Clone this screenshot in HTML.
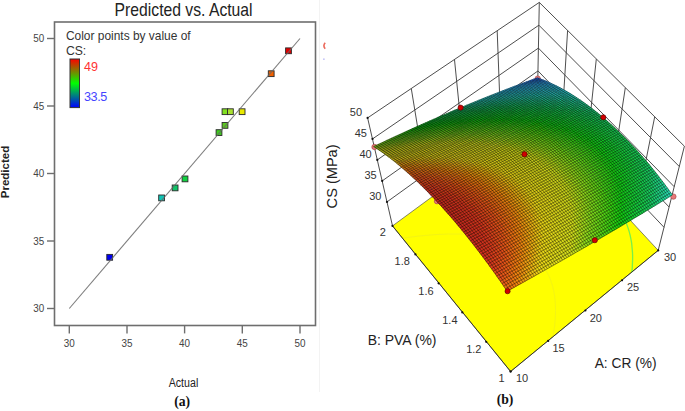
<!DOCTYPE html><html><head><meta charset="utf-8"><style>html,body{margin:0;padding:0;background:#fff;width:685px;height:411px;overflow:hidden;position:relative}</style></head><body><svg width="685" height="411" viewBox="0 0 685 411" style="position:absolute;left:0;top:0">
<line x1="319.5" y1="0" x2="319.5" y2="392" stroke="#f3f3f3" stroke-width="1"/>
<text x="114.6" y="16.4" font-family="Liberation Sans, sans-serif" font-size="18.6" fill="#222" textLength="138" lengthAdjust="spacingAndGlyphs">Predicted vs. Actual</text>
<rect x="54.5" y="22" width="261" height="303.5" fill="none" stroke="#6e6e6e" stroke-width="1.6"/>
<line x1="47" y1="308.5" x2="54.5" y2="308.5" stroke="#6e6e6e" stroke-width="1.4"/>
<text x="44.3" y="312.3" font-family="Liberation Sans, sans-serif" font-size="10.8" fill="#444" text-anchor="end" textLength="11" lengthAdjust="spacingAndGlyphs">30</text>
<line x1="47" y1="241.0" x2="54.5" y2="241.0" stroke="#6e6e6e" stroke-width="1.4"/>
<text x="44.3" y="244.8" font-family="Liberation Sans, sans-serif" font-size="10.8" fill="#444" text-anchor="end" textLength="11" lengthAdjust="spacingAndGlyphs">35</text>
<line x1="47" y1="173.5" x2="54.5" y2="173.5" stroke="#6e6e6e" stroke-width="1.4"/>
<text x="44.3" y="177.3" font-family="Liberation Sans, sans-serif" font-size="10.8" fill="#444" text-anchor="end" textLength="11" lengthAdjust="spacingAndGlyphs">40</text>
<line x1="47" y1="106.0" x2="54.5" y2="106.0" stroke="#6e6e6e" stroke-width="1.4"/>
<text x="44.3" y="109.8" font-family="Liberation Sans, sans-serif" font-size="10.8" fill="#444" text-anchor="end" textLength="11" lengthAdjust="spacingAndGlyphs">45</text>
<line x1="47" y1="38.5" x2="54.5" y2="38.5" stroke="#6e6e6e" stroke-width="1.4"/>
<text x="44.3" y="42.3" font-family="Liberation Sans, sans-serif" font-size="10.8" fill="#444" text-anchor="end" textLength="11" lengthAdjust="spacingAndGlyphs">50</text>
<line x1="69.3" y1="325.5" x2="69.3" y2="333.4" stroke="#6e6e6e" stroke-width="1.4"/>
<text x="69.3" y="346.6" font-family="Liberation Sans, sans-serif" font-size="11.4" fill="#444" text-anchor="middle" textLength="11" lengthAdjust="spacingAndGlyphs">30</text>
<line x1="127.0" y1="325.5" x2="127.0" y2="333.4" stroke="#6e6e6e" stroke-width="1.4"/>
<text x="127.0" y="346.6" font-family="Liberation Sans, sans-serif" font-size="11.4" fill="#444" text-anchor="middle" textLength="11" lengthAdjust="spacingAndGlyphs">35</text>
<line x1="184.6" y1="325.5" x2="184.6" y2="333.4" stroke="#6e6e6e" stroke-width="1.4"/>
<text x="184.6" y="346.6" font-family="Liberation Sans, sans-serif" font-size="11.4" fill="#444" text-anchor="middle" textLength="11" lengthAdjust="spacingAndGlyphs">40</text>
<line x1="242.3" y1="325.5" x2="242.3" y2="333.4" stroke="#6e6e6e" stroke-width="1.4"/>
<text x="242.3" y="346.6" font-family="Liberation Sans, sans-serif" font-size="11.4" fill="#444" text-anchor="middle" textLength="11" lengthAdjust="spacingAndGlyphs">45</text>
<line x1="300.0" y1="325.5" x2="300.0" y2="333.4" stroke="#6e6e6e" stroke-width="1.4"/>
<text x="300.0" y="346.6" font-family="Liberation Sans, sans-serif" font-size="11.4" fill="#444" text-anchor="middle" textLength="11" lengthAdjust="spacingAndGlyphs">50</text>
<rect x="106.8" y="254.4" width="5.8" height="5.8" fill="#0000f0" stroke="#2a2a2a" stroke-width="0.9"/>
<rect x="158.7" y="195.0" width="5.8" height="5.8" fill="#10c4b4" stroke="#2a2a2a" stroke-width="0.9"/>
<rect x="172.2" y="185.0" width="5.8" height="5.8" fill="#10c468" stroke="#2a2a2a" stroke-width="0.9"/>
<rect x="182.1" y="176.0" width="5.8" height="5.8" fill="#10d040" stroke="#2a2a2a" stroke-width="0.9"/>
<rect x="216.1" y="129.7" width="5.8" height="5.8" fill="#40c820" stroke="#2a2a2a" stroke-width="0.9"/>
<rect x="222.1" y="122.5" width="5.8" height="5.8" fill="#5cc820" stroke="#2a2a2a" stroke-width="0.9"/>
<rect x="222.1" y="108.8" width="5.8" height="5.8" fill="#80e020" stroke="#2a2a2a" stroke-width="0.9"/>
<rect x="227.5" y="108.8" width="5.8" height="5.8" fill="#a8e030" stroke="#2a2a2a" stroke-width="0.9"/>
<rect x="239.2" y="108.8" width="5.8" height="5.8" fill="#e8e800" stroke="#2a2a2a" stroke-width="0.9"/>
<rect x="268.3" y="70.8" width="5.8" height="5.8" fill="#f06000" stroke="#2a2a2a" stroke-width="0.9"/>
<rect x="285.6" y="47.9" width="5.8" height="5.8" fill="#e00000" stroke="#2a2a2a" stroke-width="0.9"/>
<line x1="69.3" y1="308.5" x2="300.0" y2="38.5" stroke="#666" stroke-width="1.1" stroke-opacity="0.85"/>
<text x="65.9" y="39.6" font-family="Liberation Sans, sans-serif" font-size="12.2" fill="#333" textLength="124.8" lengthAdjust="spacingAndGlyphs">Color points by value of</text>
<text x="65.9" y="54.8" font-family="Liberation Sans, sans-serif" font-size="12.2" fill="#333">CS:</text>
<defs><linearGradient id="lg" x1="0" y1="0" x2="0" y2="1"><stop offset="0" stop-color="#ff0000"/><stop offset="0.5" stop-color="#00ff00"/><stop offset="1" stop-color="#0000ff"/></linearGradient></defs>
<rect x="70" y="59" width="9.5" height="48.6" fill="url(#lg)" stroke="#333" stroke-width="1"/>
<text x="83.9" y="70.6" font-family="Liberation Sans, sans-serif" font-size="12.6" fill="#ff3333">49</text>
<text x="83.9" y="100.6" font-family="Liberation Sans, sans-serif" font-size="12.6" fill="#4444ff" textLength="23.4">33.5</text>
<text x="168.7" y="387.2" font-family="Liberation Sans, sans-serif" font-size="12.5" fill="#222" textLength="29.6" lengthAdjust="spacingAndGlyphs">Actual</text>
<text transform="translate(8.8,198.2) rotate(-90)" x="0" y="0" font-family="Liberation Sans, sans-serif" font-size="11.4" font-weight="bold" fill="#222" textLength="52.4" lengthAdjust="spacingAndGlyphs">Predicted</text>
<text x="182.2" y="405.6" font-family="Liberation Serif, serif" font-size="13.7" font-weight="bold" fill="#111" text-anchor="middle">(a)</text>
<path d="M325.2,42.8 Q322.6,45.6 325.2,48.8" fill="none" stroke="#e85040" stroke-width="1.6" opacity="0.85"/><rect x="323.2" y="58.4" width="1.4" height="1.6" fill="#9090f0" opacity="0.6"/>
<polygon points="510.6,371.5 658.2,250.4 537.0,119.7 392.5,225.9" fill="#ffff00" stroke="#333" stroke-width="0.6"/>
<polyline points="631.9,272.2 632.1,269.6 632.3,267.0 632.4,264.5 632.5,262.0 632.6,259.6 632.6,257.2 632.6,254.9 632.5,252.6 632.3,250.3 632.1,248.1 631.9,245.9 631.7,243.7 631.4,241.6 631.0,239.5 630.6,237.5 630.2,235.5 629.7,233.6 629.2,231.6 628.6,229.7 628.0,227.9 627.4,226.1 626.7,224.3 626.0,222.6 625.2,220.8 624.4,219.2 623.5,217.5 622.6,215.9 621.7,214.4 620.7,212.9 619.7,211.3 618.7,209.9 617.6,208.5 616.4,207.1 615.3,205.7 614.1,204.4 612.8,203.1 611.5,201.8 610.2,200.6 608.8,199.4 607.4,198.2 606.0,197.0 604.5,195.9 603.0,194.9 601.4,193.8 599.8,192.8 598.2,191.8 596.5,190.9 594.8,190.0 593.1,189.1 591.3,188.2 589.4,187.4 587.6,186.6 585.6,185.9 583.7,185.1 581.7,184.4 579.7,183.8 577.6,183.1 575.5,182.5 573.4,181.9 571.2,181.4 569.0,180.9 566.7,180.4 564.4,179.9 562.0,179.5 559.7,179.1 557.3,178.7 554.8,178.4 552.3,178.1 549.7,177.8 547.1,177.6 544.5,177.4 541.8,177.2 539.1,177.0 536.4,176.9 533.6,176.8 530.7,176.8 527.9,176.7 524.9,176.7 522.0,176.7 519.0,176.8 515.9,176.9 512.8,177.0 509.7,177.2 506.5,177.4 503.2,177.6 500.0,177.8 496.6,178.1 493.3,178.4 489.9,178.7 486.4,179.1 482.9,179.5 479.3,180.0 475.7,180.4 472.0,180.9 468.3,181.5 464.6,182.1 460.7,182.7 456.9,183.3 453.0,184.0 449.0,184.7" fill="none" stroke="#78f048" stroke-width="1.3"/>
<polyline points="552.8,337.1 553.3,334.3 553.8,331.4 554.2,328.7 554.6,325.9 554.8,323.3 555.1,320.6 555.3,318.0 555.4,315.5 555.5,313.0 555.5,310.5 555.5,308.1 555.4,305.8 555.3,303.4 555.2,301.2 554.9,298.9 554.7,296.7 554.4,294.6 554.0,292.5 553.6,290.4 553.1,288.4 552.6,286.4 552.1,284.5 551.4,282.6 550.8,280.7 550.1,278.9 549.4,277.1 548.6,275.4 547.7,273.7 546.9,272.0 545.9,270.4 545.0,268.8 543.9,267.2 542.9,265.7 541.8,264.3 540.6,262.8 539.4,261.4 538.2,260.0 536.9,258.7 535.6,257.4 534.2,256.2 532.8,254.9 531.3,253.7 529.8,252.6 528.3,251.5 526.7,250.4 525.0,249.3 523.4,248.3 521.6,247.4 519.9,246.4 518.0,245.5 516.2,244.6 514.3,243.8 512.3,243.0 510.3,242.2 508.3,241.5 506.2,240.8 504.1,240.1 501.9,239.5 499.7,238.9 497.5,238.3 495.2,237.8 492.8,237.3 490.4,236.9 488.0,236.4 485.5,236.0 482.9,235.7 480.4,235.3 477.7,235.1 475.1,234.8 472.3,234.6 469.6,234.4 466.8,234.2 463.9,234.1 461.0,234.0 458.0,234.0 455.0,234.0 452.0,234.0 448.9,234.0 445.7,234.1 442.5,234.3 439.2,234.4 435.9,234.6 432.5,234.8 429.1,235.1 425.7,235.4 422.1,235.8 418.6,236.1 414.9,236.5 411.2,237.0 407.5,237.5 403.7,238.0" fill="none" stroke="#f4f414" stroke-width="1.0"/>
<polyline points="387.0,201.9 537.5,93.7 664.0,227.3" stroke="#3a3a3a" stroke-width="0.9" fill="none"/>
<polyline points="382.2,180.9 538.0,70.9 669.1,207.0" stroke="#3a3a3a" stroke-width="0.9" fill="none"/>
<polyline points="377.3,159.9 538.4,48.1 674.2,186.7" stroke="#3a3a3a" stroke-width="0.9" fill="none"/>
<polyline points="372.5,138.9 538.9,25.2 679.3,166.5" stroke="#3a3a3a" stroke-width="0.9" fill="none"/>
<polyline points="367.6,117.9 539.3,2.4 684.4,146.2" stroke="#3a3a3a" stroke-width="0.9" fill="none"/>
<line x1="392.5" y1="225.9" x2="367.6" y2="117.9" stroke="#3a3a3a" stroke-width="0.9" fill="none"/>
<line x1="425.4" y1="174.5" x2="411.3" y2="88.7" stroke="#3a3a3a" stroke-width="0.9" fill="none"/>
<line x1="463.3" y1="147.4" x2="454.5" y2="59.7" stroke="#3a3a3a" stroke-width="0.9" fill="none"/>
<line x1="500.6" y1="120.4" x2="497.2" y2="31.0" stroke="#3a3a3a" stroke-width="0.9" fill="none"/>
<line x1="537.0" y1="119.7" x2="539.3" y2="2.4" stroke="#3a3a3a" stroke-width="0.9" fill="none"/>
<line x1="658.2" y1="250.4" x2="684.4" y2="146.2" stroke="#3a3a3a" stroke-width="0.9" fill="none"/>
<line x1="638.0" y1="200.0" x2="654.7" y2="116.9" stroke="#3a3a3a" stroke-width="0.9" fill="none"/>
<line x1="612.3" y1="173.0" x2="625.3" y2="87.8" stroke="#3a3a3a" stroke-width="0.9" fill="none"/>
<line x1="587.0" y1="146.3" x2="596.3" y2="59.1" stroke="#3a3a3a" stroke-width="0.9" fill="none"/>
<line x1="562.1" y1="119.9" x2="567.6" y2="30.6" stroke="#3a3a3a" stroke-width="0.9" fill="none"/>
<circle cx="374.5" cy="147.0" r="2.7" fill="#e87878" stroke="#a04040" stroke-width="0.6"/>
<circle cx="537.7" cy="78.6" r="2.7" fill="#e87878" stroke="#a04040" stroke-width="0.6"/>
<circle cx="673.4" cy="196.6" r="2.7" fill="#e87878" stroke="#a04040" stroke-width="0.6"/>
<circle cx="437.0" cy="201.2" r="2.7" fill="#e87878" stroke="#a04040" stroke-width="0.6"/>
<path d="M536.8,80.4L540.6,79.0 537.4,77.8 533.6,79.2Z" fill="#2d72f9" stroke="#2d72f9" stroke-width="0.5"/>
<path d="M540.0,81.6L543.8,80.2 540.6,79.0 536.8,80.4Z" fill="#2f84f6" stroke="#2f84f6" stroke-width="0.5"/>
<path d="M543.2,83.0L547.0,81.5 543.8,80.2 540.0,81.6Z" fill="#2f97f6" stroke="#2f97f6" stroke-width="0.5"/>
<path d="M546.5,84.4L550.3,83.0 547.0,81.5 543.2,83.0Z" fill="#32a8f4" stroke="#32a8f4" stroke-width="0.5"/>
<path d="M549.8,86.0L553.6,84.5 550.3,83.0 546.5,84.4Z" fill="#33b6f1" stroke="#33b6f1" stroke-width="0.5"/>
<path d="M553.1,87.6L556.9,86.1 553.6,84.5 549.8,86.0Z" fill="#30b9e5" stroke="#30b9e5" stroke-width="0.5"/>
<path d="M556.4,89.4L560.2,87.8 556.9,86.1 553.1,87.6Z" fill="#2dbcdb" stroke="#2dbcdb" stroke-width="0.5"/>
<path d="M559.7,91.2L563.5,89.7 560.2,87.8 556.4,89.4Z" fill="#2cbfd1" stroke="#2cbfd1" stroke-width="0.5"/>
<path d="M563.1,93.2L566.9,91.6 563.5,89.7 559.7,91.2Z" fill="#2ac1c8" stroke="#2ac1c8" stroke-width="0.5"/>
<path d="M566.5,95.2L570.3,93.6 566.9,91.6 563.1,93.2Z" fill="#28c4c0" stroke="#28c4c0" stroke-width="0.5"/>
<path d="M569.8,97.3L573.6,95.7 570.3,93.6 566.5,95.2Z" fill="#27c6b8" stroke="#27c6b8" stroke-width="0.5"/>
<path d="M573.2,99.5L577.0,97.9 573.6,95.7 569.8,97.3Z" fill="#24c3a8" stroke="#24c3a8" stroke-width="0.5"/>
<path d="M576.6,101.9L580.5,100.2 577.0,97.9 573.2,99.5Z" fill="#21c19a" stroke="#21c19a" stroke-width="0.5"/>
<path d="M580.1,104.3L583.9,102.6 580.5,100.2 576.6,101.9Z" fill="#1fbf8d" stroke="#1fbf8d" stroke-width="0.5"/>
<path d="M583.5,106.8L587.3,105.1 583.9,102.6 580.1,104.3Z" fill="#1dbd81" stroke="#1dbd81" stroke-width="0.5"/>
<path d="M586.9,109.4L590.7,107.6 587.3,105.1 583.5,106.8Z" fill="#1abb76" stroke="#1abb76" stroke-width="0.5"/>
<path d="M590.4,112.1L594.2,110.3 590.7,107.6 586.9,109.4Z" fill="#19b96c" stroke="#19b96c" stroke-width="0.5"/>
<path d="M593.8,114.8L597.6,113.0 594.2,110.3 590.4,112.1Z" fill="#17b963" stroke="#17b963" stroke-width="0.5"/>
<path d="M597.3,117.7L601.1,115.9 597.6,113.0 593.8,114.8Z" fill="#16b75b" stroke="#16b75b" stroke-width="0.5"/>
<path d="M600.7,120.7L604.5,118.8 601.1,115.9 597.3,117.7Z" fill="#15b755" stroke="#15b755" stroke-width="0.5"/>
<path d="M604.2,123.7L608.0,121.8 604.5,118.8 600.7,120.7Z" fill="#15b850" stroke="#15b850" stroke-width="0.5"/>
<path d="M607.7,126.8L611.5,124.9 608.0,121.8 604.2,123.7Z" fill="#15b94d" stroke="#15b94d" stroke-width="0.5"/>
<path d="M611.1,130.0L614.9,128.1 611.5,124.9 607.7,126.8Z" fill="#14ba4b" stroke="#14ba4b" stroke-width="0.5"/>
<path d="M614.6,133.3L618.4,131.4 614.9,128.1 611.1,130.0Z" fill="#14bb4a" stroke="#14bb4a" stroke-width="0.5"/>
<path d="M618.1,136.7L621.8,134.8 618.4,131.4 614.6,133.3Z" fill="#14bc49" stroke="#14bc49" stroke-width="0.5"/>
<path d="M621.5,140.2L625.3,138.2 621.8,134.8 618.1,136.7Z" fill="#14bd48" stroke="#14bd48" stroke-width="0.5"/>
<path d="M625.0,143.7L628.7,141.7 625.3,138.2 621.5,140.2Z" fill="#14be49" stroke="#14be49" stroke-width="0.5"/>
<path d="M628.4,147.4L632.2,145.4 628.7,141.7 625.0,143.7Z" fill="#14bf4b" stroke="#14bf4b" stroke-width="0.5"/>
<path d="M631.8,151.1L635.6,149.1 632.2,145.4 628.4,147.4Z" fill="#14c14c" stroke="#14c14c" stroke-width="0.5"/>
<path d="M635.2,154.9L639.0,152.8 635.6,149.1 631.8,151.1Z" fill="#15c24e" stroke="#15c24e" stroke-width="0.5"/>
<path d="M638.7,158.8L642.4,156.7 639.0,152.8 635.2,154.9Z" fill="#16c351" stroke="#16c351" stroke-width="0.5"/>
<path d="M642.1,162.7L645.8,160.6 642.4,156.7 638.7,158.8Z" fill="#16c556" stroke="#16c556" stroke-width="0.5"/>
<path d="M645.4,166.8L649.2,164.6 645.8,160.6 642.1,162.7Z" fill="#16c65b" stroke="#16c65b" stroke-width="0.5"/>
<path d="M648.8,170.9L652.5,168.7 649.2,164.6 645.4,166.8Z" fill="#18c963" stroke="#18c963" stroke-width="0.5"/>
<path d="M652.2,175.1L655.9,172.9 652.5,168.7 648.8,170.9Z" fill="#19cd6e" stroke="#19cd6e" stroke-width="0.5"/>
<path d="M655.5,179.4L659.2,177.2 655.9,172.9 652.2,175.1Z" fill="#1cd079" stroke="#1cd079" stroke-width="0.5"/>
<path d="M658.8,183.7L662.5,181.5 659.2,177.2 655.5,179.4Z" fill="#1ed485" stroke="#1ed485" stroke-width="0.5"/>
<path d="M662.1,188.1L665.8,185.9 662.5,181.5 658.8,183.7Z" fill="#21d793" stroke="#21d793" stroke-width="0.5"/>
<path d="M665.4,192.6L669.1,190.4 665.8,185.9 662.1,188.1Z" fill="#24dba2" stroke="#24dba2" stroke-width="0.5"/>
<path d="M668.7,197.2L672.4,194.9 669.1,190.4 665.4,192.6Z" fill="#27e1b3" stroke="#27e1b3" stroke-width="0.5"/>
<path d="M533.0,81.8L536.8,80.4 533.6,79.2 529.8,80.6Z" fill="#2e7df8" stroke="#2e7df8" stroke-width="0.5"/>
<path d="M536.2,83.0L540.0,81.6 536.8,80.4 533.0,81.8Z" fill="#3090f6" stroke="#3090f6" stroke-width="0.5"/>
<path d="M539.4,84.4L543.2,83.0 540.0,81.6 536.2,83.0Z" fill="#30a1f4" stroke="#30a1f4" stroke-width="0.5"/>
<path d="M542.7,85.9L546.5,84.4 543.2,83.0 539.4,84.4Z" fill="#33b2f3" stroke="#33b2f3" stroke-width="0.5"/>
<path d="M546.0,87.5L549.8,86.0 546.5,84.4 542.7,85.9Z" fill="#31b7e9" stroke="#31b7e9" stroke-width="0.5"/>
<path d="M549.3,89.1L553.1,87.6 549.8,86.0 546.0,87.5Z" fill="#2ebadd" stroke="#2ebadd" stroke-width="0.5"/>
<path d="M552.6,90.9L556.4,89.4 553.1,87.6 549.3,89.1Z" fill="#2cbdd3" stroke="#2cbdd3" stroke-width="0.5"/>
<path d="M555.9,92.8L559.7,91.2 556.4,89.4 552.6,90.9Z" fill="#2bbfca" stroke="#2bbfca" stroke-width="0.5"/>
<path d="M559.3,94.7L563.1,93.2 559.7,91.2 555.9,92.8Z" fill="#28c3c0" stroke="#28c3c0" stroke-width="0.5"/>
<path d="M562.6,96.8L566.5,95.2 563.1,93.2 559.3,94.7Z" fill="#27c5b8" stroke="#27c5b8" stroke-width="0.5"/>
<path d="M566.0,99.0L569.8,97.3 566.5,95.2 562.6,96.8Z" fill="#23c2a7" stroke="#23c2a7" stroke-width="0.5"/>
<path d="M569.4,101.2L573.2,99.5 569.8,97.3 566.0,99.0Z" fill="#21c099" stroke="#21c099" stroke-width="0.5"/>
<path d="M572.8,103.6L576.6,101.9 573.2,99.5 569.4,101.2Z" fill="#1fbc8b" stroke="#1fbc8b" stroke-width="0.5"/>
<path d="M576.2,106.0L580.1,104.3 576.6,101.9 572.8,103.6Z" fill="#1cbb7e" stroke="#1cbb7e" stroke-width="0.5"/>
<path d="M579.7,108.5L583.5,106.8 580.1,104.3 576.2,106.0Z" fill="#1ab972" stroke="#1ab972" stroke-width="0.5"/>
<path d="M583.1,111.1L586.9,109.4 583.5,106.8 579.7,108.5Z" fill="#18b767" stroke="#18b767" stroke-width="0.5"/>
<path d="M586.6,113.8L590.4,112.1 586.9,109.4 583.1,111.1Z" fill="#17b65d" stroke="#17b65d" stroke-width="0.5"/>
<path d="M590.0,116.6L593.8,114.8 590.4,112.1 586.6,113.8Z" fill="#14b554" stroke="#14b554" stroke-width="0.5"/>
<path d="M593.5,119.5L597.3,117.7 593.8,114.8 590.0,116.6Z" fill="#14b64e" stroke="#14b64e" stroke-width="0.5"/>
<path d="M596.9,122.5L600.7,120.7 597.3,117.7 593.5,119.5Z" fill="#13b64b" stroke="#13b64b" stroke-width="0.5"/>
<path d="M600.4,125.6L604.2,123.7 600.7,120.7 596.9,122.5Z" fill="#13b746" stroke="#13b746" stroke-width="0.5"/>
<path d="M603.9,128.7L607.7,126.8 604.2,123.7 600.4,125.6Z" fill="#13b844" stroke="#13b844" stroke-width="0.5"/>
<path d="M607.3,132.0L611.1,130.0 607.7,126.8 603.9,128.7Z" fill="#14bb42" stroke="#14bb42" stroke-width="0.5"/>
<path d="M610.8,135.3L614.6,133.3 611.1,130.0 607.3,132.0Z" fill="#14bc40" stroke="#14bc40" stroke-width="0.5"/>
<path d="M614.3,138.7L618.1,136.7 614.6,133.3 610.8,135.3Z" fill="#14bd3f" stroke="#14bd3f" stroke-width="0.5"/>
<path d="M617.7,142.2L621.5,140.2 618.1,136.7 614.3,138.7Z" fill="#14be3e" stroke="#14be3e" stroke-width="0.5"/>
<path d="M621.2,145.8L625.0,143.7 621.5,140.2 617.7,142.2Z" fill="#14bf3f" stroke="#14bf3f" stroke-width="0.5"/>
<path d="M624.6,149.4L628.4,147.4 625.0,143.7 621.2,145.8Z" fill="#14c040" stroke="#14c040" stroke-width="0.5"/>
<path d="M628.0,153.2L631.8,151.1 628.4,147.4 624.6,149.4Z" fill="#14c242" stroke="#14c242" stroke-width="0.5"/>
<path d="M631.5,157.0L635.2,154.9 631.8,151.1 628.0,153.2Z" fill="#14c345" stroke="#14c345" stroke-width="0.5"/>
<path d="M634.9,160.9L638.7,158.8 635.2,154.9 631.5,157.0Z" fill="#15c348" stroke="#15c348" stroke-width="0.5"/>
<path d="M638.3,164.9L642.1,162.7 638.7,158.8 634.9,160.9Z" fill="#15c44b" stroke="#15c44b" stroke-width="0.5"/>
<path d="M641.7,168.9L645.4,166.8 642.1,162.7 638.3,164.9Z" fill="#15c651" stroke="#15c651" stroke-width="0.5"/>
<path d="M645.1,173.1L648.8,170.9 645.4,166.8 641.7,168.9Z" fill="#16c756" stroke="#16c756" stroke-width="0.5"/>
<path d="M648.4,177.3L652.2,175.1 648.8,170.9 645.1,173.1Z" fill="#17c85d" stroke="#17c85d" stroke-width="0.5"/>
<path d="M651.8,181.6L655.5,179.4 652.2,175.1 648.4,177.3Z" fill="#19cd69" stroke="#19cd69" stroke-width="0.5"/>
<path d="M655.1,185.9L658.8,183.7 655.5,179.4 651.8,181.6Z" fill="#1bcf75" stroke="#1bcf75" stroke-width="0.5"/>
<path d="M658.4,190.4L662.1,188.1 658.8,183.7 655.1,185.9Z" fill="#1ed482" stroke="#1ed482" stroke-width="0.5"/>
<path d="M661.7,194.9L665.4,192.6 662.1,188.1 658.4,190.4Z" fill="#21d892" stroke="#21d892" stroke-width="0.5"/>
<path d="M665.0,199.5L668.7,197.2 665.4,192.6 661.7,194.9Z" fill="#24dda3" stroke="#24dda3" stroke-width="0.5"/>
<path d="M529.2,83.2L533.0,81.8 529.8,80.6 526.0,82.0Z" fill="#2f88f6" stroke="#2f88f6" stroke-width="0.5"/>
<path d="M532.4,84.5L536.2,83.0 533.0,81.8 529.2,83.2Z" fill="#319af5" stroke="#319af5" stroke-width="0.5"/>
<path d="M535.6,85.9L539.4,84.4 536.2,83.0 532.4,84.5Z" fill="#31acf3" stroke="#31acf3" stroke-width="0.5"/>
<path d="M538.8,87.4L542.7,85.9 539.4,84.4 535.6,85.9Z" fill="#31b6ed" stroke="#31b6ed" stroke-width="0.5"/>
<path d="M542.1,89.0L546.0,87.5 542.7,85.9 538.8,87.4Z" fill="#2eb9e1" stroke="#2eb9e1" stroke-width="0.5"/>
<path d="M545.4,90.7L549.3,89.1 546.0,87.5 542.1,89.0Z" fill="#2dbcd6" stroke="#2dbcd6" stroke-width="0.5"/>
<path d="M548.7,92.5L552.6,90.9 549.3,89.1 545.4,90.7Z" fill="#2bbfcb" stroke="#2bbfcb" stroke-width="0.5"/>
<path d="M552.1,94.4L555.9,92.8 552.6,90.9 548.7,92.5Z" fill="#29c1c2" stroke="#29c1c2" stroke-width="0.5"/>
<path d="M555.4,96.4L559.3,94.7 555.9,92.8 552.1,94.4Z" fill="#27c5ba" stroke="#27c5ba" stroke-width="0.5"/>
<path d="M558.8,98.4L562.6,96.8 559.3,94.7 555.4,96.4Z" fill="#25c1a9" stroke="#25c1a9" stroke-width="0.5"/>
<path d="M562.2,100.6L566.0,99.0 562.6,96.8 558.8,98.4Z" fill="#21bf99" stroke="#21bf99" stroke-width="0.5"/>
<path d="M565.6,102.9L569.4,101.2 566.0,99.0 562.2,100.6Z" fill="#1fbc8a" stroke="#1fbc8a" stroke-width="0.5"/>
<path d="M569.0,105.3L572.8,103.6 569.4,101.2 565.6,102.9Z" fill="#1cba7c" stroke="#1cba7c" stroke-width="0.5"/>
<path d="M572.4,107.7L576.2,106.0 572.8,103.6 569.0,105.3Z" fill="#1ab86f" stroke="#1ab86f" stroke-width="0.5"/>
<path d="M575.8,110.3L579.7,108.5 576.2,106.0 572.4,107.7Z" fill="#18b664" stroke="#18b664" stroke-width="0.5"/>
<path d="M579.3,112.9L583.1,111.1 579.7,108.5 575.8,110.3Z" fill="#15b458" stroke="#15b458" stroke-width="0.5"/>
<path d="M582.7,115.6L586.6,113.8 583.1,111.1 579.3,112.9Z" fill="#14b450" stroke="#14b450" stroke-width="0.5"/>
<path d="M586.2,118.5L590.0,116.6 586.6,113.8 582.7,115.6Z" fill="#13b44a" stroke="#13b44a" stroke-width="0.5"/>
<path d="M589.6,121.4L593.5,119.5 590.0,116.6 586.2,118.5Z" fill="#13b545" stroke="#13b545" stroke-width="0.5"/>
<path d="M593.1,124.4L596.9,122.5 593.5,119.5 589.6,121.4Z" fill="#13b741" stroke="#13b741" stroke-width="0.5"/>
<path d="M596.6,127.5L600.4,125.6 596.9,122.5 593.1,124.4Z" fill="#13b83d" stroke="#13b83d" stroke-width="0.5"/>
<path d="M600.0,130.6L603.9,128.7 600.4,125.6 596.6,127.5Z" fill="#12b93a" stroke="#12b93a" stroke-width="0.5"/>
<path d="M603.5,133.9L607.3,132.0 603.9,128.7 600.0,130.6Z" fill="#12ba38" stroke="#12ba38" stroke-width="0.5"/>
<path d="M607.0,137.2L610.8,135.3 607.3,132.0 603.5,133.9Z" fill="#12bb36" stroke="#12bb36" stroke-width="0.5"/>
<path d="M610.4,140.7L614.3,138.7 610.8,135.3 607.0,137.2Z" fill="#13bc35" stroke="#13bc35" stroke-width="0.5"/>
<path d="M613.9,144.2L617.7,142.2 614.3,138.7 610.4,140.7Z" fill="#13be35" stroke="#13be35" stroke-width="0.5"/>
<path d="M617.3,147.8L621.2,145.8 617.7,142.2 613.9,144.2Z" fill="#13bf35" stroke="#13bf35" stroke-width="0.5"/>
<path d="M620.8,151.5L624.6,149.4 621.2,145.8 617.3,147.8Z" fill="#13c036" stroke="#13c036" stroke-width="0.5"/>
<path d="M624.2,155.2L628.0,153.2 624.6,149.4 620.8,151.5Z" fill="#13c139" stroke="#13c139" stroke-width="0.5"/>
<path d="M627.7,159.1L631.5,157.0 628.0,153.2 624.2,155.2Z" fill="#13c33a" stroke="#13c33a" stroke-width="0.5"/>
<path d="M631.1,163.0L634.9,160.9 631.5,157.0 627.7,159.1Z" fill="#13c43d" stroke="#13c43d" stroke-width="0.5"/>
<path d="M634.5,167.0L638.3,164.9 634.9,160.9 631.1,163.0Z" fill="#15c542" stroke="#15c542" stroke-width="0.5"/>
<path d="M637.9,171.1L641.7,168.9 638.3,164.9 634.5,167.0Z" fill="#15c746" stroke="#15c746" stroke-width="0.5"/>
<path d="M641.3,175.2L645.1,173.1 641.7,168.9 637.9,171.1Z" fill="#15c74c" stroke="#15c74c" stroke-width="0.5"/>
<path d="M644.7,179.5L648.4,177.3 645.1,173.1 641.3,175.2Z" fill="#17c852" stroke="#17c852" stroke-width="0.5"/>
<path d="M648.0,183.8L651.8,181.6 648.4,177.3 644.7,179.5Z" fill="#17ca5a" stroke="#17ca5a" stroke-width="0.5"/>
<path d="M651.4,188.2L655.1,185.9 651.8,181.6 648.0,183.8Z" fill="#18cc64" stroke="#18cc64" stroke-width="0.5"/>
<path d="M654.7,192.6L658.4,190.4 655.1,185.9 651.4,188.2Z" fill="#1bd172" stroke="#1bd172" stroke-width="0.5"/>
<path d="M658.0,197.2L661.7,194.9 658.4,190.4 654.7,192.6Z" fill="#1ed581" stroke="#1ed581" stroke-width="0.5"/>
<path d="M661.2,201.8L665.0,199.5 661.7,194.9 658.0,197.2Z" fill="#21d992" stroke="#21d992" stroke-width="0.5"/>
<path d="M525.3,84.6L529.2,83.2 526.0,82.0 522.1,83.4Z" fill="#3092f6" stroke="#3092f6" stroke-width="0.5"/>
<path d="M528.5,86.0L532.4,84.5 529.2,83.2 525.3,84.6Z" fill="#32a4f4" stroke="#32a4f4" stroke-width="0.5"/>
<path d="M531.7,87.4L535.6,85.9 532.4,84.5 528.5,86.0Z" fill="#32b5f1" stroke="#32b5f1" stroke-width="0.5"/>
<path d="M535.0,88.9L538.8,87.4 535.6,85.9 531.7,87.4Z" fill="#30b8e4" stroke="#30b8e4" stroke-width="0.5"/>
<path d="M538.3,90.5L542.1,89.0 538.8,87.4 535.0,88.9Z" fill="#2dbbd9" stroke="#2dbbd9" stroke-width="0.5"/>
<path d="M541.6,92.2L545.4,90.7 542.1,89.0 538.3,90.5Z" fill="#2cbece" stroke="#2cbece" stroke-width="0.5"/>
<path d="M544.9,94.1L548.7,92.5 545.4,90.7 541.6,92.2Z" fill="#29c1c4" stroke="#29c1c4" stroke-width="0.5"/>
<path d="M548.2,96.0L552.1,94.4 548.7,92.5 544.9,94.1Z" fill="#27c3ba" stroke="#27c3ba" stroke-width="0.5"/>
<path d="M551.6,98.0L555.4,96.4 552.1,94.4 548.2,96.0Z" fill="#24c2ab" stroke="#24c2ab" stroke-width="0.5"/>
<path d="M554.9,100.1L558.8,98.4 555.4,96.4 551.6,98.0Z" fill="#21be9a" stroke="#21be9a" stroke-width="0.5"/>
<path d="M558.3,102.3L562.2,100.6 558.8,98.4 554.9,100.1Z" fill="#1ebb8a" stroke="#1ebb8a" stroke-width="0.5"/>
<path d="M561.7,104.6L565.6,102.9 562.2,100.6 558.3,102.3Z" fill="#1cb97a" stroke="#1cb97a" stroke-width="0.5"/>
<path d="M565.1,107.0L569.0,105.3 565.6,102.9 561.7,104.6Z" fill="#19b76e" stroke="#19b76e" stroke-width="0.5"/>
<path d="M568.5,109.5L572.4,107.7 569.0,105.3 565.1,107.0Z" fill="#16b461" stroke="#16b461" stroke-width="0.5"/>
<path d="M572.0,112.0L575.8,110.3 572.4,107.7 568.5,109.5Z" fill="#14b254" stroke="#14b254" stroke-width="0.5"/>
<path d="M575.4,114.7L579.3,112.9 575.8,110.3 572.0,112.0Z" fill="#14b24d" stroke="#14b24d" stroke-width="0.5"/>
<path d="M578.9,117.5L582.7,115.6 579.3,112.9 575.4,114.7Z" fill="#13b346" stroke="#13b346" stroke-width="0.5"/>
<path d="M582.3,120.3L586.2,118.5 582.7,115.6 578.9,117.5Z" fill="#13b541" stroke="#13b541" stroke-width="0.5"/>
<path d="M585.8,123.2L589.6,121.4 586.2,118.5 582.3,120.3Z" fill="#13b63c" stroke="#13b63c" stroke-width="0.5"/>
<path d="M589.2,126.3L593.1,124.4 589.6,121.4 585.8,123.2Z" fill="#12b738" stroke="#12b738" stroke-width="0.5"/>
<path d="M592.7,129.4L596.6,127.5 593.1,124.4 589.2,126.3Z" fill="#12b833" stroke="#12b833" stroke-width="0.5"/>
<path d="M596.2,132.6L600.0,130.6 596.6,127.5 592.7,129.4Z" fill="#12b931" stroke="#12b931" stroke-width="0.5"/>
<path d="M599.6,135.8L603.5,133.9 600.0,130.6 596.2,132.6Z" fill="#12ba2f" stroke="#12ba2f" stroke-width="0.5"/>
<path d="M603.1,139.2L607.0,137.2 603.5,133.9 599.6,135.8Z" fill="#12bb2d" stroke="#12bb2d" stroke-width="0.5"/>
<path d="M606.6,142.7L610.4,140.7 607.0,137.2 603.1,139.2Z" fill="#12bc2c" stroke="#12bc2c" stroke-width="0.5"/>
<path d="M610.1,146.2L613.9,144.2 610.4,140.7 606.6,142.7Z" fill="#13bd2b" stroke="#13bd2b" stroke-width="0.5"/>
<path d="M613.5,149.8L617.3,147.8 613.9,144.2 610.1,146.2Z" fill="#13be2b" stroke="#13be2b" stroke-width="0.5"/>
<path d="M617.0,153.5L620.8,151.5 617.3,147.8 613.5,149.8Z" fill="#13c02d" stroke="#13c02d" stroke-width="0.5"/>
<path d="M620.4,157.3L624.2,155.2 620.8,151.5 617.0,153.5Z" fill="#13c12e" stroke="#13c12e" stroke-width="0.5"/>
<path d="M623.9,161.2L627.7,159.1 624.2,155.2 620.4,157.3Z" fill="#13c231" stroke="#13c231" stroke-width="0.5"/>
<path d="M627.3,165.1L631.1,163.0 627.7,159.1 623.9,161.2Z" fill="#13c434" stroke="#13c434" stroke-width="0.5"/>
<path d="M630.7,169.1L634.5,167.0 631.1,163.0 627.3,165.1Z" fill="#13c537" stroke="#13c537" stroke-width="0.5"/>
<path d="M634.1,173.2L637.9,171.1 634.5,167.0 630.7,169.1Z" fill="#14c63d" stroke="#14c63d" stroke-width="0.5"/>
<path d="M637.5,177.4L641.3,175.2 637.9,171.1 634.1,173.2Z" fill="#15c841" stroke="#15c841" stroke-width="0.5"/>
<path d="M640.9,181.7L644.7,179.5 641.3,175.2 637.5,177.4Z" fill="#15c949" stroke="#15c949" stroke-width="0.5"/>
<path d="M644.2,186.0L648.0,183.8 644.7,179.5 640.9,181.7Z" fill="#15c950" stroke="#15c950" stroke-width="0.5"/>
<path d="M647.6,190.4L651.4,188.2 648.0,183.8 644.2,186.0Z" fill="#17cb57" stroke="#17cb57" stroke-width="0.5"/>
<path d="M650.9,194.9L654.7,192.6 651.4,188.2 647.6,190.4Z" fill="#18ce62" stroke="#18ce62" stroke-width="0.5"/>
<path d="M654.2,199.5L658.0,197.2 654.7,192.6 650.9,194.9Z" fill="#1ad270" stroke="#1ad270" stroke-width="0.5"/>
<path d="M657.5,204.1L661.2,201.8 658.0,197.2 654.2,199.5Z" fill="#1dd681" stroke="#1dd681" stroke-width="0.5"/>
<path d="M521.5,86.1L525.3,84.6 522.1,83.4 518.3,84.9Z" fill="#319ef5" stroke="#319ef5" stroke-width="0.5"/>
<path d="M524.7,87.4L528.5,86.0 525.3,84.6 521.5,86.1Z" fill="#31b0f3" stroke="#31b0f3" stroke-width="0.5"/>
<path d="M527.9,88.9L531.7,87.4 528.5,86.0 524.7,87.4Z" fill="#31b7ea" stroke="#31b7ea" stroke-width="0.5"/>
<path d="M531.1,90.4L535.0,88.9 531.7,87.4 527.9,88.9Z" fill="#2eb9dc" stroke="#2eb9dc" stroke-width="0.5"/>
<path d="M534.4,92.1L538.3,90.5 535.0,88.9 531.1,90.4Z" fill="#2cbcd0" stroke="#2cbcd0" stroke-width="0.5"/>
<path d="M537.7,93.8L541.6,92.2 538.3,90.5 534.4,92.1Z" fill="#29bfc6" stroke="#29bfc6" stroke-width="0.5"/>
<path d="M541.0,95.7L544.9,94.1 541.6,92.2 537.7,93.8Z" fill="#28c2bc" stroke="#28c2bc" stroke-width="0.5"/>
<path d="M544.3,97.6L548.2,96.0 544.9,94.1 541.0,95.7Z" fill="#25c1ae" stroke="#25c1ae" stroke-width="0.5"/>
<path d="M547.7,99.6L551.6,98.0 548.2,96.0 544.3,97.6Z" fill="#22bd9c" stroke="#22bd9c" stroke-width="0.5"/>
<path d="M551.0,101.8L554.9,100.1 551.6,98.0 547.7,99.6Z" fill="#1ebb8c" stroke="#1ebb8c" stroke-width="0.5"/>
<path d="M554.4,104.0L558.3,102.3 554.9,100.1 551.0,101.8Z" fill="#1cb87b" stroke="#1cb87b" stroke-width="0.5"/>
<path d="M557.8,106.3L561.7,104.6 558.3,102.3 554.4,104.0Z" fill="#19b66c" stroke="#19b66c" stroke-width="0.5"/>
<path d="M561.2,108.7L565.1,107.0 561.7,104.6 557.8,106.3Z" fill="#16b35f" stroke="#16b35f" stroke-width="0.5"/>
<path d="M564.6,111.2L568.5,109.5 565.1,107.0 561.2,108.7Z" fill="#14b152" stroke="#14b152" stroke-width="0.5"/>
<path d="M568.1,113.8L572.0,112.0 568.5,109.5 564.6,111.2Z" fill="#14b14a" stroke="#14b14a" stroke-width="0.5"/>
<path d="M571.5,116.5L575.4,114.7 572.0,112.0 568.1,113.8Z" fill="#13b243" stroke="#13b243" stroke-width="0.5"/>
<path d="M575.0,119.3L578.9,117.5 575.4,114.7 571.5,116.5Z" fill="#13b43d" stroke="#13b43d" stroke-width="0.5"/>
<path d="M578.4,122.1L582.3,120.3 578.9,117.5 575.0,119.3Z" fill="#12b537" stroke="#12b537" stroke-width="0.5"/>
<path d="M581.9,125.1L585.8,123.2 582.3,120.3 578.4,122.1Z" fill="#12b633" stroke="#12b633" stroke-width="0.5"/>
<path d="M585.4,128.1L589.2,126.3 585.8,123.2 581.9,125.1Z" fill="#12b62e" stroke="#12b62e" stroke-width="0.5"/>
<path d="M588.8,131.3L592.7,129.4 589.2,126.3 585.4,128.1Z" fill="#12b72b" stroke="#12b72b" stroke-width="0.5"/>
<path d="M592.3,134.5L596.2,132.6 592.7,129.4 588.8,131.3Z" fill="#11b827" stroke="#11b827" stroke-width="0.5"/>
<path d="M595.8,137.8L599.6,135.8 596.2,132.6 592.3,134.5Z" fill="#11ba25" stroke="#11ba25" stroke-width="0.5"/>
<path d="M599.3,141.2L603.1,139.2 599.6,135.8 595.8,137.8Z" fill="#11bb23" stroke="#11bb23" stroke-width="0.5"/>
<path d="M602.7,144.7L606.6,142.7 603.1,139.2 599.3,141.2Z" fill="#11bc22" stroke="#11bc22" stroke-width="0.5"/>
<path d="M606.2,148.2L610.1,146.2 606.6,142.7 602.7,144.7Z" fill="#11bd22" stroke="#11bd22" stroke-width="0.5"/>
<path d="M609.7,151.9L613.5,149.8 610.1,146.2 606.2,148.2Z" fill="#11be22" stroke="#11be22" stroke-width="0.5"/>
<path d="M613.1,155.6L617.0,153.5 613.5,149.8 609.7,151.9Z" fill="#12bf22" stroke="#12bf22" stroke-width="0.5"/>
<path d="M616.6,159.4L620.4,157.3 617.0,153.5 613.1,155.6Z" fill="#12c125" stroke="#12c125" stroke-width="0.5"/>
<path d="M620.0,163.3L623.9,161.2 620.4,157.3 616.6,159.4Z" fill="#12c227" stroke="#12c227" stroke-width="0.5"/>
<path d="M623.4,167.2L627.3,165.1 623.9,161.2 620.0,163.3Z" fill="#12c32a" stroke="#12c32a" stroke-width="0.5"/>
<path d="M626.9,171.3L630.7,169.1 627.3,165.1 623.4,167.2Z" fill="#13c52e" stroke="#13c52e" stroke-width="0.5"/>
<path d="M630.3,175.4L634.1,173.2 630.7,169.1 626.9,171.3Z" fill="#13c632" stroke="#13c632" stroke-width="0.5"/>
<path d="M633.7,179.6L637.5,177.4 634.1,173.2 630.3,175.4Z" fill="#14c738" stroke="#14c738" stroke-width="0.5"/>
<path d="M637.1,183.9L640.9,181.7 637.5,177.4 633.7,179.6Z" fill="#14c93e" stroke="#14c93e" stroke-width="0.5"/>
<path d="M640.4,188.2L644.2,186.0 640.9,181.7 637.1,183.9Z" fill="#15ca45" stroke="#15ca45" stroke-width="0.5"/>
<path d="M643.8,192.7L647.6,190.4 644.2,186.0 640.4,188.2Z" fill="#15ca4e" stroke="#15ca4e" stroke-width="0.5"/>
<path d="M647.1,197.2L650.9,194.9 647.6,190.4 643.8,192.7Z" fill="#17cc57" stroke="#17cc57" stroke-width="0.5"/>
<path d="M650.4,201.8L654.2,199.5 650.9,194.9 647.1,197.2Z" fill="#17cd61" stroke="#17cd61" stroke-width="0.5"/>
<path d="M653.7,206.4L657.5,204.1 654.2,199.5 650.4,201.8Z" fill="#1ad271" stroke="#1ad271" stroke-width="0.5"/>
<path d="M517.6,87.6L521.5,86.1 518.3,84.9 514.4,86.3Z" fill="#32a8f3" stroke="#32a8f3" stroke-width="0.5"/>
<path d="M520.8,88.9L524.7,87.4 521.5,86.1 517.6,87.6Z" fill="#32b6ef" stroke="#32b6ef" stroke-width="0.5"/>
<path d="M524.0,90.4L527.9,88.9 524.7,87.4 520.8,88.9Z" fill="#30b8e1" stroke="#30b8e1" stroke-width="0.5"/>
<path d="M527.2,92.0L531.1,90.4 527.9,88.9 524.0,90.4Z" fill="#2dbbd5" stroke="#2dbbd5" stroke-width="0.5"/>
<path d="M530.5,93.6L534.4,92.1 531.1,90.4 527.2,92.0Z" fill="#2abeca" stroke="#2abeca" stroke-width="0.5"/>
<path d="M533.8,95.4L537.7,93.8 534.4,92.1 530.5,93.6Z" fill="#28c1be" stroke="#28c1be" stroke-width="0.5"/>
<path d="M537.1,97.3L541.0,95.7 537.7,93.8 533.8,95.4Z" fill="#25c2b2" stroke="#25c2b2" stroke-width="0.5"/>
<path d="M540.4,99.2L544.3,97.6 541.0,95.7 537.1,97.3Z" fill="#22be9f" stroke="#22be9f" stroke-width="0.5"/>
<path d="M543.8,101.3L547.7,99.6 544.3,97.6 540.4,99.2Z" fill="#1fba8d" stroke="#1fba8d" stroke-width="0.5"/>
<path d="M547.1,103.4L551.0,101.8 547.7,99.6 543.8,101.3Z" fill="#1cb77d" stroke="#1cb77d" stroke-width="0.5"/>
<path d="M550.5,105.7L554.4,104.0 551.0,101.8 547.1,103.4Z" fill="#18b56d" stroke="#18b56d" stroke-width="0.5"/>
<path d="M553.9,108.0L557.8,106.3 554.4,104.0 550.5,105.7Z" fill="#16b25d" stroke="#16b25d" stroke-width="0.5"/>
<path d="M557.3,110.5L561.2,108.7 557.8,106.3 553.9,108.0Z" fill="#14b050" stroke="#14b050" stroke-width="0.5"/>
<path d="M560.7,113.0L564.6,111.2 561.2,108.7 557.3,110.5Z" fill="#13b048" stroke="#13b048" stroke-width="0.5"/>
<path d="M564.2,115.6L568.1,113.8 564.6,111.2 560.7,113.0Z" fill="#13b140" stroke="#13b140" stroke-width="0.5"/>
<path d="M567.6,118.3L571.5,116.5 568.1,113.8 564.2,115.6Z" fill="#13b33a" stroke="#13b33a" stroke-width="0.5"/>
<path d="M571.1,121.1L575.0,119.3 571.5,116.5 567.6,118.3Z" fill="#12b333" stroke="#12b333" stroke-width="0.5"/>
<path d="M574.5,124.0L578.4,122.1 575.0,119.3 571.1,121.1Z" fill="#12b42e" stroke="#12b42e" stroke-width="0.5"/>
<path d="M578.0,127.0L581.9,125.1 578.4,122.1 574.5,124.0Z" fill="#12b529" stroke="#12b529" stroke-width="0.5"/>
<path d="M581.5,130.0L585.4,128.1 581.9,125.1 578.0,127.0Z" fill="#11b625" stroke="#11b625" stroke-width="0.5"/>
<path d="M584.9,133.2L588.8,131.3 585.4,128.1 581.5,130.0Z" fill="#11b721" stroke="#11b721" stroke-width="0.5"/>
<path d="M588.4,136.4L592.3,134.5 588.8,131.3 584.9,133.2Z" fill="#11b91e" stroke="#11b91e" stroke-width="0.5"/>
<path d="M591.9,139.8L595.8,137.8 592.3,134.5 588.4,136.4Z" fill="#11ba1c" stroke="#11ba1c" stroke-width="0.5"/>
<path d="M595.4,143.2L599.3,141.2 595.8,137.8 591.9,139.8Z" fill="#11bc1a" stroke="#11bc1a" stroke-width="0.5"/>
<path d="M598.8,146.7L602.7,144.7 599.3,141.2 595.4,143.2Z" fill="#11bd19" stroke="#11bd19" stroke-width="0.5"/>
<path d="M602.3,150.3L606.2,148.2 602.7,144.7 598.8,146.7Z" fill="#10be18" stroke="#10be18" stroke-width="0.5"/>
<path d="M605.8,153.9L609.7,151.9 606.2,148.2 602.3,150.3Z" fill="#10bf19" stroke="#10bf19" stroke-width="0.5"/>
<path d="M609.2,157.7L613.1,155.6 609.7,151.9 605.8,153.9Z" fill="#11c019" stroke="#11c019" stroke-width="0.5"/>
<path d="M612.7,161.5L616.6,159.4 613.1,155.6 609.2,157.7Z" fill="#12c21b" stroke="#12c21b" stroke-width="0.5"/>
<path d="M616.1,165.4L620.0,163.3 616.6,159.4 612.7,161.5Z" fill="#12c31d" stroke="#12c31d" stroke-width="0.5"/>
<path d="M619.6,169.4L623.4,167.2 620.0,163.3 616.1,165.4Z" fill="#12c420" stroke="#12c420" stroke-width="0.5"/>
<path d="M623.0,173.4L626.9,171.3 623.4,167.2 619.6,169.4Z" fill="#12c424" stroke="#12c424" stroke-width="0.5"/>
<path d="M626.4,177.6L630.3,175.4 626.9,171.3 623.0,173.4Z" fill="#12c629" stroke="#12c629" stroke-width="0.5"/>
<path d="M629.8,181.8L633.7,179.6 630.3,175.4 626.4,177.6Z" fill="#14c72e" stroke="#14c72e" stroke-width="0.5"/>
<path d="M633.2,186.1L637.1,183.9 633.7,179.6 629.8,181.8Z" fill="#14c934" stroke="#14c934" stroke-width="0.5"/>
<path d="M636.6,190.5L640.4,188.2 637.1,183.9 633.2,186.1Z" fill="#14ca3b" stroke="#14ca3b" stroke-width="0.5"/>
<path d="M640.0,194.9L643.8,192.7 640.4,188.2 636.6,190.5Z" fill="#15cb43" stroke="#15cb43" stroke-width="0.5"/>
<path d="M643.3,199.5L647.1,197.2 643.8,192.7 640.0,194.9Z" fill="#16cc4b" stroke="#16cc4b" stroke-width="0.5"/>
<path d="M646.6,204.0L650.4,201.8 647.1,197.2 643.3,199.5Z" fill="#17cd56" stroke="#17cd56" stroke-width="0.5"/>
<path d="M649.9,208.7L653.7,206.4 650.4,201.8 646.6,204.0Z" fill="#17cf60" stroke="#17cf60" stroke-width="0.5"/>
<path d="M513.7,89.1L517.6,87.6 514.4,86.3 510.5,87.8Z" fill="#32b2f2" stroke="#32b2f2" stroke-width="0.5"/>
<path d="M516.9,90.5L520.8,88.9 517.6,87.6 513.7,89.1Z" fill="#30b8e7" stroke="#30b8e7" stroke-width="0.5"/>
<path d="M520.1,92.0L524.0,90.4 520.8,88.9 516.9,90.5Z" fill="#2dbad9" stroke="#2dbad9" stroke-width="0.5"/>
<path d="M523.3,93.5L527.2,92.0 524.0,90.4 520.1,92.0Z" fill="#2bbdcd" stroke="#2bbdcd" stroke-width="0.5"/>
<path d="M526.6,95.2L530.5,93.6 527.2,92.0 523.3,93.5Z" fill="#29bfc2" stroke="#29bfc2" stroke-width="0.5"/>
<path d="M529.9,97.0L533.8,95.4 530.5,93.6 526.6,95.2Z" fill="#26c2b7" stroke="#26c2b7" stroke-width="0.5"/>
<path d="M533.2,98.9L537.1,97.3 533.8,95.4 529.9,97.0Z" fill="#23bfa3" stroke="#23bfa3" stroke-width="0.5"/>
<path d="M536.5,100.9L540.4,99.2 537.1,97.3 533.2,98.9Z" fill="#1fbb90" stroke="#1fbb90" stroke-width="0.5"/>
<path d="M539.9,103.0L543.8,101.3 540.4,99.2 536.5,100.9Z" fill="#1cb77f" stroke="#1cb77f" stroke-width="0.5"/>
<path d="M543.2,105.1L547.1,103.4 543.8,101.3 539.9,103.0Z" fill="#19b46e" stroke="#19b46e" stroke-width="0.5"/>
<path d="M546.6,107.4L550.5,105.7 547.1,103.4 543.2,105.1Z" fill="#16b15e" stroke="#16b15e" stroke-width="0.5"/>
<path d="M550.0,109.8L553.9,108.0 550.5,105.7 546.6,107.4Z" fill="#14af50" stroke="#14af50" stroke-width="0.5"/>
<path d="M553.4,112.2L557.3,110.5 553.9,108.0 550.0,109.8Z" fill="#12af47" stroke="#12af47" stroke-width="0.5"/>
<path d="M556.8,114.8L560.7,113.0 557.3,110.5 553.4,112.2Z" fill="#13b13f" stroke="#13b13f" stroke-width="0.5"/>
<path d="M560.3,117.4L564.2,115.6 560.7,113.0 556.8,114.8Z" fill="#11b238" stroke="#11b238" stroke-width="0.5"/>
<path d="M563.7,120.1L567.6,118.3 564.2,115.6 560.3,117.4Z" fill="#12b231" stroke="#12b231" stroke-width="0.5"/>
<path d="M567.2,123.0L571.1,121.1 567.6,118.3 563.7,120.1Z" fill="#12b32b" stroke="#12b32b" stroke-width="0.5"/>
<path d="M570.6,125.9L574.5,124.0 571.1,121.1 567.2,123.0Z" fill="#10b425" stroke="#10b425" stroke-width="0.5"/>
<path d="M574.1,128.9L578.0,127.0 574.5,124.0 570.6,125.9Z" fill="#11b520" stroke="#11b520" stroke-width="0.5"/>
<path d="M577.5,132.0L581.5,130.0 578.0,127.0 574.1,128.9Z" fill="#11b71c" stroke="#11b71c" stroke-width="0.5"/>
<path d="M581.0,135.1L584.9,133.2 581.5,130.0 577.5,132.0Z" fill="#11b818" stroke="#11b818" stroke-width="0.5"/>
<path d="M584.5,138.4L588.4,136.4 584.9,133.2 581.0,135.1Z" fill="#10b915" stroke="#10b915" stroke-width="0.5"/>
<path d="M588.0,141.7L591.9,139.8 588.4,136.4 584.5,138.4Z" fill="#10ba12" stroke="#10ba12" stroke-width="0.5"/>
<path d="M591.5,145.2L595.4,143.2 591.9,139.8 588.0,141.7Z" fill="#10bb11" stroke="#10bb11" stroke-width="0.5"/>
<path d="M594.9,148.7L598.8,146.7 595.4,143.2 591.5,145.2Z" fill="#11bc10" stroke="#11bc10" stroke-width="0.5"/>
<path d="M598.4,152.3L602.3,150.3 598.8,146.7 594.9,148.7Z" fill="#11be10" stroke="#11be10" stroke-width="0.5"/>
<path d="M601.9,156.0L605.8,153.9 602.3,150.3 598.4,152.3Z" fill="#11bf10" stroke="#11bf10" stroke-width="0.5"/>
<path d="M605.3,159.7L609.2,157.7 605.8,153.9 601.9,156.0Z" fill="#11c010" stroke="#11c010" stroke-width="0.5"/>
<path d="M608.8,163.6L612.7,161.5 609.2,157.7 605.3,159.7Z" fill="#10c112" stroke="#10c112" stroke-width="0.5"/>
<path d="M612.3,167.5L616.1,165.4 612.7,161.5 608.8,163.6Z" fill="#10c313" stroke="#10c313" stroke-width="0.5"/>
<path d="M615.7,171.5L619.6,169.4 616.1,165.4 612.3,167.5Z" fill="#11c417" stroke="#11c417" stroke-width="0.5"/>
<path d="M619.1,175.6L623.0,173.4 619.6,169.4 615.7,171.5Z" fill="#12c51a" stroke="#12c51a" stroke-width="0.5"/>
<path d="M622.6,179.8L626.4,177.6 623.0,173.4 619.1,175.6Z" fill="#12c71f" stroke="#12c71f" stroke-width="0.5"/>
<path d="M626.0,184.0L629.8,181.8 626.4,177.6 622.6,179.8Z" fill="#12c724" stroke="#12c724" stroke-width="0.5"/>
<path d="M629.4,188.3L633.2,186.1 629.8,181.8 626.0,184.0Z" fill="#12c82b" stroke="#12c82b" stroke-width="0.5"/>
<path d="M632.7,192.7L636.6,190.5 633.2,186.1 629.4,188.3Z" fill="#14ca32" stroke="#14ca32" stroke-width="0.5"/>
<path d="M636.1,197.2L640.0,194.9 636.6,190.5 632.7,192.7Z" fill="#14cb39" stroke="#14cb39" stroke-width="0.5"/>
<path d="M639.5,201.7L643.3,199.5 640.0,194.9 636.1,197.2Z" fill="#16cd42" stroke="#16cd42" stroke-width="0.5"/>
<path d="M642.8,206.4L646.6,204.0 643.3,199.5 639.5,201.7Z" fill="#16cd4a" stroke="#16cd4a" stroke-width="0.5"/>
<path d="M646.1,211.0L649.9,208.7 646.6,204.0 642.8,206.4Z" fill="#17ce55" stroke="#17ce55" stroke-width="0.5"/>
<path d="M509.8,90.6L513.7,89.1 510.5,87.8 506.6,89.3Z" fill="#31b6ec" stroke="#31b6ec" stroke-width="0.5"/>
<path d="M513.0,92.0L516.9,90.5 513.7,89.1 509.8,90.6Z" fill="#2eb9de" stroke="#2eb9de" stroke-width="0.5"/>
<path d="M516.2,93.5L520.1,92.0 516.9,90.5 513.0,92.0Z" fill="#2cbbd1" stroke="#2cbbd1" stroke-width="0.5"/>
<path d="M519.4,95.1L523.3,93.5 520.1,92.0 516.2,93.5Z" fill="#29bec5" stroke="#29bec5" stroke-width="0.5"/>
<path d="M522.7,96.8L526.6,95.2 523.3,93.5 519.4,95.1Z" fill="#28c1ba" stroke="#28c1ba" stroke-width="0.5"/>
<path d="M526.0,98.6L529.9,97.0 526.6,95.2 522.7,96.8Z" fill="#24bfa9" stroke="#24bfa9" stroke-width="0.5"/>
<path d="M529.3,100.6L533.2,98.9 529.9,97.0 526.0,98.6Z" fill="#20bc95" stroke="#20bc95" stroke-width="0.5"/>
<path d="M532.6,102.6L536.5,100.9 533.2,98.9 529.3,100.6Z" fill="#1db782" stroke="#1db782" stroke-width="0.5"/>
<path d="M535.9,104.7L539.9,103.0 536.5,100.9 532.6,102.6Z" fill="#19b370" stroke="#19b370" stroke-width="0.5"/>
<path d="M539.3,106.9L543.2,105.1 539.9,103.0 535.9,104.7Z" fill="#17b160" stroke="#17b160" stroke-width="0.5"/>
<path d="M542.7,109.1L546.6,107.4 543.2,105.1 539.3,106.9Z" fill="#14ae50" stroke="#14ae50" stroke-width="0.5"/>
<path d="M546.1,111.5L550.0,109.8 546.6,107.4 542.7,109.1Z" fill="#12ae46" stroke="#12ae46" stroke-width="0.5"/>
<path d="M549.5,114.0L553.4,112.2 550.0,109.8 546.1,111.5Z" fill="#12b03e" stroke="#12b03e" stroke-width="0.5"/>
<path d="M552.9,116.6L556.8,114.8 553.4,112.2 549.5,114.0Z" fill="#11b136" stroke="#11b136" stroke-width="0.5"/>
<path d="M556.3,119.2L560.3,117.4 556.8,114.8 552.9,116.6Z" fill="#11b12e" stroke="#11b12e" stroke-width="0.5"/>
<path d="M559.8,122.0L563.7,120.1 560.3,117.4 556.3,119.2Z" fill="#11b228" stroke="#11b228" stroke-width="0.5"/>
<path d="M563.2,124.8L567.2,123.0 563.7,120.1 559.8,122.0Z" fill="#10b321" stroke="#10b321" stroke-width="0.5"/>
<path d="M566.7,127.8L570.6,125.9 567.2,123.0 563.2,124.8Z" fill="#10b51c" stroke="#10b51c" stroke-width="0.5"/>
<path d="M570.1,130.8L574.1,128.9 570.6,125.9 566.7,127.8Z" fill="#0fb617" stroke="#0fb617" stroke-width="0.5"/>
<path d="M573.6,133.9L577.5,132.0 574.1,128.9 570.1,130.8Z" fill="#0fb713" stroke="#0fb713" stroke-width="0.5"/>
<path d="M577.1,137.1L581.0,135.1 577.5,132.0 573.6,133.9Z" fill="#11b80f" stroke="#11b80f" stroke-width="0.5"/>
<path d="M580.6,140.4L584.5,138.4 581.0,135.1 577.1,137.1Z" fill="#16ba10" stroke="#16ba10" stroke-width="0.5"/>
<path d="M584.0,143.7L588.0,141.7 584.5,138.4 580.6,140.4Z" fill="#1abb11" stroke="#1abb11" stroke-width="0.5"/>
<path d="M587.5,147.2L591.5,145.2 588.0,141.7 584.0,143.7Z" fill="#1dbc11" stroke="#1dbc11" stroke-width="0.5"/>
<path d="M591.0,150.7L594.9,148.7 591.5,145.2 587.5,147.2Z" fill="#1fbd11" stroke="#1fbd11" stroke-width="0.5"/>
<path d="M594.5,154.4L598.4,152.3 594.9,148.7 591.0,150.7Z" fill="#20c011" stroke="#20c011" stroke-width="0.5"/>
<path d="M598.0,158.1L601.9,156.0 598.4,152.3 594.5,154.4Z" fill="#21c111" stroke="#21c111" stroke-width="0.5"/>
<path d="M601.4,161.8L605.3,159.7 601.9,156.0 598.0,158.1Z" fill="#20c111" stroke="#20c111" stroke-width="0.5"/>
<path d="M604.9,165.7L608.8,163.6 605.3,159.7 601.4,161.8Z" fill="#1dc212" stroke="#1dc212" stroke-width="0.5"/>
<path d="M608.3,169.7L612.3,167.5 608.8,163.6 604.9,165.7Z" fill="#1bc412" stroke="#1bc412" stroke-width="0.5"/>
<path d="M611.8,173.7L615.7,171.5 612.3,167.5 608.3,169.7Z" fill="#16c411" stroke="#16c411" stroke-width="0.5"/>
<path d="M615.2,177.8L619.1,175.6 615.7,171.5 611.8,173.7Z" fill="#11c511" stroke="#11c511" stroke-width="0.5"/>
<path d="M618.7,182.0L622.6,179.8 619.1,175.6 615.2,177.8Z" fill="#11c615" stroke="#11c615" stroke-width="0.5"/>
<path d="M622.1,186.2L626.0,184.0 622.6,179.8 618.7,182.0Z" fill="#12c81a" stroke="#12c81a" stroke-width="0.5"/>
<path d="M625.5,190.6L629.4,188.3 626.0,184.0 622.1,186.2Z" fill="#12c920" stroke="#12c920" stroke-width="0.5"/>
<path d="M628.9,195.0L632.7,192.7 629.4,188.3 625.5,190.6Z" fill="#12c927" stroke="#12c927" stroke-width="0.5"/>
<path d="M632.2,199.5L636.1,197.2 632.7,192.7 628.9,195.0Z" fill="#14cb2f" stroke="#14cb2f" stroke-width="0.5"/>
<path d="M635.6,204.0L639.5,201.7 636.1,197.2 632.2,199.5Z" fill="#14cc38" stroke="#14cc38" stroke-width="0.5"/>
<path d="M638.9,208.7L642.8,206.4 639.5,201.7 635.6,204.0Z" fill="#14ce41" stroke="#14ce41" stroke-width="0.5"/>
<path d="M642.3,213.4L646.1,211.0 642.8,206.4 638.9,208.7Z" fill="#16d04b" stroke="#16d04b" stroke-width="0.5"/>
<path d="M505.9,92.1L509.8,90.6 506.6,89.3 502.7,90.8Z" fill="#30b7e4" stroke="#30b7e4" stroke-width="0.5"/>
<path d="M509.0,93.6L513.0,92.0 509.8,90.6 505.9,92.1Z" fill="#2dbbd6" stroke="#2dbbd6" stroke-width="0.5"/>
<path d="M512.2,95.1L516.2,93.5 513.0,92.0 509.0,93.6Z" fill="#2abdca" stroke="#2abdca" stroke-width="0.5"/>
<path d="M515.5,96.7L519.4,95.1 516.2,93.5 512.2,95.1Z" fill="#28c0bd" stroke="#28c0bd" stroke-width="0.5"/>
<path d="M518.7,98.5L522.7,96.8 519.4,95.1 515.5,96.7Z" fill="#25c0b0" stroke="#25c0b0" stroke-width="0.5"/>
<path d="M522.0,100.3L526.0,98.6 522.7,96.8 518.7,98.5Z" fill="#21bc9a" stroke="#21bc9a" stroke-width="0.5"/>
<path d="M525.3,102.2L529.3,100.6 526.0,98.6 522.0,100.3Z" fill="#1eb786" stroke="#1eb786" stroke-width="0.5"/>
<path d="M528.6,104.2L532.6,102.6 529.3,100.6 525.3,102.2Z" fill="#1ab473" stroke="#1ab473" stroke-width="0.5"/>
<path d="M532.0,106.4L535.9,104.7 532.6,102.6 528.6,104.2Z" fill="#17b062" stroke="#17b062" stroke-width="0.5"/>
<path d="M535.3,108.6L539.3,106.9 535.9,104.7 532.0,106.4Z" fill="#13ad52" stroke="#13ad52" stroke-width="0.5"/>
<path d="M538.7,110.9L542.7,109.1 539.3,106.9 535.3,108.6Z" fill="#12ad47" stroke="#12ad47" stroke-width="0.5"/>
<path d="M542.1,113.3L546.1,111.5 542.7,109.1 538.7,110.9Z" fill="#12af3e" stroke="#12af3e" stroke-width="0.5"/>
<path d="M545.5,115.8L549.5,114.0 546.1,111.5 542.1,113.3Z" fill="#11af35" stroke="#11af35" stroke-width="0.5"/>
<path d="M548.9,118.4L552.9,116.6 549.5,114.0 545.5,115.8Z" fill="#11b02d" stroke="#11b02d" stroke-width="0.5"/>
<path d="M552.4,121.1L556.3,119.2 552.9,116.6 548.9,118.4Z" fill="#10b126" stroke="#10b126" stroke-width="0.5"/>
<path d="M555.8,123.9L559.8,122.0 556.3,119.2 552.4,121.1Z" fill="#10b31f" stroke="#10b31f" stroke-width="0.5"/>
<path d="M559.3,126.7L563.2,124.8 559.8,122.0 555.8,123.9Z" fill="#10b419" stroke="#10b419" stroke-width="0.5"/>
<path d="M562.7,129.7L566.7,127.8 563.2,124.8 559.3,126.7Z" fill="#0fb413" stroke="#0fb413" stroke-width="0.5"/>
<path d="M566.2,132.7L570.1,130.8 566.7,127.8 562.7,129.7Z" fill="#12b50f" stroke="#12b50f" stroke-width="0.5"/>
<path d="M569.6,135.8L573.6,133.9 570.1,130.8 566.2,132.7Z" fill="#19b711" stroke="#19b711" stroke-width="0.5"/>
<path d="M573.1,139.1L577.1,137.1 573.6,133.9 569.6,135.8Z" fill="#1fb811" stroke="#1fb811" stroke-width="0.5"/>
<path d="M576.6,142.4L580.6,140.4 577.1,137.1 573.1,139.1Z" fill="#24bb12" stroke="#24bb12" stroke-width="0.5"/>
<path d="M580.1,145.7L584.0,143.7 580.6,140.4 576.6,142.4Z" fill="#28bc12" stroke="#28bc12" stroke-width="0.5"/>
<path d="M583.6,149.2L587.5,147.2 584.0,143.7 580.1,145.7Z" fill="#2bbe12" stroke="#2bbe12" stroke-width="0.5"/>
<path d="M587.1,152.8L591.0,150.7 587.5,147.2 583.6,149.2Z" fill="#2ebf12" stroke="#2ebf12" stroke-width="0.5"/>
<path d="M590.5,156.4L594.5,154.4 591.0,150.7 587.1,152.8Z" fill="#2fc112" stroke="#2fc112" stroke-width="0.5"/>
<path d="M594.0,160.1L598.0,158.1 594.5,154.4 590.5,156.4Z" fill="#30c213" stroke="#30c213" stroke-width="0.5"/>
<path d="M597.5,163.9L601.4,161.8 598.0,158.1 594.0,160.1Z" fill="#2fc313" stroke="#2fc313" stroke-width="0.5"/>
<path d="M600.9,167.8L604.9,165.7 601.4,161.8 597.5,163.9Z" fill="#2dc513" stroke="#2dc513" stroke-width="0.5"/>
<path d="M604.4,171.8L608.3,169.7 604.9,165.7 600.9,167.8Z" fill="#29c513" stroke="#29c513" stroke-width="0.5"/>
<path d="M607.9,175.8L611.8,173.7 608.3,169.7 604.4,171.8Z" fill="#25c612" stroke="#25c612" stroke-width="0.5"/>
<path d="M611.3,180.0L615.2,177.8 611.8,173.7 607.9,175.8Z" fill="#1fc612" stroke="#1fc612" stroke-width="0.5"/>
<path d="M614.7,184.2L618.7,182.0 615.2,177.8 611.3,180.0Z" fill="#19c812" stroke="#19c812" stroke-width="0.5"/>
<path d="M618.2,188.4L622.1,186.2 618.7,182.0 614.7,184.2Z" fill="#11c811" stroke="#11c811" stroke-width="0.5"/>
<path d="M621.6,192.8L625.5,190.6 622.1,186.2 618.2,188.4Z" fill="#11c916" stroke="#11c916" stroke-width="0.5"/>
<path d="M625.0,197.2L628.9,195.0 625.5,190.6 621.6,192.8Z" fill="#12cb1d" stroke="#12cb1d" stroke-width="0.5"/>
<path d="M628.4,201.7L632.2,199.5 628.9,195.0 625.0,197.2Z" fill="#13cb24" stroke="#13cb24" stroke-width="0.5"/>
<path d="M631.7,206.3L635.6,204.0 632.2,199.5 628.4,201.7Z" fill="#13cc2d" stroke="#13cc2d" stroke-width="0.5"/>
<path d="M635.1,211.0L638.9,208.7 635.6,204.0 631.7,206.3Z" fill="#14ce37" stroke="#14ce37" stroke-width="0.5"/>
<path d="M638.4,215.7L642.3,213.4 638.9,208.7 635.1,211.0Z" fill="#14cf41" stroke="#14cf41" stroke-width="0.5"/>
<path d="M501.9,93.7L505.9,92.1 502.7,90.8 498.8,92.3Z" fill="#2eb9dd" stroke="#2eb9dd" stroke-width="0.5"/>
<path d="M505.1,95.1L509.0,93.6 505.9,92.1 501.9,93.7Z" fill="#2bbbcf" stroke="#2bbbcf" stroke-width="0.5"/>
<path d="M508.3,96.7L512.2,95.1 509.0,93.6 505.1,95.1Z" fill="#29bfc2" stroke="#29bfc2" stroke-width="0.5"/>
<path d="M511.5,98.3L515.5,96.7 512.2,95.1 508.3,96.7Z" fill="#26c1b7" stroke="#26c1b7" stroke-width="0.5"/>
<path d="M514.8,100.1L518.7,98.5 515.5,96.7 511.5,98.3Z" fill="#23bda1" stroke="#23bda1" stroke-width="0.5"/>
<path d="M518.0,102.0L522.0,100.3 518.7,98.5 514.8,100.1Z" fill="#1fb88c" stroke="#1fb88c" stroke-width="0.5"/>
<path d="M521.3,103.9L525.3,102.2 522.0,100.3 518.0,102.0Z" fill="#1cb479" stroke="#1cb479" stroke-width="0.5"/>
<path d="M524.7,105.9L528.6,104.2 525.3,102.2 521.3,103.9Z" fill="#18b166" stroke="#18b166" stroke-width="0.5"/>
<path d="M528.0,108.1L532.0,106.4 528.6,104.2 524.7,105.9Z" fill="#15ad54" stroke="#15ad54" stroke-width="0.5"/>
<path d="M531.4,110.3L535.3,108.6 532.0,106.4 528.0,108.1Z" fill="#13ad48" stroke="#13ad48" stroke-width="0.5"/>
<path d="M534.7,112.7L538.7,110.9 535.3,108.6 531.4,110.3Z" fill="#12ae3e" stroke="#12ae3e" stroke-width="0.5"/>
<path d="M538.1,115.1L542.1,113.3 538.7,110.9 534.7,112.7Z" fill="#11af34" stroke="#11af34" stroke-width="0.5"/>
<path d="M541.5,117.6L545.5,115.8 542.1,113.3 538.1,115.1Z" fill="#11af2c" stroke="#11af2c" stroke-width="0.5"/>
<path d="M544.9,120.2L548.9,118.4 545.5,115.8 541.5,117.6Z" fill="#10b024" stroke="#10b024" stroke-width="0.5"/>
<path d="M548.4,122.9L552.4,121.1 548.9,118.4 544.9,120.2Z" fill="#10b21d" stroke="#10b21d" stroke-width="0.5"/>
<path d="M551.8,125.7L555.8,123.9 552.4,121.1 548.4,122.9Z" fill="#0fb216" stroke="#0fb216" stroke-width="0.5"/>
<path d="M555.3,128.6L559.3,126.7 555.8,123.9 551.8,125.7Z" fill="#0fb310" stroke="#0fb310" stroke-width="0.5"/>
<path d="M558.7,131.6L562.7,129.7 559.3,126.7 555.3,128.6Z" fill="#18b510" stroke="#18b510" stroke-width="0.5"/>
<path d="M562.2,134.6L566.2,132.7 562.7,129.7 558.7,131.6Z" fill="#1fb710" stroke="#1fb710" stroke-width="0.5"/>
<path d="M565.7,137.8L569.6,135.8 566.2,132.7 562.2,134.6Z" fill="#26b812" stroke="#26b812" stroke-width="0.5"/>
<path d="M569.1,141.0L573.1,139.1 569.6,135.8 565.7,137.8Z" fill="#2dbb12" stroke="#2dbb12" stroke-width="0.5"/>
<path d="M572.6,144.4L576.6,142.4 573.1,139.1 569.1,141.0Z" fill="#32bc13" stroke="#32bc13" stroke-width="0.5"/>
<path d="M576.1,147.8L580.1,145.7 576.6,142.4 572.6,144.4Z" fill="#37be13" stroke="#37be13" stroke-width="0.5"/>
<path d="M579.6,151.3L583.6,149.2 580.1,145.7 576.1,147.8Z" fill="#3abf13" stroke="#3abf13" stroke-width="0.5"/>
<path d="M583.1,154.8L587.1,152.8 583.6,149.2 579.6,151.3Z" fill="#3dc014" stroke="#3dc014" stroke-width="0.5"/>
<path d="M586.6,158.5L590.5,156.4 587.1,152.8 583.1,154.8Z" fill="#3dc214" stroke="#3dc214" stroke-width="0.5"/>
<path d="M590.0,162.2L594.0,160.1 590.5,156.4 586.6,158.5Z" fill="#3ec314" stroke="#3ec314" stroke-width="0.5"/>
<path d="M593.5,166.1L597.5,163.9 594.0,160.1 590.0,162.2Z" fill="#3dc414" stroke="#3dc414" stroke-width="0.5"/>
<path d="M597.0,170.0L600.9,167.8 597.5,163.9 593.5,166.1Z" fill="#3bc614" stroke="#3bc614" stroke-width="0.5"/>
<path d="M600.5,174.0L604.4,171.8 600.9,167.8 597.0,170.0Z" fill="#38c714" stroke="#38c714" stroke-width="0.5"/>
<path d="M603.9,178.0L607.9,175.8 604.4,171.8 600.5,174.0Z" fill="#34c714" stroke="#34c714" stroke-width="0.5"/>
<path d="M607.4,182.2L611.3,180.0 607.9,175.8 603.9,178.0Z" fill="#2fc813" stroke="#2fc813" stroke-width="0.5"/>
<path d="M610.8,186.4L614.7,184.2 611.3,180.0 607.4,182.2Z" fill="#29c913" stroke="#29c913" stroke-width="0.5"/>
<path d="M614.2,190.7L618.2,188.4 614.7,184.2 610.8,186.4Z" fill="#21c912" stroke="#21c912" stroke-width="0.5"/>
<path d="M617.6,195.1L621.6,192.8 618.2,188.4 614.2,190.7Z" fill="#18ca11" stroke="#18ca11" stroke-width="0.5"/>
<path d="M621.0,199.5L625.0,197.2 621.6,192.8 617.6,195.1Z" fill="#11ca14" stroke="#11ca14" stroke-width="0.5"/>
<path d="M624.4,204.0L628.4,201.7 625.0,197.2 621.0,199.5Z" fill="#13cc1b" stroke="#13cc1b" stroke-width="0.5"/>
<path d="M627.8,208.6L631.7,206.3 628.4,201.7 624.4,204.0Z" fill="#13cd23" stroke="#13cd23" stroke-width="0.5"/>
<path d="M631.2,213.3L635.1,211.0 631.7,206.3 627.8,208.6Z" fill="#13cd2d" stroke="#13cd2d" stroke-width="0.5"/>
<path d="M634.5,218.0L638.4,215.7 635.1,211.0 631.2,213.3Z" fill="#14cf37" stroke="#14cf37" stroke-width="0.5"/>
<path d="M498.0,95.2L501.9,93.7 498.8,92.3 494.8,93.9Z" fill="#2dbad4" stroke="#2dbad4" stroke-width="0.5"/>
<path d="M501.1,96.7L505.1,95.1 501.9,93.7 498.0,95.2Z" fill="#2abcc7" stroke="#2abcc7" stroke-width="0.5"/>
<path d="M504.3,98.3L508.3,96.7 505.1,95.1 501.1,96.7Z" fill="#27c0ba" stroke="#27c0ba" stroke-width="0.5"/>
<path d="M507.5,100.0L511.5,98.3 508.3,96.7 504.3,98.3Z" fill="#24bea9" stroke="#24bea9" stroke-width="0.5"/>
<path d="M510.8,101.8L514.8,100.1 511.5,98.3 507.5,100.0Z" fill="#20b992" stroke="#20b992" stroke-width="0.5"/>
<path d="M514.1,103.6L518.0,102.0 514.8,100.1 510.8,101.8Z" fill="#1bb57e" stroke="#1bb57e" stroke-width="0.5"/>
<path d="M517.4,105.6L521.3,103.9 518.0,102.0 514.1,103.6Z" fill="#18b16a" stroke="#18b16a" stroke-width="0.5"/>
<path d="M520.7,107.7L524.7,105.9 521.3,103.9 517.4,105.6Z" fill="#14ae58" stroke="#14ae58" stroke-width="0.5"/>
<path d="M524.0,109.8L528.0,108.1 524.7,105.9 520.7,107.7Z" fill="#13ac49" stroke="#13ac49" stroke-width="0.5"/>
<path d="M527.4,112.1L531.4,110.3 528.0,108.1 524.0,109.8Z" fill="#12ac3e" stroke="#12ac3e" stroke-width="0.5"/>
<path d="M530.7,114.4L534.7,112.7 531.4,110.3 527.4,112.1Z" fill="#11ae35" stroke="#11ae35" stroke-width="0.5"/>
<path d="M534.1,116.9L538.1,115.1 534.7,112.7 530.7,114.4Z" fill="#11ae2c" stroke="#11ae2c" stroke-width="0.5"/>
<path d="M537.5,119.4L541.5,117.6 538.1,115.1 534.1,116.9Z" fill="#10af23" stroke="#10af23" stroke-width="0.5"/>
<path d="M541.0,122.1L544.9,120.2 541.5,117.6 537.5,119.4Z" fill="#10b01c" stroke="#10b01c" stroke-width="0.5"/>
<path d="M544.4,124.8L548.4,122.9 544.9,120.2 541.0,122.1Z" fill="#0fb114" stroke="#0fb114" stroke-width="0.5"/>
<path d="M547.8,127.6L551.8,125.7 548.4,122.9 544.4,124.8Z" fill="#11b20f" stroke="#11b20f" stroke-width="0.5"/>
<path d="M551.3,130.5L555.3,128.6 551.8,125.7 547.8,127.6Z" fill="#1cb410" stroke="#1cb410" stroke-width="0.5"/>
<path d="M554.7,133.5L558.7,131.6 555.3,128.6 551.3,130.5Z" fill="#25b612" stroke="#25b612" stroke-width="0.5"/>
<path d="M558.2,136.6L562.2,134.6 558.7,131.6 554.7,133.5Z" fill="#2db812" stroke="#2db812" stroke-width="0.5"/>
<path d="M561.7,139.8L565.7,137.8 562.2,134.6 558.2,136.6Z" fill="#35ba13" stroke="#35ba13" stroke-width="0.5"/>
<path d="M565.2,143.0L569.1,141.0 565.7,137.8 561.7,139.8Z" fill="#3bbb13" stroke="#3bbb13" stroke-width="0.5"/>
<path d="M568.6,146.4L572.6,144.4 569.1,141.0 565.2,143.0Z" fill="#41be14" stroke="#41be14" stroke-width="0.5"/>
<path d="M572.1,149.8L576.1,147.8 572.6,144.4 568.6,146.4Z" fill="#45bf14" stroke="#45bf14" stroke-width="0.5"/>
<path d="M575.6,153.3L579.6,151.3 576.1,147.8 572.1,149.8Z" fill="#49c015" stroke="#49c015" stroke-width="0.5"/>
<path d="M579.1,156.9L583.1,154.8 579.6,151.3 575.6,153.3Z" fill="#4bc115" stroke="#4bc115" stroke-width="0.5"/>
<path d="M582.6,160.6L586.6,158.5 583.1,154.8 579.1,156.9Z" fill="#4cc315" stroke="#4cc315" stroke-width="0.5"/>
<path d="M586.1,164.4L590.0,162.2 586.6,158.5 582.6,160.6Z" fill="#4dc415" stroke="#4dc415" stroke-width="0.5"/>
<path d="M589.5,168.2L593.5,166.1 590.0,162.2 586.1,164.4Z" fill="#4cc515" stroke="#4cc515" stroke-width="0.5"/>
<path d="M593.0,172.1L597.0,170.0 593.5,166.1 589.5,168.2Z" fill="#4ac715" stroke="#4ac715" stroke-width="0.5"/>
<path d="M596.5,176.1L600.5,174.0 597.0,170.0 593.0,172.1Z" fill="#47c815" stroke="#47c815" stroke-width="0.5"/>
<path d="M599.9,180.2L603.9,178.0 600.5,174.0 596.5,176.1Z" fill="#43c816" stroke="#43c816" stroke-width="0.5"/>
<path d="M603.4,184.4L607.4,182.2 603.9,178.0 599.9,180.2Z" fill="#3dc914" stroke="#3dc914" stroke-width="0.5"/>
<path d="M606.8,188.6L610.8,186.4 607.4,182.2 603.4,184.4Z" fill="#37ca15" stroke="#37ca15" stroke-width="0.5"/>
<path d="M610.3,192.9L614.2,190.7 610.8,186.4 606.8,188.6Z" fill="#2fcb13" stroke="#2fcb13" stroke-width="0.5"/>
<path d="M613.7,197.3L617.6,195.1 614.2,190.7 610.3,192.9Z" fill="#26cb12" stroke="#26cb12" stroke-width="0.5"/>
<path d="M617.1,201.8L621.0,199.5 617.6,195.1 613.7,197.3Z" fill="#1ccb12" stroke="#1ccb12" stroke-width="0.5"/>
<path d="M620.5,206.3L624.4,204.0 621.0,199.5 617.1,201.8Z" fill="#11cb11" stroke="#11cb11" stroke-width="0.5"/>
<path d="M623.9,210.9L627.8,208.6 624.4,204.0 620.5,206.3Z" fill="#11cd1a" stroke="#11cd1a" stroke-width="0.5"/>
<path d="M627.2,215.6L631.2,213.3 627.8,208.6 623.9,210.9Z" fill="#13cf23" stroke="#13cf23" stroke-width="0.5"/>
<path d="M630.6,220.4L634.5,218.0 631.2,213.3 627.2,215.6Z" fill="#13cf2d" stroke="#13cf2d" stroke-width="0.5"/>
<path d="M494.0,96.8L498.0,95.2 494.8,93.9 490.8,95.4Z" fill="#2bbccc" stroke="#2bbccc" stroke-width="0.5"/>
<path d="M497.1,98.3L501.1,96.7 498.0,95.2 494.0,96.8Z" fill="#29bebf" stroke="#29bebf" stroke-width="0.5"/>
<path d="M500.3,99.9L504.3,98.3 501.1,96.7 497.1,98.3Z" fill="#26bfb1" stroke="#26bfb1" stroke-width="0.5"/>
<path d="M503.6,101.6L507.5,100.0 504.3,98.3 500.3,99.9Z" fill="#21bb9a" stroke="#21bb9a" stroke-width="0.5"/>
<path d="M506.8,103.4L510.8,101.8 507.5,100.0 503.6,101.6Z" fill="#1eb684" stroke="#1eb684" stroke-width="0.5"/>
<path d="M510.1,105.3L514.1,103.6 510.8,101.8 506.8,103.4Z" fill="#19b270" stroke="#19b270" stroke-width="0.5"/>
<path d="M513.4,107.3L517.4,105.6 514.1,103.6 510.1,105.3Z" fill="#16ad5c" stroke="#16ad5c" stroke-width="0.5"/>
<path d="M516.7,109.4L520.7,107.7 517.4,105.6 513.4,107.3Z" fill="#13ab4c" stroke="#13ab4c" stroke-width="0.5"/>
<path d="M520.0,111.6L524.0,109.8 520.7,107.7 516.7,109.4Z" fill="#12ab40" stroke="#12ab40" stroke-width="0.5"/>
<path d="M523.4,113.9L527.4,112.1 524.0,109.8 520.0,111.6Z" fill="#11ad36" stroke="#11ad36" stroke-width="0.5"/>
<path d="M526.7,116.2L530.7,114.4 527.4,112.1 523.4,113.9Z" fill="#11ad2c" stroke="#11ad2c" stroke-width="0.5"/>
<path d="M530.1,118.7L534.1,116.9 530.7,114.4 526.7,116.2Z" fill="#10ae24" stroke="#10ae24" stroke-width="0.5"/>
<path d="M533.5,121.3L537.5,119.4 534.1,116.9 530.1,118.7Z" fill="#10af1a" stroke="#10af1a" stroke-width="0.5"/>
<path d="M536.9,123.9L541.0,122.1 537.5,119.4 533.5,121.3Z" fill="#0fb012" stroke="#0fb012" stroke-width="0.5"/>
<path d="M540.4,126.7L544.4,124.8 541.0,122.1 536.9,123.9Z" fill="#15b20f" stroke="#15b20f" stroke-width="0.5"/>
<path d="M543.8,129.5L547.8,127.6 544.4,124.8 540.4,126.7Z" fill="#20b410" stroke="#20b410" stroke-width="0.5"/>
<path d="M547.3,132.4L551.3,130.5 547.8,127.6 543.8,129.5Z" fill="#29b611" stroke="#29b611" stroke-width="0.5"/>
<path d="M550.7,135.5L554.7,133.5 551.3,130.5 547.3,132.4Z" fill="#33b713" stroke="#33b713" stroke-width="0.5"/>
<path d="M554.2,138.6L558.2,136.6 554.7,133.5 550.7,135.5Z" fill="#3bb913" stroke="#3bb913" stroke-width="0.5"/>
<path d="M557.7,141.7L561.7,139.8 558.2,136.6 554.2,138.6Z" fill="#42bb14" stroke="#42bb14" stroke-width="0.5"/>
<path d="M561.1,145.0L565.2,143.0 561.7,139.8 557.7,141.7Z" fill="#49bc14" stroke="#49bc14" stroke-width="0.5"/>
<path d="M564.6,148.4L568.6,146.4 565.2,143.0 561.1,145.0Z" fill="#4ebf16" stroke="#4ebf16" stroke-width="0.5"/>
<path d="M568.1,151.8L572.1,149.8 568.6,146.4 564.6,148.4Z" fill="#53c016" stroke="#53c016" stroke-width="0.5"/>
<path d="M571.6,155.4L575.6,153.3 572.1,149.8 568.1,151.8Z" fill="#56c216" stroke="#56c216" stroke-width="0.5"/>
<path d="M575.1,159.0L579.1,156.9 575.6,153.3 571.6,155.4Z" fill="#59c416" stroke="#59c416" stroke-width="0.5"/>
<path d="M578.6,162.7L582.6,160.6 579.1,156.9 575.1,159.0Z" fill="#5ac516" stroke="#5ac516" stroke-width="0.5"/>
<path d="M582.1,166.5L586.1,164.4 582.6,160.6 578.6,162.7Z" fill="#5bc616" stroke="#5bc616" stroke-width="0.5"/>
<path d="M585.5,170.3L589.5,168.2 586.1,164.4 582.1,166.5Z" fill="#5ac716" stroke="#5ac716" stroke-width="0.5"/>
<path d="M589.0,174.3L593.0,172.1 589.5,168.2 585.5,170.3Z" fill="#58c817" stroke="#58c817" stroke-width="0.5"/>
<path d="M592.5,178.3L596.5,176.1 593.0,172.1 589.0,174.3Z" fill="#56c917" stroke="#56c917" stroke-width="0.5"/>
<path d="M596.0,182.4L599.9,180.2 596.5,176.1 592.5,178.3Z" fill="#51ca17" stroke="#51ca17" stroke-width="0.5"/>
<path d="M599.4,186.6L603.4,184.4 599.9,180.2 596.0,182.4Z" fill="#4dca16" stroke="#4dca16" stroke-width="0.5"/>
<path d="M602.9,190.8L606.8,188.6 603.4,184.4 599.4,186.6Z" fill="#45cc16" stroke="#45cc16" stroke-width="0.5"/>
<path d="M606.3,195.2L610.3,192.9 606.8,188.6 602.9,190.8Z" fill="#3ecc15" stroke="#3ecc15" stroke-width="0.5"/>
<path d="M609.7,199.6L613.7,197.3 610.3,192.9 606.3,195.2Z" fill="#35cc15" stroke="#35cc15" stroke-width="0.5"/>
<path d="M613.1,204.1L617.1,201.8 613.7,197.3 609.7,199.6Z" fill="#2ccc14" stroke="#2ccc14" stroke-width="0.5"/>
<path d="M616.5,208.6L620.5,206.3 617.1,201.8 613.1,204.1Z" fill="#20cd13" stroke="#20cd13" stroke-width="0.5"/>
<path d="M619.9,213.3L623.9,210.9 620.5,206.3 616.5,208.6Z" fill="#14cd11" stroke="#14cd11" stroke-width="0.5"/>
<path d="M623.3,218.0L627.2,215.6 623.9,210.9 619.9,213.3Z" fill="#11ce18" stroke="#11ce18" stroke-width="0.5"/>
<path d="M626.6,222.7L630.6,220.4 627.2,215.6 623.3,218.0Z" fill="#13d024" stroke="#13d024" stroke-width="0.5"/>
<path d="M490.0,98.4L494.0,96.8 490.8,95.4 486.9,97.0Z" fill="#2abdc5" stroke="#2abdc5" stroke-width="0.5"/>
<path d="M493.2,100.0L497.1,98.3 494.0,96.8 490.0,98.4Z" fill="#27bfb8" stroke="#27bfb8" stroke-width="0.5"/>
<path d="M496.3,101.6L500.3,99.9 497.1,98.3 493.2,100.0Z" fill="#22bca4" stroke="#22bca4" stroke-width="0.5"/>
<path d="M499.6,103.3L503.6,101.6 500.3,99.9 496.3,101.6Z" fill="#1fb78c" stroke="#1fb78c" stroke-width="0.5"/>
<path d="M502.8,105.1L506.8,103.4 503.6,101.6 499.6,103.3Z" fill="#1ab377" stroke="#1ab377" stroke-width="0.5"/>
<path d="M506.1,107.0L510.1,105.3 506.8,103.4 502.8,105.1Z" fill="#17ae62" stroke="#17ae62" stroke-width="0.5"/>
<path d="M509.4,109.0L513.4,107.3 510.1,105.3 506.1,107.0Z" fill="#13aa4e" stroke="#13aa4e" stroke-width="0.5"/>
<path d="M512.7,111.2L516.7,109.4 513.4,107.3 509.4,109.0Z" fill="#12ab43" stroke="#12ab43" stroke-width="0.5"/>
<path d="M516.0,113.4L520.0,111.6 516.7,109.4 512.7,111.2Z" fill="#12ac38" stroke="#12ac38" stroke-width="0.5"/>
<path d="M519.3,115.7L523.4,113.9 520.0,111.6 516.0,113.4Z" fill="#11ac2e" stroke="#11ac2e" stroke-width="0.5"/>
<path d="M522.7,118.1L526.7,116.2 523.4,113.9 519.3,115.7Z" fill="#10ad24" stroke="#10ad24" stroke-width="0.5"/>
<path d="M526.1,120.5L530.1,118.7 526.7,116.2 522.7,118.1Z" fill="#10ae1a" stroke="#10ae1a" stroke-width="0.5"/>
<path d="M529.5,123.1L533.5,121.3 530.1,118.7 526.1,120.5Z" fill="#0faf12" stroke="#0faf12" stroke-width="0.5"/>
<path d="M532.9,125.8L536.9,123.9 533.5,121.3 529.5,123.1Z" fill="#16b110" stroke="#16b110" stroke-width="0.5"/>
<path d="M536.3,128.6L540.4,126.7 536.9,123.9 532.9,125.8Z" fill="#22b311" stroke="#22b311" stroke-width="0.5"/>
<path d="M539.8,131.4L543.8,129.5 540.4,126.7 536.3,128.6Z" fill="#2eb511" stroke="#2eb511" stroke-width="0.5"/>
<path d="M543.2,134.4L547.3,132.4 543.8,129.5 539.8,131.4Z" fill="#37b713" stroke="#37b713" stroke-width="0.5"/>
<path d="M546.7,137.4L550.7,135.5 547.3,132.4 543.2,134.4Z" fill="#40b914" stroke="#40b914" stroke-width="0.5"/>
<path d="M550.1,140.5L554.2,138.6 550.7,135.5 546.7,137.4Z" fill="#49bb14" stroke="#49bb14" stroke-width="0.5"/>
<path d="M553.6,143.7L557.7,141.7 554.2,138.6 550.1,140.5Z" fill="#51bc15" stroke="#51bc15" stroke-width="0.5"/>
<path d="M557.1,147.0L561.1,145.0 557.7,141.7 553.6,143.7Z" fill="#57be15" stroke="#57be15" stroke-width="0.5"/>
<path d="M560.6,150.4L564.6,148.4 561.1,145.0 557.1,147.0Z" fill="#5cc017" stroke="#5cc017" stroke-width="0.5"/>
<path d="M564.1,153.9L568.1,151.8 564.6,148.4 560.6,150.4Z" fill="#61c217" stroke="#61c217" stroke-width="0.5"/>
<path d="M567.6,157.4L571.6,155.4 568.1,151.8 564.1,153.9Z" fill="#64c317" stroke="#64c317" stroke-width="0.5"/>
<path d="M571.0,161.1L575.1,159.0 571.6,155.4 567.6,157.4Z" fill="#67c417" stroke="#67c417" stroke-width="0.5"/>
<path d="M574.5,164.8L578.6,162.7 575.1,159.0 571.0,161.1Z" fill="#69c617" stroke="#69c617" stroke-width="0.5"/>
<path d="M578.0,168.6L582.1,166.5 578.6,162.7 574.5,164.8Z" fill="#68c718" stroke="#68c718" stroke-width="0.5"/>
<path d="M581.5,172.5L585.5,170.3 582.1,166.5 578.0,168.6Z" fill="#68c818" stroke="#68c818" stroke-width="0.5"/>
<path d="M585.0,176.4L589.0,174.3 585.5,170.3 581.5,172.5Z" fill="#67ca18" stroke="#67ca18" stroke-width="0.5"/>
<path d="M588.5,180.5L592.5,178.3 589.0,174.3 585.0,176.4Z" fill="#64ca18" stroke="#64ca18" stroke-width="0.5"/>
<path d="M591.9,184.6L596.0,182.4 592.5,178.3 588.5,180.5Z" fill="#60cb18" stroke="#60cb18" stroke-width="0.5"/>
<path d="M595.4,188.8L599.4,186.6 596.0,182.4 591.9,184.6Z" fill="#5bcd17" stroke="#5bcd17" stroke-width="0.5"/>
<path d="M598.9,193.1L602.9,190.8 599.4,186.6 595.4,188.8Z" fill="#55cd17" stroke="#55cd17" stroke-width="0.5"/>
<path d="M602.3,197.4L606.3,195.2 602.9,190.8 598.9,193.1Z" fill="#4ecd16" stroke="#4ecd16" stroke-width="0.5"/>
<path d="M605.7,201.9L609.7,199.6 606.3,195.2 602.3,197.4Z" fill="#45cd16" stroke="#45cd16" stroke-width="0.5"/>
<path d="M609.1,206.4L613.1,204.1 609.7,199.6 605.7,201.9Z" fill="#3bcf15" stroke="#3bcf15" stroke-width="0.5"/>
<path d="M612.5,210.9L616.5,208.6 613.1,204.1 609.1,206.4Z" fill="#2fcf14" stroke="#2fcf14" stroke-width="0.5"/>
<path d="M615.9,215.6L619.9,213.3 616.5,208.6 612.5,210.9Z" fill="#23ce13" stroke="#23ce13" stroke-width="0.5"/>
<path d="M619.3,220.3L623.3,218.0 619.9,213.3 615.9,215.6Z" fill="#16ce11" stroke="#16ce11" stroke-width="0.5"/>
<path d="M622.7,225.1L626.6,222.7 623.3,218.0 619.3,220.3Z" fill="#12d018" stroke="#12d018" stroke-width="0.5"/>
<path d="M486.0,100.1L490.0,98.4 486.9,97.0 482.9,98.6Z" fill="#27bfbd" stroke="#27bfbd" stroke-width="0.5"/>
<path d="M489.1,101.6L493.2,100.0 490.0,98.4 486.0,100.1Z" fill="#25bfad" stroke="#25bfad" stroke-width="0.5"/>
<path d="M492.3,103.2L496.3,101.6 493.2,100.0 489.1,101.6Z" fill="#20b995" stroke="#20b995" stroke-width="0.5"/>
<path d="M495.5,105.0L499.6,103.3 496.3,101.6 492.3,103.2Z" fill="#1cb47f" stroke="#1cb47f" stroke-width="0.5"/>
<path d="M498.8,106.8L502.8,105.1 499.6,103.3 495.5,105.0Z" fill="#18b068" stroke="#18b068" stroke-width="0.5"/>
<path d="M502.0,108.8L506.1,107.0 502.8,105.1 498.8,106.8Z" fill="#14ab55" stroke="#14ab55" stroke-width="0.5"/>
<path d="M505.3,110.8L509.4,109.0 506.1,107.0 502.0,108.8Z" fill="#12aa46" stroke="#12aa46" stroke-width="0.5"/>
<path d="M508.6,112.9L512.7,111.2 509.4,109.0 505.3,110.8Z" fill="#12ab3a" stroke="#12ab3a" stroke-width="0.5"/>
<path d="M512.0,115.1L516.0,113.4 512.7,111.2 508.6,112.9Z" fill="#11ab2f" stroke="#11ab2f" stroke-width="0.5"/>
<path d="M515.3,117.5L519.3,115.7 516.0,113.4 512.0,115.1Z" fill="#10ac24" stroke="#10ac24" stroke-width="0.5"/>
<path d="M518.7,119.9L522.7,118.1 519.3,115.7 515.3,117.5Z" fill="#10ad1b" stroke="#10ad1b" stroke-width="0.5"/>
<path d="M522.0,122.4L526.1,120.5 522.7,118.1 518.7,119.9Z" fill="#0fae12" stroke="#0fae12" stroke-width="0.5"/>
<path d="M525.4,125.0L529.5,123.1 526.1,120.5 522.0,122.4Z" fill="#17b010" stroke="#17b010" stroke-width="0.5"/>
<path d="M528.9,127.7L532.9,125.8 529.5,123.1 525.4,125.0Z" fill="#24b211" stroke="#24b211" stroke-width="0.5"/>
<path d="M532.3,130.5L536.3,128.6 532.9,125.8 528.9,127.7Z" fill="#30b312" stroke="#30b312" stroke-width="0.5"/>
<path d="M535.7,133.4L539.8,131.4 536.3,128.6 532.3,130.5Z" fill="#3bb512" stroke="#3bb512" stroke-width="0.5"/>
<path d="M539.2,136.3L543.2,134.4 539.8,131.4 535.7,133.4Z" fill="#44b814" stroke="#44b814" stroke-width="0.5"/>
<path d="M542.6,139.4L546.7,137.4 543.2,134.4 539.2,136.3Z" fill="#4eba15" stroke="#4eba15" stroke-width="0.5"/>
<path d="M546.1,142.5L550.1,140.5 546.7,137.4 542.6,139.4Z" fill="#56bc15" stroke="#56bc15" stroke-width="0.5"/>
<path d="M549.6,145.7L553.6,143.7 550.1,140.5 546.1,142.5Z" fill="#5ebd16" stroke="#5ebd16" stroke-width="0.5"/>
<path d="M553.0,149.1L557.1,147.0 553.6,143.7 549.6,145.7Z" fill="#64bf17" stroke="#64bf17" stroke-width="0.5"/>
<path d="M556.5,152.5L560.6,150.4 557.1,147.0 553.0,149.1Z" fill="#6ac218" stroke="#6ac218" stroke-width="0.5"/>
<path d="M560.0,156.0L564.1,153.9 560.6,150.4 556.5,152.5Z" fill="#6ec318" stroke="#6ec318" stroke-width="0.5"/>
<path d="M563.5,159.5L567.6,157.4 564.1,153.9 560.0,156.0Z" fill="#73c418" stroke="#73c418" stroke-width="0.5"/>
<path d="M567.0,163.2L571.0,161.1 567.6,157.4 563.5,159.5Z" fill="#75c518" stroke="#75c518" stroke-width="0.5"/>
<path d="M570.5,166.9L574.5,164.8 571.0,161.1 567.0,163.2Z" fill="#77c71a" stroke="#77c71a" stroke-width="0.5"/>
<path d="M574.0,170.7L578.0,168.6 574.5,164.8 570.5,166.9Z" fill="#77c81a" stroke="#77c81a" stroke-width="0.5"/>
<path d="M577.5,174.6L581.5,172.5 578.0,168.6 574.0,170.7Z" fill="#77c919" stroke="#77c919" stroke-width="0.5"/>
<path d="M580.9,178.6L585.0,176.4 581.5,172.5 577.5,174.6Z" fill="#75cb19" stroke="#75cb19" stroke-width="0.5"/>
<path d="M584.4,182.7L588.5,180.5 585.0,176.4 580.9,178.6Z" fill="#72cc19" stroke="#72cc19" stroke-width="0.5"/>
<path d="M587.9,186.8L591.9,184.6 588.5,180.5 584.4,182.7Z" fill="#6fcc19" stroke="#6fcc19" stroke-width="0.5"/>
<path d="M591.4,191.0L595.4,188.8 591.9,184.6 587.9,186.8Z" fill="#69ce18" stroke="#69ce18" stroke-width="0.5"/>
<path d="M594.8,195.3L598.9,193.1 595.4,188.8 591.4,191.0Z" fill="#63ce18" stroke="#63ce18" stroke-width="0.5"/>
<path d="M598.3,199.7L602.3,197.4 598.9,193.1 594.8,195.3Z" fill="#5cd017" stroke="#5cd017" stroke-width="0.5"/>
<path d="M601.7,204.1L605.7,201.9 602.3,197.4 598.3,199.7Z" fill="#54d018" stroke="#54d018" stroke-width="0.5"/>
<path d="M605.1,208.7L609.1,206.4 605.7,201.9 601.7,204.1Z" fill="#49d016" stroke="#49d016" stroke-width="0.5"/>
<path d="M608.5,213.3L612.5,210.9 609.1,206.4 605.1,208.7Z" fill="#3fd015" stroke="#3fd015" stroke-width="0.5"/>
<path d="M611.9,217.9L615.9,215.6 612.5,210.9 608.5,213.3Z" fill="#32d014" stroke="#32d014" stroke-width="0.5"/>
<path d="M615.3,222.7L619.3,220.3 615.9,215.6 611.9,217.9Z" fill="#25d113" stroke="#25d113" stroke-width="0.5"/>
<path d="M618.7,227.5L622.7,225.1 619.3,220.3 615.3,222.7Z" fill="#16cf12" stroke="#16cf12" stroke-width="0.5"/>
<path d="M482.0,101.7L486.0,100.1 482.9,98.6 478.8,100.2Z" fill="#26bfb7" stroke="#26bfb7" stroke-width="0.5"/>
<path d="M485.1,103.3L489.1,101.6 486.0,100.1 482.0,101.7Z" fill="#22bb9e" stroke="#22bb9e" stroke-width="0.5"/>
<path d="M488.3,104.9L492.3,103.2 489.1,101.6 485.1,103.3Z" fill="#1eb687" stroke="#1eb687" stroke-width="0.5"/>
<path d="M491.5,106.7L495.5,105.0 492.3,103.2 488.3,104.9Z" fill="#1ab170" stroke="#1ab170" stroke-width="0.5"/>
<path d="M494.7,108.5L498.8,106.8 495.5,105.0 491.5,106.7Z" fill="#15ac5b" stroke="#15ac5b" stroke-width="0.5"/>
<path d="M498.0,110.5L502.0,108.8 498.8,106.8 494.7,108.5Z" fill="#13a949" stroke="#13a949" stroke-width="0.5"/>
<path d="M501.3,112.5L505.3,110.8 502.0,108.8 498.0,110.5Z" fill="#12ab3d" stroke="#12ab3d" stroke-width="0.5"/>
<path d="M504.6,114.7L508.6,112.9 505.3,110.8 501.3,112.5Z" fill="#11ab32" stroke="#11ab32" stroke-width="0.5"/>
<path d="M507.9,116.9L512.0,115.1 508.6,112.9 504.6,114.7Z" fill="#11ab27" stroke="#11ab27" stroke-width="0.5"/>
<path d="M511.2,119.3L515.3,117.5 512.0,115.1 507.9,116.9Z" fill="#10ac1c" stroke="#10ac1c" stroke-width="0.5"/>
<path d="M514.6,121.7L518.7,119.9 515.3,117.5 511.2,119.3Z" fill="#0fad13" stroke="#0fad13" stroke-width="0.5"/>
<path d="M518.0,124.3L522.0,122.4 518.7,119.9 514.6,121.7Z" fill="#17af10" stroke="#17af10" stroke-width="0.5"/>
<path d="M521.4,126.9L525.4,125.0 522.0,122.4 518.0,124.3Z" fill="#25b011" stroke="#25b011" stroke-width="0.5"/>
<path d="M524.8,129.6L528.9,127.7 525.4,125.0 521.4,126.9Z" fill="#31b212" stroke="#31b212" stroke-width="0.5"/>
<path d="M528.2,132.4L532.3,130.5 528.9,127.7 524.8,129.6Z" fill="#3db513" stroke="#3db513" stroke-width="0.5"/>
<path d="M531.6,135.3L535.7,133.4 532.3,130.5 528.2,132.4Z" fill="#47b714" stroke="#47b714" stroke-width="0.5"/>
<path d="M535.1,138.3L539.2,136.3 535.7,133.4 531.6,135.3Z" fill="#52ba15" stroke="#52ba15" stroke-width="0.5"/>
<path d="M538.5,141.4L542.6,139.4 539.2,136.3 535.1,138.3Z" fill="#5bbb16" stroke="#5bbb16" stroke-width="0.5"/>
<path d="M542.0,144.5L546.1,142.5 542.6,139.4 538.5,141.4Z" fill="#64bd17" stroke="#64bd17" stroke-width="0.5"/>
<path d="M545.5,147.8L549.6,145.7 546.1,142.5 542.0,144.5Z" fill="#6cbf18" stroke="#6cbf18" stroke-width="0.5"/>
<path d="M549.0,151.1L553.0,149.1 549.6,145.7 545.5,147.8Z" fill="#71c018" stroke="#71c018" stroke-width="0.5"/>
<path d="M552.4,154.5L556.5,152.5 553.0,149.1 549.0,151.1Z" fill="#77c319" stroke="#77c319" stroke-width="0.5"/>
<path d="M555.9,158.0L560.0,156.0 556.5,152.5 552.4,154.5Z" fill="#7dc419" stroke="#7dc419" stroke-width="0.5"/>
<path d="M559.4,161.6L563.5,159.5 560.0,156.0 555.9,158.0Z" fill="#81c519" stroke="#81c519" stroke-width="0.5"/>
<path d="M562.9,165.3L567.0,163.2 563.5,159.5 559.4,161.6Z" fill="#84c61a" stroke="#84c61a" stroke-width="0.5"/>
<path d="M566.4,169.1L570.5,166.9 567.0,163.2 562.9,165.3Z" fill="#87c81a" stroke="#87c81a" stroke-width="0.5"/>
<path d="M569.9,172.9L574.0,170.7 570.5,166.9 566.4,169.1Z" fill="#88c91a" stroke="#88c91a" stroke-width="0.5"/>
<path d="M573.4,176.8L577.5,174.6 574.0,170.7 569.9,172.9Z" fill="#86ca1a" stroke="#86ca1a" stroke-width="0.5"/>
<path d="M576.9,180.8L580.9,178.6 577.5,174.6 573.4,176.8Z" fill="#84cc1a" stroke="#84cc1a" stroke-width="0.5"/>
<path d="M580.4,184.9L584.4,182.7 580.9,178.6 576.9,180.8Z" fill="#81cd1b" stroke="#81cd1b" stroke-width="0.5"/>
<path d="M583.8,189.0L587.9,186.8 584.4,182.7 580.4,184.9Z" fill="#7dcf1b" stroke="#7dcf1b" stroke-width="0.5"/>
<path d="M587.3,193.3L591.4,191.0 587.9,186.8 583.8,189.0Z" fill="#78cf1a" stroke="#78cf1a" stroke-width="0.5"/>
<path d="M590.8,197.6L594.8,195.3 591.4,191.0 587.3,193.3Z" fill="#72d01a" stroke="#72d01a" stroke-width="0.5"/>
<path d="M594.2,202.0L598.3,199.7 594.8,195.3 590.8,197.6Z" fill="#6bd119" stroke="#6bd119" stroke-width="0.5"/>
<path d="M597.7,206.4L601.7,204.1 598.3,199.7 594.2,202.0Z" fill="#62d119" stroke="#62d119" stroke-width="0.5"/>
<path d="M601.1,211.0L605.1,208.7 601.7,204.1 597.7,206.4Z" fill="#58d118" stroke="#58d118" stroke-width="0.5"/>
<path d="M604.5,215.6L608.5,213.3 605.1,208.7 601.1,211.0Z" fill="#4ed117" stroke="#4ed117" stroke-width="0.5"/>
<path d="M607.9,220.3L611.9,217.9 608.5,213.3 604.5,215.6Z" fill="#41d115" stroke="#41d115" stroke-width="0.5"/>
<path d="M611.3,225.0L615.3,222.7 611.9,217.9 607.9,220.3Z" fill="#34d214" stroke="#34d214" stroke-width="0.5"/>
<path d="M614.7,229.9L618.7,227.5 615.3,222.7 611.3,225.0Z" fill="#25d213" stroke="#25d213" stroke-width="0.5"/>
<path d="M477.9,103.4L482.0,101.7 478.8,100.2 474.8,101.9Z" fill="#25bdaa" stroke="#25bdaa" stroke-width="0.5"/>
<path d="M481.1,104.9L485.1,103.3 482.0,101.7 477.9,103.4Z" fill="#20b791" stroke="#20b791" stroke-width="0.5"/>
<path d="M484.2,106.6L488.3,104.9 485.1,103.3 481.1,104.9Z" fill="#1bb279" stroke="#1bb279" stroke-width="0.5"/>
<path d="M487.4,108.4L491.5,106.7 488.3,104.9 484.2,106.6Z" fill="#16ae62" stroke="#16ae62" stroke-width="0.5"/>
<path d="M490.7,110.3L494.7,108.5 491.5,106.7 487.4,108.4Z" fill="#13a94d" stroke="#13a94d" stroke-width="0.5"/>
<path d="M493.9,112.3L498.0,110.5 494.7,108.5 490.7,110.3Z" fill="#12a941" stroke="#12a941" stroke-width="0.5"/>
<path d="M497.2,114.3L501.3,112.5 498.0,110.5 493.9,112.3Z" fill="#11aa34" stroke="#11aa34" stroke-width="0.5"/>
<path d="M500.5,116.5L504.6,114.7 501.3,112.5 497.2,114.3Z" fill="#11aa29" stroke="#11aa29" stroke-width="0.5"/>
<path d="M503.8,118.8L507.9,116.9 504.6,114.7 500.5,116.5Z" fill="#10aa1e" stroke="#10aa1e" stroke-width="0.5"/>
<path d="M507.2,121.1L511.2,119.3 507.9,116.9 503.8,118.8Z" fill="#0eac14" stroke="#0eac14" stroke-width="0.5"/>
<path d="M510.5,123.6L514.6,121.7 511.2,119.3 507.2,121.1Z" fill="#15ae10" stroke="#15ae10" stroke-width="0.5"/>
<path d="M513.9,126.1L518.0,124.3 514.6,121.7 510.5,123.6Z" fill="#23af11" stroke="#23af11" stroke-width="0.5"/>
<path d="M517.3,128.8L521.4,126.9 518.0,124.3 513.9,126.1Z" fill="#31b112" stroke="#31b112" stroke-width="0.5"/>
<path d="M520.7,131.5L524.8,129.6 521.4,126.9 517.3,128.8Z" fill="#3eb413" stroke="#3eb413" stroke-width="0.5"/>
<path d="M524.1,134.3L528.2,132.4 524.8,129.6 520.7,131.5Z" fill="#4ab615" stroke="#4ab615" stroke-width="0.5"/>
<path d="M527.5,137.2L531.6,135.3 528.2,132.4 524.1,134.3Z" fill="#55b816" stroke="#55b816" stroke-width="0.5"/>
<path d="M531.0,140.3L535.1,138.3 531.6,135.3 527.5,137.2Z" fill="#5fba16" stroke="#5fba16" stroke-width="0.5"/>
<path d="M534.5,143.3L538.5,141.4 535.1,138.3 531.0,140.3Z" fill="#69bd17" stroke="#69bd17" stroke-width="0.5"/>
<path d="M537.9,146.5L542.0,144.5 538.5,141.4 534.5,143.3Z" fill="#71be19" stroke="#71be19" stroke-width="0.5"/>
<path d="M541.4,149.8L545.5,147.8 542.0,144.5 537.9,146.5Z" fill="#79c019" stroke="#79c019" stroke-width="0.5"/>
<path d="M544.9,153.2L549.0,151.1 545.5,147.8 541.4,149.8Z" fill="#81c119" stroke="#81c119" stroke-width="0.5"/>
<path d="M548.4,156.6L552.4,154.5 549.0,151.1 544.9,153.2Z" fill="#88c419" stroke="#88c419" stroke-width="0.5"/>
<path d="M551.8,160.1L555.9,158.0 552.4,154.5 548.4,156.6Z" fill="#8ec519" stroke="#8ec519" stroke-width="0.5"/>
<path d="M555.3,163.7L559.4,161.6 555.9,158.0 551.8,160.1Z" fill="#92c619" stroke="#92c619" stroke-width="0.5"/>
<path d="M558.8,167.4L562.9,165.3 559.4,161.6 555.3,163.7Z" fill="#96c71a" stroke="#96c71a" stroke-width="0.5"/>
<path d="M562.3,171.2L566.4,169.1 562.9,165.3 558.8,167.4Z" fill="#98c91a" stroke="#98c91a" stroke-width="0.5"/>
<path d="M565.8,175.1L569.9,172.9 566.4,169.1 562.3,171.2Z" fill="#99ca1a" stroke="#99ca1a" stroke-width="0.5"/>
<path d="M569.3,179.0L573.4,176.8 569.9,172.9 565.8,175.1Z" fill="#99cb1a" stroke="#99cb1a" stroke-width="0.5"/>
<path d="M572.8,183.0L576.9,180.8 573.4,176.8 569.3,179.0Z" fill="#96cd1a" stroke="#96cd1a" stroke-width="0.5"/>
<path d="M576.3,187.1L580.4,184.9 576.9,180.8 572.8,183.0Z" fill="#93ce1a" stroke="#93ce1a" stroke-width="0.5"/>
<path d="M579.8,191.3L583.8,189.0 580.4,184.9 576.3,187.1Z" fill="#8ed01b" stroke="#8ed01b" stroke-width="0.5"/>
<path d="M583.2,195.5L587.3,193.3 583.8,189.0 579.8,191.3Z" fill="#88d01b" stroke="#88d01b" stroke-width="0.5"/>
<path d="M586.7,199.9L590.8,197.6 587.3,193.3 583.2,195.5Z" fill="#80d11b" stroke="#80d11b" stroke-width="0.5"/>
<path d="M590.2,204.3L594.2,202.0 590.8,197.6 586.7,199.9Z" fill="#79d21a" stroke="#79d21a" stroke-width="0.5"/>
<path d="M593.6,208.7L597.7,206.4 594.2,202.0 590.2,204.3Z" fill="#71d21a" stroke="#71d21a" stroke-width="0.5"/>
<path d="M597.0,213.3L601.1,211.0 597.7,206.4 593.6,208.7Z" fill="#67d219" stroke="#67d219" stroke-width="0.5"/>
<path d="M600.5,217.9L604.5,215.6 601.1,211.0 597.0,213.3Z" fill="#5dd218" stroke="#5dd218" stroke-width="0.5"/>
<path d="M603.9,222.6L607.9,220.3 604.5,215.6 600.5,217.9Z" fill="#50d317" stroke="#50d317" stroke-width="0.5"/>
<path d="M607.3,227.4L611.3,225.0 607.9,220.3 603.9,222.6Z" fill="#43d315" stroke="#43d315" stroke-width="0.5"/>
<path d="M610.6,232.2L614.7,229.9 611.3,225.0 607.3,227.4Z" fill="#34d314" stroke="#34d314" stroke-width="0.5"/>
<path d="M473.9,105.0L477.9,103.4 474.8,101.9 470.8,103.5Z" fill="#21ba9c" stroke="#21ba9c" stroke-width="0.5"/>
<path d="M477.0,106.6L481.1,104.9 477.9,103.4 473.9,105.0Z" fill="#1db483" stroke="#1db483" stroke-width="0.5"/>
<path d="M480.2,108.3L484.2,106.6 481.1,104.9 477.0,106.6Z" fill="#19af6b" stroke="#19af6b" stroke-width="0.5"/>
<path d="M483.4,110.1L487.4,108.4 484.2,106.6 480.2,108.3Z" fill="#14aa55" stroke="#14aa55" stroke-width="0.5"/>
<path d="M486.6,112.0L490.7,110.3 487.4,108.4 483.4,110.1Z" fill="#12a845" stroke="#12a845" stroke-width="0.5"/>
<path d="M489.8,114.0L493.9,112.3 490.7,110.3 486.6,112.0Z" fill="#12a939" stroke="#12a939" stroke-width="0.5"/>
<path d="M493.1,116.1L497.2,114.3 493.9,112.3 489.8,114.0Z" fill="#11a92c" stroke="#11a92c" stroke-width="0.5"/>
<path d="M496.4,118.3L500.5,116.5 497.2,114.3 493.1,116.1Z" fill="#0faa21" stroke="#0faa21" stroke-width="0.5"/>
<path d="M499.7,120.6L503.8,118.8 500.5,116.5 496.4,118.3Z" fill="#0eab16" stroke="#0eab16" stroke-width="0.5"/>
<path d="M503.1,123.0L507.2,121.1 503.8,118.8 499.7,120.6Z" fill="#13ac0e" stroke="#13ac0e" stroke-width="0.5"/>
<path d="M506.4,125.5L510.5,123.6 507.2,121.1 503.1,123.0Z" fill="#22ae11" stroke="#22ae11" stroke-width="0.5"/>
<path d="M509.8,128.0L513.9,126.1 510.5,123.6 506.4,125.5Z" fill="#31b012" stroke="#31b012" stroke-width="0.5"/>
<path d="M513.2,130.7L517.3,128.8 513.9,126.1 509.8,128.0Z" fill="#3eb313" stroke="#3eb313" stroke-width="0.5"/>
<path d="M516.6,133.4L520.7,131.5 517.3,128.8 513.2,130.7Z" fill="#4bb514" stroke="#4bb514" stroke-width="0.5"/>
<path d="M520.0,136.3L524.1,134.3 520.7,131.5 516.6,133.4Z" fill="#57b716" stroke="#57b716" stroke-width="0.5"/>
<path d="M523.4,139.2L527.5,137.2 524.1,134.3 520.0,136.3Z" fill="#62b917" stroke="#62b917" stroke-width="0.5"/>
<path d="M526.9,142.2L531.0,140.3 527.5,137.2 523.4,139.2Z" fill="#6cbb17" stroke="#6cbb17" stroke-width="0.5"/>
<path d="M530.3,145.4L534.5,143.3 531.0,140.3 526.9,142.2Z" fill="#76bd18" stroke="#76bd18" stroke-width="0.5"/>
<path d="M533.8,148.6L537.9,146.5 534.5,143.3 530.3,145.4Z" fill="#80bf19" stroke="#80bf19" stroke-width="0.5"/>
<path d="M537.3,151.8L541.4,149.8 537.9,146.5 533.8,148.6Z" fill="#8ac119" stroke="#8ac119" stroke-width="0.5"/>
<path d="M540.8,155.2L544.9,153.2 541.4,149.8 537.3,151.8Z" fill="#92c219" stroke="#92c219" stroke-width="0.5"/>
<path d="M544.2,158.7L548.4,156.6 544.9,153.2 540.8,155.2Z" fill="#9ac319" stroke="#9ac319" stroke-width="0.5"/>
<path d="M547.7,162.2L551.8,160.1 548.4,156.6 544.2,158.7Z" fill="#a0c619" stroke="#a0c619" stroke-width="0.5"/>
<path d="M551.2,165.8L555.3,163.7 551.8,160.1 547.7,162.2Z" fill="#a4c719" stroke="#a4c719" stroke-width="0.5"/>
<path d="M554.7,169.6L558.8,167.4 555.3,163.7 551.2,165.8Z" fill="#a7c81a" stroke="#a7c81a" stroke-width="0.5"/>
<path d="M558.2,173.3L562.3,171.2 558.8,167.4 554.7,169.6Z" fill="#a9ca1a" stroke="#a9ca1a" stroke-width="0.5"/>
<path d="M561.7,177.2L565.8,175.1 562.3,171.2 558.2,173.3Z" fill="#aacb1a" stroke="#aacb1a" stroke-width="0.5"/>
<path d="M565.2,181.2L569.3,179.0 565.8,175.1 561.7,177.2Z" fill="#aacc1a" stroke="#aacc1a" stroke-width="0.5"/>
<path d="M568.7,185.2L572.8,183.0 569.3,179.0 565.2,181.2Z" fill="#a8ce1a" stroke="#a8ce1a" stroke-width="0.5"/>
<path d="M572.2,189.3L576.3,187.1 572.8,183.0 568.7,185.2Z" fill="#a5cf1a" stroke="#a5cf1a" stroke-width="0.5"/>
<path d="M575.7,193.5L579.8,191.3 576.3,187.1 572.2,189.3Z" fill="#a0cf1b" stroke="#a0cf1b" stroke-width="0.5"/>
<path d="M579.1,197.8L583.2,195.5 579.8,191.3 575.7,193.5Z" fill="#9ad11b" stroke="#9ad11b" stroke-width="0.5"/>
<path d="M582.6,202.1L586.7,199.9 583.2,195.5 579.1,197.8Z" fill="#92d21b" stroke="#92d21b" stroke-width="0.5"/>
<path d="M586.1,206.6L590.2,204.3 586.7,199.9 582.6,202.1Z" fill="#89d31b" stroke="#89d31b" stroke-width="0.5"/>
<path d="M589.5,211.0L593.6,208.7 590.2,204.3 586.1,206.6Z" fill="#7fd41b" stroke="#7fd41b" stroke-width="0.5"/>
<path d="M593.0,215.6L597.0,213.3 593.6,208.7 589.5,211.0Z" fill="#75d51a" stroke="#75d51a" stroke-width="0.5"/>
<path d="M596.4,220.3L600.5,217.9 597.0,213.3 593.0,215.6Z" fill="#6bd519" stroke="#6bd519" stroke-width="0.5"/>
<path d="M599.8,225.0L603.9,222.6 600.5,217.9 596.4,220.3Z" fill="#5fd518" stroke="#5fd518" stroke-width="0.5"/>
<path d="M603.2,229.8L607.3,227.4 603.9,222.6 599.8,225.0Z" fill="#52d417" stroke="#52d417" stroke-width="0.5"/>
<path d="M606.6,234.6L610.6,232.2 607.3,227.4 603.2,229.8Z" fill="#43d416" stroke="#43d416" stroke-width="0.5"/>
<path d="M469.8,106.7L473.9,105.0 470.8,103.5 466.7,105.2Z" fill="#1fb78e" stroke="#1fb78e" stroke-width="0.5"/>
<path d="M472.9,108.3L477.0,106.6 473.9,105.0 469.8,106.7Z" fill="#1ab176" stroke="#1ab176" stroke-width="0.5"/>
<path d="M476.1,110.1L480.2,108.3 477.0,106.6 472.9,108.3Z" fill="#16ac5e" stroke="#16ac5e" stroke-width="0.5"/>
<path d="M479.3,111.9L483.4,110.1 480.2,108.3 476.1,110.1Z" fill="#13a84a" stroke="#13a84a" stroke-width="0.5"/>
<path d="M482.5,113.8L486.6,112.0 483.4,110.1 479.3,111.9Z" fill="#12a93d" stroke="#12a93d" stroke-width="0.5"/>
<path d="M485.8,115.8L489.8,114.0 486.6,112.0 482.5,113.8Z" fill="#11a92f" stroke="#11a92f" stroke-width="0.5"/>
<path d="M489.0,117.9L493.1,116.1 489.8,114.0 485.8,115.8Z" fill="#0fa924" stroke="#0fa924" stroke-width="0.5"/>
<path d="M492.3,120.1L496.4,118.3 493.1,116.1 489.0,117.9Z" fill="#0faa19" stroke="#0faa19" stroke-width="0.5"/>
<path d="M495.6,122.4L499.7,120.6 496.4,118.3 492.3,120.1Z" fill="#0fab0e" stroke="#0fab0e" stroke-width="0.5"/>
<path d="M499.0,124.8L503.1,123.0 499.7,120.6 495.6,122.4Z" fill="#20ad10" stroke="#20ad10" stroke-width="0.5"/>
<path d="M502.3,127.3L506.4,125.5 503.1,123.0 499.0,124.8Z" fill="#30af12" stroke="#30af12" stroke-width="0.5"/>
<path d="M505.7,129.9L509.8,128.0 506.4,125.5 502.3,127.3Z" fill="#3eb213" stroke="#3eb213" stroke-width="0.5"/>
<path d="M509.1,132.6L513.2,130.7 509.8,128.0 505.7,129.9Z" fill="#4cb414" stroke="#4cb414" stroke-width="0.5"/>
<path d="M512.5,135.4L516.6,133.4 513.2,130.7 509.1,132.6Z" fill="#58b616" stroke="#58b616" stroke-width="0.5"/>
<path d="M515.9,138.2L520.0,136.3 516.6,133.4 512.5,135.4Z" fill="#64b817" stroke="#64b817" stroke-width="0.5"/>
<path d="M519.3,141.2L523.4,139.2 520.0,136.3 515.9,138.2Z" fill="#6fba18" stroke="#6fba18" stroke-width="0.5"/>
<path d="M522.8,144.2L526.9,142.2 523.4,139.2 519.3,141.2Z" fill="#7bbc18" stroke="#7bbc18" stroke-width="0.5"/>
<path d="M526.2,147.4L530.3,145.4 526.9,142.2 522.8,144.2Z" fill="#87be18" stroke="#87be18" stroke-width="0.5"/>
<path d="M529.7,150.6L533.8,148.6 530.3,145.4 526.2,147.4Z" fill="#91bf19" stroke="#91bf19" stroke-width="0.5"/>
<path d="M533.1,153.9L537.3,151.8 533.8,148.6 529.7,150.6Z" fill="#9ac219" stroke="#9ac219" stroke-width="0.5"/>
<path d="M536.6,157.3L540.8,155.2 537.3,151.8 533.1,153.9Z" fill="#a4c319" stroke="#a4c319" stroke-width="0.5"/>
<path d="M540.1,160.8L544.2,158.7 540.8,155.2 536.6,157.3Z" fill="#abc419" stroke="#abc419" stroke-width="0.5"/>
<path d="M543.6,164.3L547.7,162.2 544.2,158.7 540.1,160.8Z" fill="#b1c519" stroke="#b1c519" stroke-width="0.5"/>
<path d="M547.1,168.0L551.2,165.8 547.7,162.2 543.6,164.3Z" fill="#b5c819" stroke="#b5c819" stroke-width="0.5"/>
<path d="M550.6,171.7L554.7,169.6 551.2,165.8 547.1,168.0Z" fill="#b8c919" stroke="#b8c919" stroke-width="0.5"/>
<path d="M554.1,175.5L558.2,173.3 554.7,169.6 550.6,171.7Z" fill="#bacb1a" stroke="#bacb1a" stroke-width="0.5"/>
<path d="M557.6,179.4L561.7,177.2 558.2,173.3 554.1,175.5Z" fill="#bccc1a" stroke="#bccc1a" stroke-width="0.5"/>
<path d="M561.1,183.4L565.2,181.2 561.7,177.2 557.6,179.4Z" fill="#bccd1a" stroke="#bccd1a" stroke-width="0.5"/>
<path d="M564.6,187.4L568.7,185.2 565.2,181.2 561.1,183.4Z" fill="#b9cf1a" stroke="#b9cf1a" stroke-width="0.5"/>
<path d="M568.1,191.6L572.2,189.3 568.7,185.2 564.6,187.4Z" fill="#b7cf1a" stroke="#b7cf1a" stroke-width="0.5"/>
<path d="M571.5,195.8L575.7,193.5 572.2,189.3 568.1,191.6Z" fill="#b2d01b" stroke="#b2d01b" stroke-width="0.5"/>
<path d="M575.0,200.1L579.1,197.8 575.7,193.5 571.5,195.8Z" fill="#abd21b" stroke="#abd21b" stroke-width="0.5"/>
<path d="M578.5,204.4L582.6,202.1 579.1,197.8 575.0,200.1Z" fill="#a4d21b" stroke="#a4d21b" stroke-width="0.5"/>
<path d="M582.0,208.9L586.1,206.6 582.6,202.1 578.5,204.4Z" fill="#9bd41b" stroke="#9bd41b" stroke-width="0.5"/>
<path d="M585.4,213.4L589.5,211.0 586.1,206.6 582.0,208.9Z" fill="#90d41b" stroke="#90d41b" stroke-width="0.5"/>
<path d="M588.9,217.9L593.0,215.6 589.5,211.0 585.4,213.4Z" fill="#84d61c" stroke="#84d61c" stroke-width="0.5"/>
<path d="M592.3,222.6L596.4,220.3 593.0,215.6 588.9,217.9Z" fill="#7ad61a" stroke="#7ad61a" stroke-width="0.5"/>
<path d="M595.7,227.3L599.8,225.0 596.4,220.3 592.3,222.6Z" fill="#6ed619" stroke="#6ed619" stroke-width="0.5"/>
<path d="M599.1,232.1L603.2,229.8 599.8,225.0 595.7,227.3Z" fill="#61d618" stroke="#61d618" stroke-width="0.5"/>
<path d="M602.5,237.0L606.6,234.6 603.2,229.8 599.1,232.1Z" fill="#52d517" stroke="#52d517" stroke-width="0.5"/>
<path d="M465.7,108.4L469.8,106.7 466.7,105.2 462.6,106.9Z" fill="#1cb480" stroke="#1cb480" stroke-width="0.5"/>
<path d="M468.8,110.1L472.9,108.3 469.8,106.7 465.7,108.4Z" fill="#17ae67" stroke="#17ae67" stroke-width="0.5"/>
<path d="M472.0,111.8L476.1,110.1 472.9,108.3 468.8,110.1Z" fill="#14a950" stroke="#14a950" stroke-width="0.5"/>
<path d="M475.2,113.7L479.3,111.9 476.1,110.1 472.0,111.8Z" fill="#12a741" stroke="#12a741" stroke-width="0.5"/>
<path d="M478.4,115.6L482.5,113.8 479.3,111.9 475.2,113.7Z" fill="#11a834" stroke="#11a834" stroke-width="0.5"/>
<path d="M481.6,117.6L485.8,115.8 482.5,113.8 478.4,115.6Z" fill="#11a827" stroke="#11a827" stroke-width="0.5"/>
<path d="M484.9,119.8L489.0,117.9 485.8,115.8 481.6,117.6Z" fill="#0faa1c" stroke="#0faa1c" stroke-width="0.5"/>
<path d="M488.2,122.0L492.3,120.1 489.0,117.9 484.9,119.8Z" fill="#0eaa11" stroke="#0eaa11" stroke-width="0.5"/>
<path d="M491.5,124.3L495.6,122.4 492.3,120.1 488.2,122.0Z" fill="#1cab0f" stroke="#1cab0f" stroke-width="0.5"/>
<path d="M494.8,126.7L499.0,124.8 495.6,122.4 491.5,124.3Z" fill="#2cae11" stroke="#2cae11" stroke-width="0.5"/>
<path d="M498.2,129.2L502.3,127.3 499.0,124.8 494.8,126.7Z" fill="#3cb113" stroke="#3cb113" stroke-width="0.5"/>
<path d="M501.5,131.8L505.7,129.9 502.3,127.3 498.2,129.2Z" fill="#4ab314" stroke="#4ab314" stroke-width="0.5"/>
<path d="M504.9,134.5L509.1,132.6 505.7,129.9 501.5,131.8Z" fill="#58b515" stroke="#58b515" stroke-width="0.5"/>
<path d="M508.3,137.3L512.5,135.4 509.1,132.6 504.9,134.5Z" fill="#65b817" stroke="#65b817" stroke-width="0.5"/>
<path d="M511.7,140.2L515.9,138.2 512.5,135.4 508.3,137.3Z" fill="#72ba18" stroke="#72ba18" stroke-width="0.5"/>
<path d="M515.2,143.2L519.3,141.2 515.9,138.2 511.7,140.2Z" fill="#7ebb18" stroke="#7ebb18" stroke-width="0.5"/>
<path d="M518.6,146.3L522.8,144.2 519.3,141.2 515.2,143.2Z" fill="#8bbd18" stroke="#8bbd18" stroke-width="0.5"/>
<path d="M522.1,149.4L526.2,147.4 522.8,144.2 518.6,146.3Z" fill="#97bf18" stroke="#97bf18" stroke-width="0.5"/>
<path d="M525.5,152.6L529.7,150.6 526.2,147.4 522.1,149.4Z" fill="#a1c018" stroke="#a1c018" stroke-width="0.5"/>
<path d="M529.0,156.0L533.1,153.9 529.7,150.6 525.5,152.6Z" fill="#acc119" stroke="#acc119" stroke-width="0.5"/>
<path d="M532.5,159.4L536.6,157.3 533.1,153.9 529.0,156.0Z" fill="#b4c419" stroke="#b4c419" stroke-width="0.5"/>
<path d="M535.9,162.9L540.1,160.8 536.6,157.3 532.5,159.4Z" fill="#bbc519" stroke="#bbc519" stroke-width="0.5"/>
<path d="M539.4,166.5L543.6,164.3 540.1,160.8 535.9,162.9Z" fill="#bec619" stroke="#bec619" stroke-width="0.5"/>
<path d="M542.9,170.1L547.1,168.0 543.6,164.3 539.4,166.5Z" fill="#bfc819" stroke="#bfc819" stroke-width="0.5"/>
<path d="M546.4,173.9L550.6,171.7 547.1,168.0 542.9,170.1Z" fill="#c1c919" stroke="#c1c919" stroke-width="0.5"/>
<path d="M549.9,177.7L554.1,175.5 550.6,171.7 546.4,173.9Z" fill="#c3ca1a" stroke="#c3ca1a" stroke-width="0.5"/>
<path d="M553.4,181.6L557.6,179.4 554.1,175.5 549.9,177.7Z" fill="#c4cc1a" stroke="#c4cc1a" stroke-width="0.5"/>
<path d="M556.9,185.6L561.1,183.4 557.6,179.4 553.4,181.6Z" fill="#c6cd1a" stroke="#c6cd1a" stroke-width="0.5"/>
<path d="M560.4,189.7L564.6,187.4 561.1,183.4 556.9,185.6Z" fill="#c6cf1a" stroke="#c6cf1a" stroke-width="0.5"/>
<path d="M563.9,193.8L568.1,191.6 564.6,187.4 560.4,189.7Z" fill="#c6d01a" stroke="#c6d01a" stroke-width="0.5"/>
<path d="M567.4,198.0L571.5,195.8 568.1,191.6 563.9,193.8Z" fill="#c3d21b" stroke="#c3d21b" stroke-width="0.5"/>
<path d="M570.9,202.3L575.0,200.1 571.5,195.8 567.4,198.0Z" fill="#bdd31b" stroke="#bdd31b" stroke-width="0.5"/>
<path d="M574.4,206.7L578.5,204.4 575.0,200.1 570.9,202.3Z" fill="#b7d31b" stroke="#b7d31b" stroke-width="0.5"/>
<path d="M577.8,211.2L582.0,208.9 578.5,204.4 574.4,206.7Z" fill="#add51b" stroke="#add51b" stroke-width="0.5"/>
<path d="M581.3,215.7L585.4,213.4 582.0,208.9 577.8,211.2Z" fill="#a3d51b" stroke="#a3d51b" stroke-width="0.5"/>
<path d="M584.7,220.3L588.9,217.9 585.4,213.4 581.3,215.7Z" fill="#97d71c" stroke="#97d71c" stroke-width="0.5"/>
<path d="M588.2,225.0L592.3,222.6 588.9,217.9 584.7,220.3Z" fill="#89d71c" stroke="#89d71c" stroke-width="0.5"/>
<path d="M591.6,229.7L595.7,227.3 592.3,222.6 588.2,225.0Z" fill="#7cd71b" stroke="#7cd71b" stroke-width="0.5"/>
<path d="M595.0,234.5L599.1,232.1 595.7,227.3 591.6,229.7Z" fill="#70d719" stroke="#70d719" stroke-width="0.5"/>
<path d="M598.4,239.4L602.5,237.0 599.1,232.1 595.0,234.5Z" fill="#60d818" stroke="#60d818" stroke-width="0.5"/>
<path d="M461.6,110.2L465.7,108.4 462.6,106.9 458.5,108.6Z" fill="#1aaf73" stroke="#1aaf73" stroke-width="0.5"/>
<path d="M464.7,111.8L468.8,110.1 465.7,108.4 461.6,110.2Z" fill="#15aa5a" stroke="#15aa5a" stroke-width="0.5"/>
<path d="M467.9,113.6L472.0,111.8 468.8,110.1 464.7,111.8Z" fill="#13a747" stroke="#13a747" stroke-width="0.5"/>
<path d="M471.1,115.4L475.2,113.7 472.0,111.8 467.9,113.6Z" fill="#12a839" stroke="#12a839" stroke-width="0.5"/>
<path d="M474.3,117.4L478.4,115.6 475.2,113.7 471.1,115.4Z" fill="#10a82c" stroke="#10a82c" stroke-width="0.5"/>
<path d="M477.5,119.4L481.6,117.6 478.4,115.6 474.3,117.4Z" fill="#0fa81f" stroke="#0fa81f" stroke-width="0.5"/>
<path d="M480.8,121.6L484.9,119.8 481.6,117.6 477.5,119.4Z" fill="#0ea914" stroke="#0ea914" stroke-width="0.5"/>
<path d="M484.0,123.8L488.2,122.0 484.9,119.8 480.8,121.6Z" fill="#18ab0f" stroke="#18ab0f" stroke-width="0.5"/>
<path d="M487.4,126.2L491.5,124.3 488.2,122.0 484.0,123.8Z" fill="#29ad11" stroke="#29ad11" stroke-width="0.5"/>
<path d="M490.7,128.6L494.8,126.7 491.5,124.3 487.4,126.2Z" fill="#3aaf12" stroke="#3aaf12" stroke-width="0.5"/>
<path d="M494.0,131.2L498.2,129.2 494.8,126.7 490.7,128.6Z" fill="#49b214" stroke="#49b214" stroke-width="0.5"/>
<path d="M497.4,133.8L501.5,131.8 498.2,129.2 494.0,131.2Z" fill="#57b315" stroke="#57b315" stroke-width="0.5"/>
<path d="M500.8,136.5L504.9,134.5 501.5,131.8 497.4,133.8Z" fill="#65b717" stroke="#65b717" stroke-width="0.5"/>
<path d="M504.2,139.3L508.3,137.3 504.9,134.5 500.8,136.5Z" fill="#72b918" stroke="#72b918" stroke-width="0.5"/>
<path d="M507.6,142.2L511.7,140.2 508.3,137.3 504.2,139.3Z" fill="#80bb18" stroke="#80bb18" stroke-width="0.5"/>
<path d="M511.0,145.2L515.2,143.2 511.7,140.2 507.6,142.2Z" fill="#8ebc18" stroke="#8ebc18" stroke-width="0.5"/>
<path d="M514.4,148.3L518.6,146.3 515.2,143.2 511.0,145.2Z" fill="#9cbe18" stroke="#9cbe18" stroke-width="0.5"/>
<path d="M517.9,151.4L522.1,149.4 518.6,146.3 514.4,148.3Z" fill="#a7bf18" stroke="#a7bf18" stroke-width="0.5"/>
<path d="M521.3,154.7L525.5,152.6 522.1,149.4 517.9,151.4Z" fill="#b2c118" stroke="#b2c118" stroke-width="0.5"/>
<path d="M524.8,158.0L529.0,156.0 525.5,152.6 521.3,154.7Z" fill="#bac219" stroke="#bac219" stroke-width="0.5"/>
<path d="M528.3,161.5L532.5,159.4 529.0,156.0 524.8,158.0Z" fill="#bcc319" stroke="#bcc319" stroke-width="0.5"/>
<path d="M531.8,165.0L535.9,162.9 532.5,159.4 528.3,161.5Z" fill="#bfc519" stroke="#bfc519" stroke-width="0.5"/>
<path d="M535.3,168.6L539.4,166.5 535.9,162.9 531.8,165.0Z" fill="#c1c518" stroke="#c1c518" stroke-width="0.5"/>
<path d="M538.8,172.3L542.9,170.1 539.4,166.5 535.3,168.6Z" fill="#c2c618" stroke="#c2c618" stroke-width="0.5"/>
<path d="M542.3,176.0L546.4,173.9 542.9,170.1 538.8,172.3Z" fill="#c5c718" stroke="#c5c718" stroke-width="0.5"/>
<path d="M545.8,179.9L549.9,177.7 546.4,173.9 542.3,176.0Z" fill="#c6c918" stroke="#c6c918" stroke-width="0.5"/>
<path d="M549.3,183.8L553.4,181.6 549.9,177.7 545.8,179.9Z" fill="#c8ca19" stroke="#c8ca19" stroke-width="0.5"/>
<path d="M552.8,187.8L556.9,185.6 553.4,181.6 549.3,183.8Z" fill="#c8cc19" stroke="#c8cc19" stroke-width="0.5"/>
<path d="M556.2,191.9L560.4,189.7 556.9,185.6 552.8,187.8Z" fill="#c9cd19" stroke="#c9cd19" stroke-width="0.5"/>
<path d="M559.7,196.1L563.9,193.8 560.4,189.7 556.2,191.9Z" fill="#c9ce19" stroke="#c9ce19" stroke-width="0.5"/>
<path d="M563.2,200.3L567.4,198.0 563.9,193.8 559.7,196.1Z" fill="#cad11b" stroke="#cad11b" stroke-width="0.5"/>
<path d="M566.7,204.6L570.9,202.3 567.4,198.0 563.2,200.3Z" fill="#cad31b" stroke="#cad31b" stroke-width="0.5"/>
<path d="M570.2,209.0L574.4,206.7 570.9,202.3 566.7,204.6Z" fill="#c7d41b" stroke="#c7d41b" stroke-width="0.5"/>
<path d="M573.7,213.5L577.8,211.2 574.4,206.7 570.2,209.0Z" fill="#c0d51b" stroke="#c0d51b" stroke-width="0.5"/>
<path d="M577.1,218.0L581.3,215.7 577.8,211.2 573.7,213.5Z" fill="#b5d61b" stroke="#b5d61b" stroke-width="0.5"/>
<path d="M580.6,222.6L584.7,220.3 581.3,215.7 577.1,218.0Z" fill="#a9d61c" stroke="#a9d61c" stroke-width="0.5"/>
<path d="M584.0,227.3L588.2,225.0 584.7,220.3 580.6,222.6Z" fill="#9cd81c" stroke="#9cd81c" stroke-width="0.5"/>
<path d="M587.5,232.1L591.6,229.7 588.2,225.0 584.0,227.3Z" fill="#8cd81c" stroke="#8cd81c" stroke-width="0.5"/>
<path d="M590.9,236.9L595.0,234.5 591.6,229.7 587.5,232.1Z" fill="#7dd91b" stroke="#7dd91b" stroke-width="0.5"/>
<path d="M594.3,241.8L598.4,239.4 595.0,234.5 590.9,236.9Z" fill="#6fd91a" stroke="#6fd91a" stroke-width="0.5"/>
<path d="M457.5,111.9L461.6,110.2 458.5,108.6 454.4,110.3Z" fill="#17ac66" stroke="#17ac66" stroke-width="0.5"/>
<path d="M460.6,113.6L464.7,111.8 461.6,110.2 457.5,111.9Z" fill="#13a74e" stroke="#13a74e" stroke-width="0.5"/>
<path d="M463.8,115.4L467.9,113.6 464.7,111.8 460.6,113.6Z" fill="#12a73f" stroke="#12a73f" stroke-width="0.5"/>
<path d="M466.9,117.2L471.1,115.4 467.9,113.6 463.8,115.4Z" fill="#10a731" stroke="#10a731" stroke-width="0.5"/>
<path d="M470.1,119.2L474.3,117.4 471.1,115.4 466.9,117.2Z" fill="#0fa724" stroke="#0fa724" stroke-width="0.5"/>
<path d="M473.4,121.3L477.5,119.4 474.3,117.4 470.1,119.2Z" fill="#0fa817" stroke="#0fa817" stroke-width="0.5"/>
<path d="M476.6,123.5L480.8,121.6 477.5,119.4 473.4,121.3Z" fill="#13a90e" stroke="#13a90e" stroke-width="0.5"/>
<path d="M479.9,125.7L484.0,123.8 480.8,121.6 476.6,123.5Z" fill="#25ab10" stroke="#25ab10" stroke-width="0.5"/>
<path d="M483.2,128.1L487.4,126.2 484.0,123.8 479.9,125.7Z" fill="#36ae12" stroke="#36ae12" stroke-width="0.5"/>
<path d="M486.5,130.5L490.7,128.6 487.4,126.2 483.2,128.1Z" fill="#46b113" stroke="#46b113" stroke-width="0.5"/>
<path d="M489.9,133.1L494.0,131.2 490.7,128.6 486.5,130.5Z" fill="#55b215" stroke="#55b215" stroke-width="0.5"/>
<path d="M493.2,135.7L497.4,133.8 494.0,131.2 489.9,133.1Z" fill="#64b516" stroke="#64b516" stroke-width="0.5"/>
<path d="M496.6,138.5L500.8,136.5 497.4,133.8 493.2,135.7Z" fill="#71b718" stroke="#71b718" stroke-width="0.5"/>
<path d="M500.0,141.3L504.2,139.3 500.8,136.5 496.6,138.5Z" fill="#82b918" stroke="#82b918" stroke-width="0.5"/>
<path d="M503.4,144.2L507.6,142.2 504.2,139.3 500.0,141.3Z" fill="#90ba18" stroke="#90ba18" stroke-width="0.5"/>
<path d="M506.8,147.2L511.0,145.2 507.6,142.2 503.4,144.2Z" fill="#9fbc18" stroke="#9fbc18" stroke-width="0.5"/>
<path d="M510.2,150.3L514.4,148.3 511.0,145.2 506.8,147.2Z" fill="#acbf18" stroke="#acbf18" stroke-width="0.5"/>
<path d="M513.7,153.5L517.9,151.4 514.4,148.3 510.2,150.3Z" fill="#b6c018" stroke="#b6c018" stroke-width="0.5"/>
<path d="M517.2,156.8L521.3,154.7 517.9,151.4 513.7,153.5Z" fill="#bac118" stroke="#bac118" stroke-width="0.5"/>
<path d="M520.6,160.1L524.8,158.0 521.3,154.7 517.2,156.8Z" fill="#bcc117" stroke="#bcc117" stroke-width="0.5"/>
<path d="M524.1,163.6L528.3,161.5 524.8,158.0 520.6,160.1Z" fill="#c0c218" stroke="#c0c218" stroke-width="0.5"/>
<path d="M527.6,167.1L531.8,165.0 528.3,161.5 524.1,163.6Z" fill="#c2c318" stroke="#c2c318" stroke-width="0.5"/>
<path d="M531.1,170.7L535.3,168.6 531.8,165.0 527.6,167.1Z" fill="#c4c418" stroke="#c4c418" stroke-width="0.5"/>
<path d="M534.6,174.4L538.8,172.3 535.3,168.6 531.1,170.7Z" fill="#c6c618" stroke="#c6c618" stroke-width="0.5"/>
<path d="M538.1,178.2L542.3,176.0 538.8,172.3 534.6,174.4Z" fill="#c8c718" stroke="#c8c718" stroke-width="0.5"/>
<path d="M541.6,182.1L545.8,179.9 542.3,176.0 538.1,178.2Z" fill="#cac818" stroke="#cac818" stroke-width="0.5"/>
<path d="M545.1,186.0L549.3,183.8 545.8,179.9 541.6,182.1Z" fill="#cbca18" stroke="#cbca18" stroke-width="0.5"/>
<path d="M548.6,190.0L552.8,187.8 549.3,183.8 545.1,186.0Z" fill="#cbcb19" stroke="#cbcb19" stroke-width="0.5"/>
<path d="M552.1,194.1L556.2,191.9 552.8,187.8 548.6,190.0Z" fill="#cdcd19" stroke="#cdcd19" stroke-width="0.5"/>
<path d="M555.6,198.3L559.7,196.1 556.2,191.9 552.1,194.1Z" fill="#cdce19" stroke="#cdce19" stroke-width="0.5"/>
<path d="M559.0,202.6L563.2,200.3 559.7,196.1 555.6,198.3Z" fill="#cdd019" stroke="#cdd019" stroke-width="0.5"/>
<path d="M562.5,206.9L566.7,204.6 563.2,200.3 559.0,202.6Z" fill="#cdd119" stroke="#cdd119" stroke-width="0.5"/>
<path d="M566.0,211.3L570.2,209.0 566.7,204.6 562.5,206.9Z" fill="#ced41b" stroke="#ced41b" stroke-width="0.5"/>
<path d="M569.5,215.8L573.7,213.5 570.2,209.0 566.0,211.3Z" fill="#ccd61b" stroke="#ccd61b" stroke-width="0.5"/>
<path d="M573.0,220.4L577.1,218.0 573.7,213.5 569.5,215.8Z" fill="#c6d71b" stroke="#c6d71b" stroke-width="0.5"/>
<path d="M576.4,225.0L580.6,222.6 577.1,218.0 573.0,220.4Z" fill="#bad81c" stroke="#bad81c" stroke-width="0.5"/>
<path d="M579.9,229.7L584.0,227.3 580.6,222.6 576.4,225.0Z" fill="#add91c" stroke="#add91c" stroke-width="0.5"/>
<path d="M583.3,234.5L587.5,232.1 584.0,227.3 579.9,229.7Z" fill="#9ed91c" stroke="#9ed91c" stroke-width="0.5"/>
<path d="M586.7,239.3L590.9,236.9 587.5,232.1 583.3,234.5Z" fill="#8dda1c" stroke="#8dda1c" stroke-width="0.5"/>
<path d="M590.1,244.2L594.3,241.8 590.9,236.9 586.7,239.3Z" fill="#7eda1b" stroke="#7eda1b" stroke-width="0.5"/>
<path d="M453.4,113.7L457.5,111.9 454.4,110.3 450.3,112.1Z" fill="#15a958" stroke="#15a958" stroke-width="0.5"/>
<path d="M456.5,115.4L460.6,113.6 457.5,111.9 453.4,113.7Z" fill="#13a644" stroke="#13a644" stroke-width="0.5"/>
<path d="M459.6,117.2L463.8,115.4 460.6,113.6 456.5,115.4Z" fill="#12a737" stroke="#12a737" stroke-width="0.5"/>
<path d="M462.8,119.1L466.9,117.2 463.8,115.4 459.6,117.2Z" fill="#10a729" stroke="#10a729" stroke-width="0.5"/>
<path d="M466.0,121.1L470.1,119.2 466.9,117.2 462.8,119.1Z" fill="#0fa81c" stroke="#0fa81c" stroke-width="0.5"/>
<path d="M469.2,123.1L473.4,121.3 470.1,119.2 466.0,121.1Z" fill="#0ea80f" stroke="#0ea80f" stroke-width="0.5"/>
<path d="M472.5,125.3L476.6,123.5 473.4,121.3 469.2,123.1Z" fill="#1faa0f" stroke="#1faa0f" stroke-width="0.5"/>
<path d="M475.7,127.6L479.9,125.7 476.6,123.5 472.5,125.3Z" fill="#31ad12" stroke="#31ad12" stroke-width="0.5"/>
<path d="M479.0,130.0L483.2,128.1 479.9,125.7 475.7,127.6Z" fill="#42af13" stroke="#42af13" stroke-width="0.5"/>
<path d="M482.3,132.5L486.5,130.5 483.2,128.1 479.0,130.0Z" fill="#52b115" stroke="#52b115" stroke-width="0.5"/>
<path d="M485.7,135.0L489.9,133.1 486.5,130.5 482.3,132.5Z" fill="#61b316" stroke="#61b316" stroke-width="0.5"/>
<path d="M489.0,137.7L493.2,135.7 489.9,133.1 485.7,135.0Z" fill="#70b617" stroke="#70b617" stroke-width="0.5"/>
<path d="M492.4,140.5L496.6,138.5 493.2,135.7 489.0,137.7Z" fill="#81b818" stroke="#81b818" stroke-width="0.5"/>
<path d="M495.8,143.3L500.0,141.3 496.6,138.5 492.4,140.5Z" fill="#92b918" stroke="#92b918" stroke-width="0.5"/>
<path d="M499.2,146.2L503.4,144.2 500.0,141.3 495.8,143.3Z" fill="#a0bb18" stroke="#a0bb18" stroke-width="0.5"/>
<path d="M502.6,149.3L506.8,147.2 503.4,144.2 499.2,146.2Z" fill="#aebd18" stroke="#aebd18" stroke-width="0.5"/>
<path d="M506.0,152.4L510.2,150.3 506.8,147.2 502.6,149.3Z" fill="#b6be18" stroke="#b6be18" stroke-width="0.5"/>
<path d="M509.5,155.6L513.7,153.5 510.2,150.3 506.0,152.4Z" fill="#b9bf18" stroke="#b9bf18" stroke-width="0.5"/>
<path d="M512.9,158.9L517.2,156.8 513.7,153.5 509.5,155.6Z" fill="#bdbf17" stroke="#bdbf17" stroke-width="0.5"/>
<path d="M516.4,162.2L520.6,160.1 517.2,156.8 512.9,158.9Z" fill="#bfc017" stroke="#bfc017" stroke-width="0.5"/>
<path d="M519.9,165.7L524.1,163.6 520.6,160.1 516.4,162.2Z" fill="#c3c217" stroke="#c3c217" stroke-width="0.5"/>
<path d="M523.4,169.3L527.6,167.1 524.1,163.6 519.9,165.7Z" fill="#c5c318" stroke="#c5c318" stroke-width="0.5"/>
<path d="M526.9,172.9L531.1,170.7 527.6,167.1 523.4,169.3Z" fill="#c7c418" stroke="#c7c418" stroke-width="0.5"/>
<path d="M530.4,176.6L534.6,174.4 531.1,170.7 526.9,172.9Z" fill="#c9c417" stroke="#c9c417" stroke-width="0.5"/>
<path d="M533.8,180.4L538.1,178.2 534.6,174.4 530.4,176.6Z" fill="#cbc617" stroke="#cbc617" stroke-width="0.5"/>
<path d="M537.3,184.3L541.6,182.1 538.1,178.2 533.8,180.4Z" fill="#cdc717" stroke="#cdc717" stroke-width="0.5"/>
<path d="M540.8,188.2L545.1,186.0 541.6,182.1 537.3,184.3Z" fill="#cdc817" stroke="#cdc817" stroke-width="0.5"/>
<path d="M544.3,192.3L548.6,190.0 545.1,186.0 540.8,188.2Z" fill="#cfca17" stroke="#cfca17" stroke-width="0.5"/>
<path d="M547.8,196.4L552.1,194.1 548.6,190.0 544.3,192.3Z" fill="#d0cb18" stroke="#d0cb18" stroke-width="0.5"/>
<path d="M551.3,200.6L555.6,198.3 552.1,194.1 547.8,196.4Z" fill="#d0ce19" stroke="#d0ce19" stroke-width="0.5"/>
<path d="M554.8,204.9L559.0,202.6 555.6,198.3 551.3,200.6Z" fill="#d1cf19" stroke="#d1cf19" stroke-width="0.5"/>
<path d="M558.3,209.2L562.5,206.9 559.0,202.6 554.8,204.9Z" fill="#d1d119" stroke="#d1d119" stroke-width="0.5"/>
<path d="M561.8,213.6L566.0,211.3 562.5,206.9 558.3,209.2Z" fill="#d0d31a" stroke="#d0d31a" stroke-width="0.5"/>
<path d="M565.3,218.1L569.5,215.8 566.0,211.3 561.8,213.6Z" fill="#d0d41a" stroke="#d0d41a" stroke-width="0.5"/>
<path d="M568.8,222.7L573.0,220.4 569.5,215.8 565.3,218.1Z" fill="#cfd71b" stroke="#cfd71b" stroke-width="0.5"/>
<path d="M572.2,227.4L576.4,225.0 573.0,220.4 568.8,222.7Z" fill="#cdd91b" stroke="#cdd91b" stroke-width="0.5"/>
<path d="M575.7,232.1L579.9,229.7 576.4,225.0 572.2,227.4Z" fill="#bfd91c" stroke="#bfd91c" stroke-width="0.5"/>
<path d="M579.1,236.9L583.3,234.5 579.9,229.7 575.7,232.1Z" fill="#b1db1c" stroke="#b1db1c" stroke-width="0.5"/>
<path d="M582.5,241.7L586.7,239.3 583.3,234.5 579.1,236.9Z" fill="#a0db1c" stroke="#a0db1c" stroke-width="0.5"/>
<path d="M586.0,246.7L590.1,244.2 586.7,239.3 582.5,241.7Z" fill="#8ddb1c" stroke="#8ddb1c" stroke-width="0.5"/>
<path d="M449.2,115.5L453.4,113.7 450.3,112.1 446.2,113.9Z" fill="#13a64c" stroke="#13a64c" stroke-width="0.5"/>
<path d="M452.3,117.2L456.5,115.4 453.4,113.7 449.2,115.5Z" fill="#11a63c" stroke="#11a63c" stroke-width="0.5"/>
<path d="M455.5,119.0L459.6,117.2 456.5,115.4 452.3,117.2Z" fill="#10a72f" stroke="#10a72f" stroke-width="0.5"/>
<path d="M458.6,120.9L462.8,119.1 459.6,117.2 455.5,119.0Z" fill="#0fa621" stroke="#0fa621" stroke-width="0.5"/>
<path d="M461.8,122.9L466.0,121.1 462.8,119.1 458.6,120.9Z" fill="#0ea714" stroke="#0ea714" stroke-width="0.5"/>
<path d="M465.0,125.0L469.2,123.1 466.0,121.1 461.8,122.9Z" fill="#19a90f" stroke="#19a90f" stroke-width="0.5"/>
<path d="M468.3,127.2L472.5,125.3 469.2,123.1 465.0,125.0Z" fill="#2bab10" stroke="#2bab10" stroke-width="0.5"/>
<path d="M471.5,129.5L475.7,127.6 472.5,125.3 468.3,127.2Z" fill="#3dae13" stroke="#3dae13" stroke-width="0.5"/>
<path d="M474.8,131.9L479.0,130.0 475.7,127.6 471.5,129.5Z" fill="#4eb014" stroke="#4eb014" stroke-width="0.5"/>
<path d="M478.1,134.4L482.3,132.5 479.0,130.0 474.8,131.9Z" fill="#5eb216" stroke="#5eb216" stroke-width="0.5"/>
<path d="M481.5,137.0L485.7,135.0 482.3,132.5 478.1,134.4Z" fill="#6eb517" stroke="#6eb517" stroke-width="0.5"/>
<path d="M484.8,139.7L489.0,137.7 485.7,135.0 481.5,137.0Z" fill="#7fb717" stroke="#7fb717" stroke-width="0.5"/>
<path d="M488.2,142.4L492.4,140.5 489.0,137.7 484.8,139.7Z" fill="#91b818" stroke="#91b818" stroke-width="0.5"/>
<path d="M491.6,145.3L495.8,143.3 492.4,140.5 488.2,142.4Z" fill="#a2ba18" stroke="#a2ba18" stroke-width="0.5"/>
<path d="M495.0,148.3L499.2,146.2 495.8,143.3 491.6,145.3Z" fill="#b0bc18" stroke="#b0bc18" stroke-width="0.5"/>
<path d="M498.4,151.3L502.6,149.3 499.2,146.2 495.0,148.3Z" fill="#b6bd18" stroke="#b6bd18" stroke-width="0.5"/>
<path d="M501.8,154.4L506.0,152.4 502.6,149.3 498.4,151.3Z" fill="#b9bd17" stroke="#b9bd17" stroke-width="0.5"/>
<path d="M505.3,157.7L509.5,155.6 506.0,152.4 501.8,154.4Z" fill="#bdbe17" stroke="#bdbe17" stroke-width="0.5"/>
<path d="M508.7,161.0L512.9,158.9 509.5,155.6 505.3,157.7Z" fill="#c0bf17" stroke="#c0bf17" stroke-width="0.5"/>
<path d="M512.2,164.4L516.4,162.2 512.9,158.9 508.7,161.0Z" fill="#c2c017" stroke="#c2c017" stroke-width="0.5"/>
<path d="M515.7,167.8L519.9,165.7 516.4,162.2 512.2,164.4Z" fill="#c5c016" stroke="#c5c016" stroke-width="0.5"/>
<path d="M519.1,171.4L523.4,169.3 519.9,165.7 515.7,167.8Z" fill="#c7c116" stroke="#c7c116" stroke-width="0.5"/>
<path d="M522.6,175.1L526.9,172.9 523.4,169.3 519.1,171.4Z" fill="#cac317" stroke="#cac317" stroke-width="0.5"/>
<path d="M526.1,178.8L530.4,176.6 526.9,172.9 522.6,175.1Z" fill="#cdc417" stroke="#cdc417" stroke-width="0.5"/>
<path d="M529.6,182.6L533.8,180.4 530.4,176.6 526.1,178.8Z" fill="#cec517" stroke="#cec517" stroke-width="0.5"/>
<path d="M533.1,186.5L537.3,184.3 533.8,180.4 529.6,182.6Z" fill="#cfc717" stroke="#cfc717" stroke-width="0.5"/>
<path d="M536.6,190.5L540.8,188.2 537.3,184.3 533.1,186.5Z" fill="#d1c817" stroke="#d1c817" stroke-width="0.5"/>
<path d="M540.1,194.5L544.3,192.3 540.8,188.2 536.6,190.5Z" fill="#d2c917" stroke="#d2c917" stroke-width="0.5"/>
<path d="M543.6,198.7L547.8,196.4 544.3,192.3 540.1,194.5Z" fill="#d3cb18" stroke="#d3cb18" stroke-width="0.5"/>
<path d="M547.1,202.9L551.3,200.6 547.8,196.4 543.6,198.7Z" fill="#d4cc18" stroke="#d4cc18" stroke-width="0.5"/>
<path d="M550.6,207.2L554.8,204.9 551.3,200.6 547.1,202.9Z" fill="#d4ce18" stroke="#d4ce18" stroke-width="0.5"/>
<path d="M554.1,211.5L558.3,209.2 554.8,204.9 550.6,207.2Z" fill="#d5cf18" stroke="#d5cf18" stroke-width="0.5"/>
<path d="M557.6,216.0L561.8,213.6 558.3,209.2 554.1,211.5Z" fill="#d4d21a" stroke="#d4d21a" stroke-width="0.5"/>
<path d="M561.1,220.5L565.3,218.1 561.8,213.6 557.6,216.0Z" fill="#d4d41a" stroke="#d4d41a" stroke-width="0.5"/>
<path d="M564.5,225.1L568.8,222.7 565.3,218.1 561.1,220.5Z" fill="#d3d51a" stroke="#d3d51a" stroke-width="0.5"/>
<path d="M568.0,229.7L572.2,227.4 568.8,222.7 564.5,225.1Z" fill="#d2d81b" stroke="#d2d81b" stroke-width="0.5"/>
<path d="M571.5,234.5L575.7,232.1 572.2,227.4 568.0,229.7Z" fill="#cfda1c" stroke="#cfda1c" stroke-width="0.5"/>
<path d="M574.9,239.3L579.1,236.9 575.7,232.1 571.5,234.5Z" fill="#c2da1c" stroke="#c2da1c" stroke-width="0.5"/>
<path d="M578.3,244.1L582.5,241.7 579.1,236.9 574.9,239.3Z" fill="#b2dc1c" stroke="#b2dc1c" stroke-width="0.5"/>
<path d="M581.8,249.1L586.0,246.7 582.5,241.7 578.3,244.1Z" fill="#a0dc1c" stroke="#a0dc1c" stroke-width="0.5"/>
<path d="M445.1,117.3L449.2,115.5 446.2,113.9 442.0,115.6Z" fill="#11a643" stroke="#11a643" stroke-width="0.5"/>
<path d="M448.2,119.0L452.3,117.2 449.2,115.5 445.1,117.3Z" fill="#10a634" stroke="#10a634" stroke-width="0.5"/>
<path d="M451.3,120.8L455.5,119.0 452.3,117.2 448.2,119.0Z" fill="#10a627" stroke="#10a627" stroke-width="0.5"/>
<path d="M454.4,122.8L458.6,120.9 455.5,119.0 451.3,120.8Z" fill="#0fa719" stroke="#0fa719" stroke-width="0.5"/>
<path d="M457.6,124.8L461.8,122.9 458.6,120.9 454.4,122.8Z" fill="#11a70e" stroke="#11a70e" stroke-width="0.5"/>
<path d="M460.8,126.9L465.0,125.0 461.8,122.9 457.6,124.8Z" fill="#25a910" stroke="#25a910" stroke-width="0.5"/>
<path d="M464.1,129.1L468.3,127.2 465.0,125.0 460.8,126.9Z" fill="#37ac11" stroke="#37ac11" stroke-width="0.5"/>
<path d="M467.3,131.4L471.5,129.5 468.3,127.2 464.1,129.1Z" fill="#49ae14" stroke="#49ae14" stroke-width="0.5"/>
<path d="M470.6,133.9L474.8,131.9 471.5,129.5 467.3,131.4Z" fill="#5bb115" stroke="#5bb115" stroke-width="0.5"/>
<path d="M473.9,136.4L478.1,134.4 474.8,131.9 470.6,133.9Z" fill="#6bb317" stroke="#6bb317" stroke-width="0.5"/>
<path d="M477.2,139.0L481.5,137.0 478.1,134.4 473.9,136.4Z" fill="#7db617" stroke="#7db617" stroke-width="0.5"/>
<path d="M480.6,141.7L484.8,139.7 481.5,137.0 477.2,139.0Z" fill="#8fb617" stroke="#8fb617" stroke-width="0.5"/>
<path d="M484.0,144.5L488.2,142.4 484.8,139.7 480.6,141.7Z" fill="#a0b817" stroke="#a0b817" stroke-width="0.5"/>
<path d="M487.3,147.3L491.6,145.3 488.2,142.4 484.0,144.5Z" fill="#b0ba18" stroke="#b0ba18" stroke-width="0.5"/>
<path d="M490.7,150.3L495.0,148.3 491.6,145.3 487.3,147.3Z" fill="#b5bb18" stroke="#b5bb18" stroke-width="0.5"/>
<path d="M494.2,153.4L498.4,151.3 495.0,148.3 490.7,150.3Z" fill="#b9bb17" stroke="#b9bb17" stroke-width="0.5"/>
<path d="M497.6,156.5L501.8,154.4 498.4,151.3 494.2,153.4Z" fill="#bcbc17" stroke="#bcbc17" stroke-width="0.5"/>
<path d="M501.0,159.8L505.3,157.7 501.8,154.4 497.6,156.5Z" fill="#c0bd17" stroke="#c0bd17" stroke-width="0.5"/>
<path d="M504.5,163.1L508.7,161.0 505.3,157.7 501.0,159.8Z" fill="#c3bd16" stroke="#c3bd16" stroke-width="0.5"/>
<path d="M507.9,166.5L512.2,164.4 508.7,161.0 504.5,163.1Z" fill="#c6bf16" stroke="#c6bf16" stroke-width="0.5"/>
<path d="M511.4,170.0L515.7,167.8 512.2,164.4 507.9,166.5Z" fill="#c8c016" stroke="#c8c016" stroke-width="0.5"/>
<path d="M514.9,173.6L519.1,171.4 515.7,167.8 511.4,170.0Z" fill="#cbc116" stroke="#cbc116" stroke-width="0.5"/>
<path d="M518.4,177.2L522.6,175.1 519.1,171.4 514.9,173.6Z" fill="#cdc216" stroke="#cdc216" stroke-width="0.5"/>
<path d="M521.9,181.0L526.1,178.8 522.6,175.1 518.4,177.2Z" fill="#d0c417" stroke="#d0c417" stroke-width="0.5"/>
<path d="M525.4,184.8L529.6,182.6 526.1,178.8 521.9,181.0Z" fill="#d1c416" stroke="#d1c416" stroke-width="0.5"/>
<path d="M528.9,188.7L533.1,186.5 529.6,182.6 525.4,184.8Z" fill="#d3c516" stroke="#d3c516" stroke-width="0.5"/>
<path d="M532.4,192.7L536.6,190.5 533.1,186.5 528.9,188.7Z" fill="#d4c716" stroke="#d4c716" stroke-width="0.5"/>
<path d="M535.9,196.8L540.1,194.5 536.6,190.5 532.4,192.7Z" fill="#d6c917" stroke="#d6c917" stroke-width="0.5"/>
<path d="M539.4,200.9L543.6,198.7 540.1,194.5 535.9,196.8Z" fill="#d6cb17" stroke="#d6cb17" stroke-width="0.5"/>
<path d="M542.9,205.2L547.1,202.9 543.6,198.7 539.4,200.9Z" fill="#d8cc18" stroke="#d8cc18" stroke-width="0.5"/>
<path d="M546.4,209.5L550.6,207.2 547.1,202.9 542.9,205.2Z" fill="#d8ce18" stroke="#d8ce18" stroke-width="0.5"/>
<path d="M549.9,213.8L554.1,211.5 550.6,207.2 546.4,209.5Z" fill="#d7cf18" stroke="#d7cf18" stroke-width="0.5"/>
<path d="M553.4,218.3L557.6,216.0 554.1,211.5 549.9,213.8Z" fill="#d7d118" stroke="#d7d118" stroke-width="0.5"/>
<path d="M556.8,222.8L561.1,220.5 557.6,216.0 553.4,218.3Z" fill="#d6d41a" stroke="#d6d41a" stroke-width="0.5"/>
<path d="M560.3,227.4L564.5,225.1 561.1,220.5 556.8,222.8Z" fill="#d5d51a" stroke="#d5d51a" stroke-width="0.5"/>
<path d="M563.8,232.1L568.0,229.7 564.5,225.1 560.3,227.4Z" fill="#d4d71a" stroke="#d4d71a" stroke-width="0.5"/>
<path d="M567.2,236.9L571.5,234.5 568.0,229.7 563.8,232.1Z" fill="#d3da1c" stroke="#d3da1c" stroke-width="0.5"/>
<path d="M570.7,241.7L574.9,239.3 571.5,234.5 567.2,236.9Z" fill="#d2db1c" stroke="#d2db1c" stroke-width="0.5"/>
<path d="M574.1,246.6L578.3,244.1 574.9,239.3 570.7,241.7Z" fill="#c3dc1c" stroke="#c3dc1c" stroke-width="0.5"/>
<path d="M577.5,251.5L581.8,249.1 578.3,244.1 574.1,246.6Z" fill="#b2dd1c" stroke="#b2dd1c" stroke-width="0.5"/>
<path d="M440.9,119.1L445.1,117.3 442.0,115.6 437.8,117.4Z" fill="#11a63b" stroke="#11a63b" stroke-width="0.5"/>
<path d="M444.0,120.8L448.2,119.0 445.1,117.3 440.9,119.1Z" fill="#10a62c" stroke="#10a62c" stroke-width="0.5"/>
<path d="M447.1,122.7L451.3,120.8 448.2,119.0 444.0,120.8Z" fill="#0fa51f" stroke="#0fa51f" stroke-width="0.5"/>
<path d="M450.2,124.6L454.4,122.8 451.3,120.8 447.1,122.7Z" fill="#0ea611" stroke="#0ea611" stroke-width="0.5"/>
<path d="M453.4,126.7L457.6,124.8 454.4,122.8 450.2,124.6Z" fill="#1ea90f" stroke="#1ea90f" stroke-width="0.5"/>
<path d="M456.6,128.8L460.8,126.9 457.6,124.8 453.4,126.7Z" fill="#32ab11" stroke="#32ab11" stroke-width="0.5"/>
<path d="M459.9,131.0L464.1,129.1 460.8,126.9 456.6,128.8Z" fill="#44ad12" stroke="#44ad12" stroke-width="0.5"/>
<path d="M463.1,133.4L467.3,131.4 464.1,129.1 459.9,131.0Z" fill="#56af15" stroke="#56af15" stroke-width="0.5"/>
<path d="M466.4,135.8L470.6,133.9 467.3,131.4 463.1,133.4Z" fill="#67b216" stroke="#67b216" stroke-width="0.5"/>
<path d="M469.7,138.3L473.9,136.4 470.6,133.9 466.4,135.8Z" fill="#79b317" stroke="#79b317" stroke-width="0.5"/>
<path d="M473.0,141.0L477.2,139.0 473.9,136.4 469.7,138.3Z" fill="#8cb517" stroke="#8cb517" stroke-width="0.5"/>
<path d="M476.4,143.7L480.6,141.7 477.2,139.0 473.0,141.0Z" fill="#9eb717" stroke="#9eb717" stroke-width="0.5"/>
<path d="M479.7,146.5L484.0,144.5 480.6,141.7 476.4,143.7Z" fill="#b0b917" stroke="#b0b917" stroke-width="0.5"/>
<path d="M483.1,149.4L487.3,147.3 484.0,144.5 479.7,146.5Z" fill="#b4ba18" stroke="#b4ba18" stroke-width="0.5"/>
<path d="M486.5,152.4L490.7,150.3 487.3,147.3 483.1,149.4Z" fill="#b8ba17" stroke="#b8ba17" stroke-width="0.5"/>
<path d="M489.9,155.4L494.2,153.4 490.7,150.3 486.5,152.4Z" fill="#bcbb17" stroke="#bcbb17" stroke-width="0.5"/>
<path d="M493.3,158.6L497.6,156.5 494.2,153.4 489.9,155.4Z" fill="#c0bb16" stroke="#c0bb16" stroke-width="0.5"/>
<path d="M496.8,161.9L501.0,159.8 497.6,156.5 493.3,158.6Z" fill="#c3bc16" stroke="#c3bc16" stroke-width="0.5"/>
<path d="M500.2,165.2L504.5,163.1 501.0,159.8 496.8,161.9Z" fill="#c5bd16" stroke="#c5bd16" stroke-width="0.5"/>
<path d="M503.7,168.6L507.9,166.5 504.5,163.1 500.2,165.2Z" fill="#c9be16" stroke="#c9be16" stroke-width="0.5"/>
<path d="M507.1,172.1L511.4,170.0 507.9,166.5 503.7,168.6Z" fill="#cbbe15" stroke="#cbbe15" stroke-width="0.5"/>
<path d="M510.6,175.7L514.9,173.6 511.4,170.0 507.1,172.1Z" fill="#cec015" stroke="#cec015" stroke-width="0.5"/>
<path d="M514.1,179.4L518.4,177.2 514.9,173.6 510.6,175.7Z" fill="#d1c115" stroke="#d1c115" stroke-width="0.5"/>
<path d="M517.6,183.2L521.9,181.0 518.4,177.2 514.1,179.4Z" fill="#d3c215" stroke="#d3c215" stroke-width="0.5"/>
<path d="M521.1,187.0L525.4,184.8 521.9,181.0 517.6,183.2Z" fill="#d5c416" stroke="#d5c416" stroke-width="0.5"/>
<path d="M524.6,191.0L528.9,188.7 525.4,184.8 521.1,187.0Z" fill="#d6c516" stroke="#d6c516" stroke-width="0.5"/>
<path d="M528.1,195.0L532.4,192.7 528.9,188.7 524.6,191.0Z" fill="#d8c616" stroke="#d8c616" stroke-width="0.5"/>
<path d="M531.6,199.0L535.9,196.8 532.4,192.7 528.1,195.0Z" fill="#d9c816" stroke="#d9c816" stroke-width="0.5"/>
<path d="M535.1,203.2L539.4,200.9 535.9,196.8 531.6,199.0Z" fill="#dac916" stroke="#dac916" stroke-width="0.5"/>
<path d="M538.6,207.5L542.9,205.2 539.4,200.9 535.1,203.2Z" fill="#dacb16" stroke="#dacb16" stroke-width="0.5"/>
<path d="M542.1,211.8L546.4,209.5 542.9,205.2 538.6,207.5Z" fill="#dacc17" stroke="#dacc17" stroke-width="0.5"/>
<path d="M545.6,216.2L549.9,213.8 546.4,209.5 542.1,211.8Z" fill="#dbcf18" stroke="#dbcf18" stroke-width="0.5"/>
<path d="M549.1,220.6L553.4,218.3 549.9,213.8 545.6,216.2Z" fill="#dbd018" stroke="#dbd018" stroke-width="0.5"/>
<path d="M552.6,225.2L556.8,222.8 553.4,218.3 549.1,220.6Z" fill="#dad218" stroke="#dad218" stroke-width="0.5"/>
<path d="M556.1,229.8L560.3,227.4 556.8,222.8 552.6,225.2Z" fill="#d9d419" stroke="#d9d419" stroke-width="0.5"/>
<path d="M559.5,234.5L563.8,232.1 560.3,227.4 556.1,229.8Z" fill="#d8d71a" stroke="#d8d71a" stroke-width="0.5"/>
<path d="M563.0,239.2L567.2,236.9 563.8,232.1 559.5,234.5Z" fill="#d7d81a" stroke="#d7d81a" stroke-width="0.5"/>
<path d="M566.4,244.1L570.7,241.7 567.2,236.9 563.0,239.2Z" fill="#d4da1a" stroke="#d4da1a" stroke-width="0.5"/>
<path d="M569.9,249.0L574.1,246.6 570.7,241.7 566.4,244.1Z" fill="#d3dd1c" stroke="#d3dd1c" stroke-width="0.5"/>
<path d="M573.3,254.0L577.5,251.5 574.1,246.6 569.9,249.0Z" fill="#c3dd1c" stroke="#c3dd1c" stroke-width="0.5"/>
<path d="M436.7,120.9L440.9,119.1 437.8,117.4 433.7,119.3Z" fill="#10a633" stroke="#10a633" stroke-width="0.5"/>
<path d="M439.8,122.7L444.0,120.8 440.9,119.1 436.7,120.9Z" fill="#0fa524" stroke="#0fa524" stroke-width="0.5"/>
<path d="M442.9,124.5L447.1,122.7 444.0,120.8 439.8,122.7Z" fill="#0fa617" stroke="#0fa617" stroke-width="0.5"/>
<path d="M446.0,126.5L450.2,124.6 447.1,122.7 442.9,124.5Z" fill="#16a70f" stroke="#16a70f" stroke-width="0.5"/>
<path d="M449.2,128.6L453.4,126.7 450.2,124.6 446.0,126.5Z" fill="#2aa910" stroke="#2aa910" stroke-width="0.5"/>
<path d="M452.4,130.7L456.6,128.8 453.4,126.7 449.2,128.6Z" fill="#3eac12" stroke="#3eac12" stroke-width="0.5"/>
<path d="M455.6,133.0L459.9,131.0 456.6,128.8 452.4,130.7Z" fill="#50ae14" stroke="#50ae14" stroke-width="0.5"/>
<path d="M458.9,135.3L463.1,133.4 459.9,131.0 455.6,133.0Z" fill="#62b116" stroke="#62b116" stroke-width="0.5"/>
<path d="M462.1,137.8L466.4,135.8 463.1,133.4 458.9,135.3Z" fill="#74b217" stroke="#74b217" stroke-width="0.5"/>
<path d="M465.4,140.3L469.7,138.3 466.4,135.8 462.1,137.8Z" fill="#88b417" stroke="#88b417" stroke-width="0.5"/>
<path d="M468.8,143.0L473.0,141.0 469.7,138.3 465.4,140.3Z" fill="#9bb617" stroke="#9bb617" stroke-width="0.5"/>
<path d="M472.1,145.7L476.4,143.7 473.0,141.0 468.8,143.0Z" fill="#aeb817" stroke="#aeb817" stroke-width="0.5"/>
<path d="M475.5,148.5L479.7,146.5 476.4,143.7 472.1,145.7Z" fill="#b3b917" stroke="#b3b917" stroke-width="0.5"/>
<path d="M478.8,151.4L483.1,149.4 479.7,146.5 475.5,148.5Z" fill="#b7b916" stroke="#b7b916" stroke-width="0.5"/>
<path d="M482.2,154.4L486.5,152.4 483.1,149.4 478.8,151.4Z" fill="#bbba16" stroke="#bbba16" stroke-width="0.5"/>
<path d="M485.6,157.5L489.9,155.4 486.5,152.4 482.2,154.4Z" fill="#bfb915" stroke="#bfb915" stroke-width="0.5"/>
<path d="M489.0,160.7L493.3,158.6 489.9,155.4 485.6,157.5Z" fill="#c3bb16" stroke="#c3bb16" stroke-width="0.5"/>
<path d="M492.5,164.0L496.8,161.9 493.3,158.6 489.0,160.7Z" fill="#c6bc16" stroke="#c6bc16" stroke-width="0.5"/>
<path d="M495.9,167.3L500.2,165.2 496.8,161.9 492.5,164.0Z" fill="#c9bc15" stroke="#c9bc15" stroke-width="0.5"/>
<path d="M499.4,170.8L503.7,168.6 500.2,165.2 495.9,167.3Z" fill="#ccbd15" stroke="#ccbd15" stroke-width="0.5"/>
<path d="M502.9,174.3L507.1,172.1 503.7,168.6 499.4,170.8Z" fill="#cfbe15" stroke="#cfbe15" stroke-width="0.5"/>
<path d="M506.3,177.9L510.6,175.7 507.1,172.1 502.9,174.3Z" fill="#d0bb15" stroke="#d0bb15" stroke-width="0.5"/>
<path d="M509.8,181.6L514.1,179.4 510.6,175.7 506.3,177.9Z" fill="#d3b714" stroke="#d3b714" stroke-width="0.5"/>
<path d="M513.3,185.4L517.6,183.2 514.1,179.4 509.8,181.6Z" fill="#d4b614" stroke="#d4b614" stroke-width="0.5"/>
<path d="M516.8,189.3L521.1,187.0 517.6,183.2 513.3,185.4Z" fill="#d6b514" stroke="#d6b514" stroke-width="0.5"/>
<path d="M520.3,193.2L524.6,191.0 521.1,187.0 516.8,189.3Z" fill="#d7b514" stroke="#d7b514" stroke-width="0.5"/>
<path d="M523.8,197.2L528.1,195.0 524.6,191.0 520.3,193.2Z" fill="#d9b715" stroke="#d9b715" stroke-width="0.5"/>
<path d="M527.3,201.3L531.6,199.0 528.1,195.0 523.8,197.2Z" fill="#daba15" stroke="#daba15" stroke-width="0.5"/>
<path d="M530.8,205.5L535.1,203.2 531.6,199.0 527.3,201.3Z" fill="#dcbf15" stroke="#dcbf15" stroke-width="0.5"/>
<path d="M534.3,209.8L538.6,207.5 535.1,203.2 530.8,205.5Z" fill="#ddc416" stroke="#ddc416" stroke-width="0.5"/>
<path d="M537.8,214.1L542.1,211.8 538.6,207.5 534.3,209.8Z" fill="#decb16" stroke="#decb16" stroke-width="0.5"/>
<path d="M541.3,218.5L545.6,216.2 542.1,211.8 537.8,214.1Z" fill="#decd17" stroke="#decd17" stroke-width="0.5"/>
<path d="M544.8,223.0L549.1,220.6 545.6,216.2 541.3,218.5Z" fill="#decf17" stroke="#decf17" stroke-width="0.5"/>
<path d="M548.3,227.5L552.6,225.2 549.1,220.6 544.8,223.0Z" fill="#ded218" stroke="#ded218" stroke-width="0.5"/>
<path d="M551.8,232.2L556.1,229.8 552.6,225.2 548.3,227.5Z" fill="#ddd319" stroke="#ddd319" stroke-width="0.5"/>
<path d="M555.3,236.9L559.5,234.5 556.1,229.8 551.8,232.2Z" fill="#dcd519" stroke="#dcd519" stroke-width="0.5"/>
<path d="M558.7,241.7L563.0,239.2 559.5,234.5 555.3,236.9Z" fill="#dbd81a" stroke="#dbd81a" stroke-width="0.5"/>
<path d="M562.2,246.5L566.4,244.1 563.0,239.2 558.7,241.7Z" fill="#d8da1a" stroke="#d8da1a" stroke-width="0.5"/>
<path d="M565.6,251.4L569.9,249.0 566.4,244.1 562.2,246.5Z" fill="#d6db1b" stroke="#d6db1b" stroke-width="0.5"/>
<path d="M569.0,256.4L573.3,254.0 569.9,249.0 565.6,251.4Z" fill="#d3de1c" stroke="#d3de1c" stroke-width="0.5"/>
<path d="M432.5,122.8L436.7,120.9 433.7,119.3 429.5,121.1Z" fill="#10a52c" stroke="#10a52c" stroke-width="0.5"/>
<path d="M435.6,124.6L439.8,122.7 436.7,120.9 432.5,122.8Z" fill="#0fa61c" stroke="#0fa61c" stroke-width="0.5"/>
<path d="M438.7,126.4L442.9,124.5 439.8,122.7 435.6,124.6Z" fill="#0ea50f" stroke="#0ea50f" stroke-width="0.5"/>
<path d="M441.8,128.4L446.0,126.5 442.9,124.5 438.7,126.4Z" fill="#22a810" stroke="#22a810" stroke-width="0.5"/>
<path d="M445.0,130.5L449.2,128.6 446.0,126.5 441.8,128.4Z" fill="#36aa11" stroke="#36aa11" stroke-width="0.5"/>
<path d="M448.2,132.7L452.4,130.7 449.2,128.6 445.0,130.5Z" fill="#4aac13" stroke="#4aac13" stroke-width="0.5"/>
<path d="M451.4,134.9L455.6,133.0 452.4,130.7 448.2,132.7Z" fill="#5caf15" stroke="#5caf15" stroke-width="0.5"/>
<path d="M454.6,137.3L458.9,135.3 455.6,133.0 451.4,134.9Z" fill="#6eb117" stroke="#6eb117" stroke-width="0.5"/>
<path d="M457.9,139.8L462.1,137.8 458.9,135.3 454.6,137.3Z" fill="#83b317" stroke="#83b317" stroke-width="0.5"/>
<path d="M461.2,142.3L465.4,140.3 462.1,137.8 457.9,139.8Z" fill="#97b517" stroke="#97b517" stroke-width="0.5"/>
<path d="M464.5,145.0L468.8,143.0 465.4,140.3 461.2,142.3Z" fill="#aab717" stroke="#aab717" stroke-width="0.5"/>
<path d="M467.8,147.7L472.1,145.7 468.8,143.0 464.5,145.0Z" fill="#b2b817" stroke="#b2b817" stroke-width="0.5"/>
<path d="M471.2,150.6L475.5,148.5 472.1,145.7 467.8,147.7Z" fill="#b6b716" stroke="#b6b716" stroke-width="0.5"/>
<path d="M474.5,153.5L478.8,151.4 475.5,148.5 471.2,150.6Z" fill="#b9b816" stroke="#b9b816" stroke-width="0.5"/>
<path d="M477.9,156.5L482.2,154.4 478.8,151.4 474.5,153.5Z" fill="#beb815" stroke="#beb815" stroke-width="0.5"/>
<path d="M481.3,159.6L485.6,157.5 482.2,154.4 477.9,156.5Z" fill="#c1b915" stroke="#c1b915" stroke-width="0.5"/>
<path d="M484.8,162.8L489.0,160.7 485.6,157.5 481.3,159.6Z" fill="#c5ba16" stroke="#c5ba16" stroke-width="0.5"/>
<path d="M488.2,166.1L492.5,164.0 489.0,160.7 484.8,162.8Z" fill="#c8ba15" stroke="#c8ba15" stroke-width="0.5"/>
<path d="M491.6,169.5L495.9,167.3 492.5,164.0 488.2,166.1Z" fill="#ccbb15" stroke="#ccbb15" stroke-width="0.5"/>
<path d="M495.1,172.9L499.4,170.8 495.9,167.3 491.6,169.5Z" fill="#ceb414" stroke="#ceb414" stroke-width="0.5"/>
<path d="M498.6,176.5L502.9,174.3 499.4,170.8 495.1,172.9Z" fill="#d0b014" stroke="#d0b014" stroke-width="0.5"/>
<path d="M502.0,180.1L506.3,177.9 502.9,174.3 498.6,176.5Z" fill="#d2ab14" stroke="#d2ab14" stroke-width="0.5"/>
<path d="M505.5,183.8L509.8,181.6 506.3,177.9 502.0,180.1Z" fill="#d4a813" stroke="#d4a813" stroke-width="0.5"/>
<path d="M509.0,187.6L513.3,185.4 509.8,181.6 505.5,183.8Z" fill="#d5a613" stroke="#d5a613" stroke-width="0.5"/>
<path d="M512.5,191.5L516.8,189.3 513.3,185.4 509.0,187.6Z" fill="#d7a413" stroke="#d7a413" stroke-width="0.5"/>
<path d="M516.0,195.5L520.3,193.2 516.8,189.3 512.5,191.5Z" fill="#d9a613" stroke="#d9a613" stroke-width="0.5"/>
<path d="M519.5,199.5L523.8,197.2 520.3,193.2 516.0,195.5Z" fill="#daa713" stroke="#daa713" stroke-width="0.5"/>
<path d="M523.0,203.6L527.3,201.3 523.8,197.2 519.5,199.5Z" fill="#dbab13" stroke="#dbab13" stroke-width="0.5"/>
<path d="M526.5,207.8L530.8,205.5 527.3,201.3 523.0,203.6Z" fill="#ddae14" stroke="#ddae14" stroke-width="0.5"/>
<path d="M530.0,212.1L534.3,209.8 530.8,205.5 526.5,207.8Z" fill="#deb315" stroke="#deb315" stroke-width="0.5"/>
<path d="M533.5,216.4L537.8,214.1 534.3,209.8 530.0,212.1Z" fill="#dfbb15" stroke="#dfbb15" stroke-width="0.5"/>
<path d="M537.0,220.8L541.3,218.5 537.8,214.1 533.5,216.4Z" fill="#e0c315" stroke="#e0c315" stroke-width="0.5"/>
<path d="M540.5,225.3L544.8,223.0 541.3,218.5 537.0,220.8Z" fill="#e1cd17" stroke="#e1cd17" stroke-width="0.5"/>
<path d="M544.0,229.9L548.3,227.5 544.8,223.0 540.5,225.3Z" fill="#e1d017" stroke="#e1d017" stroke-width="0.5"/>
<path d="M547.5,234.6L551.8,232.2 548.3,227.5 544.0,229.9Z" fill="#e0d318" stroke="#e0d318" stroke-width="0.5"/>
<path d="M551.0,239.3L555.3,236.9 551.8,232.2 547.5,234.6Z" fill="#dfd519" stroke="#dfd519" stroke-width="0.5"/>
<path d="M554.4,244.1L558.7,241.7 555.3,236.9 551.0,239.3Z" fill="#ddd619" stroke="#ddd619" stroke-width="0.5"/>
<path d="M557.9,248.9L562.2,246.5 558.7,241.7 554.4,244.1Z" fill="#dcd91a" stroke="#dcd91a" stroke-width="0.5"/>
<path d="M561.3,253.9L565.6,251.4 562.2,246.5 557.9,248.9Z" fill="#dadb1b" stroke="#dadb1b" stroke-width="0.5"/>
<path d="M564.8,258.9L569.0,256.4 565.6,251.4 561.3,253.9Z" fill="#d7de1c" stroke="#d7de1c" stroke-width="0.5"/>
<path d="M428.3,124.6L432.5,122.8 429.5,121.1 425.2,123.0Z" fill="#0fa424" stroke="#0fa424" stroke-width="0.5"/>
<path d="M431.3,126.4L435.6,124.6 432.5,122.8 428.3,124.6Z" fill="#0ea514" stroke="#0ea514" stroke-width="0.5"/>
<path d="M434.4,128.3L438.7,126.4 435.6,124.6 431.3,126.4Z" fill="#19a60f" stroke="#19a60f" stroke-width="0.5"/>
<path d="M437.6,130.3L441.8,128.4 438.7,126.4 434.4,128.3Z" fill="#2ea811" stroke="#2ea811" stroke-width="0.5"/>
<path d="M440.7,132.4L445.0,130.5 441.8,128.4 437.6,130.3Z" fill="#42aa12" stroke="#42aa12" stroke-width="0.5"/>
<path d="M443.9,134.6L448.2,132.7 445.0,130.5 440.7,132.4Z" fill="#56ad14" stroke="#56ad14" stroke-width="0.5"/>
<path d="M447.1,136.9L451.4,134.9 448.2,132.7 443.9,134.6Z" fill="#68af16" stroke="#68af16" stroke-width="0.5"/>
<path d="M450.4,139.3L454.6,137.3 451.4,134.9 447.1,136.9Z" fill="#7cb217" stroke="#7cb217" stroke-width="0.5"/>
<path d="M453.6,141.8L457.9,139.8 454.6,137.3 450.4,139.3Z" fill="#91b417" stroke="#91b417" stroke-width="0.5"/>
<path d="M456.9,144.4L461.2,142.3 457.9,139.8 453.6,141.8Z" fill="#a6b617" stroke="#a6b617" stroke-width="0.5"/>
<path d="M460.2,147.0L464.5,145.0 461.2,142.3 456.9,144.4Z" fill="#b0b617" stroke="#b0b617" stroke-width="0.5"/>
<path d="M463.5,149.8L467.8,147.7 464.5,145.0 460.2,147.0Z" fill="#b4b616" stroke="#b4b616" stroke-width="0.5"/>
<path d="M466.9,152.6L471.2,150.6 467.8,147.7 463.5,149.8Z" fill="#b8b716" stroke="#b8b716" stroke-width="0.5"/>
<path d="M470.2,155.6L474.5,153.5 471.2,150.6 466.9,152.6Z" fill="#bcb715" stroke="#bcb715" stroke-width="0.5"/>
<path d="M473.6,158.6L477.9,156.5 474.5,153.5 470.2,155.6Z" fill="#c1b815" stroke="#c1b815" stroke-width="0.5"/>
<path d="M477.0,161.7L481.3,159.6 477.9,156.5 473.6,158.6Z" fill="#c4b814" stroke="#c4b814" stroke-width="0.5"/>
<path d="M480.4,165.0L484.8,162.8 481.3,159.6 477.0,161.7Z" fill="#c8b914" stroke="#c8b914" stroke-width="0.5"/>
<path d="M483.9,168.3L488.2,166.1 484.8,162.8 480.4,165.0Z" fill="#cbb414" stroke="#cbb414" stroke-width="0.5"/>
<path d="M487.3,171.7L491.6,169.5 488.2,166.1 483.9,168.3Z" fill="#cdac13" stroke="#cdac13" stroke-width="0.5"/>
<path d="M490.8,175.1L495.1,172.9 491.6,169.5 487.3,171.7Z" fill="#cfa612" stroke="#cfa612" stroke-width="0.5"/>
<path d="M494.2,178.7L498.6,176.5 495.1,172.9 490.8,175.1Z" fill="#d1a013" stroke="#d1a013" stroke-width="0.5"/>
<path d="M497.7,182.3L502.0,180.1 498.6,176.5 494.2,178.7Z" fill="#d39c13" stroke="#d39c13" stroke-width="0.5"/>
<path d="M501.2,186.1L505.5,183.8 502.0,180.1 497.7,182.3Z" fill="#d59812" stroke="#d59812" stroke-width="0.5"/>
<path d="M504.7,189.9L509.0,187.6 505.5,183.8 501.2,186.1Z" fill="#d79612" stroke="#d79612" stroke-width="0.5"/>
<path d="M508.2,193.8L512.5,191.5 509.0,187.6 504.7,189.9Z" fill="#d99612" stroke="#d99612" stroke-width="0.5"/>
<path d="M511.7,197.7L516.0,195.5 512.5,191.5 508.2,193.8Z" fill="#da9512" stroke="#da9512" stroke-width="0.5"/>
<path d="M515.2,201.8L519.5,199.5 516.0,195.5 511.7,197.7Z" fill="#dc9812" stroke="#dc9812" stroke-width="0.5"/>
<path d="M518.7,205.9L523.0,203.6 519.5,199.5 515.2,201.8Z" fill="#dd9a12" stroke="#dd9a12" stroke-width="0.5"/>
<path d="M522.2,210.1L526.5,207.8 523.0,203.6 518.7,205.9Z" fill="#de9f12" stroke="#de9f12" stroke-width="0.5"/>
<path d="M525.7,214.4L530.0,212.1 526.5,207.8 522.2,210.1Z" fill="#dfa414" stroke="#dfa414" stroke-width="0.5"/>
<path d="M529.2,218.8L533.5,216.4 530.0,212.1 525.7,214.4Z" fill="#e1aa14" stroke="#e1aa14" stroke-width="0.5"/>
<path d="M532.7,223.2L537.0,220.8 533.5,216.4 529.2,218.8Z" fill="#e1b314" stroke="#e1b314" stroke-width="0.5"/>
<path d="M536.2,227.7L540.5,225.3 537.0,220.8 532.7,223.2Z" fill="#e2bc15" stroke="#e2bc15" stroke-width="0.5"/>
<path d="M539.7,232.3L544.0,229.9 540.5,225.3 536.2,227.7Z" fill="#e4c816" stroke="#e4c816" stroke-width="0.5"/>
<path d="M543.2,237.0L547.5,234.6 544.0,229.9 539.7,232.3Z" fill="#e3d217" stroke="#e3d217" stroke-width="0.5"/>
<path d="M546.6,241.7L551.0,239.3 547.5,234.6 543.2,237.0Z" fill="#e2d317" stroke="#e2d317" stroke-width="0.5"/>
<path d="M550.1,246.5L554.4,244.1 551.0,239.3 546.6,241.7Z" fill="#e1d619" stroke="#e1d619" stroke-width="0.5"/>
<path d="M553.6,251.4L557.9,248.9 554.4,244.1 550.1,246.5Z" fill="#e0d819" stroke="#e0d819" stroke-width="0.5"/>
<path d="M557.0,256.3L561.3,253.9 557.9,248.9 553.6,251.4Z" fill="#dddb1b" stroke="#dddb1b" stroke-width="0.5"/>
<path d="M560.5,261.3L564.8,258.9 561.3,253.9 557.0,256.3Z" fill="#dbdc1b" stroke="#dbdc1b" stroke-width="0.5"/>
<path d="M424.0,126.5L428.3,124.6 425.2,123.0 421.0,124.8Z" fill="#0fa51c" stroke="#0fa51c" stroke-width="0.5"/>
<path d="M427.1,128.3L431.3,126.4 428.3,124.6 424.0,126.5Z" fill="#0fa50e" stroke="#0fa50e" stroke-width="0.5"/>
<path d="M430.2,130.3L434.4,128.3 431.3,126.4 427.1,128.3Z" fill="#25a710" stroke="#25a710" stroke-width="0.5"/>
<path d="M433.3,132.3L437.6,130.3 434.4,128.3 430.2,130.3Z" fill="#3aaa12" stroke="#3aaa12" stroke-width="0.5"/>
<path d="M436.5,134.4L440.7,132.4 437.6,130.3 433.3,132.3Z" fill="#4eac13" stroke="#4eac13" stroke-width="0.5"/>
<path d="M439.6,136.6L443.9,134.6 440.7,132.4 436.5,134.4Z" fill="#60af16" stroke="#60af16" stroke-width="0.5"/>
<path d="M442.8,138.9L447.1,136.9 443.9,134.6 439.6,136.6Z" fill="#75b017" stroke="#75b017" stroke-width="0.5"/>
<path d="M446.1,141.3L450.4,139.3 447.1,136.9 442.8,138.9Z" fill="#8bb217" stroke="#8bb217" stroke-width="0.5"/>
<path d="M449.3,143.8L453.6,141.8 450.4,139.3 446.1,141.3Z" fill="#a1b317" stroke="#a1b317" stroke-width="0.5"/>
<path d="M452.6,146.4L456.9,144.4 453.6,141.8 449.3,143.8Z" fill="#afb517" stroke="#afb517" stroke-width="0.5"/>
<path d="M455.9,149.1L460.2,147.0 456.9,144.4 452.6,146.4Z" fill="#b3b516" stroke="#b3b516" stroke-width="0.5"/>
<path d="M459.2,151.8L463.5,149.8 460.2,147.0 455.9,149.1Z" fill="#b7b616" stroke="#b7b616" stroke-width="0.5"/>
<path d="M462.6,154.7L466.9,152.6 463.5,149.8 459.2,151.8Z" fill="#bbb615" stroke="#bbb615" stroke-width="0.5"/>
<path d="M465.9,157.7L470.2,155.6 466.9,152.6 462.6,154.7Z" fill="#c0b615" stroke="#c0b615" stroke-width="0.5"/>
<path d="M469.3,160.7L473.6,158.6 470.2,155.6 465.9,157.7Z" fill="#c4b614" stroke="#c4b614" stroke-width="0.5"/>
<path d="M472.7,163.9L477.0,161.7 473.6,158.6 469.3,160.7Z" fill="#c7b714" stroke="#c7b714" stroke-width="0.5"/>
<path d="M476.1,167.1L480.4,165.0 477.0,161.7 472.7,163.9Z" fill="#caae13" stroke="#caae13" stroke-width="0.5"/>
<path d="M479.5,170.4L483.9,168.3 480.4,165.0 476.1,167.1Z" fill="#cca513" stroke="#cca513" stroke-width="0.5"/>
<path d="M483.0,173.8L487.3,171.7 483.9,168.3 479.5,170.4Z" fill="#cf9e12" stroke="#cf9e12" stroke-width="0.5"/>
<path d="M486.4,177.3L490.8,175.1 487.3,171.7 483.0,173.8Z" fill="#d09611" stroke="#d09611" stroke-width="0.5"/>
<path d="M489.9,180.9L494.2,178.7 490.8,175.1 486.4,177.3Z" fill="#d39111" stroke="#d39111" stroke-width="0.5"/>
<path d="M493.4,184.5L497.7,182.3 494.2,178.7 489.9,180.9Z" fill="#d48c11" stroke="#d48c11" stroke-width="0.5"/>
<path d="M496.8,188.3L501.2,186.1 497.7,182.3 493.4,184.5Z" fill="#d78910" stroke="#d78910" stroke-width="0.5"/>
<path d="M500.3,192.1L504.7,189.9 501.2,186.1 496.8,188.3Z" fill="#d88710" stroke="#d88710" stroke-width="0.5"/>
<path d="M503.8,196.0L508.2,193.8 504.7,189.9 500.3,192.1Z" fill="#da8611" stroke="#da8611" stroke-width="0.5"/>
<path d="M507.3,200.0L511.7,197.7 508.2,193.8 503.8,196.0Z" fill="#db8711" stroke="#db8711" stroke-width="0.5"/>
<path d="M510.8,204.1L515.2,201.8 511.7,197.7 507.3,200.0Z" fill="#dd8811" stroke="#dd8811" stroke-width="0.5"/>
<path d="M514.3,208.2L518.7,205.9 515.2,201.8 510.8,204.1Z" fill="#de8b11" stroke="#de8b11" stroke-width="0.5"/>
<path d="M517.8,212.4L522.2,210.1 518.7,205.9 514.3,208.2Z" fill="#e08f11" stroke="#e08f11" stroke-width="0.5"/>
<path d="M521.3,216.7L525.7,214.4 522.2,210.1 517.8,212.4Z" fill="#e09511" stroke="#e09511" stroke-width="0.5"/>
<path d="M524.8,221.1L529.2,218.8 525.7,214.4 521.3,216.7Z" fill="#e29b13" stroke="#e29b13" stroke-width="0.5"/>
<path d="M528.3,225.6L532.7,223.2 529.2,218.8 524.8,221.1Z" fill="#e3a413" stroke="#e3a413" stroke-width="0.5"/>
<path d="M531.8,230.1L536.2,227.7 532.7,223.2 528.3,225.6Z" fill="#e4ad14" stroke="#e4ad14" stroke-width="0.5"/>
<path d="M535.3,234.7L539.7,232.3 536.2,227.7 531.8,230.1Z" fill="#e5b814" stroke="#e5b814" stroke-width="0.5"/>
<path d="M538.8,239.4L543.2,237.0 539.7,232.3 535.3,234.7Z" fill="#e5c416" stroke="#e5c416" stroke-width="0.5"/>
<path d="M542.3,244.1L546.6,241.7 543.2,237.0 538.8,239.4Z" fill="#e5d217" stroke="#e5d217" stroke-width="0.5"/>
<path d="M545.8,248.9L550.1,246.5 546.6,241.7 542.3,244.1Z" fill="#e5d517" stroke="#e5d517" stroke-width="0.5"/>
<path d="M549.2,253.8L553.6,251.4 550.1,246.5 545.8,248.9Z" fill="#e2d819" stroke="#e2d819" stroke-width="0.5"/>
<path d="M552.7,258.8L557.0,256.3 553.6,251.4 549.2,253.8Z" fill="#e0d919" stroke="#e0d919" stroke-width="0.5"/>
<path d="M556.1,263.8L560.5,261.3 557.0,256.3 552.7,258.8Z" fill="#dfdc1b" stroke="#dfdc1b" stroke-width="0.5"/>
<path d="M419.8,128.4L424.0,126.5 421.0,124.8 416.8,126.7Z" fill="#0ea414" stroke="#0ea414" stroke-width="0.5"/>
<path d="M422.8,130.3L427.1,128.3 424.0,126.5 419.8,128.4Z" fill="#1aa50f" stroke="#1aa50f" stroke-width="0.5"/>
<path d="M425.9,132.2L430.2,130.3 427.1,128.3 422.8,130.3Z" fill="#30a811" stroke="#30a811" stroke-width="0.5"/>
<path d="M429.0,134.2L433.3,132.3 430.2,130.3 425.9,132.2Z" fill="#45aa13" stroke="#45aa13" stroke-width="0.5"/>
<path d="M432.2,136.3L436.5,134.4 433.3,132.3 429.0,134.2Z" fill="#59ad14" stroke="#59ad14" stroke-width="0.5"/>
<path d="M435.4,138.6L439.6,136.6 436.5,134.4 432.2,136.3Z" fill="#6caf17" stroke="#6caf17" stroke-width="0.5"/>
<path d="M438.5,140.9L442.8,138.9 439.6,136.6 435.4,138.6Z" fill="#84b117" stroke="#84b117" stroke-width="0.5"/>
<path d="M441.8,143.3L446.1,141.3 442.8,138.9 438.5,140.9Z" fill="#9ab217" stroke="#9ab217" stroke-width="0.5"/>
<path d="M445.0,145.8L449.3,143.8 446.1,141.3 441.8,143.3Z" fill="#acb417" stroke="#acb417" stroke-width="0.5"/>
<path d="M448.3,148.4L452.6,146.4 449.3,143.8 445.0,145.8Z" fill="#b0b416" stroke="#b0b416" stroke-width="0.5"/>
<path d="M451.6,151.1L455.9,149.1 452.6,146.4 448.3,148.4Z" fill="#b6b516" stroke="#b6b516" stroke-width="0.5"/>
<path d="M454.9,153.9L459.2,151.8 455.9,149.1 451.6,151.1Z" fill="#bab415" stroke="#bab415" stroke-width="0.5"/>
<path d="M458.2,156.8L462.6,154.7 459.2,151.8 454.9,153.9Z" fill="#beb515" stroke="#beb515" stroke-width="0.5"/>
<path d="M461.6,159.8L465.9,157.7 462.6,154.7 458.2,156.8Z" fill="#c3b514" stroke="#c3b514" stroke-width="0.5"/>
<path d="M465.0,162.9L469.3,160.7 465.9,157.7 461.6,159.8Z" fill="#c6b414" stroke="#c6b414" stroke-width="0.5"/>
<path d="M468.4,166.0L472.7,163.9 469.3,160.7 465.0,162.9Z" fill="#c8a913" stroke="#c8a913" stroke-width="0.5"/>
<path d="M471.8,169.3L476.1,167.1 472.7,163.9 468.4,166.0Z" fill="#cb9f12" stroke="#cb9f12" stroke-width="0.5"/>
<path d="M475.2,172.6L479.5,170.4 476.1,167.1 471.8,169.3Z" fill="#cd9611" stroke="#cd9611" stroke-width="0.5"/>
<path d="M478.6,176.0L483.0,173.8 479.5,170.4 475.2,172.6Z" fill="#d08e11" stroke="#d08e11" stroke-width="0.5"/>
<path d="M482.1,179.5L486.4,177.3 483.0,173.8 478.6,176.0Z" fill="#d18810" stroke="#d18810" stroke-width="0.5"/>
<path d="M485.5,183.1L489.9,180.9 486.4,177.3 482.1,179.5Z" fill="#d38210" stroke="#d38210" stroke-width="0.5"/>
<path d="M489.0,186.8L493.4,184.5 489.9,180.9 485.5,183.1Z" fill="#d57e0f" stroke="#d57e0f" stroke-width="0.5"/>
<path d="M492.5,190.5L496.8,188.3 493.4,184.5 489.0,186.8Z" fill="#d87a0f" stroke="#d87a0f" stroke-width="0.5"/>
<path d="M496.0,194.4L500.3,192.1 496.8,188.3 492.5,190.5Z" fill="#d9780f" stroke="#d9780f" stroke-width="0.5"/>
<path d="M499.4,198.3L503.8,196.0 500.3,192.1 496.0,194.4Z" fill="#db770f" stroke="#db770f" stroke-width="0.5"/>
<path d="M502.9,202.3L507.3,200.0 503.8,196.0 499.4,198.3Z" fill="#dc780f" stroke="#dc780f" stroke-width="0.5"/>
<path d="M506.4,206.4L510.8,204.1 507.3,200.0 502.9,202.3Z" fill="#de7910" stroke="#de7910" stroke-width="0.5"/>
<path d="M509.9,210.5L514.3,208.2 510.8,204.1 506.4,206.4Z" fill="#df7c10" stroke="#df7c10" stroke-width="0.5"/>
<path d="M513.4,214.8L517.8,212.4 514.3,208.2 509.9,210.5Z" fill="#e17f10" stroke="#e17f10" stroke-width="0.5"/>
<path d="M517.0,219.1L521.3,216.7 517.8,212.4 513.4,214.8Z" fill="#e18410" stroke="#e18410" stroke-width="0.5"/>
<path d="M520.5,223.5L524.8,221.1 521.3,216.7 517.0,219.1Z" fill="#e38b11" stroke="#e38b11" stroke-width="0.5"/>
<path d="M524.0,227.9L528.3,225.6 524.8,221.1 520.5,223.5Z" fill="#e49311" stroke="#e49311" stroke-width="0.5"/>
<path d="M527.5,232.5L531.8,230.1 528.3,225.6 524.0,227.9Z" fill="#e59d13" stroke="#e59d13" stroke-width="0.5"/>
<path d="M531.0,237.1L535.3,234.7 531.8,230.1 527.5,232.5Z" fill="#e6a713" stroke="#e6a713" stroke-width="0.5"/>
<path d="M534.5,241.8L538.8,239.4 535.3,234.7 531.0,237.1Z" fill="#e6b414" stroke="#e6b414" stroke-width="0.5"/>
<path d="M537.9,246.5L542.3,244.1 538.8,239.4 534.5,241.8Z" fill="#e7c216" stroke="#e7c216" stroke-width="0.5"/>
<path d="M541.4,251.3L545.8,248.9 542.3,244.1 537.9,246.5Z" fill="#e7d217" stroke="#e7d217" stroke-width="0.5"/>
<path d="M544.9,256.2L549.2,253.8 545.8,248.9 541.4,251.3Z" fill="#e6d618" stroke="#e6d618" stroke-width="0.5"/>
<path d="M548.3,261.2L552.7,258.8 549.2,253.8 544.9,256.2Z" fill="#e4d919" stroke="#e4d919" stroke-width="0.5"/>
<path d="M551.8,266.2L556.1,263.8 552.7,258.8 548.3,261.2Z" fill="#e1db19" stroke="#e1db19" stroke-width="0.5"/>
<path d="M415.5,130.4L419.8,128.4 416.8,126.7 412.5,128.6Z" fill="#0fa40e" stroke="#0fa40e" stroke-width="0.5"/>
<path d="M418.6,132.2L422.8,130.3 419.8,128.4 415.5,130.4Z" fill="#26a710" stroke="#26a710" stroke-width="0.5"/>
<path d="M421.6,134.1L425.9,132.2 422.8,130.3 418.6,132.2Z" fill="#3ca912" stroke="#3ca912" stroke-width="0.5"/>
<path d="M424.8,136.2L429.0,134.2 425.9,132.2 421.6,134.1Z" fill="#50ab14" stroke="#50ab14" stroke-width="0.5"/>
<path d="M427.9,138.3L432.2,136.3 429.0,134.2 424.8,136.2Z" fill="#64ad15" stroke="#64ad15" stroke-width="0.5"/>
<path d="M431.0,140.6L435.4,138.6 432.2,136.3 427.9,138.3Z" fill="#7ab017" stroke="#7ab017" stroke-width="0.5"/>
<path d="M434.2,142.9L438.5,140.9 435.4,138.6 431.0,140.6Z" fill="#92b117" stroke="#92b117" stroke-width="0.5"/>
<path d="M437.5,145.3L441.8,143.3 438.5,140.9 434.2,142.9Z" fill="#a8b317" stroke="#a8b317" stroke-width="0.5"/>
<path d="M440.7,147.9L445.0,145.8 441.8,143.3 437.5,145.3Z" fill="#aeb316" stroke="#aeb316" stroke-width="0.5"/>
<path d="M444.0,150.5L448.3,148.4 445.0,145.8 440.7,147.9Z" fill="#b3b316" stroke="#b3b316" stroke-width="0.5"/>
<path d="M447.3,153.2L451.6,151.1 448.3,148.4 444.0,150.5Z" fill="#b9b315" stroke="#b9b315" stroke-width="0.5"/>
<path d="M450.6,156.0L454.9,153.9 451.6,151.1 447.3,153.2Z" fill="#bdb415" stroke="#bdb415" stroke-width="0.5"/>
<path d="M453.9,158.9L458.2,156.8 454.9,153.9 450.6,156.0Z" fill="#c1b414" stroke="#c1b414" stroke-width="0.5"/>
<path d="M457.2,161.9L461.6,159.8 458.2,156.8 453.9,158.9Z" fill="#c5b114" stroke="#c5b114" stroke-width="0.5"/>
<path d="M460.6,165.0L465.0,162.9 461.6,159.8 457.2,161.9Z" fill="#c7a613" stroke="#c7a613" stroke-width="0.5"/>
<path d="M464.0,168.2L468.4,166.0 465.0,162.9 460.6,165.0Z" fill="#c99a12" stroke="#c99a12" stroke-width="0.5"/>
<path d="M467.4,171.4L471.8,169.3 468.4,166.0 464.0,168.2Z" fill="#cb9111" stroke="#cb9111" stroke-width="0.5"/>
<path d="M470.8,174.8L475.2,172.6 471.8,169.3 467.4,171.4Z" fill="#ce8710" stroke="#ce8710" stroke-width="0.5"/>
<path d="M474.3,178.2L478.6,176.0 475.2,172.6 470.8,174.8Z" fill="#d08010" stroke="#d08010" stroke-width="0.5"/>
<path d="M477.7,181.7L482.1,179.5 478.6,176.0 474.3,178.2Z" fill="#d3790f" stroke="#d3790f" stroke-width="0.5"/>
<path d="M481.2,185.3L485.5,183.1 482.1,179.5 477.7,181.7Z" fill="#d4730f" stroke="#d4730f" stroke-width="0.5"/>
<path d="M484.6,189.0L489.0,186.8 485.5,183.1 481.2,185.3Z" fill="#d56f10" stroke="#d56f10" stroke-width="0.5"/>
<path d="M488.1,192.8L492.5,190.5 489.0,186.8 484.6,189.0Z" fill="#d66e11" stroke="#d66e11" stroke-width="0.5"/>
<path d="M491.6,196.6L496.0,194.4 492.5,190.5 488.1,192.8Z" fill="#d86c12" stroke="#d86c12" stroke-width="0.5"/>
<path d="M495.1,200.6L499.4,198.3 496.0,194.4 491.6,196.6Z" fill="#d86b12" stroke="#d86b12" stroke-width="0.5"/>
<path d="M498.6,204.6L502.9,202.3 499.4,198.3 495.1,200.6Z" fill="#d96b12" stroke="#d96b12" stroke-width="0.5"/>
<path d="M502.1,208.7L506.4,206.4 502.9,202.3 498.6,204.6Z" fill="#db6c12" stroke="#db6c12" stroke-width="0.5"/>
<path d="M505.6,212.9L509.9,210.5 506.4,206.4 502.1,208.7Z" fill="#dd6e12" stroke="#dd6e12" stroke-width="0.5"/>
<path d="M509.1,217.1L513.4,214.8 509.9,210.5 505.6,212.9Z" fill="#e07312" stroke="#e07312" stroke-width="0.5"/>
<path d="M512.6,221.4L517.0,219.1 513.4,214.8 509.1,217.1Z" fill="#e17611" stroke="#e17611" stroke-width="0.5"/>
<path d="M516.1,225.8L520.5,223.5 517.0,219.1 512.6,221.4Z" fill="#e47c10" stroke="#e47c10" stroke-width="0.5"/>
<path d="M519.6,230.3L524.0,227.9 520.5,223.5 516.1,225.8Z" fill="#e68310" stroke="#e68310" stroke-width="0.5"/>
<path d="M523.1,234.9L527.5,232.5 524.0,227.9 519.6,230.3Z" fill="#e68d12" stroke="#e68d12" stroke-width="0.5"/>
<path d="M526.6,239.5L531.0,237.1 527.5,232.5 523.1,234.9Z" fill="#e79812" stroke="#e79812" stroke-width="0.5"/>
<path d="M530.1,244.2L534.5,241.8 531.0,237.1 526.6,239.5Z" fill="#e7a413" stroke="#e7a413" stroke-width="0.5"/>
<path d="M533.6,248.9L537.9,246.5 534.5,241.8 530.1,244.2Z" fill="#e8b215" stroke="#e8b215" stroke-width="0.5"/>
<path d="M537.0,253.8L541.4,251.3 537.9,246.5 533.6,248.9Z" fill="#e8c216" stroke="#e8c216" stroke-width="0.5"/>
<path d="M540.5,258.7L544.9,256.2 541.4,251.3 537.0,253.8Z" fill="#e9d218" stroke="#e9d218" stroke-width="0.5"/>
<path d="M544.0,263.7L548.3,261.2 544.9,256.2 540.5,258.7Z" fill="#e8d718" stroke="#e8d718" stroke-width="0.5"/>
<path d="M547.4,268.7L551.8,266.2 548.3,261.2 544.0,263.7Z" fill="#e5da19" stroke="#e5da19" stroke-width="0.5"/>
<path d="M411.3,132.3L415.5,130.4 412.5,128.6 408.3,130.5Z" fill="#1ba40f" stroke="#1ba40f" stroke-width="0.5"/>
<path d="M414.3,134.2L418.6,132.2 415.5,130.4 411.3,132.3Z" fill="#32a711" stroke="#32a711" stroke-width="0.5"/>
<path d="M417.4,136.1L421.6,134.1 418.6,132.2 414.3,134.2Z" fill="#47a913" stroke="#47a913" stroke-width="0.5"/>
<path d="M420.5,138.2L424.8,136.2 421.6,134.1 417.4,136.1Z" fill="#5cac15" stroke="#5cac15" stroke-width="0.5"/>
<path d="M423.6,140.3L427.9,138.3 424.8,136.2 420.5,138.2Z" fill="#71ae16" stroke="#71ae16" stroke-width="0.5"/>
<path d="M426.7,142.6L431.0,140.6 427.9,138.3 423.6,140.3Z" fill="#89af16" stroke="#89af16" stroke-width="0.5"/>
<path d="M429.9,144.9L434.2,142.9 431.0,140.6 426.7,142.6Z" fill="#a1b217" stroke="#a1b217" stroke-width="0.5"/>
<path d="M433.1,147.4L437.5,145.3 434.2,142.9 429.9,144.9Z" fill="#acb317" stroke="#acb317" stroke-width="0.5"/>
<path d="M436.4,149.9L440.7,147.9 437.5,145.3 433.1,147.4Z" fill="#b1b216" stroke="#b1b216" stroke-width="0.5"/>
<path d="M439.6,152.6L444.0,150.5 440.7,147.9 436.4,149.9Z" fill="#b6b215" stroke="#b6b215" stroke-width="0.5"/>
<path d="M442.9,155.3L447.3,153.2 444.0,150.5 439.6,152.6Z" fill="#bab315" stroke="#bab315" stroke-width="0.5"/>
<path d="M446.2,158.1L450.6,156.0 447.3,153.2 442.9,155.3Z" fill="#c0b214" stroke="#c0b214" stroke-width="0.5"/>
<path d="M449.5,161.0L453.9,158.9 450.6,156.0 446.2,158.1Z" fill="#c3b014" stroke="#c3b014" stroke-width="0.5"/>
<path d="M452.9,164.0L457.2,161.9 453.9,158.9 449.5,161.0Z" fill="#c6a313" stroke="#c6a313" stroke-width="0.5"/>
<path d="M456.2,167.1L460.6,165.0 457.2,161.9 452.9,164.0Z" fill="#c99712" stroke="#c99712" stroke-width="0.5"/>
<path d="M459.6,170.3L464.0,168.2 460.6,165.0 456.2,167.1Z" fill="#cb8c11" stroke="#cb8c11" stroke-width="0.5"/>
<path d="M463.0,173.6L467.4,171.4 464.0,168.2 459.6,170.3Z" fill="#cd8210" stroke="#cd8210" stroke-width="0.5"/>
<path d="M466.4,177.0L470.8,174.8 467.4,171.4 463.0,173.6Z" fill="#d0790f" stroke="#d0790f" stroke-width="0.5"/>
<path d="M469.9,180.4L474.3,178.2 470.8,174.8 466.4,177.0Z" fill="#d1720f" stroke="#d1720f" stroke-width="0.5"/>
<path d="M473.3,184.0L477.7,181.7 474.3,178.2 469.9,180.4Z" fill="#d26d10" stroke="#d26d10" stroke-width="0.5"/>
<path d="M476.8,187.6L481.2,185.3 477.7,181.7 473.3,184.0Z" fill="#d26711" stroke="#d26711" stroke-width="0.5"/>
<path d="M480.2,191.3L484.6,189.0 481.2,185.3 476.8,187.6Z" fill="#d36313" stroke="#d36313" stroke-width="0.5"/>
<path d="M483.7,195.1L488.1,192.8 484.6,189.0 480.2,191.3Z" fill="#d36214" stroke="#d36214" stroke-width="0.5"/>
<path d="M487.2,198.9L491.6,196.6 488.1,192.8 483.7,195.1Z" fill="#d55f14" stroke="#d55f14" stroke-width="0.5"/>
<path d="M490.7,202.9L495.1,200.6 491.6,196.6 487.2,198.9Z" fill="#d65e14" stroke="#d65e14" stroke-width="0.5"/>
<path d="M494.1,206.9L498.6,204.6 495.1,200.6 490.7,202.9Z" fill="#d85f14" stroke="#d85f14" stroke-width="0.5"/>
<path d="M497.6,211.0L502.1,208.7 498.6,204.6 494.1,206.9Z" fill="#da6014" stroke="#da6014" stroke-width="0.5"/>
<path d="M501.1,215.2L505.6,212.9 502.1,208.7 497.6,211.0Z" fill="#db6315" stroke="#db6315" stroke-width="0.5"/>
<path d="M504.7,219.5L509.1,217.1 505.6,212.9 501.1,215.2Z" fill="#dd6615" stroke="#dd6615" stroke-width="0.5"/>
<path d="M508.2,223.8L512.6,221.4 509.1,217.1 504.7,219.5Z" fill="#e06914" stroke="#e06914" stroke-width="0.5"/>
<path d="M511.7,228.2L516.1,225.8 512.6,221.4 508.2,223.8Z" fill="#e16f13" stroke="#e16f13" stroke-width="0.5"/>
<path d="M515.2,232.7L519.6,230.3 516.1,225.8 511.7,228.2Z" fill="#e47611" stroke="#e47611" stroke-width="0.5"/>
<path d="M518.7,237.3L523.1,234.9 519.6,230.3 515.2,232.7Z" fill="#e77e10" stroke="#e77e10" stroke-width="0.5"/>
<path d="M522.2,241.9L526.6,239.5 523.1,234.9 518.7,237.3Z" fill="#e88810" stroke="#e88810" stroke-width="0.5"/>
<path d="M525.7,246.6L530.1,244.2 526.6,239.5 522.2,241.9Z" fill="#ea9512" stroke="#ea9512" stroke-width="0.5"/>
<path d="M529.2,251.4L533.6,248.9 530.1,244.2 525.7,246.6Z" fill="#eaa213" stroke="#eaa213" stroke-width="0.5"/>
<path d="M532.6,256.2L537.0,253.8 533.6,248.9 529.2,251.4Z" fill="#ebb115" stroke="#ebb115" stroke-width="0.5"/>
<path d="M536.1,261.2L540.5,258.7 537.0,253.8 532.6,256.2Z" fill="#eac216" stroke="#eac216" stroke-width="0.5"/>
<path d="M539.6,266.1L544.0,263.7 540.5,258.7 536.1,261.2Z" fill="#ead518" stroke="#ead518" stroke-width="0.5"/>
<path d="M543.0,271.2L547.4,268.7 544.0,263.7 539.6,266.1Z" fill="#e9d918" stroke="#e9d918" stroke-width="0.5"/>
<path d="M407.0,134.3L411.3,132.3 408.3,130.5 404.0,132.5Z" fill="#27a610" stroke="#27a610" stroke-width="0.5"/>
<path d="M410.0,136.1L414.3,134.2 411.3,132.3 407.0,134.3Z" fill="#3da812" stroke="#3da812" stroke-width="0.5"/>
<path d="M413.0,138.1L417.4,136.1 414.3,134.2 410.0,136.1Z" fill="#52aa14" stroke="#52aa14" stroke-width="0.5"/>
<path d="M416.1,140.2L420.5,138.2 417.4,136.1 413.0,138.1Z" fill="#67ac16" stroke="#67ac16" stroke-width="0.5"/>
<path d="M419.3,142.4L423.6,140.3 420.5,138.2 416.1,140.2Z" fill="#7faf16" stroke="#7faf16" stroke-width="0.5"/>
<path d="M422.4,144.6L426.7,142.6 423.6,140.3 419.3,142.4Z" fill="#97b016" stroke="#97b016" stroke-width="0.5"/>
<path d="M425.6,147.0L429.9,144.9 426.7,142.6 422.4,144.6Z" fill="#aab216" stroke="#aab216" stroke-width="0.5"/>
<path d="M428.8,149.5L433.1,147.4 429.9,144.9 425.6,147.0Z" fill="#afb115" stroke="#afb115" stroke-width="0.5"/>
<path d="M432.0,152.0L436.4,149.9 433.1,147.4 428.8,149.5Z" fill="#b4b216" stroke="#b4b216" stroke-width="0.5"/>
<path d="M435.3,154.7L439.6,152.6 436.4,149.9 432.0,152.0Z" fill="#b9b215" stroke="#b9b215" stroke-width="0.5"/>
<path d="M438.5,157.4L442.9,155.3 439.6,152.6 435.3,154.7Z" fill="#bdb113" stroke="#bdb113" stroke-width="0.5"/>
<path d="M441.8,160.2L446.2,158.1 442.9,155.3 438.5,157.4Z" fill="#c2b014" stroke="#c2b014" stroke-width="0.5"/>
<path d="M445.2,163.2L449.5,161.0 446.2,158.1 441.8,160.2Z" fill="#c5a213" stroke="#c5a213" stroke-width="0.5"/>
<path d="M448.5,166.2L452.9,164.0 449.5,161.0 445.2,163.2Z" fill="#c79612" stroke="#c79612" stroke-width="0.5"/>
<path d="M451.9,169.3L456.2,167.1 452.9,164.0 448.5,166.2Z" fill="#ca8911" stroke="#ca8911" stroke-width="0.5"/>
<path d="M455.2,172.5L459.6,170.3 456.2,167.1 451.9,169.3Z" fill="#cc7e0f" stroke="#cc7e0f" stroke-width="0.5"/>
<path d="M458.6,175.8L463.0,173.6 459.6,170.3 455.2,172.5Z" fill="#ce740e" stroke="#ce740e" stroke-width="0.5"/>
<path d="M462.0,179.2L466.4,177.0 463.0,173.6 458.6,175.8Z" fill="#ce6c10" stroke="#ce6c10" stroke-width="0.5"/>
<path d="M465.5,182.6L469.9,180.4 466.4,177.0 462.0,179.2Z" fill="#cf6611" stroke="#cf6611" stroke-width="0.5"/>
<path d="M468.9,186.2L473.3,184.0 469.9,180.4 465.5,182.6Z" fill="#d06112" stroke="#d06112" stroke-width="0.5"/>
<path d="M472.3,189.8L476.8,187.6 473.3,184.0 468.9,186.2Z" fill="#d05c14" stroke="#d05c14" stroke-width="0.5"/>
<path d="M475.8,193.5L480.2,191.3 476.8,187.6 472.3,189.8Z" fill="#d15715" stroke="#d15715" stroke-width="0.5"/>
<path d="M479.3,197.3L483.7,195.1 480.2,191.3 475.8,193.5Z" fill="#d25616" stroke="#d25616" stroke-width="0.5"/>
<path d="M482.7,201.2L487.2,198.9 483.7,195.1 479.3,197.3Z" fill="#d35416" stroke="#d35416" stroke-width="0.5"/>
<path d="M486.2,205.2L490.7,202.9 487.2,198.9 482.7,201.2Z" fill="#d45217" stroke="#d45217" stroke-width="0.5"/>
<path d="M489.7,209.2L494.1,206.9 490.7,202.9 486.2,205.2Z" fill="#d55317" stroke="#d55317" stroke-width="0.5"/>
<path d="M493.2,213.3L497.6,211.0 494.1,206.9 489.7,209.2Z" fill="#d75317" stroke="#d75317" stroke-width="0.5"/>
<path d="M496.7,217.5L501.1,215.2 497.6,211.0 493.2,213.3Z" fill="#da5617" stroke="#da5617" stroke-width="0.5"/>
<path d="M500.2,221.8L504.7,219.5 501.1,215.2 496.7,217.5Z" fill="#db5917" stroke="#db5917" stroke-width="0.5"/>
<path d="M503.7,226.2L508.2,223.8 504.7,219.5 500.2,221.8Z" fill="#dd5e16" stroke="#dd5e16" stroke-width="0.5"/>
<path d="M507.2,230.6L511.7,228.2 508.2,223.8 503.7,226.2Z" fill="#e06215" stroke="#e06215" stroke-width="0.5"/>
<path d="M510.7,235.1L515.2,232.7 511.7,228.2 507.2,230.6Z" fill="#e36a14" stroke="#e36a14" stroke-width="0.5"/>
<path d="M514.2,239.7L518.7,237.3 515.2,232.7 510.7,235.1Z" fill="#e57113" stroke="#e57113" stroke-width="0.5"/>
<path d="M517.7,244.3L522.2,241.9 518.7,237.3 514.2,239.7Z" fill="#e87912" stroke="#e87912" stroke-width="0.5"/>
<path d="M521.2,249.0L525.7,246.6 522.2,241.9 517.7,244.3Z" fill="#eb8510" stroke="#eb8510" stroke-width="0.5"/>
<path d="M524.7,253.8L529.2,251.4 525.7,246.6 521.2,249.0Z" fill="#eb9212" stroke="#eb9212" stroke-width="0.5"/>
<path d="M528.2,258.7L532.6,256.2 529.2,251.4 524.7,253.8Z" fill="#eca113" stroke="#eca113" stroke-width="0.5"/>
<path d="M531.7,263.6L536.1,261.2 532.6,256.2 528.2,258.7Z" fill="#ecb115" stroke="#ecb115" stroke-width="0.5"/>
<path d="M535.2,268.6L539.6,266.1 536.1,261.2 531.7,263.6Z" fill="#ebc416" stroke="#ebc416" stroke-width="0.5"/>
<path d="M538.6,273.7L543.0,271.2 539.6,266.1 535.2,268.6Z" fill="#ecd718" stroke="#ecd718" stroke-width="0.5"/>
<path d="M402.7,136.2L407.0,134.3 404.0,132.5 399.7,134.5Z" fill="#31a611" stroke="#31a611" stroke-width="0.5"/>
<path d="M405.7,138.1L410.0,136.1 407.0,134.3 402.7,136.2Z" fill="#48a813" stroke="#48a813" stroke-width="0.5"/>
<path d="M408.7,140.1L413.0,138.1 410.0,136.1 405.7,138.1Z" fill="#5eac15" stroke="#5eac15" stroke-width="0.5"/>
<path d="M411.8,142.2L416.1,140.2 413.0,138.1 408.7,140.1Z" fill="#75ad16" stroke="#75ad16" stroke-width="0.5"/>
<path d="M414.9,144.4L419.3,142.4 416.1,140.2 411.8,142.2Z" fill="#8eaf16" stroke="#8eaf16" stroke-width="0.5"/>
<path d="M418.1,146.7L422.4,144.6 419.3,142.4 414.9,144.4Z" fill="#a6b116" stroke="#a6b116" stroke-width="0.5"/>
<path d="M421.2,149.0L425.6,147.0 422.4,144.6 418.1,146.7Z" fill="#adb015" stroke="#adb015" stroke-width="0.5"/>
<path d="M424.4,151.5L428.8,149.5 425.6,147.0 421.2,149.0Z" fill="#b2b115" stroke="#b2b115" stroke-width="0.5"/>
<path d="M427.6,154.1L432.0,152.0 428.8,149.5 424.4,151.5Z" fill="#b7b014" stroke="#b7b014" stroke-width="0.5"/>
<path d="M430.9,156.8L435.3,154.7 432.0,152.0 427.6,154.1Z" fill="#bbb114" stroke="#bbb114" stroke-width="0.5"/>
<path d="M434.2,159.5L438.5,157.4 435.3,154.7 430.9,156.8Z" fill="#c0b113" stroke="#c0b113" stroke-width="0.5"/>
<path d="M437.4,162.4L441.8,160.2 438.5,157.4 434.2,159.5Z" fill="#c3a212" stroke="#c3a212" stroke-width="0.5"/>
<path d="M440.8,165.3L445.2,163.2 441.8,160.2 437.4,162.4Z" fill="#c69511" stroke="#c69511" stroke-width="0.5"/>
<path d="M444.1,168.4L448.5,166.2 445.2,163.2 440.8,165.3Z" fill="#c88710" stroke="#c88710" stroke-width="0.5"/>
<path d="M447.5,171.5L451.9,169.3 448.5,166.2 444.1,168.4Z" fill="#ca7b0f" stroke="#ca7b0f" stroke-width="0.5"/>
<path d="M450.8,174.7L455.2,172.5 451.9,169.3 447.5,171.5Z" fill="#cd700e" stroke="#cd700e" stroke-width="0.5"/>
<path d="M454.2,178.0L458.6,175.8 455.2,172.5 450.8,174.7Z" fill="#cd6811" stroke="#cd6811" stroke-width="0.5"/>
<path d="M457.6,181.4L462.0,179.2 458.6,175.8 454.2,178.0Z" fill="#cd6012" stroke="#cd6012" stroke-width="0.5"/>
<path d="M461.0,184.9L465.5,182.6 462.0,179.2 457.6,181.4Z" fill="#cd5a13" stroke="#cd5a13" stroke-width="0.5"/>
<path d="M464.5,188.4L468.9,186.2 465.5,182.6 461.0,184.9Z" fill="#cd5515" stroke="#cd5515" stroke-width="0.5"/>
<path d="M467.9,192.1L472.3,189.8 468.9,186.2 464.5,188.4Z" fill="#ce5016" stroke="#ce5016" stroke-width="0.5"/>
<path d="M471.4,195.8L475.8,193.5 472.3,189.8 467.9,192.1Z" fill="#cf4d17" stroke="#cf4d17" stroke-width="0.5"/>
<path d="M474.8,199.6L479.3,197.3 475.8,193.5 471.4,195.8Z" fill="#cf4b17" stroke="#cf4b17" stroke-width="0.5"/>
<path d="M478.3,203.5L482.7,201.2 479.3,197.3 474.8,199.6Z" fill="#d04919" stroke="#d04919" stroke-width="0.5"/>
<path d="M481.8,207.5L486.2,205.2 482.7,201.2 478.3,203.5Z" fill="#d14819" stroke="#d14819" stroke-width="0.5"/>
<path d="M485.3,211.5L489.7,209.2 486.2,205.2 481.8,207.5Z" fill="#d34919" stroke="#d34919" stroke-width="0.5"/>
<path d="M488.8,215.7L493.2,213.3 489.7,209.2 485.3,211.5Z" fill="#d44919" stroke="#d44919" stroke-width="0.5"/>
<path d="M492.3,219.9L496.7,217.5 493.2,213.3 488.8,215.7Z" fill="#d64b1a" stroke="#d64b1a" stroke-width="0.5"/>
<path d="M495.8,224.2L500.2,221.8 496.7,217.5 492.3,219.9Z" fill="#d94e18" stroke="#d94e18" stroke-width="0.5"/>
<path d="M499.3,228.5L503.7,226.2 500.2,221.8 495.8,224.2Z" fill="#db5119" stroke="#db5119" stroke-width="0.5"/>
<path d="M502.8,233.0L507.2,230.6 503.7,226.2 499.3,228.5Z" fill="#dd5618" stroke="#dd5618" stroke-width="0.5"/>
<path d="M506.3,237.5L510.7,235.1 507.2,230.6 502.8,233.0Z" fill="#e05d16" stroke="#e05d16" stroke-width="0.5"/>
<path d="M509.8,242.1L514.2,239.7 510.7,235.1 506.3,237.5Z" fill="#e36415" stroke="#e36415" stroke-width="0.5"/>
<path d="M513.3,246.7L517.7,244.3 514.2,239.7 509.8,242.1Z" fill="#e66c14" stroke="#e66c14" stroke-width="0.5"/>
<path d="M516.8,251.5L521.2,249.0 517.7,244.3 513.3,246.7Z" fill="#e97613" stroke="#e97613" stroke-width="0.5"/>
<path d="M520.3,256.3L524.7,253.8 521.2,249.0 516.8,251.5Z" fill="#ec8211" stroke="#ec8211" stroke-width="0.5"/>
<path d="M523.8,261.1L528.2,258.7 524.7,253.8 520.3,256.3Z" fill="#ed9112" stroke="#ed9112" stroke-width="0.5"/>
<path d="M527.3,266.1L531.7,263.6 528.2,258.7 523.8,261.1Z" fill="#eda114" stroke="#eda114" stroke-width="0.5"/>
<path d="M530.7,271.1L535.2,268.6 531.7,263.6 527.3,266.1Z" fill="#eeb415" stroke="#eeb415" stroke-width="0.5"/>
<path d="M534.2,276.2L538.6,273.7 535.2,268.6 530.7,271.1Z" fill="#edc717" stroke="#edc717" stroke-width="0.5"/>
<path d="M398.3,138.2L402.7,136.2 399.7,134.5 395.4,136.4Z" fill="#3da712" stroke="#3da712" stroke-width="0.5"/>
<path d="M401.3,140.1L405.7,138.1 402.7,136.2 398.3,138.2Z" fill="#54a914" stroke="#54a914" stroke-width="0.5"/>
<path d="M404.4,142.1L408.7,140.1 405.7,138.1 401.3,140.1Z" fill="#69ac16" stroke="#69ac16" stroke-width="0.5"/>
<path d="M407.5,144.2L411.8,142.2 408.7,140.1 404.4,142.1Z" fill="#82ad16" stroke="#82ad16" stroke-width="0.5"/>
<path d="M410.6,146.4L414.9,144.4 411.8,142.2 407.5,144.2Z" fill="#9baf16" stroke="#9baf16" stroke-width="0.5"/>
<path d="M413.7,148.7L418.1,146.7 414.9,144.4 410.6,146.4Z" fill="#aab016" stroke="#aab016" stroke-width="0.5"/>
<path d="M416.9,151.1L421.2,149.0 418.1,146.7 413.7,148.7Z" fill="#b0b015" stroke="#b0b015" stroke-width="0.5"/>
<path d="M420.0,153.6L424.4,151.5 421.2,149.0 416.9,151.1Z" fill="#b5af14" stroke="#b5af14" stroke-width="0.5"/>
<path d="M423.3,156.2L427.6,154.1 424.4,151.5 420.0,153.6Z" fill="#bab014" stroke="#bab014" stroke-width="0.5"/>
<path d="M426.5,158.9L430.9,156.8 427.6,154.1 423.3,156.2Z" fill="#beb013" stroke="#beb013" stroke-width="0.5"/>
<path d="M429.8,161.7L434.2,159.5 430.9,156.8 426.5,158.9Z" fill="#c1a312" stroke="#c1a312" stroke-width="0.5"/>
<path d="M433.0,164.5L437.4,162.4 434.2,159.5 429.8,161.7Z" fill="#c49511" stroke="#c49511" stroke-width="0.5"/>
<path d="M436.4,167.5L440.8,165.3 437.4,162.4 433.0,164.5Z" fill="#c78610" stroke="#c78610" stroke-width="0.5"/>
<path d="M439.7,170.5L444.1,168.4 440.8,165.3 436.4,167.5Z" fill="#c9790f" stroke="#c9790f" stroke-width="0.5"/>
<path d="M443.0,173.7L447.5,171.5 444.1,168.4 439.7,170.5Z" fill="#cb6d0f" stroke="#cb6d0f" stroke-width="0.5"/>
<path d="M446.4,176.9L450.8,174.7 447.5,171.5 443.0,173.7Z" fill="#ca6511" stroke="#ca6511" stroke-width="0.5"/>
<path d="M449.8,180.2L454.2,178.0 450.8,174.7 446.4,176.9Z" fill="#ca5c13" stroke="#ca5c13" stroke-width="0.5"/>
<path d="M453.2,183.6L457.6,181.4 454.2,178.0 449.8,180.2Z" fill="#ca5514" stroke="#ca5514" stroke-width="0.5"/>
<path d="M456.6,187.1L461.0,184.9 457.6,181.4 453.2,183.6Z" fill="#cb4e16" stroke="#cb4e16" stroke-width="0.5"/>
<path d="M460.0,190.7L464.5,188.4 461.0,184.9 456.6,187.1Z" fill="#cb4917" stroke="#cb4917" stroke-width="0.5"/>
<path d="M463.5,194.4L467.9,192.1 464.5,188.4 460.0,190.7Z" fill="#cb4618" stroke="#cb4618" stroke-width="0.5"/>
<path d="M466.9,198.1L471.4,195.8 467.9,192.1 463.5,194.4Z" fill="#cb4418" stroke="#cb4418" stroke-width="0.5"/>
<path d="M470.4,201.9L474.8,199.6 471.4,195.8 466.9,198.1Z" fill="#cb421a" stroke="#cb421a" stroke-width="0.5"/>
<path d="M473.9,205.8L478.3,203.5 474.8,199.6 470.4,201.9Z" fill="#cd401a" stroke="#cd401a" stroke-width="0.5"/>
<path d="M477.3,209.8L481.8,207.5 478.3,203.5 473.9,205.8Z" fill="#cd401a" stroke="#cd401a" stroke-width="0.5"/>
<path d="M480.8,213.9L485.3,211.5 481.8,207.5 477.3,209.8Z" fill="#cf401a" stroke="#cf401a" stroke-width="0.5"/>
<path d="M484.3,218.0L488.8,215.7 485.3,211.5 480.8,213.9Z" fill="#d0411b" stroke="#d0411b" stroke-width="0.5"/>
<path d="M487.8,222.3L492.3,219.9 488.8,215.7 484.3,218.0Z" fill="#d3421b" stroke="#d3421b" stroke-width="0.5"/>
<path d="M491.3,226.6L495.8,224.2 492.3,219.9 487.8,222.3Z" fill="#d5451a" stroke="#d5451a" stroke-width="0.5"/>
<path d="M494.8,230.9L499.3,228.5 495.8,224.2 491.3,226.6Z" fill="#d7481a" stroke="#d7481a" stroke-width="0.5"/>
<path d="M498.3,235.4L502.8,233.0 499.3,228.5 494.8,230.9Z" fill="#da4b1a" stroke="#da4b1a" stroke-width="0.5"/>
<path d="M501.8,239.9L506.3,237.5 502.8,233.0 498.3,235.4Z" fill="#dd5119" stroke="#dd5119" stroke-width="0.5"/>
<path d="M505.3,244.5L509.8,242.1 506.3,237.5 501.8,239.9Z" fill="#e25818" stroke="#e25818" stroke-width="0.5"/>
<path d="M508.8,249.2L513.3,246.7 509.8,242.1 505.3,244.5Z" fill="#e36117" stroke="#e36117" stroke-width="0.5"/>
<path d="M512.3,253.9L516.8,251.5 513.3,246.7 508.8,249.2Z" fill="#e66a16" stroke="#e66a16" stroke-width="0.5"/>
<path d="M515.8,258.7L520.3,256.3 516.8,251.5 512.3,253.9Z" fill="#eb7613" stroke="#eb7613" stroke-width="0.5"/>
<path d="M519.3,263.6L523.8,261.1 520.3,256.3 515.8,258.7Z" fill="#ee8111" stroke="#ee8111" stroke-width="0.5"/>
<path d="M522.8,268.6L527.3,266.1 523.8,261.1 519.3,263.6Z" fill="#ee9112" stroke="#ee9112" stroke-width="0.5"/>
<path d="M526.3,273.6L530.7,271.1 527.3,266.1 522.8,268.6Z" fill="#efa414" stroke="#efa414" stroke-width="0.5"/>
<path d="M529.7,278.7L534.2,276.2 530.7,271.1 526.3,273.6Z" fill="#eeb815" stroke="#eeb815" stroke-width="0.5"/>
<path d="M394.0,140.2L398.3,138.2 395.4,136.4 391.0,138.4Z" fill="#49a813" stroke="#49a813" stroke-width="0.5"/>
<path d="M397.0,142.2L401.3,140.1 398.3,138.2 394.0,140.2Z" fill="#5eab15" stroke="#5eab15" stroke-width="0.5"/>
<path d="M400.0,144.2L404.4,142.1 401.3,140.1 397.0,142.2Z" fill="#76ad16" stroke="#76ad16" stroke-width="0.5"/>
<path d="M403.1,146.3L407.5,144.2 404.4,142.1 400.0,144.2Z" fill="#90ae16" stroke="#90ae16" stroke-width="0.5"/>
<path d="M406.2,148.5L410.6,146.4 407.5,144.2 403.1,146.3Z" fill="#a7af16" stroke="#a7af16" stroke-width="0.5"/>
<path d="M409.3,150.8L413.7,148.7 410.6,146.4 406.2,148.5Z" fill="#adaf15" stroke="#adaf15" stroke-width="0.5"/>
<path d="M412.5,153.2L416.9,151.1 413.7,148.7 409.3,150.8Z" fill="#b2af15" stroke="#b2af15" stroke-width="0.5"/>
<path d="M415.6,155.7L420.0,153.6 416.9,151.1 412.5,153.2Z" fill="#b7af14" stroke="#b7af14" stroke-width="0.5"/>
<path d="M418.9,158.3L423.3,156.2 420.0,153.6 415.6,155.7Z" fill="#bcaf13" stroke="#bcaf13" stroke-width="0.5"/>
<path d="M422.1,161.0L426.5,158.9 423.3,156.2 418.9,158.3Z" fill="#c0a512" stroke="#c0a512" stroke-width="0.5"/>
<path d="M425.3,163.8L429.8,161.7 426.5,158.9 422.1,161.0Z" fill="#c29611" stroke="#c29611" stroke-width="0.5"/>
<path d="M428.6,166.7L433.0,164.5 429.8,161.7 425.3,163.8Z" fill="#c58710" stroke="#c58710" stroke-width="0.5"/>
<path d="M431.9,169.7L436.4,167.5 433.0,164.5 428.6,166.7Z" fill="#c7780f" stroke="#c7780f" stroke-width="0.5"/>
<path d="M435.3,172.7L439.7,170.5 436.4,167.5 431.9,169.7Z" fill="#ca6c0f" stroke="#ca6c0f" stroke-width="0.5"/>
<path d="M438.6,175.9L443.0,173.7 439.7,170.5 435.3,172.7Z" fill="#c96212" stroke="#c96212" stroke-width="0.5"/>
<path d="M442.0,179.1L446.4,176.9 443.0,173.7 438.6,175.9Z" fill="#c95913" stroke="#c95913" stroke-width="0.5"/>
<path d="M445.3,182.5L449.8,180.2 446.4,176.9 442.0,179.1Z" fill="#c95115" stroke="#c95115" stroke-width="0.5"/>
<path d="M448.7,185.9L453.2,183.6 449.8,180.2 445.3,182.5Z" fill="#c94917" stroke="#c94917" stroke-width="0.5"/>
<path d="M452.1,189.4L456.6,187.1 453.2,183.6 448.7,185.9Z" fill="#c84518" stroke="#c84518" stroke-width="0.5"/>
<path d="M455.6,193.0L460.0,190.7 456.6,187.1 452.1,189.4Z" fill="#c74118" stroke="#c74118" stroke-width="0.5"/>
<path d="M459.0,196.6L463.5,194.4 460.0,190.7 455.6,193.0Z" fill="#c73e19" stroke="#c73e19" stroke-width="0.5"/>
<path d="M462.4,200.4L466.9,198.1 463.5,194.4 459.0,196.6Z" fill="#c73b1a" stroke="#c73b1a" stroke-width="0.5"/>
<path d="M465.9,204.2L470.4,201.9 466.9,198.1 462.4,200.4Z" fill="#c8391b" stroke="#c8391b" stroke-width="0.5"/>
<path d="M469.4,208.1L473.9,205.8 470.4,201.9 465.9,204.2Z" fill="#c9381b" stroke="#c9381b" stroke-width="0.5"/>
<path d="M472.9,212.1L477.3,209.8 473.9,205.8 469.4,208.1Z" fill="#c9371b" stroke="#c9371b" stroke-width="0.5"/>
<path d="M476.3,216.2L480.8,213.9 477.3,209.8 472.9,212.1Z" fill="#cb381c" stroke="#cb381c" stroke-width="0.5"/>
<path d="M479.8,220.4L484.3,218.0 480.8,213.9 476.3,216.2Z" fill="#ce381c" stroke="#ce381c" stroke-width="0.5"/>
<path d="M483.3,224.6L487.8,222.3 484.3,218.0 479.8,220.4Z" fill="#cf3a1c" stroke="#cf3a1c" stroke-width="0.5"/>
<path d="M486.8,228.9L491.3,226.6 487.8,222.3 483.3,224.6Z" fill="#d23c1c" stroke="#d23c1c" stroke-width="0.5"/>
<path d="M490.3,233.3L494.8,230.9 491.3,226.6 486.8,228.9Z" fill="#d33f1b" stroke="#d33f1b" stroke-width="0.5"/>
<path d="M493.8,237.8L498.3,235.4 494.8,230.9 490.3,233.3Z" fill="#d6441b" stroke="#d6441b" stroke-width="0.5"/>
<path d="M497.3,242.3L501.8,239.9 498.3,235.4 493.8,237.8Z" fill="#da481a" stroke="#da481a" stroke-width="0.5"/>
<path d="M500.8,246.9L505.3,244.5 501.8,239.9 497.3,242.3Z" fill="#dd4e1a" stroke="#dd4e1a" stroke-width="0.5"/>
<path d="M504.3,251.6L508.8,249.2 505.3,244.5 500.8,246.9Z" fill="#e25419" stroke="#e25419" stroke-width="0.5"/>
<path d="M507.8,256.4L512.3,253.9 508.8,249.2 504.3,251.6Z" fill="#e55d18" stroke="#e55d18" stroke-width="0.5"/>
<path d="M511.3,261.2L515.8,258.7 512.3,253.9 507.8,256.4Z" fill="#e86916" stroke="#e86916" stroke-width="0.5"/>
<path d="M514.8,266.1L519.3,263.6 515.8,258.7 511.3,261.2Z" fill="#eb7513" stroke="#eb7513" stroke-width="0.5"/>
<path d="M518.3,271.0L522.8,268.6 519.3,263.6 514.8,266.1Z" fill="#ef8211" stroke="#ef8211" stroke-width="0.5"/>
<path d="M521.8,276.1L526.3,273.6 522.8,268.6 518.3,271.0Z" fill="#f09312" stroke="#f09312" stroke-width="0.5"/>
<path d="M525.3,281.2L529.7,278.7 526.3,273.6 521.8,276.1Z" fill="#f0a714" stroke="#f0a714" stroke-width="0.5"/>
<path d="M389.7,142.3L394.0,140.2 391.0,138.4 386.7,140.4Z" fill="#53a814" stroke="#53a814" stroke-width="0.5"/>
<path d="M392.6,144.2L397.0,142.2 394.0,140.2 389.7,142.3Z" fill="#6aab16" stroke="#6aab16" stroke-width="0.5"/>
<path d="M395.7,146.2L400.0,144.2 397.0,142.2 392.6,144.2Z" fill="#84ac16" stroke="#84ac16" stroke-width="0.5"/>
<path d="M398.7,148.4L403.1,146.3 400.0,144.2 395.7,146.2Z" fill="#9daf16" stroke="#9daf16" stroke-width="0.5"/>
<path d="M401.8,150.6L406.2,148.5 403.1,146.3 398.7,148.4Z" fill="#aaaf16" stroke="#aaaf16" stroke-width="0.5"/>
<path d="M404.9,152.9L409.3,150.8 406.2,148.5 401.8,150.6Z" fill="#b0ae15" stroke="#b0ae15" stroke-width="0.5"/>
<path d="M408.1,155.3L412.5,153.2 409.3,150.8 404.9,152.9Z" fill="#b4ae14" stroke="#b4ae14" stroke-width="0.5"/>
<path d="M411.2,157.8L415.6,155.7 412.5,153.2 408.1,155.3Z" fill="#b9ad13" stroke="#b9ad13" stroke-width="0.5"/>
<path d="M414.4,160.5L418.9,158.3 415.6,155.7 411.2,157.8Z" fill="#beaa13" stroke="#beaa13" stroke-width="0.5"/>
<path d="M417.7,163.2L422.1,161.0 418.9,158.3 414.4,160.5Z" fill="#c19811" stroke="#c19811" stroke-width="0.5"/>
<path d="M420.9,166.0L425.3,163.8 422.1,161.0 417.7,163.2Z" fill="#c48810" stroke="#c48810" stroke-width="0.5"/>
<path d="M424.2,168.9L428.6,166.7 425.3,163.8 420.9,166.0Z" fill="#c6780f" stroke="#c6780f" stroke-width="0.5"/>
<path d="M427.5,171.9L431.9,169.7 428.6,166.7 424.2,168.9Z" fill="#c86c0f" stroke="#c86c0f" stroke-width="0.5"/>
<path d="M430.8,174.9L435.3,172.7 431.9,169.7 427.5,171.9Z" fill="#c76111" stroke="#c76111" stroke-width="0.5"/>
<path d="M434.1,178.1L438.6,175.9 435.3,172.7 430.8,174.9Z" fill="#c75614" stroke="#c75614" stroke-width="0.5"/>
<path d="M437.5,181.4L442.0,179.1 438.6,175.9 434.1,178.1Z" fill="#c74e15" stroke="#c74e15" stroke-width="0.5"/>
<path d="M440.9,184.7L445.3,182.5 442.0,179.1 437.5,181.4Z" fill="#c64616" stroke="#c64616" stroke-width="0.5"/>
<path d="M444.3,188.1L448.7,185.9 445.3,182.5 440.9,184.7Z" fill="#c54118" stroke="#c54118" stroke-width="0.5"/>
<path d="M447.7,191.6L452.1,189.4 448.7,185.9 444.3,188.1Z" fill="#c43d19" stroke="#c43d19" stroke-width="0.5"/>
<path d="M451.1,195.2L455.6,193.0 452.1,189.4 447.7,191.6Z" fill="#c4391a" stroke="#c4391a" stroke-width="0.5"/>
<path d="M454.5,198.9L459.0,196.6 455.6,193.0 451.1,195.2Z" fill="#c3351a" stroke="#c3351a" stroke-width="0.5"/>
<path d="M458.0,202.7L462.4,200.4 459.0,196.6 454.5,198.9Z" fill="#c4321b" stroke="#c4321b" stroke-width="0.5"/>
<path d="M461.4,206.5L465.9,204.2 462.4,200.4 458.0,202.7Z" fill="#c5311c" stroke="#c5311c" stroke-width="0.5"/>
<path d="M464.9,210.5L469.4,208.1 465.9,204.2 461.4,206.5Z" fill="#c52f1c" stroke="#c52f1c" stroke-width="0.5"/>
<path d="M468.4,214.5L472.9,212.1 469.4,208.1 464.9,210.5Z" fill="#c7301c" stroke="#c7301c" stroke-width="0.5"/>
<path d="M471.8,218.6L476.3,216.2 472.9,212.1 468.4,214.5Z" fill="#c8301d" stroke="#c8301d" stroke-width="0.5"/>
<path d="M475.3,222.8L479.8,220.4 476.3,216.2 471.8,218.6Z" fill="#ca311d" stroke="#ca311d" stroke-width="0.5"/>
<path d="M478.8,227.0L483.3,224.6 479.8,220.4 475.3,222.8Z" fill="#cb311d" stroke="#cb311d" stroke-width="0.5"/>
<path d="M482.3,231.3L486.8,228.9 483.3,224.6 478.8,227.0Z" fill="#ce341d" stroke="#ce341d" stroke-width="0.5"/>
<path d="M485.8,235.7L490.3,233.3 486.8,228.9 482.3,231.3Z" fill="#d1371c" stroke="#d1371c" stroke-width="0.5"/>
<path d="M489.3,240.2L493.8,237.8 490.3,233.3 485.8,235.7Z" fill="#d43b1d" stroke="#d43b1d" stroke-width="0.5"/>
<path d="M492.8,244.7L497.3,242.3 493.8,237.8 489.3,240.2Z" fill="#d63f1b" stroke="#d63f1b" stroke-width="0.5"/>
<path d="M496.3,249.4L500.8,246.9 497.3,242.3 492.8,244.7Z" fill="#d9451c" stroke="#d9451c" stroke-width="0.5"/>
<path d="M499.8,254.1L504.3,251.6 500.8,246.9 496.3,249.4Z" fill="#de4a1b" stroke="#de4a1b" stroke-width="0.5"/>
<path d="M503.3,258.8L507.8,256.4 504.3,251.6 499.8,254.1Z" fill="#e2511a" stroke="#e2511a" stroke-width="0.5"/>
<path d="M506.8,263.7L511.3,261.2 507.8,256.4 503.3,258.8Z" fill="#e65b18" stroke="#e65b18" stroke-width="0.5"/>
<path d="M510.3,268.6L514.8,266.1 511.3,261.2 506.8,263.7Z" fill="#e96816" stroke="#e96816" stroke-width="0.5"/>
<path d="M513.8,273.5L518.3,271.0 514.8,266.1 510.3,268.6Z" fill="#ed7513" stroke="#ed7513" stroke-width="0.5"/>
<path d="M517.3,278.6L521.8,276.1 518.3,271.0 513.8,273.5Z" fill="#f18411" stroke="#f18411" stroke-width="0.5"/>
<path d="M520.8,283.7L525.3,281.2 521.8,276.1 517.3,278.6Z" fill="#f29712" stroke="#f29712" stroke-width="0.5"/>
<path d="M385.3,144.3L389.7,142.3 386.7,140.4 382.4,142.5Z" fill="#5eaa15" stroke="#5eaa15" stroke-width="0.5"/>
<path d="M388.3,146.2L392.6,144.2 389.7,142.3 385.3,144.3Z" fill="#76ac16" stroke="#76ac16" stroke-width="0.5"/>
<path d="M391.3,148.3L395.7,146.2 392.6,144.2 388.3,146.2Z" fill="#91ad16" stroke="#91ad16" stroke-width="0.5"/>
<path d="M394.3,150.4L398.7,148.4 395.7,146.2 391.3,148.3Z" fill="#a7ae16" stroke="#a7ae16" stroke-width="0.5"/>
<path d="M397.4,152.7L401.8,150.6 398.7,148.4 394.3,150.4Z" fill="#acae15" stroke="#acae15" stroke-width="0.5"/>
<path d="M400.5,155.0L404.9,152.9 401.8,150.6 397.4,152.7Z" fill="#b1ad14" stroke="#b1ad14" stroke-width="0.5"/>
<path d="M403.7,157.5L408.1,155.3 404.9,152.9 400.5,155.0Z" fill="#b7ae14" stroke="#b7ae14" stroke-width="0.5"/>
<path d="M406.8,160.0L411.2,157.8 408.1,155.3 403.7,157.5Z" fill="#bcad13" stroke="#bcad13" stroke-width="0.5"/>
<path d="M410.0,162.6L414.4,160.5 411.2,157.8 406.8,160.0Z" fill="#bf9c12" stroke="#bf9c12" stroke-width="0.5"/>
<path d="M413.2,165.3L417.7,163.2 414.4,160.5 410.0,162.6Z" fill="#c18b10" stroke="#c18b10" stroke-width="0.5"/>
<path d="M416.5,168.2L420.9,166.0 417.7,163.2 413.2,165.3Z" fill="#c57b0f" stroke="#c57b0f" stroke-width="0.5"/>
<path d="M419.7,171.1L424.2,168.9 420.9,166.0 416.5,168.2Z" fill="#c76c0e" stroke="#c76c0e" stroke-width="0.5"/>
<path d="M423.0,174.1L427.5,171.9 424.2,168.9 419.7,171.1Z" fill="#c66011" stroke="#c66011" stroke-width="0.5"/>
<path d="M426.3,177.2L430.8,174.9 427.5,171.9 423.0,174.1Z" fill="#c65614" stroke="#c65614" stroke-width="0.5"/>
<path d="M429.7,180.3L434.1,178.1 430.8,174.9 426.3,177.2Z" fill="#c54b16" stroke="#c54b16" stroke-width="0.5"/>
<path d="M433.0,183.6L437.5,181.4 434.1,178.1 429.7,180.3Z" fill="#c44517" stroke="#c44517" stroke-width="0.5"/>
<path d="M436.4,187.0L440.9,184.7 437.5,181.4 433.0,183.6Z" fill="#c33e19" stroke="#c33e19" stroke-width="0.5"/>
<path d="M439.8,190.4L444.3,188.1 440.9,184.7 436.4,187.0Z" fill="#c23919" stroke="#c23919" stroke-width="0.5"/>
<path d="M443.2,193.9L447.7,191.6 444.3,188.1 439.8,190.4Z" fill="#c1351a" stroke="#c1351a" stroke-width="0.5"/>
<path d="M446.6,197.5L451.1,195.2 447.7,191.6 443.2,193.9Z" fill="#c1301b" stroke="#c1301b" stroke-width="0.5"/>
<path d="M450.0,201.2L454.5,198.9 451.1,195.2 446.6,197.5Z" fill="#c12e1c" stroke="#c12e1c" stroke-width="0.5"/>
<path d="M453.5,205.0L458.0,202.7 454.5,198.9 450.0,201.2Z" fill="#c12e1c" stroke="#c12e1c" stroke-width="0.5"/>
<path d="M456.9,208.9L461.4,206.5 458.0,202.7 453.5,205.0Z" fill="#c12d1c" stroke="#c12d1c" stroke-width="0.5"/>
<path d="M460.4,212.8L464.9,210.5 461.4,206.5 456.9,208.9Z" fill="#c32d1c" stroke="#c32d1c" stroke-width="0.5"/>
<path d="M463.8,216.8L468.4,214.5 464.9,210.5 460.4,212.8Z" fill="#c42d1c" stroke="#c42d1c" stroke-width="0.5"/>
<path d="M467.3,221.0L471.8,218.6 468.4,214.5 463.8,216.8Z" fill="#c62c1d" stroke="#c62c1d" stroke-width="0.5"/>
<path d="M470.8,225.1L475.3,222.8 471.8,218.6 467.3,221.0Z" fill="#c72e1d" stroke="#c72e1d" stroke-width="0.5"/>
<path d="M474.3,229.4L478.8,227.0 475.3,222.8 470.8,225.1Z" fill="#c82e1d" stroke="#c82e1d" stroke-width="0.5"/>
<path d="M477.8,233.7L482.3,231.3 478.8,227.0 474.3,229.4Z" fill="#cb2f1d" stroke="#cb2f1d" stroke-width="0.5"/>
<path d="M481.3,238.1L485.8,235.7 482.3,231.3 477.8,233.7Z" fill="#cd301e" stroke="#cd301e" stroke-width="0.5"/>
<path d="M484.8,242.6L489.3,240.2 485.8,235.7 481.3,238.1Z" fill="#d0321e" stroke="#d0321e" stroke-width="0.5"/>
<path d="M488.3,247.2L492.8,244.7 489.3,240.2 484.8,242.6Z" fill="#d2361e" stroke="#d2361e" stroke-width="0.5"/>
<path d="M491.8,251.8L496.3,249.4 492.8,244.7 488.3,247.2Z" fill="#d73c1d" stroke="#d73c1d" stroke-width="0.5"/>
<path d="M495.3,256.5L499.8,254.1 496.3,249.4 491.8,251.8Z" fill="#db411c" stroke="#db411c" stroke-width="0.5"/>
<path d="M498.8,261.3L503.3,258.8 499.8,254.1 495.3,256.5Z" fill="#df481b" stroke="#df481b" stroke-width="0.5"/>
<path d="M502.3,266.1L506.8,263.7 503.3,258.8 498.8,261.3Z" fill="#e3511a" stroke="#e3511a" stroke-width="0.5"/>
<path d="M505.8,271.1L510.3,268.6 506.8,263.7 502.3,266.1Z" fill="#e85b19" stroke="#e85b19" stroke-width="0.5"/>
<path d="M509.3,276.0L513.8,273.5 510.3,268.6 505.8,271.1Z" fill="#eb6916" stroke="#eb6916" stroke-width="0.5"/>
<path d="M512.8,281.1L517.3,278.6 513.8,273.5 509.3,276.0Z" fill="#ee7714" stroke="#ee7714" stroke-width="0.5"/>
<path d="M516.2,286.2L520.8,283.7 517.3,278.6 512.8,281.1Z" fill="#f38711" stroke="#f38711" stroke-width="0.5"/>
<path d="M380.9,146.4L385.3,144.3 382.4,142.5 378.0,144.5Z" fill="#69aa16" stroke="#69aa16" stroke-width="0.5"/>
<path d="M383.9,148.3L388.3,146.2 385.3,144.3 380.9,146.4Z" fill="#84ab16" stroke="#84ab16" stroke-width="0.5"/>
<path d="M386.9,150.4L391.3,148.3 388.3,146.2 383.9,148.3Z" fill="#9fae16" stroke="#9fae16" stroke-width="0.5"/>
<path d="M389.9,152.5L394.3,150.4 391.3,148.3 386.9,150.4Z" fill="#aaad15" stroke="#aaad15" stroke-width="0.5"/>
<path d="M393.0,154.8L397.4,152.7 394.3,150.4 389.9,152.5Z" fill="#afad15" stroke="#afad15" stroke-width="0.5"/>
<path d="M396.1,157.1L400.5,155.0 397.4,152.7 393.0,154.8Z" fill="#b4ad14" stroke="#b4ad14" stroke-width="0.5"/>
<path d="M399.2,159.6L403.7,157.5 400.5,155.0 396.1,157.1Z" fill="#b9ac13" stroke="#b9ac13" stroke-width="0.5"/>
<path d="M402.4,162.1L406.8,160.0 403.7,157.5 399.2,159.6Z" fill="#bda112" stroke="#bda112" stroke-width="0.5"/>
<path d="M405.6,164.8L410.0,162.6 406.8,160.0 402.4,162.1Z" fill="#c08e11" stroke="#c08e11" stroke-width="0.5"/>
<path d="M408.8,167.5L413.2,165.3 410.0,162.6 405.6,164.8Z" fill="#c27d0f" stroke="#c27d0f" stroke-width="0.5"/>
<path d="M412.0,170.3L416.5,168.2 413.2,165.3 408.8,167.5Z" fill="#c56d0e" stroke="#c56d0e" stroke-width="0.5"/>
<path d="M415.3,173.3L419.7,171.1 416.5,168.2 412.0,170.3Z" fill="#c46110" stroke="#c46110" stroke-width="0.5"/>
<path d="M418.6,176.3L423.0,174.1 419.7,171.1 415.3,173.3Z" fill="#c45513" stroke="#c45513" stroke-width="0.5"/>
<path d="M421.9,179.4L426.3,177.2 423.0,174.1 418.6,176.3Z" fill="#c34a16" stroke="#c34a16" stroke-width="0.5"/>
<path d="M425.2,182.6L429.7,180.3 426.3,177.2 421.9,179.4Z" fill="#c24317" stroke="#c24317" stroke-width="0.5"/>
<path d="M428.5,185.9L433.0,183.6 429.7,180.3 425.2,182.6Z" fill="#c03d18" stroke="#c03d18" stroke-width="0.5"/>
<path d="M431.9,189.2L436.4,187.0 433.0,183.6 428.5,185.9Z" fill="#bf361a" stroke="#bf361a" stroke-width="0.5"/>
<path d="M435.3,192.7L439.8,190.4 436.4,187.0 431.9,189.2Z" fill="#be311a" stroke="#be311a" stroke-width="0.5"/>
<path d="M438.7,196.2L443.2,193.9 439.8,190.4 435.3,192.7Z" fill="#be2e1b" stroke="#be2e1b" stroke-width="0.5"/>
<path d="M442.1,199.8L446.6,197.5 443.2,193.9 438.7,196.2Z" fill="#be2c1b" stroke="#be2c1b" stroke-width="0.5"/>
<path d="M445.5,203.6L450.0,201.2 446.6,197.5 442.1,199.8Z" fill="#be2b1c" stroke="#be2b1c" stroke-width="0.5"/>
<path d="M448.9,207.3L453.5,205.0 450.0,201.2 445.5,203.6Z" fill="#be2b1c" stroke="#be2b1c" stroke-width="0.5"/>
<path d="M452.4,211.2L456.9,208.9 453.5,205.0 448.9,207.3Z" fill="#c02a1c" stroke="#c02a1c" stroke-width="0.5"/>
<path d="M455.8,215.2L460.4,212.8 456.9,208.9 452.4,211.2Z" fill="#c02b1d" stroke="#c02b1d" stroke-width="0.5"/>
<path d="M459.3,219.2L463.8,216.8 460.4,212.8 455.8,215.2Z" fill="#c12a1e" stroke="#c12a1e" stroke-width="0.5"/>
<path d="M462.8,223.3L467.3,221.0 463.8,216.8 459.3,219.2Z" fill="#c32a1e" stroke="#c32a1e" stroke-width="0.5"/>
<path d="M466.3,227.5L470.8,225.1 467.3,221.0 462.8,223.3Z" fill="#c42a1e" stroke="#c42a1e" stroke-width="0.5"/>
<path d="M469.8,231.8L474.3,229.4 470.8,225.1 466.3,227.5Z" fill="#c62c1e" stroke="#c62c1e" stroke-width="0.5"/>
<path d="M473.3,236.1L477.8,233.7 474.3,229.4 469.8,231.8Z" fill="#c92c1d" stroke="#c92c1d" stroke-width="0.5"/>
<path d="M476.8,240.6L481.3,238.1 477.8,233.7 473.3,236.1Z" fill="#ca2e1e" stroke="#ca2e1e" stroke-width="0.5"/>
<path d="M480.3,245.1L484.8,242.6 481.3,238.1 476.8,240.6Z" fill="#cd2f1e" stroke="#cd2f1e" stroke-width="0.5"/>
<path d="M483.8,249.6L488.3,247.2 484.8,242.6 480.3,245.1Z" fill="#d0311e" stroke="#d0311e" stroke-width="0.5"/>
<path d="M487.3,254.3L491.8,251.8 488.3,247.2 483.8,249.6Z" fill="#d3331e" stroke="#d3331e" stroke-width="0.5"/>
<path d="M490.8,259.0L495.3,256.5 491.8,251.8 487.3,254.3Z" fill="#d73a1d" stroke="#d73a1d" stroke-width="0.5"/>
<path d="M494.3,263.8L498.8,261.3 495.3,256.5 490.8,259.0Z" fill="#db401c" stroke="#db401c" stroke-width="0.5"/>
<path d="M497.8,268.6L502.3,266.1 498.8,261.3 494.3,263.8Z" fill="#df471c" stroke="#df471c" stroke-width="0.5"/>
<path d="M501.3,273.5L505.8,271.1 502.3,266.1 497.8,268.6Z" fill="#e5501b" stroke="#e5501b" stroke-width="0.5"/>
<path d="M504.7,278.5L509.3,276.0 505.8,271.1 501.3,273.5Z" fill="#e95b19" stroke="#e95b19" stroke-width="0.5"/>
<path d="M508.2,283.6L512.8,281.1 509.3,276.0 504.7,278.5Z" fill="#ed6b16" stroke="#ed6b16" stroke-width="0.5"/>
<path d="M511.7,288.7L516.2,286.2 512.8,281.1 508.2,283.6Z" fill="#f17a14" stroke="#f17a14" stroke-width="0.5"/>
<path d="M376.5,148.4L380.9,146.4 378.0,144.5 373.6,146.6Z" fill="#76ab16" stroke="#76ab16" stroke-width="0.5"/>
<path d="M379.5,150.4L383.9,148.3 380.9,146.4 376.5,148.4Z" fill="#91ac16" stroke="#91ac16" stroke-width="0.5"/>
<path d="M382.5,152.5L386.9,150.4 383.9,148.3 379.5,150.4Z" fill="#a7ad16" stroke="#a7ad16" stroke-width="0.5"/>
<path d="M385.5,154.7L389.9,152.5 386.9,150.4 382.5,152.5Z" fill="#acac15" stroke="#acac15" stroke-width="0.5"/>
<path d="M388.6,156.9L393.0,154.8 389.9,152.5 385.5,154.7Z" fill="#b1ac14" stroke="#b1ac14" stroke-width="0.5"/>
<path d="M391.7,159.3L396.1,157.1 393.0,154.8 388.6,156.9Z" fill="#b7ac14" stroke="#b7ac14" stroke-width="0.5"/>
<path d="M394.8,161.7L399.2,159.6 396.1,157.1 391.7,159.3Z" fill="#bba613" stroke="#bba613" stroke-width="0.5"/>
<path d="M397.9,164.3L402.4,162.1 399.2,159.6 394.8,161.7Z" fill="#be9411" stroke="#be9411" stroke-width="0.5"/>
<path d="M401.1,167.0L405.6,164.8 402.4,162.1 397.9,164.3Z" fill="#c18110" stroke="#c18110" stroke-width="0.5"/>
<path d="M404.3,169.7L408.8,167.5 405.6,164.8 401.1,167.0Z" fill="#c4700e" stroke="#c4700e" stroke-width="0.5"/>
<path d="M407.5,172.6L412.0,170.3 408.8,167.5 404.3,169.7Z" fill="#c46210" stroke="#c46210" stroke-width="0.5"/>
<path d="M410.8,175.5L415.3,173.3 412.0,170.3 407.5,172.6Z" fill="#c35612" stroke="#c35612" stroke-width="0.5"/>
<path d="M414.1,178.5L418.6,176.3 415.3,173.3 410.8,175.5Z" fill="#c24a16" stroke="#c24a16" stroke-width="0.5"/>
<path d="M417.4,181.6L421.9,179.4 418.6,176.3 414.1,178.5Z" fill="#c14117" stroke="#c14117" stroke-width="0.5"/>
<path d="M420.7,184.8L425.2,182.6 421.9,179.4 417.4,181.6Z" fill="#be3b18" stroke="#be3b18" stroke-width="0.5"/>
<path d="M424.0,188.1L428.5,185.9 425.2,182.6 420.7,184.8Z" fill="#bd3519" stroke="#bd3519" stroke-width="0.5"/>
<path d="M427.4,191.5L431.9,189.2 428.5,185.9 424.0,188.1Z" fill="#bc2e1b" stroke="#bc2e1b" stroke-width="0.5"/>
<path d="M430.7,195.0L435.3,192.7 431.9,189.2 427.4,191.5Z" fill="#bb2c1b" stroke="#bb2c1b" stroke-width="0.5"/>
<path d="M434.1,198.5L438.7,196.2 435.3,192.7 430.7,195.0Z" fill="#bb2a1b" stroke="#bb2a1b" stroke-width="0.5"/>
<path d="M437.5,202.2L442.1,199.8 438.7,196.2 434.1,198.5Z" fill="#bc291b" stroke="#bc291b" stroke-width="0.5"/>
<path d="M441.0,205.9L445.5,203.6 442.1,199.8 437.5,202.2Z" fill="#bc281d" stroke="#bc281d" stroke-width="0.5"/>
<path d="M444.4,209.7L448.9,207.3 445.5,203.6 441.0,205.9Z" fill="#bc281d" stroke="#bc281d" stroke-width="0.5"/>
<path d="M447.8,213.6L452.4,211.2 448.9,207.3 444.4,209.7Z" fill="#bd281d" stroke="#bd281d" stroke-width="0.5"/>
<path d="M451.3,217.5L455.8,215.2 452.4,211.2 447.8,213.6Z" fill="#bd271d" stroke="#bd271d" stroke-width="0.5"/>
<path d="M454.8,221.6L459.3,219.2 455.8,215.2 451.3,217.5Z" fill="#bf271e" stroke="#bf271e" stroke-width="0.5"/>
<path d="M458.2,225.7L462.8,223.3 459.3,219.2 454.8,221.6Z" fill="#c0281e" stroke="#c0281e" stroke-width="0.5"/>
<path d="M461.7,229.9L466.3,227.5 462.8,223.3 458.2,225.7Z" fill="#c2281e" stroke="#c2281e" stroke-width="0.5"/>
<path d="M465.2,234.2L469.8,231.8 466.3,227.5 461.7,229.9Z" fill="#c3291e" stroke="#c3291e" stroke-width="0.5"/>
<path d="M468.7,238.6L473.3,236.1 469.8,231.8 465.2,234.2Z" fill="#c62a1e" stroke="#c62a1e" stroke-width="0.5"/>
<path d="M472.2,243.0L476.8,240.6 473.3,236.1 468.7,238.6Z" fill="#c72b1f" stroke="#c72b1f" stroke-width="0.5"/>
<path d="M475.7,247.5L480.3,245.1 476.8,240.6 472.2,243.0Z" fill="#ca2d1f" stroke="#ca2d1f" stroke-width="0.5"/>
<path d="M479.2,252.1L483.8,249.6 480.3,245.1 475.7,247.5Z" fill="#cd2e1e" stroke="#cd2e1e" stroke-width="0.5"/>
<path d="M482.7,256.7L487.3,254.3 483.8,249.6 479.2,252.1Z" fill="#d0301e" stroke="#d0301e" stroke-width="0.5"/>
<path d="M486.2,261.5L490.8,259.0 487.3,254.3 482.7,256.7Z" fill="#d3321e" stroke="#d3321e" stroke-width="0.5"/>
<path d="M489.7,266.2L494.3,263.8 490.8,259.0 486.2,261.5Z" fill="#d7371f" stroke="#d7371f" stroke-width="0.5"/>
<path d="M493.2,271.1L497.8,268.6 494.3,263.8 489.7,266.2Z" fill="#db3e1e" stroke="#db3e1e" stroke-width="0.5"/>
<path d="M496.7,276.0L501.3,273.5 497.8,268.6 493.2,271.1Z" fill="#e1481c" stroke="#e1481c" stroke-width="0.5"/>
<path d="M500.2,281.0L504.7,278.5 501.3,273.5 496.7,276.0Z" fill="#e7511b" stroke="#e7511b" stroke-width="0.5"/>
<path d="M503.7,286.1L508.2,283.6 504.7,278.5 500.2,281.0Z" fill="#eb5d19" stroke="#eb5d19" stroke-width="0.5"/>
<path d="M507.1,291.2L511.7,288.7 508.2,283.6 503.7,286.1Z" fill="#ee6e16" stroke="#ee6e16" stroke-width="0.5"/>
<path d="M507.1,291.2 505.4,288.7 503.7,286.1 501.9,283.6 500.2,281.0 498.4,278.5 496.7,276.0 495.0,273.6 493.2,271.1 491.5,268.7 489.7,266.2 488.0,263.8 486.2,261.5 484.5,259.1 482.7,256.7 480.9,254.4 479.2,252.1 477.4,249.8 475.7,247.5 473.9,245.2 472.2,243.0 470.4,240.8 468.7,238.6 466.9,236.4 465.2,234.2 463.5,232.0 461.7,229.9 460.0,227.8 458.2,225.7 456.5,223.6 454.8,221.6 453.0,219.6 451.3,217.5 449.6,215.5 447.8,213.6 446.1,211.6 444.4,209.7 442.7,207.8 441.0,205.9 439.2,204.0 437.5,202.2 435.8,200.3 434.1,198.5 432.4,196.7 430.7,195.0 429.1,193.2 427.4,191.5 425.7,189.8 424.0,188.1 422.3,186.5 420.7,184.8 419.0,183.2 417.4,181.6 415.7,180.1 414.1,178.5 412.4,177.0 410.8,175.5 409.2,174.0 407.5,172.6 405.9,171.1 404.3,169.7 402.7,168.3 401.1,167.0 399.5,165.6 397.9,164.3 396.4,163.0 394.8,161.7 393.2,160.5 391.7,159.3 390.1,158.1 388.6,156.9 387.0,155.8 385.5,154.7 384.0,153.6 382.5,152.5 381.0,151.4 379.5,150.4 378.0,149.4 376.5,148.4 375.1,147.5 373.6,146.6M509.4,290.0 507.7,287.4 506.0,284.9 504.2,282.3 502.5,279.8 500.7,277.3 499.0,274.8 497.2,272.3 495.5,269.9 493.7,267.4 492.0,265.0 490.2,262.6 488.5,260.2 486.7,257.8 485.0,255.5 483.2,253.2 481.5,250.9 479.7,248.6 478.0,246.3 476.2,244.0 474.5,241.8 472.7,239.6 471.0,237.3 469.2,235.2 467.5,233.0 465.7,230.8 464.0,228.7 462.3,226.6 460.5,224.5 458.8,222.5 457.0,220.4 455.3,218.4 453.6,216.4 451.8,214.4 450.1,212.4 448.4,210.4 446.7,208.5 444.9,206.6 443.2,204.7 441.5,202.8 439.8,201.0 438.1,199.2 436.4,197.4 434.7,195.6 433.0,193.8 431.3,192.1 429.6,190.4 427.9,188.7 426.3,187.0 424.6,185.3 422.9,183.7 421.3,182.1 419.6,180.5 418.0,178.9 416.3,177.4 414.7,175.9 413.0,174.4 411.4,172.9 409.8,171.4 408.2,170.0 406.5,168.6 404.9,167.2 403.3,165.9 401.7,164.5 400.2,163.2 398.6,161.9 397.0,160.7 395.4,159.4 393.9,158.2 392.3,157.0 390.8,155.9 389.3,154.7 387.7,153.6 386.2,152.5 384.7,151.4 383.2,150.4 381.7,149.4 380.2,148.4 378.7,147.4 377.3,146.5 375.8,145.5M511.7,288.7 510.0,286.1 508.2,283.6 506.5,281.1 504.7,278.5 503.0,276.0 501.3,273.5 499.5,271.1 497.8,268.6 496.0,266.2 494.3,263.8 492.5,261.4 490.8,259.0 489.0,256.6 487.3,254.3 485.5,251.9 483.8,249.6 482.0,247.3 480.3,245.1 478.5,242.8 476.8,240.6 475.0,238.3 473.3,236.1 471.5,234.0 469.8,231.8 468.0,229.6 466.3,227.5 464.5,225.4 462.8,223.3 461.0,221.3 459.3,219.2 457.6,217.2 455.8,215.2 454.1,213.2 452.4,211.2 450.7,209.3 448.9,207.3 447.2,205.4 445.5,203.6 443.8,201.7 442.1,199.8 440.4,198.0 438.7,196.2 437.0,194.4 435.3,192.7 433.6,190.9 431.9,189.2 430.2,187.5 428.5,185.9 426.9,184.2 425.2,182.6 423.5,181.0 421.9,179.4 420.2,177.8 418.6,176.3 416.9,174.8 415.3,173.3 413.6,171.8 412.0,170.3 410.4,168.9 408.8,167.5 407.2,166.1 405.6,164.8 404.0,163.4 402.4,162.1 400.8,160.9 399.2,159.6 397.7,158.4 396.1,157.1 394.5,156.0 393.0,154.8 391.5,153.7 389.9,152.5 388.4,151.4 386.9,150.4 385.4,149.3 383.9,148.3 382.4,147.3 380.9,146.4 379.5,145.4 378.0,144.5M514.0,287.5 512.2,284.9 510.5,282.3 508.8,279.8 507.0,277.3 505.3,274.8 503.5,272.3 501.8,269.8 500.0,267.4 498.3,264.9 496.5,262.5 494.8,260.1 493.0,257.8 491.3,255.4 489.5,253.0 487.8,250.7 486.0,248.4 484.3,246.1 482.5,243.8 480.8,241.6 479.0,239.3 477.3,237.1 475.5,234.9 473.8,232.8 472.0,230.6 470.3,228.4 468.5,226.3 466.8,224.2 465.1,222.1 463.3,220.1 461.6,218.0 459.8,216.0 458.1,214.0 456.4,212.0 454.6,210.1 452.9,208.1 451.2,206.2 449.5,204.3 447.8,202.4 446.0,200.5 444.3,198.7 442.6,196.9 440.9,195.1 439.2,193.3 437.5,191.5 435.8,189.8 434.1,188.1 432.5,186.4 430.8,184.7 429.1,183.1 427.4,181.5 425.8,179.8 424.1,178.3 422.4,176.7 420.8,175.2 419.1,173.7 417.5,172.2 415.9,170.7 414.2,169.2 412.6,167.8 411.0,166.4 409.4,165.0 407.8,163.7 406.2,162.4 404.6,161.1 403.0,159.8 401.4,158.5 399.9,157.3 398.3,156.1 396.8,154.9 395.2,153.7 393.7,152.6 392.1,151.5 390.6,150.4 389.1,149.3 387.6,148.3 386.1,147.3 384.6,146.3 383.1,145.3 381.6,144.4 380.2,143.5M516.2,286.2 514.5,283.6 512.8,281.1 511.0,278.6 509.3,276.0 507.5,273.5 505.8,271.1 504.1,268.6 502.3,266.1 500.6,263.7 498.8,261.3 497.1,258.9 495.3,256.5 493.6,254.2 491.8,251.8 490.1,249.5 488.3,247.2 486.6,244.9 484.8,242.6 483.1,240.4 481.3,238.1 479.5,235.9 477.8,233.7 476.0,231.6 474.3,229.4 472.6,227.3 470.8,225.1 469.1,223.0 467.3,221.0 465.6,218.9 463.8,216.8 462.1,214.8 460.4,212.8 458.6,210.8 456.9,208.9 455.2,206.9 453.5,205.0 451.7,203.1 450.0,201.2 448.3,199.4 446.6,197.5 444.9,195.7 443.2,193.9 441.5,192.2 439.8,190.4 438.1,188.7 436.4,187.0 434.7,185.3 433.0,183.6 431.3,182.0 429.7,180.3 428.0,178.7 426.3,177.2 424.7,175.6 423.0,174.1 421.4,172.5 419.7,171.1 418.1,169.6 416.5,168.2 414.8,166.7 413.2,165.3 411.6,164.0 410.0,162.6 408.4,161.3 406.8,160.0 405.2,158.7 403.7,157.5 402.1,156.2 400.5,155.0 399.0,153.8 397.4,152.7 395.9,151.5 394.3,150.4 392.8,149.4 391.3,148.3 389.8,147.3 388.3,146.2 386.8,145.3 385.3,144.3 383.8,143.4 382.4,142.5M518.5,284.9 516.8,282.4 515.0,279.8 513.3,277.3 511.6,274.8 509.8,272.3 508.1,269.8 506.3,267.3 504.6,264.9 502.8,262.5 501.1,260.1 499.3,257.7 497.6,255.3 495.8,252.9 494.1,250.6 492.3,248.3 490.6,246.0 488.8,243.7 487.1,241.4 485.3,239.2 483.6,236.9 481.8,234.7 480.1,232.5 478.3,230.4 476.6,228.2 474.8,226.1 473.1,223.9 471.3,221.8 469.6,219.8 467.8,217.7 466.1,215.7 464.4,213.7 462.6,211.7 460.9,209.7 459.2,207.7 457.4,205.8 455.7,203.9 454.0,202.0 452.3,200.1 450.5,198.2 448.8,196.4 447.1,194.6 445.4,192.8 443.7,191.0 442.0,189.3 440.3,187.5 438.6,185.8 436.9,184.1 435.3,182.5 433.6,180.8 431.9,179.2 430.2,177.6 428.6,176.0 426.9,174.5 425.3,173.0 423.6,171.4 422.0,170.0 420.3,168.5 418.7,167.1 417.1,165.6 415.5,164.3 413.8,162.9 412.2,161.5 410.6,160.2 409.0,158.9 407.4,157.6 405.9,156.4 404.3,155.2 402.7,154.0 401.2,152.8 399.6,151.6 398.1,150.5 396.5,149.4 395.0,148.3 393.5,147.3 392.0,146.2 390.5,145.2 389.0,144.2 387.5,143.3 386.0,142.4 384.5,141.5M520.8,283.7 519.0,281.1 517.3,278.6 515.6,276.1 513.8,273.5 512.1,271.0 510.3,268.6 508.6,266.1 506.8,263.7 505.1,261.2 503.3,258.8 501.6,256.4 499.8,254.1 498.1,251.7 496.3,249.4 494.6,247.1 492.8,244.7 491.1,242.5 489.3,240.2 487.6,238.0 485.8,235.7 484.1,233.5 482.3,231.3 480.6,229.2 478.8,227.0 477.1,224.9 475.3,222.8 473.6,220.7 471.8,218.6 470.1,216.5 468.4,214.5 466.6,212.5 464.9,210.5 463.1,208.5 461.4,206.5 459.7,204.6 458.0,202.7 456.2,200.8 454.5,198.9 452.8,197.1 451.1,195.2 449.4,193.4 447.7,191.6 446.0,189.9 444.3,188.1 442.6,186.4 440.9,184.7 439.2,183.0 437.5,181.4 435.8,179.7 434.1,178.1 432.5,176.5 430.8,174.9 429.1,173.4 427.5,171.9 425.8,170.4 424.2,168.9 422.6,167.4 420.9,166.0 419.3,164.6 417.7,163.2 416.1,161.8 414.4,160.5 412.8,159.1 411.2,157.8 409.7,156.6 408.1,155.3 406.5,154.1 404.9,152.9 403.4,151.7 401.8,150.6 400.3,149.5 398.7,148.4 397.2,147.3 395.7,146.2 394.2,145.2 392.6,144.2 391.2,143.2 389.7,142.3 388.2,141.3 386.7,140.4M523.0,282.4 521.3,279.9 519.5,277.3 517.8,274.8 516.1,272.3 514.3,269.8 512.6,267.3 510.8,264.9 509.1,262.4 507.3,260.0 505.6,257.6 503.8,255.2 502.1,252.8 500.3,250.5 498.6,248.2 496.8,245.8 495.1,243.5 493.3,241.3 491.6,239.0 489.8,236.7 488.1,234.5 486.3,232.3 484.6,230.1 482.8,228.0 481.1,225.8 479.3,223.7 477.6,221.6 475.8,219.5 474.1,217.4 472.3,215.4 470.6,213.3 468.9,211.3 467.1,209.3 465.4,207.3 463.7,205.4 461.9,203.5 460.2,201.5 458.5,199.7 456.8,197.8 455.0,195.9 453.3,194.1 451.6,192.3 449.9,190.5 448.2,188.7 446.5,187.0 444.8,185.3 443.1,183.6 441.4,181.9 439.7,180.2 438.0,178.6 436.4,177.0 434.7,175.4 433.0,173.8 431.4,172.3 429.7,170.8 428.1,169.3 426.4,167.8 424.8,166.3 423.1,164.9 421.5,163.5 419.9,162.1 418.3,160.7 416.7,159.4 415.0,158.1 413.4,156.8 411.9,155.5 410.3,154.3 408.7,153.1 407.1,151.9 405.6,150.7 404.0,149.5 402.5,148.4 400.9,147.3 399.4,146.2 397.9,145.2 396.3,144.2 394.8,143.2 393.3,142.2 391.8,141.2 390.4,140.3 388.9,139.4M525.3,281.2 523.5,278.6 521.8,276.1 520.1,273.6 518.3,271.0 516.6,268.6 514.8,266.1 513.1,263.6 511.3,261.2 509.6,258.8 507.8,256.4 506.1,254.0 504.3,251.6 502.6,249.3 500.8,246.9 499.1,244.6 497.3,242.3 495.6,240.0 493.8,237.8 492.1,235.5 490.3,233.3 488.6,231.1 486.8,228.9 485.1,226.8 483.3,224.6 481.6,222.5 479.8,220.4 478.1,218.3 476.3,216.2 474.6,214.2 472.9,212.1 471.1,210.1 469.4,208.1 467.6,206.2 465.9,204.2 464.2,202.3 462.4,200.4 460.7,198.5 459.0,196.6 457.3,194.8 455.6,193.0 453.8,191.2 452.1,189.4 450.4,187.6 448.7,185.9 447.0,184.2 445.3,182.5 443.6,180.8 442.0,179.1 440.3,177.5 438.6,175.9 436.9,174.3 435.3,172.7 433.6,171.2 431.9,169.7 430.3,168.2 428.6,166.7 427.0,165.2 425.3,163.8 423.7,162.4 422.1,161.0 420.5,159.7 418.9,158.3 417.2,157.0 415.6,155.7 414.1,154.5 412.5,153.2 410.9,152.0 409.3,150.8 407.8,149.6 406.2,148.5 404.6,147.4 403.1,146.3 401.6,145.2 400.0,144.2 398.5,143.1 397.0,142.2 395.5,141.2 394.0,140.2 392.5,139.3 391.0,138.4M527.5,279.9 525.8,277.4 524.0,274.8 522.3,272.3 520.6,269.8 518.8,267.3 517.1,264.8 515.3,262.4 513.6,260.0 511.8,257.5 510.1,255.1 508.3,252.8 506.6,250.4 504.8,248.0 503.1,245.7 501.3,243.4 499.6,241.1 497.8,238.8 496.1,236.6 494.3,234.3 492.6,232.1 490.8,229.9 489.1,227.7 487.3,225.6 485.6,223.4 483.8,221.3 482.1,219.2 480.3,217.1 478.6,215.1 476.8,213.0 475.1,211.0 473.4,209.0 471.6,207.0 469.9,205.0 468.1,203.1 466.4,201.1 464.7,199.2 463.0,197.4 461.2,195.5 459.5,193.6 457.8,191.8 456.1,190.0 454.4,188.2 452.7,186.5 451.0,184.7 449.3,183.0 447.6,181.3 445.9,179.7 444.2,178.0 442.5,176.4 440.8,174.8 439.1,173.2 437.5,171.6 435.8,170.1 434.1,168.6 432.5,167.1 430.8,165.6 429.2,164.2 427.6,162.7 425.9,161.3 424.3,160.0 422.7,158.6 421.1,157.3 419.4,156.0 417.8,154.7 416.3,153.4 414.7,152.2 413.1,151.0 411.5,149.8 409.9,148.6 408.4,147.5 406.8,146.3 405.3,145.3 403.7,144.2 402.2,143.1 400.7,142.1 399.2,141.1 397.7,140.2 396.2,139.2 394.7,138.3 393.2,137.4M529.7,278.7 528.0,276.1 526.3,273.6 524.5,271.1 522.8,268.6 521.1,266.1 519.3,263.6 517.6,261.2 515.8,258.7 514.1,256.3 512.3,253.9 510.6,251.5 508.8,249.2 507.1,246.8 505.3,244.5 503.6,242.2 501.8,239.9 500.1,237.6 498.3,235.4 496.6,233.1 494.8,230.9 493.1,228.7 491.3,226.6 489.6,224.4 487.8,222.3 486.1,220.1 484.3,218.0 482.6,215.9 480.8,213.9 479.1,211.8 477.3,209.8 475.6,207.8 473.9,205.8 472.1,203.9 470.4,201.9 468.6,200.0 466.9,198.1 465.2,196.2 463.5,194.4 461.7,192.5 460.0,190.7 458.3,188.9 456.6,187.1 454.9,185.4 453.2,183.6 451.5,181.9 449.8,180.2 448.1,178.6 446.4,176.9 444.7,175.3 443.0,173.7 441.4,172.1 439.7,170.5 438.0,169.0 436.4,167.5 434.7,166.0 433.0,164.5 431.4,163.1 429.8,161.7 428.1,160.3 426.5,158.9 424.9,157.5 423.3,156.2 421.6,154.9 420.0,153.6 418.4,152.4 416.9,151.1 415.3,149.9 413.7,148.7 412.1,147.6 410.6,146.4 409.0,145.3 407.5,144.2 405.9,143.2 404.4,142.1 402.9,141.1 401.3,140.1 399.8,139.2 398.3,138.2 396.9,137.3 395.4,136.4M532.0,277.4 530.2,274.9 528.5,272.3 526.8,269.8 525.0,267.3 523.3,264.8 521.5,262.4 519.8,259.9 518.1,257.5 516.3,255.1 514.6,252.7 512.8,250.3 511.1,248.0 509.3,245.6 507.6,243.3 505.8,241.0 504.1,238.7 502.3,236.4 500.6,234.2 498.8,231.9 497.1,229.7 495.3,227.5 493.5,225.4 491.8,223.2 490.0,221.1 488.3,218.9 486.5,216.9 484.8,214.8 483.1,212.7 481.3,210.7 479.6,208.7 477.8,206.6 476.1,204.7 474.3,202.7 472.6,200.8 470.9,198.8 469.1,197.0 467.4,195.1 465.7,193.2 464.0,191.4 462.2,189.6 460.5,187.8 458.8,186.0 457.1,184.2 455.4,182.5 453.7,180.8 452.0,179.1 450.3,177.4 448.6,175.8 446.9,174.2 445.2,172.6 443.6,171.0 441.9,169.4 440.2,167.9 438.6,166.4 436.9,164.9 435.2,163.5 433.6,162.0 432.0,160.6 430.3,159.2 428.7,157.8 427.1,156.5 425.5,155.2 423.8,153.8 422.2,152.6 420.6,151.3 419.0,150.1 417.5,148.9 415.9,147.7 414.3,146.5 412.7,145.4 411.2,144.3 409.6,143.2 408.1,142.2 406.6,141.1 405.0,140.1 403.5,139.1 402.0,138.2 400.5,137.2 399.0,136.3 397.5,135.4M534.2,276.2 532.5,273.6 530.7,271.1 529.0,268.6 527.3,266.1 525.5,263.6 523.8,261.1 522.0,258.7 520.3,256.3 518.5,253.9 516.8,251.5 515.0,249.1 513.3,246.7 511.5,244.4 509.8,242.1 508.0,239.8 506.3,237.5 504.5,235.2 502.8,233.0 501.0,230.8 499.3,228.5 497.5,226.3 495.8,224.2 494.0,222.0 492.3,219.9 490.5,217.8 488.8,215.7 487.0,213.6 485.3,211.5 483.5,209.5 481.8,207.5 480.1,205.5 478.3,203.5 476.6,201.6 474.8,199.6 473.1,197.7 471.4,195.8 469.6,193.9 467.9,192.1 466.2,190.2 464.5,188.4 462.8,186.6 461.0,184.9 459.3,183.1 457.6,181.4 455.9,179.7 454.2,178.0 452.5,176.3 450.8,174.7 449.1,173.1 447.5,171.5 445.8,169.9 444.1,168.4 442.4,166.8 440.8,165.3 439.1,163.8 437.4,162.4 435.8,160.9 434.2,159.5 432.5,158.1 430.9,156.8 429.3,155.4 427.6,154.1 426.0,152.8 424.4,151.5 422.8,150.3 421.2,149.0 419.6,147.8 418.1,146.7 416.5,145.5 414.9,144.4 413.4,143.3 411.8,142.2 410.3,141.1 408.7,140.1 407.2,139.1 405.7,138.1 404.2,137.2 402.7,136.2 401.2,135.3 399.7,134.5M536.4,274.9 534.7,272.4 532.9,269.9 531.2,267.3 529.5,264.9 527.7,262.4 526.0,259.9 524.3,257.5 522.5,255.0 520.8,252.6 519.0,250.3 517.3,247.9 515.5,245.5 513.8,243.2 512.0,240.9 510.3,238.6 508.5,236.3 506.8,234.0 505.0,231.8 503.3,229.6 501.5,227.3 499.8,225.2 498.0,223.0 496.3,220.8 494.5,218.7 492.8,216.6 491.0,214.5 489.3,212.4 487.5,210.4 485.8,208.3 484.0,206.3 482.3,204.3 480.5,202.4 478.8,200.4 477.1,198.5 475.3,196.6 473.6,194.7 471.9,192.8 470.1,190.9 468.4,189.1 466.7,187.3 465.0,185.5 463.2,183.8 461.5,182.0 459.8,180.3 458.1,178.6 456.4,176.9 454.7,175.2 453.0,173.6 451.3,172.0 449.7,170.4 448.0,168.8 446.3,167.3 444.6,165.8 443.0,164.3 441.3,162.8 439.6,161.3 438.0,159.9 436.3,158.5 434.7,157.1 433.1,155.7 431.4,154.4 429.8,153.1 428.2,151.8 426.6,150.5 425.0,149.2 423.4,148.0 421.8,146.8 420.2,145.6 418.7,144.5 417.1,143.4 415.5,142.3 414.0,141.2 412.4,140.1 410.9,139.1 409.4,138.1 407.8,137.1 406.3,136.2 404.8,135.2 403.3,134.3 401.8,133.5M538.6,273.7 536.9,271.1 535.2,268.6 533.4,266.1 531.7,263.6 530.0,261.1 528.2,258.7 526.5,256.2 524.7,253.8 523.0,251.4 521.2,249.0 519.5,246.7 517.7,244.3 516.0,242.0 514.2,239.7 512.5,237.4 510.7,235.1 509.0,232.8 507.2,230.6 505.5,228.4 503.7,226.2 502.0,224.0 500.2,221.8 498.5,219.7 496.7,217.5 495.0,215.4 493.2,213.3 491.5,211.3 489.7,209.2 488.0,207.2 486.2,205.2 484.5,203.2 482.7,201.2 481.0,199.3 479.3,197.3 477.5,195.4 475.8,193.5 474.1,191.7 472.3,189.8 470.6,188.0 468.9,186.2 467.2,184.4 465.5,182.6 463.7,180.9 462.0,179.2 460.3,177.5 458.6,175.8 456.9,174.1 455.2,172.5 453.5,170.9 451.9,169.3 450.2,167.7 448.5,166.2 446.8,164.7 445.2,163.2 443.5,161.7 441.8,160.2 440.2,158.8 438.5,157.4 436.9,156.0 435.3,154.7 433.6,153.3 432.0,152.0 430.4,150.7 428.8,149.5 427.2,148.2 425.6,147.0 424.0,145.8 422.4,144.6 420.8,143.5 419.3,142.4 417.7,141.3 416.1,140.2 414.6,139.1 413.0,138.1 411.5,137.1 410.0,136.1 408.5,135.2 407.0,134.3 405.5,133.4 404.0,132.5M540.8,272.4 539.1,269.9 537.4,267.4 535.6,264.9 533.9,262.4 532.2,259.9 530.4,257.5 528.7,255.0 526.9,252.6 525.2,250.2 523.5,247.8 521.7,245.5 520.0,243.1 518.2,240.8 516.5,238.5 514.7,236.2 513.0,233.9 511.2,231.6 509.5,229.4 507.7,227.2 505.9,225.0 504.2,222.8 502.4,220.6 500.7,218.5 498.9,216.4 497.2,214.3 495.4,212.2 493.7,210.1 491.9,208.1 490.2,206.0 488.4,204.0 486.7,202.0 485.0,200.1 483.2,198.1 481.5,196.2 479.7,194.3 478.0,192.4 476.3,190.5 474.6,188.7 472.8,186.9 471.1,185.1 469.4,183.3 467.7,181.5 466.0,179.8 464.2,178.1 462.5,176.4 460.8,174.7 459.1,173.1 457.4,171.4 455.7,169.8 454.1,168.2 452.4,166.7 450.7,165.1 449.0,163.6 447.3,162.1 445.7,160.6 444.0,159.2 442.4,157.8 440.7,156.4 439.1,155.0 437.4,153.6 435.8,152.3 434.2,151.0 432.6,149.7 431.0,148.4 429.3,147.2 427.7,146.0 426.2,144.8 424.6,143.6 423.0,142.5 421.4,141.3 419.9,140.2 418.3,139.2 416.7,138.1 415.2,137.1 413.7,136.1 412.1,135.1 410.6,134.2 409.1,133.3 407.6,132.4 406.1,131.5M543.0,271.2 541.3,268.7 539.6,266.1 537.8,263.6 536.1,261.2 534.4,258.7 532.6,256.2 530.9,253.8 529.2,251.4 527.4,249.0 525.7,246.6 523.9,244.2 522.2,241.9 520.4,239.6 518.7,237.3 516.9,235.0 515.2,232.7 513.4,230.4 511.7,228.2 509.9,226.0 508.2,223.8 506.4,221.6 504.7,219.5 502.9,217.3 501.1,215.2 499.4,213.1 497.6,211.0 495.9,208.9 494.1,206.9 492.4,204.9 490.7,202.9 488.9,200.9 487.2,198.9 485.4,197.0 483.7,195.1 482.0,193.2 480.2,191.3 478.5,189.4 476.8,187.6 475.0,185.7 473.3,184.0 471.6,182.2 469.9,180.4 468.2,178.7 466.4,177.0 464.7,175.3 463.0,173.6 461.3,172.0 459.6,170.3 457.9,168.7 456.2,167.1 454.6,165.6 452.9,164.0 451.2,162.5 449.5,161.0 447.9,159.6 446.2,158.1 444.6,156.7 442.9,155.3 441.3,153.9 439.6,152.6 438.0,151.2 436.4,149.9 434.7,148.6 433.1,147.4 431.5,146.2 429.9,144.9 428.3,143.8 426.7,142.6 425.2,141.4 423.6,140.3 422.0,139.2 420.5,138.2 418.9,137.1 417.4,136.1 415.8,135.1 414.3,134.2 412.8,133.2 411.3,132.3 409.8,131.4 408.3,130.5M545.2,270.0 543.5,267.4 541.8,264.9 540.0,262.4 538.3,259.9 536.6,257.5 534.8,255.0 533.1,252.6 531.4,250.2 529.6,247.8 527.9,245.4 526.1,243.0 524.4,240.7 522.6,238.4 520.9,236.1 519.1,233.8 517.4,231.5 515.6,229.3 513.9,227.0 512.1,224.8 510.4,222.6 508.6,220.4 506.9,218.3 505.1,216.1 503.4,214.0 501.6,211.9 499.9,209.8 498.1,207.8 496.4,205.7 494.6,203.7 492.9,201.7 491.1,199.7 489.4,197.8 487.6,195.8 485.9,193.9 484.2,192.0 482.4,190.1 480.7,188.3 479.0,186.4 477.2,184.6 475.5,182.8 473.8,181.1 472.1,179.3 470.3,177.6 468.6,175.9 466.9,174.2 465.2,172.5 463.5,170.9 461.8,169.2 460.1,167.6 458.4,166.1 456.7,164.5 455.1,163.0 453.4,161.5 451.7,160.0 450.1,158.5 448.4,157.1 446.7,155.7 445.1,154.3 443.4,152.9 441.8,151.5 440.2,150.2 438.5,148.9 436.9,147.6 435.3,146.4 433.7,145.1 432.1,143.9 430.5,142.7 428.9,141.6 427.3,140.4 425.7,139.3 424.2,138.2 422.6,137.2 421.0,136.1 419.5,135.1 418.0,134.1 416.4,133.2 414.9,132.2 413.4,131.3 411.9,130.4 410.4,129.6M547.4,268.7 545.7,266.2 544.0,263.7 542.2,261.2 540.5,258.7 538.8,256.2 537.0,253.8 535.3,251.4 533.6,248.9 531.8,246.6 530.1,244.2 528.3,241.8 526.6,239.5 524.8,237.2 523.1,234.9 521.3,232.6 519.6,230.3 517.8,228.1 516.1,225.8 514.3,223.6 512.6,221.4 510.8,219.3 509.1,217.1 507.3,215.0 505.6,212.9 503.8,210.8 502.1,208.7 500.3,206.6 498.6,204.6 496.8,202.6 495.1,200.6 493.3,198.6 491.6,196.6 489.8,194.7 488.1,192.8 486.4,190.9 484.6,189.0 482.9,187.2 481.2,185.3 479.4,183.5 477.7,181.7 476.0,180.0 474.3,178.2 472.5,176.5 470.8,174.8 469.1,173.1 467.4,171.4 465.7,169.8 464.0,168.2 462.3,166.6 460.6,165.0 458.9,163.4 457.2,161.9 455.6,160.4 453.9,158.9 452.2,157.5 450.6,156.0 448.9,154.6 447.3,153.2 445.6,151.8 444.0,150.5 442.3,149.2 440.7,147.9 439.1,146.6 437.5,145.3 435.8,144.1 434.2,142.9 432.6,141.7 431.0,140.6 429.5,139.4 427.9,138.3 426.3,137.2 424.8,136.2 423.2,135.2 421.6,134.1 420.1,133.2 418.6,132.2 417.0,131.3 415.5,130.4 414.0,129.5 412.5,128.6M549.6,267.5 547.9,264.9 546.2,262.4 544.4,259.9 542.7,257.5 541.0,255.0 539.2,252.6 537.5,250.1 535.7,247.7 534.0,245.3 532.3,243.0 530.5,240.6 528.8,238.3 527.0,236.0 525.3,233.7 523.5,231.4 521.8,229.1 520.0,226.9 518.3,224.6 516.5,222.4 514.8,220.3 513.0,218.1 511.3,215.9 509.5,213.8 507.8,211.7 506.0,209.6 504.3,207.5 502.5,205.5 500.8,203.4 499.0,201.4 497.3,199.4 495.5,197.5 493.8,195.5 492.0,193.6 490.3,191.7 488.5,189.8 486.8,187.9 485.1,186.0 483.3,184.2 481.6,182.4 479.9,180.6 478.2,178.9 476.4,177.1 474.7,175.4 473.0,173.7 471.3,172.0 469.6,170.3 467.9,168.7 466.2,167.1 464.5,165.5 462.8,163.9 461.1,162.4 459.4,160.8 457.7,159.3 456.1,157.9 454.4,156.4 452.7,155.0 451.1,153.6 449.4,152.2 447.8,150.8 446.1,149.5 444.5,148.1 442.9,146.8 441.2,145.6 439.6,144.3 438.0,143.1 436.4,141.9 434.8,140.7 433.2,139.6 431.6,138.4 430.0,137.3 428.5,136.3 426.9,135.2 425.3,134.2 423.8,133.2 422.2,132.2 420.7,131.2 419.2,130.3 417.7,129.4 416.2,128.5 414.7,127.7M551.8,266.2 550.1,263.7 548.3,261.2 546.6,258.7 544.9,256.2 543.1,253.8 541.4,251.3 539.7,248.9 537.9,246.5 536.2,244.1 534.5,241.8 532.7,239.4 531.0,237.1 529.2,234.8 527.5,232.5 525.7,230.2 524.0,227.9 522.2,225.7 520.5,223.5 518.7,221.3 517.0,219.1 515.2,216.9 513.4,214.8 511.7,212.6 509.9,210.5 508.2,208.4 506.4,206.4 504.7,204.3 502.9,202.3 501.2,200.3 499.4,198.3 497.7,196.3 496.0,194.4 494.2,192.4 492.5,190.5 490.7,188.6 489.0,186.8 487.3,184.9 485.5,183.1 483.8,181.3 482.1,179.5 480.3,177.8 478.6,176.0 476.9,174.3 475.2,172.6 473.5,170.9 471.8,169.3 470.1,167.6 468.4,166.0 466.7,164.4 465.0,162.9 463.3,161.3 461.6,159.8 459.9,158.3 458.2,156.8 456.6,155.4 454.9,153.9 453.2,152.5 451.6,151.1 449.9,149.8 448.3,148.4 446.7,147.1 445.0,145.8 443.4,144.6 441.8,143.3 440.2,142.1 438.5,140.9 436.9,139.7 435.4,138.6 433.8,137.4 432.2,136.3 430.6,135.3 429.0,134.2 427.5,133.2 425.9,132.2 424.4,131.2 422.8,130.3 421.3,129.3 419.8,128.4 418.3,127.6 416.8,126.7M554.0,265.0 552.2,262.5 550.5,260.0 548.8,257.5 547.1,255.0 545.3,252.6 543.6,250.1 541.9,247.7 540.1,245.3 538.4,242.9 536.6,240.6 534.9,238.2 533.1,235.9 531.4,233.6 529.6,231.3 527.9,229.0 526.1,226.7 524.4,224.5 522.6,222.3 520.9,220.1 519.1,217.9 517.4,215.7 515.6,213.6 513.9,211.5 512.1,209.4 510.4,207.3 508.6,205.2 506.9,203.2 505.1,201.1 503.4,199.1 501.6,197.2 499.9,195.2 498.1,193.2 496.4,191.3 494.7,189.4 492.9,187.5 491.2,185.7 489.4,183.8 487.7,182.0 486.0,180.2 484.3,178.4 482.5,176.7 480.8,174.9 479.1,173.2 477.4,171.5 475.7,169.8 473.9,168.2 472.2,166.5 470.5,164.9 468.8,163.4 467.1,161.8 465.5,160.3 463.8,158.7 462.1,157.2 460.4,155.8 458.7,154.3 457.1,152.9 455.4,151.5 453.7,150.1 452.1,148.7 450.5,147.4 448.8,146.1 447.2,144.8 445.5,143.5 443.9,142.3 442.3,141.1 440.7,139.9 439.1,138.7 437.5,137.6 435.9,136.5 434.3,135.4 432.7,134.3 431.2,133.2 429.6,132.2 428.1,131.2 426.5,130.3 425.0,129.3 423.4,128.4 421.9,127.5 420.4,126.6 418.9,125.8M556.1,263.8 554.4,261.3 552.7,258.8 551.0,256.3 549.2,253.8 547.5,251.3 545.8,248.9 544.0,246.5 542.3,244.1 540.6,241.7 538.8,239.4 537.1,237.0 535.3,234.7 533.6,232.4 531.8,230.1 530.1,227.8 528.3,225.6 526.6,223.3 524.8,221.1 523.1,218.9 521.3,216.7 519.6,214.6 517.8,212.4 516.1,210.3 514.3,208.2 512.6,206.1 510.8,204.1 509.1,202.0 507.3,200.0 505.6,198.0 503.8,196.0 502.1,194.1 500.3,192.1 498.6,190.2 496.8,188.3 495.1,186.4 493.4,184.5 491.6,182.7 489.9,180.9 488.2,179.1 486.4,177.3 484.7,175.6 483.0,173.8 481.3,172.1 479.5,170.4 477.8,168.8 476.1,167.1 474.4,165.5 472.7,163.9 471.0,162.3 469.3,160.7 467.6,159.2 465.9,157.7 464.2,156.2 462.6,154.7 460.9,153.3 459.2,151.8 457.6,150.4 455.9,149.1 454.3,147.7 452.6,146.4 451.0,145.1 449.3,143.8 447.7,142.5 446.1,141.3 444.5,140.1 442.8,138.9 441.2,137.7 439.6,136.6 438.0,135.5 436.5,134.4 434.9,133.3 433.3,132.3 431.7,131.3 430.2,130.3 428.6,129.3 427.1,128.3 425.6,127.4 424.0,126.5 422.5,125.7 421.0,124.8M558.3,262.5 556.6,260.0 554.9,257.5 553.1,255.0 551.4,252.6 549.7,250.1 547.9,247.7 546.2,245.3 544.5,242.9 542.7,240.5 541.0,238.2 539.2,235.8 537.5,233.5 535.8,231.2 534.0,228.9 532.3,226.6 530.5,224.4 528.8,222.1 527.0,219.9 525.3,217.7 523.5,215.6 521.7,213.4 520.0,211.3 518.2,209.2 516.5,207.1 514.7,205.0 513.0,202.9 511.2,200.9 509.5,198.9 507.7,196.9 506.0,194.9 504.2,192.9 502.5,191.0 500.8,189.1 499.0,187.2 497.3,185.3 495.5,183.4 493.8,181.6 492.1,179.8 490.3,178.0 488.6,176.2 486.9,174.5 485.1,172.7 483.4,171.0 481.7,169.3 480.0,167.7 478.3,166.0 476.6,164.4 474.9,162.8 473.2,161.2 471.5,159.7 469.8,158.1 468.1,156.6 466.4,155.1 464.7,153.7 463.1,152.2 461.4,150.8 459.7,149.4 458.1,148.0 456.4,146.7 454.8,145.4 453.1,144.1 451.5,142.8 449.8,141.5 448.2,140.3 446.6,139.1 445.0,137.9 443.4,136.7 441.8,135.6 440.2,134.5 438.6,133.4 437.0,132.3 435.4,131.3 433.9,130.3 432.3,129.3 430.8,128.3 429.2,127.4 427.7,126.5 426.2,125.6 424.6,124.7 423.1,123.9M560.5,261.3 558.7,258.8 557.0,256.3 555.3,253.8 553.6,251.4 551.8,248.9 550.1,246.5 548.4,244.1 546.6,241.7 544.9,239.3 543.2,237.0 541.4,234.6 539.7,232.3 537.9,230.0 536.2,227.7 534.4,225.4 532.7,223.2 530.9,221.0 529.2,218.8 527.4,216.6 525.7,214.4 523.9,212.2 522.2,210.1 520.4,208.0 518.7,205.9 516.9,203.8 515.2,201.8 513.4,199.7 511.7,197.7 509.9,195.7 508.2,193.8 506.4,191.8 504.7,189.9 502.9,187.9 501.2,186.1 499.4,184.2 497.7,182.3 496.0,180.5 494.2,178.7 492.5,176.9 490.8,175.1 489.0,173.4 487.3,171.7 485.6,169.9 483.9,168.3 482.2,166.6 480.4,165.0 478.7,163.3 477.0,161.7 475.3,160.2 473.6,158.6 471.9,157.1 470.2,155.6 468.6,154.1 466.9,152.6 465.2,151.2 463.5,149.8 461.9,148.4 460.2,147.0 458.6,145.7 456.9,144.4 455.3,143.1 453.6,141.8 452.0,140.5 450.4,139.3 448.7,138.1 447.1,136.9 445.5,135.8 443.9,134.6 442.3,133.5 440.7,132.4 439.1,131.4 437.6,130.3 436.0,129.3 434.4,128.3 432.9,127.4 431.3,126.4 429.8,125.5 428.3,124.6 426.8,123.8 425.2,123.0M562.6,260.1 560.9,257.6 559.2,255.1 557.5,252.6 555.7,250.1 554.0,247.7 552.3,245.3 550.5,242.9 548.8,240.5 547.1,238.1 545.3,235.8 543.6,233.4 541.8,231.1 540.1,228.8 538.3,226.5 536.6,224.3 534.8,222.0 533.1,219.8 531.3,217.6 529.6,215.4 527.8,213.2 526.1,211.1 524.3,209.0 522.6,206.8 520.8,204.8 519.1,202.7 517.3,200.6 515.6,198.6 513.8,196.6 512.1,194.6 510.3,192.6 508.6,190.7 506.8,188.7 505.1,186.8 503.3,184.9 501.6,183.1 499.9,181.2 498.1,179.4 496.4,177.6 494.7,175.8 492.9,174.0 491.2,172.3 489.5,170.6 487.8,168.9 486.0,167.2 484.3,165.5 482.6,163.9 480.9,162.3 479.2,160.7 477.5,159.1 475.8,157.6 474.1,156.0 472.4,154.5 470.7,153.1 469.0,151.6 467.4,150.2 465.7,148.8 464.0,147.4 462.4,146.0 460.7,144.7 459.0,143.3 457.4,142.0 455.8,140.8 454.1,139.5 452.5,138.3 450.9,137.1 449.3,135.9 447.6,134.8 446.0,133.6 444.4,132.5 442.9,131.5 441.3,130.4 439.7,129.4 438.1,128.4 436.6,127.4 435.0,126.4 433.5,125.5 431.9,124.6 430.4,123.7 428.9,122.9 427.4,122.0M564.8,258.9 563.0,256.3 561.3,253.9 559.6,251.4 557.9,248.9 556.2,246.5 554.4,244.1 552.7,241.7 551.0,239.3 549.2,236.9 547.5,234.6 545.7,232.2 544.0,229.9 542.2,227.6 540.5,225.3 538.8,223.1 537.0,220.8 535.3,218.6 533.5,216.4 531.8,214.2 530.0,212.1 528.3,209.9 526.5,207.8 524.7,205.7 523.0,203.6 521.2,201.5 519.5,199.5 517.7,197.5 516.0,195.5 514.2,193.5 512.5,191.5 510.7,189.6 509.0,187.6 507.3,185.7 505.5,183.8 503.8,182.0 502.0,180.1 500.3,178.3 498.6,176.5 496.8,174.7 495.1,172.9 493.4,171.2 491.6,169.5 489.9,167.8 488.2,166.1 486.5,164.5 484.8,162.8 483.0,161.2 481.3,159.6 479.6,158.1 477.9,156.5 476.2,155.0 474.5,153.5 472.9,152.0 471.2,150.6 469.5,149.1 467.8,147.7 466.2,146.3 464.5,145.0 462.8,143.6 461.2,142.3 459.5,141.0 457.9,139.8 456.3,138.5 454.6,137.3 453.0,136.1 451.4,134.9 449.8,133.8 448.2,132.7 446.6,131.6 445.0,130.5 443.4,129.4 441.8,128.4 440.2,127.4 438.7,126.4 437.1,125.5 435.6,124.6 434.0,123.7 432.5,122.8 431.0,121.9 429.5,121.1M566.9,257.6 565.2,255.1 563.5,252.6 561.8,250.2 560.0,247.7 558.3,245.3 556.6,242.9 554.8,240.5 553.1,238.1 551.4,235.7 549.6,233.4 547.9,231.0 546.1,228.7 544.4,226.4 542.7,224.2 540.9,221.9 539.2,219.7 537.4,217.5 535.7,215.3 533.9,213.1 532.2,210.9 530.4,208.8 528.7,206.7 526.9,204.6 525.2,202.5 523.4,200.4 521.6,198.4 519.9,196.3 518.1,194.3 516.4,192.3 514.6,190.4 512.9,188.4 511.2,186.5 509.4,184.6 507.7,182.7 505.9,180.9 504.2,179.0 502.4,177.2 500.7,175.4 499.0,173.6 497.2,171.9 495.5,170.1 493.8,168.4 492.1,166.7 490.3,165.0 488.6,163.4 486.9,161.8 485.2,160.2 483.5,158.6 481.8,157.0 480.1,155.5 478.4,154.0 476.7,152.5 475.0,151.0 473.3,149.5 471.6,148.1 470.0,146.7 468.3,145.3 466.6,144.0 465.0,142.6 463.3,141.3 461.7,140.0 460.0,138.8 458.4,137.5 456.8,136.3 455.1,135.1 453.5,134.0 451.9,132.8 450.3,131.7 448.7,130.6 447.1,129.5 445.5,128.5 443.9,127.5 442.4,126.5 440.8,125.5 439.2,124.5 437.7,123.6 436.1,122.7 434.6,121.8 433.1,121.0 431.6,120.2M569.0,256.4 567.3,253.9 565.6,251.4 563.9,249.0 562.2,246.5 560.4,244.1 558.7,241.7 557.0,239.3 555.3,236.9 553.5,234.5 551.8,232.2 550.0,229.9 548.3,227.5 546.6,225.3 544.8,223.0 543.1,220.7 541.3,218.5 539.6,216.3 537.8,214.1 536.1,211.9 534.3,209.8 532.6,207.6 530.8,205.5 529.1,203.4 527.3,201.3 525.6,199.3 523.8,197.2 522.1,195.2 520.3,193.2 518.5,191.2 516.8,189.3 515.1,187.3 513.3,185.4 511.6,183.5 509.8,181.6 508.1,179.8 506.3,177.9 504.6,176.1 502.9,174.3 501.1,172.5 499.4,170.8 497.7,169.1 495.9,167.3 494.2,165.7 492.5,164.0 490.8,162.3 489.0,160.7 487.3,159.1 485.6,157.5 483.9,156.0 482.2,154.4 480.5,152.9 478.8,151.4 477.1,150.0 475.5,148.5 473.8,147.1 472.1,145.7 470.4,144.3 468.8,143.0 467.1,141.6 465.4,140.3 463.8,139.0 462.1,137.8 460.5,136.6 458.9,135.3 457.2,134.2 455.6,133.0 454.0,131.8 452.4,130.7 450.8,129.6 449.2,128.6 447.6,127.5 446.0,126.5 444.5,125.5 442.9,124.5 441.3,123.6 439.8,122.7 438.2,121.8 436.7,120.9 435.2,120.1 433.7,119.3M571.2,255.2 569.5,252.7 567.7,250.2 566.0,247.7 564.3,245.3 562.6,242.9 560.9,240.5 559.1,238.1 557.4,235.7 555.7,233.3 553.9,231.0 552.2,228.7 550.4,226.4 548.7,224.1 547.0,221.8 545.2,219.6 543.5,217.3 541.7,215.1 540.0,212.9 538.2,210.8 536.5,208.6 534.7,206.5 533.0,204.4 531.2,202.3 529.5,200.2 527.7,198.1 525.9,196.1 524.2,194.1 522.4,192.1 520.7,190.1 518.9,188.1 517.2,186.2 515.5,184.3 513.7,182.4 512.0,180.5 510.2,178.7 508.5,176.8 506.7,175.0 505.0,173.2 503.3,171.5 501.5,169.7 499.8,168.0 498.1,166.3 496.3,164.6 494.6,162.9 492.9,161.3 491.2,159.7 489.5,158.1 487.8,156.5 486.1,154.9 484.4,153.4 482.7,151.9 481.0,150.4 479.3,148.9 477.6,147.5 475.9,146.1 474.2,144.7 472.6,143.3 470.9,142.0 469.2,140.6 467.6,139.3 465.9,138.1 464.3,136.8 462.6,135.6 461.0,134.4 459.4,133.2 457.7,132.0 456.1,130.9 454.5,129.8 452.9,128.7 451.3,127.6 449.7,126.6 448.1,125.6 446.6,124.6 445.0,123.6 443.4,122.7 441.9,121.8 440.3,120.9 438.8,120.0 437.3,119.2 435.7,118.4M573.3,254.0 571.6,251.5 569.9,249.0 568.2,246.5 566.4,244.1 564.7,241.7 563.0,239.2 561.3,236.9 559.5,234.5 557.8,232.1 556.1,229.8 554.3,227.5 552.6,225.2 550.8,222.9 549.1,220.6 547.3,218.4 545.6,216.2 543.9,214.0 542.1,211.8 540.4,209.6 538.6,207.5 536.9,205.3 535.1,203.2 533.3,201.1 531.6,199.0 529.8,197.0 528.1,195.0 526.3,192.9 524.6,191.0 522.8,189.0 521.1,187.0 519.3,185.1 517.6,183.2 515.8,181.3 514.1,179.4 512.4,177.6 510.6,175.7 508.9,173.9 507.1,172.1 505.4,170.4 503.7,168.6 501.9,166.9 500.2,165.2 498.5,163.5 496.8,161.9 495.0,160.2 493.3,158.6 491.6,157.0 489.9,155.4 488.2,153.9 486.5,152.4 484.8,150.9 483.1,149.4 481.4,147.9 479.7,146.5 478.0,145.1 476.4,143.7 474.7,142.3 473.0,141.0 471.3,139.6 469.7,138.3 468.0,137.1 466.4,135.8 464.7,134.6 463.1,133.4 461.5,132.2 459.9,131.0 458.2,129.9 456.6,128.8 455.0,127.7 453.4,126.7 451.8,125.6 450.2,124.6 448.7,123.6 447.1,122.7 445.5,121.7 444.0,120.8 442.4,119.9 440.9,119.1 439.4,118.3 437.8,117.4M575.4,252.7 573.7,250.2 572.0,247.8 570.3,245.3 568.6,242.9 566.8,240.5 565.1,238.0 563.4,235.7 561.7,233.3 559.9,230.9 558.2,228.6 556.4,226.3 554.7,224.0 553.0,221.7 551.2,219.5 549.5,217.2 547.7,215.0 546.0,212.8 544.2,210.6 542.5,208.4 540.7,206.3 539.0,204.2 537.2,202.1 535.5,200.0 533.7,197.9 532.0,195.9 530.2,193.8 528.5,191.8 526.7,189.8 525.0,187.9 523.2,185.9 521.5,184.0 519.7,182.1 518.0,180.2 516.2,178.3 514.5,176.5 512.8,174.7 511.0,172.8 509.3,171.1 507.5,169.3 505.8,167.6 504.1,165.8 502.3,164.1 500.6,162.5 498.9,160.8 497.2,159.2 495.5,157.6 493.7,156.0 492.0,154.4 490.3,152.9 488.6,151.3 486.9,149.8 485.2,148.4 483.5,146.9 481.8,145.5 480.2,144.1 478.5,142.7 476.8,141.3 475.1,140.0 473.5,138.6 471.8,137.4 470.2,136.1 468.5,134.8 466.9,133.6 465.2,132.4 463.6,131.2 462.0,130.1 460.3,129.0 458.7,127.9 457.1,126.8 455.5,125.7 453.9,124.7 452.3,123.7 450.8,122.7 449.2,121.7 447.6,120.8 446.1,119.9 444.5,119.0 443.0,118.2 441.4,117.3 439.9,116.5M577.5,251.5 575.8,249.0 574.1,246.6 572.4,244.1 570.7,241.7 569.0,239.3 567.2,236.9 565.5,234.5 563.8,232.1 562.0,229.8 560.3,227.4 558.6,225.1 556.8,222.8 555.1,220.5 553.4,218.3 551.6,216.1 549.9,213.8 548.1,211.6 546.4,209.5 544.6,207.3 542.9,205.2 541.1,203.0 539.4,200.9 537.6,198.8 535.9,196.8 534.1,194.7 532.4,192.7 530.6,190.7 528.9,188.7 527.1,186.8 525.4,184.8 523.6,182.9 521.9,181.0 520.1,179.1 518.4,177.2 516.6,175.4 514.9,173.6 513.1,171.8 511.4,170.0 509.7,168.2 507.9,166.5 506.2,164.8 504.5,163.1 502.7,161.4 501.0,159.8 499.3,158.1 497.6,156.5 495.9,154.9 494.2,153.4 492.4,151.8 490.7,150.3 489.0,148.8 487.3,147.3 485.6,145.9 484.0,144.5 482.3,143.1 480.6,141.7 478.9,140.3 477.2,139.0 475.6,137.7 473.9,136.4 472.3,135.1 470.6,133.9 469.0,132.6 467.3,131.4 465.7,130.3 464.1,129.1 462.5,128.0 460.8,126.9 459.2,125.8 457.6,124.8 456.0,123.8 454.4,122.8 452.9,121.8 451.3,120.8 449.7,119.9 448.2,119.0 446.6,118.1 445.1,117.3 443.5,116.4 442.0,115.6M579.7,250.3 577.9,247.8 576.2,245.3 574.5,242.9 572.8,240.5 571.1,238.1 569.4,235.7 567.6,233.3 565.9,230.9 564.2,228.6 562.4,226.2 560.7,223.9 559.0,221.6 557.2,219.4 555.5,217.1 553.7,214.9 552.0,212.7 550.2,210.5 548.5,208.3 546.7,206.1 545.0,204.0 543.2,201.9 541.5,199.8 539.7,197.7 538.0,195.6 536.2,193.6 534.5,191.6 532.7,189.6 531.0,187.6 529.2,185.6 527.5,183.7 525.7,181.8 524.0,179.9 522.2,178.0 520.5,176.1 518.8,174.3 517.0,172.5 515.3,170.7 513.5,168.9 511.8,167.2 510.1,165.4 508.3,163.7 506.6,162.0 504.9,160.4 503.1,158.7 501.4,157.1 499.7,155.5 498.0,153.9 496.3,152.3 494.6,150.8 492.9,149.3 491.2,147.8 489.5,146.3 487.8,144.9 486.1,143.5 484.4,142.0 482.7,140.7 481.0,139.3 479.4,138.0 477.7,136.7 476.0,135.4 474.4,134.1 472.7,132.9 471.1,131.7 469.4,130.5 467.8,129.3 466.2,128.2 464.6,127.1 462.9,126.0 461.3,124.9 459.7,123.8 458.1,122.8 456.5,121.8 455.0,120.9 453.4,119.9 451.8,119.0 450.2,118.1 448.7,117.2 447.1,116.4 445.6,115.5 444.1,114.8M581.8,249.1 580.1,246.6 578.3,244.1 576.6,241.7 574.9,239.3 573.2,236.9 571.5,234.5 569.7,232.1 568.0,229.7 566.3,227.4 564.5,225.1 562.8,222.8 561.1,220.5 559.3,218.2 557.6,216.0 555.9,213.7 554.1,211.5 552.4,209.3 550.6,207.2 548.9,205.0 547.1,202.9 545.4,200.8 543.6,198.7 541.9,196.6 540.1,194.5 538.4,192.5 536.6,190.5 534.9,188.5 533.1,186.5 531.4,184.5 529.6,182.6 527.9,180.7 526.1,178.8 524.4,176.9 522.6,175.1 520.9,173.2 519.1,171.4 517.4,169.6 515.7,167.8 513.9,166.1 512.2,164.4 510.5,162.7 508.7,161.0 507.0,159.3 505.3,157.7 503.5,156.0 501.8,154.4 500.1,152.9 498.4,151.3 496.7,149.8 495.0,148.3 493.3,146.8 491.6,145.3 489.9,143.9 488.2,142.4 486.5,141.1 484.8,139.7 483.1,138.3 481.5,137.0 479.8,135.7 478.1,134.4 476.5,133.2 474.8,131.9 473.2,130.7 471.5,129.5 469.9,128.4 468.3,127.2 466.6,126.1 465.0,125.0 463.4,124.0 461.8,122.9 460.2,121.9 458.6,120.9 457.0,119.9 455.5,119.0 453.9,118.1 452.3,117.2 450.8,116.3 449.2,115.5 447.7,114.7 446.2,113.9M583.9,247.9 582.2,245.4 580.4,242.9 578.7,240.5 577.0,238.1 575.3,235.7 573.6,233.3 571.9,230.9 570.1,228.5 568.4,226.2 566.7,223.9 564.9,221.6 563.2,219.3 561.5,217.0 559.7,214.8 558.0,212.6 556.2,210.4 554.5,208.2 552.7,206.0 551.0,203.9 549.2,201.7 547.5,199.6 545.7,197.5 544.0,195.4 542.2,193.4 540.5,191.4 538.7,189.3 537.0,187.4 535.2,185.4 533.5,183.4 531.7,181.5 530.0,179.6 528.2,177.7 526.5,175.8 524.7,174.0 523.0,172.1 521.3,170.3 519.5,168.5 517.8,166.8 516.0,165.0 514.3,163.3 512.6,161.6 510.8,159.9 509.1,158.3 507.4,156.6 505.7,155.0 503.9,153.4 502.2,151.8 500.5,150.3 498.8,148.8 497.1,147.2 495.4,145.8 493.7,144.3 492.0,142.9 490.3,141.4 488.6,140.1 486.9,138.7 485.2,137.3 483.6,136.0 481.9,134.7 480.2,133.4 478.6,132.2 476.9,131.0 475.3,129.7 473.6,128.6 472.0,127.4 470.4,126.3 468.7,125.2 467.1,124.1 465.5,123.0 463.9,122.0 462.3,121.0 460.7,120.0 459.1,119.0 457.5,118.1 456.0,117.2 454.4,116.3 452.9,115.4 451.3,114.6 449.8,113.8 448.2,113.0M586.0,246.7 584.2,244.2 582.5,241.7 580.8,239.3 579.1,236.9 577.4,234.5 575.7,232.1 574.0,229.7 572.2,227.4 570.5,225.0 568.8,222.7 567.0,220.4 565.3,218.1 563.6,215.9 561.8,213.6 560.1,211.4 558.3,209.2 556.6,207.0 554.8,204.9 553.1,202.7 551.3,200.6 549.6,198.5 547.8,196.4 546.1,194.3 544.3,192.3 542.6,190.2 540.8,188.2 539.1,186.2 537.3,184.3 535.6,182.3 533.8,180.4 532.1,178.5 530.4,176.6 528.6,174.7 526.9,172.9 525.1,171.1 523.4,169.3 521.6,167.5 519.9,165.7 518.1,164.0 516.4,162.2 514.7,160.5 512.9,158.9 511.2,157.2 509.5,155.6 507.8,154.0 506.0,152.4 504.3,150.8 502.6,149.3 500.9,147.7 499.2,146.2 497.5,144.8 495.8,143.3 494.1,141.9 492.4,140.5 490.7,139.1 489.0,137.7 487.3,136.4 485.7,135.0 484.0,133.7 482.3,132.5 480.7,131.2 479.0,130.0 477.4,128.8 475.7,127.6 474.1,126.5 472.5,125.3 470.8,124.2 469.2,123.1 467.6,122.1 466.0,121.1 464.4,120.0 462.8,119.1 461.2,118.1 459.6,117.2 458.0,116.3 456.5,115.4 454.9,114.5 453.4,113.7 451.8,112.9 450.3,112.1M588.0,245.4 586.3,243.0 584.6,240.5 582.9,238.1 581.2,235.7 579.5,233.3 577.8,230.9 576.0,228.5 574.3,226.2 572.6,223.8 570.9,221.5 569.1,219.2 567.4,217.0 565.7,214.7 563.9,212.5 562.2,210.3 560.4,208.1 558.7,205.9 556.9,203.7 555.2,201.6 553.5,199.4 551.7,197.3 550.0,195.3 548.2,193.2 546.5,191.2 544.7,189.1 543.0,187.1 541.2,185.1 539.5,183.2 537.7,181.2 536.0,179.3 534.2,177.4 532.5,175.5 530.7,173.6 529.0,171.8 527.2,170.0 525.5,168.2 523.7,166.4 522.0,164.6 520.3,162.9 518.5,161.2 516.8,159.5 515.1,157.8 513.3,156.2 511.6,154.5 509.9,152.9 508.1,151.3 506.4,149.8 504.7,148.2 503.0,146.7 501.3,145.2 499.6,143.7 497.9,142.3 496.2,140.9 494.5,139.5 492.8,138.1 491.1,136.7 489.4,135.4 487.8,134.1 486.1,132.8 484.4,131.5 482.8,130.3 481.1,129.0 479.5,127.8 477.8,126.7 476.2,125.5 474.5,124.4 472.9,123.3 471.3,122.2 469.7,121.2 468.1,120.1 466.5,119.1 464.9,118.2 463.3,117.2 461.7,116.3 460.1,115.4 458.6,114.5 457.0,113.6 455.4,112.8 453.9,112.0 452.4,111.2M590.1,244.2 588.4,241.8 586.7,239.3 585.0,236.9 583.3,234.5 581.6,232.1 579.9,229.7 578.1,227.3 576.4,225.0 574.7,222.7 573.0,220.4 571.2,218.1 569.5,215.8 567.8,213.5 566.0,211.3 564.3,209.1 562.5,206.9 560.8,204.7 559.0,202.6 557.3,200.4 555.6,198.3 553.8,196.2 552.1,194.1 550.3,192.1 548.6,190.0 546.8,188.0 545.1,186.0 543.3,184.0 541.6,182.1 539.8,180.1 538.1,178.2 536.3,176.3 534.6,174.4 532.8,172.6 531.1,170.7 529.3,168.9 527.6,167.1 525.8,165.3 524.1,163.6 522.4,161.9 520.6,160.1 518.9,158.4 517.2,156.8 515.4,155.1 513.7,153.5 512.0,151.9 510.2,150.3 508.5,148.8 506.8,147.2 505.1,145.7 503.4,144.2 501.7,142.7 500.0,141.3 498.3,139.9 496.6,138.5 494.9,137.1 493.2,135.7 491.5,134.4 489.9,133.1 488.2,131.8 486.5,130.5 484.9,129.3 483.2,128.1 481.5,126.9 479.9,125.7 478.3,124.6 476.6,123.5 475.0,122.4 473.4,121.3 471.7,120.2 470.1,119.2 468.5,118.2 466.9,117.2 465.3,116.3 463.8,115.4 462.2,114.5 460.6,113.6 459.1,112.7 457.5,111.9 456.0,111.1 454.4,110.3M592.2,243.0 590.5,240.6 588.8,238.1 587.1,235.7 585.4,233.3 583.7,230.9 581.9,228.5 580.2,226.2 578.5,223.8 576.8,221.5 575.0,219.2 573.3,216.9 571.6,214.6 569.8,212.4 568.1,210.2 566.4,208.0 564.6,205.8 562.9,203.6 561.1,201.4 559.4,199.3 557.7,197.2 555.9,195.1 554.2,193.0 552.4,191.0 550.7,188.9 548.9,186.9 547.2,184.9 545.4,182.9 543.7,181.0 541.9,179.0 540.2,177.1 538.4,175.2 536.7,173.3 534.9,171.5 533.2,169.7 531.4,167.8 529.7,166.0 527.9,164.3 526.2,162.5 524.5,160.8 522.7,159.1 521.0,157.4 519.3,155.7 517.5,154.1 515.8,152.5 514.1,150.9 512.3,149.3 510.6,147.7 508.9,146.2 507.2,144.7 505.5,143.2 503.8,141.7 502.1,140.3 500.4,138.9 498.7,137.5 497.0,136.1 495.3,134.8 493.6,133.4 491.9,132.1 490.3,130.8 488.6,129.6 486.9,128.3 485.3,127.1 483.6,125.9 482.0,124.8 480.3,123.6 478.7,122.5 477.1,121.4 475.4,120.4 473.8,119.3 472.2,118.3 470.6,117.3 469.0,116.3 467.4,115.4 465.8,114.5 464.3,113.6 462.7,112.7 461.1,111.9 459.6,111.0 458.0,110.3 456.5,109.5M594.3,241.8 592.6,239.4 590.9,236.9 589.2,234.5 587.5,232.1 585.7,229.7 584.0,227.3 582.3,225.0 580.6,222.6 578.9,220.3 577.1,218.0 575.4,215.7 573.7,213.5 571.9,211.2 570.2,209.0 568.5,206.8 566.7,204.6 565.0,202.4 563.2,200.3 561.5,198.2 559.7,196.1 558.0,194.0 556.2,191.9 554.5,189.8 552.8,187.8 551.0,185.8 549.3,183.8 547.5,181.8 545.8,179.9 544.0,177.9 542.3,176.0 540.5,174.1 538.8,172.3 537.0,170.4 535.3,168.6 533.5,166.8 531.8,165.0 530.0,163.2 528.3,161.5 526.6,159.7 524.8,158.0 523.1,156.4 521.3,154.7 519.6,153.1 517.9,151.4 516.2,149.9 514.4,148.3 512.7,146.7 511.0,145.2 509.3,143.7 507.6,142.2 505.9,140.8 504.2,139.3 502.5,137.9 500.8,136.5 499.1,135.1 497.4,133.8 495.7,132.5 494.0,131.2 492.3,129.9 490.7,128.6 489.0,127.4 487.4,126.2 485.7,125.0 484.0,123.8 482.4,122.7 480.8,121.6 479.1,120.5 477.5,119.4 475.9,118.4 474.3,117.4 472.7,116.4 471.1,115.4 469.5,114.5 467.9,113.6 466.3,112.7 464.7,111.8 463.2,111.0 461.6,110.2 460.1,109.4 458.5,108.6M596.3,240.6 594.6,238.2 592.9,235.7 591.2,233.3 589.5,230.9 587.8,228.5 586.1,226.1 584.4,223.8 582.7,221.5 580.9,219.1 579.2,216.9 577.5,214.6 575.7,212.3 574.0,210.1 572.3,207.9 570.5,205.7 568.8,203.5 567.1,201.3 565.3,199.2 563.6,197.0 561.8,194.9 560.1,192.8 558.3,190.8 556.6,188.7 554.8,186.7 553.1,184.7 551.3,182.7 549.6,180.7 547.8,178.8 546.1,176.9 544.3,174.9 542.6,173.1 540.8,171.2 539.1,169.3 537.4,167.5 535.6,165.7 533.9,163.9 532.1,162.2 530.4,160.4 528.6,158.7 526.9,157.0 525.2,155.3 523.4,153.7 521.7,152.0 520.0,150.4 518.2,148.8 516.5,147.3 514.8,145.7 513.1,144.2 511.4,142.7 509.7,141.2 507.9,139.8 506.2,138.3 504.5,136.9 502.8,135.5 501.2,134.2 499.5,132.8 497.8,131.5 496.1,130.2 494.4,128.9 492.8,127.7 491.1,126.5 489.4,125.2 487.8,124.1 486.1,122.9 484.5,121.8 482.8,120.7 481.2,119.6 479.6,118.5 478.0,117.5 476.3,116.5 474.7,115.5 473.1,114.5 471.5,113.6 469.9,112.7 468.4,111.8 466.8,111.0 465.2,110.1 463.7,109.3 462.1,108.5 460.6,107.8M598.4,239.4 596.7,237.0 595.0,234.5 593.3,232.1 591.6,229.7 589.9,227.3 588.2,225.0 586.5,222.6 584.7,220.3 583.0,218.0 581.3,215.7 579.6,213.4 577.8,211.2 576.1,208.9 574.4,206.7 572.6,204.5 570.9,202.3 569.1,200.2 567.4,198.0 565.7,195.9 563.9,193.8 562.2,191.7 560.4,189.7 558.7,187.6 556.9,185.6 555.2,183.6 553.4,181.6 551.7,179.6 549.9,177.7 548.2,175.8 546.4,173.9 544.7,172.0 542.9,170.1 541.2,168.3 539.4,166.5 537.7,164.7 535.9,162.9 534.2,161.1 532.5,159.4 530.7,157.7 529.0,156.0 527.2,154.3 525.5,152.6 523.8,151.0 522.1,149.4 520.3,147.8 518.6,146.3 516.9,144.7 515.2,143.2 513.4,141.7 511.7,140.2 510.0,138.8 508.3,137.3 506.6,135.9 504.9,134.5 503.2,133.2 501.5,131.8 499.9,130.5 498.2,129.2 496.5,128.0 494.8,126.7 493.2,125.5 491.5,124.3 489.8,123.1 488.2,122.0 486.5,120.9 484.9,119.8 483.3,118.7 481.6,117.6 480.0,116.6 478.4,115.6 476.8,114.6 475.2,113.7 473.6,112.7 472.0,111.8 470.4,110.9 468.8,110.1 467.3,109.2 465.7,108.4 464.2,107.7 462.6,106.9M600.5,238.2 598.8,235.8 597.1,233.3 595.4,230.9 593.7,228.5 591.9,226.1 590.2,223.8 588.5,221.4 586.8,219.1 585.1,216.8 583.3,214.5 581.6,212.3 579.9,210.0 578.2,207.8 576.4,205.6 574.7,203.4 573.0,201.2 571.2,199.0 569.5,196.9 567.7,194.8 566.0,192.7 564.2,190.6 562.5,188.5 560.7,186.5 559.0,184.5 557.3,182.5 555.5,180.5 553.8,178.5 552.0,176.6 550.3,174.7 548.5,172.8 546.8,170.9 545.0,169.0 543.3,167.2 541.5,165.4 539.8,163.6 538.0,161.8 536.3,160.1 534.5,158.3 532.8,156.6 531.1,154.9 529.3,153.3 527.6,151.6 525.9,150.0 524.1,148.4 522.4,146.8 520.7,145.2 519.0,143.7 517.2,142.2 515.5,140.7 513.8,139.2 512.1,137.8 510.4,136.4 508.7,135.0 507.0,133.6 505.3,132.2 503.6,130.9 501.9,129.6 500.2,128.3 498.6,127.0 496.9,125.8 495.2,124.6 493.6,123.4 491.9,122.2 490.2,121.1 488.6,119.9 487.0,118.8 485.3,117.8 483.7,116.7 482.1,115.7 480.5,114.7 478.8,113.7 477.2,112.8 475.6,111.8 474.1,110.9 472.5,110.1 470.9,109.2 469.3,108.4 467.8,107.6 466.2,106.8 464.7,106.1M602.5,237.0 600.8,234.6 599.1,232.1 597.4,229.7 595.7,227.3 594.0,225.0 592.3,222.6 590.6,220.3 588.9,217.9 587.1,215.6 585.4,213.4 583.7,211.1 582.0,208.9 580.2,206.6 578.5,204.4 576.8,202.2 575.0,200.1 573.3,197.9 571.5,195.8 569.8,193.7 568.1,191.6 566.3,189.5 564.6,187.4 562.8,185.4 561.1,183.4 559.3,181.4 557.6,179.4 555.8,177.4 554.1,175.5 552.3,173.6 550.6,171.7 548.8,169.8 547.1,168.0 545.3,166.1 543.6,164.3 541.8,162.5 540.1,160.8 538.4,159.0 536.6,157.3 534.9,155.6 533.1,153.9 531.4,152.2 529.7,150.6 527.9,149.0 526.2,147.4 524.5,145.8 522.8,144.2 521.0,142.7 519.3,141.2 517.6,139.7 515.9,138.2 514.2,136.8 512.5,135.4 510.8,134.0 509.1,132.6 507.4,131.3 505.7,129.9 504.0,128.6 502.3,127.3 500.6,126.1 499.0,124.8 497.3,123.6 495.6,122.4 494.0,121.3 492.3,120.1 490.7,119.0 489.0,117.9 487.4,116.9 485.8,115.8 484.1,114.8 482.5,113.8 480.9,112.8 479.3,111.9 477.7,111.0 476.1,110.1 474.5,109.2 472.9,108.3 471.4,107.5 469.8,106.7 468.2,106.0 466.7,105.2M604.5,235.8 602.9,233.4 601.2,231.0 599.5,228.5 597.8,226.2 596.0,223.8 594.3,221.4 592.6,219.1 590.9,216.8 589.2,214.5 587.5,212.2 585.7,209.9 584.0,207.7 582.3,205.5 580.6,203.3 578.8,201.1 577.1,198.9 575.3,196.8 573.6,194.6 571.9,192.5 570.1,190.4 568.4,188.4 566.6,186.3 564.9,184.3 563.1,182.3 561.4,180.3 559.6,178.3 557.9,176.4 556.1,174.4 554.4,172.5 552.6,170.6 550.9,168.8 549.2,166.9 547.4,165.1 545.7,163.3 543.9,161.5 542.2,159.7 540.4,158.0 538.7,156.3 536.9,154.5 535.2,152.9 533.5,151.2 531.7,149.6 530.0,148.0 528.3,146.4 526.5,144.8 524.8,143.2 523.1,141.7 521.4,140.2 519.7,138.7 517.9,137.3 516.2,135.8 514.5,134.4 512.8,133.0 511.1,131.6 509.4,130.3 507.7,129.0 506.0,127.7 504.4,126.4 502.7,125.1 501.0,123.9 499.3,122.7 497.7,121.5 496.0,120.4 494.4,119.2 492.7,118.1 491.1,117.0 489.4,116.0 487.8,114.9 486.2,113.9 484.6,112.9 482.9,111.9 481.3,111.0 479.7,110.1 478.1,109.2 476.6,108.3 475.0,107.5 473.4,106.7 471.8,105.9 470.3,105.1 468.7,104.4M606.6,234.6 604.9,232.2 603.2,229.8 601.5,227.4 599.8,225.0 598.1,222.6 596.4,220.3 594.7,217.9 593.0,215.6 591.2,213.3 589.5,211.0 587.8,208.8 586.1,206.6 584.3,204.3 582.6,202.1 580.9,199.9 579.1,197.8 577.4,195.6 575.7,193.5 573.9,191.4 572.2,189.3 570.4,187.3 568.7,185.2 566.9,183.2 565.2,181.2 563.5,179.2 561.7,177.2 560.0,175.3 558.2,173.3 556.5,171.4 554.7,169.6 553.0,167.7 551.2,165.8 549.5,164.0 547.7,162.2 546.0,160.4 544.2,158.7 542.5,156.9 540.8,155.2 539.0,153.5 537.3,151.8 535.5,150.2 533.8,148.6 532.1,146.9 530.3,145.4 528.6,143.8 526.9,142.2 525.2,140.7 523.4,139.2 521.7,137.7 520.0,136.3 518.3,134.8 516.6,133.4 514.9,132.1 513.2,130.7 511.5,129.3 509.8,128.0 508.1,126.7 506.4,125.5 504.7,124.2 503.1,123.0 501.4,121.8 499.7,120.6 498.1,119.4 496.4,118.3 494.8,117.2 493.1,116.1 491.5,115.1 489.8,114.0 488.2,113.0 486.6,112.0 485.0,111.1 483.4,110.1 481.8,109.2 480.2,108.3 478.6,107.5 477.0,106.6 475.4,105.8 473.9,105.0 472.3,104.3 470.8,103.5M608.6,233.4 606.9,231.0 605.2,228.6 603.5,226.2 601.8,223.8 600.1,221.4 598.4,219.1 596.7,216.8 595.0,214.5 593.3,212.2 591.6,209.9 589.8,207.6 588.1,205.4 586.4,203.2 584.7,201.0 582.9,198.8 581.2,196.7 579.5,194.5 577.7,192.4 576.0,190.3 574.2,188.2 572.5,186.1 570.7,184.1 569.0,182.1 567.3,180.1 565.5,178.1 563.8,176.1 562.0,174.2 560.3,172.3 558.5,170.4 556.8,168.5 555.0,166.6 553.3,164.8 551.5,163.0 549.8,161.2 548.0,159.4 546.3,157.6 544.6,155.9 542.8,154.2 541.1,152.5 539.3,150.8 537.6,149.2 535.9,147.5 534.1,145.9 532.4,144.3 530.7,142.8 528.9,141.2 527.2,139.7 525.5,138.2 523.8,136.8 522.1,135.3 520.4,133.9 518.6,132.5 516.9,131.1 515.2,129.7 513.5,128.4 511.8,127.1 510.2,125.8 508.5,124.5 506.8,123.3 505.1,122.1 503.4,120.9 501.8,119.7 500.1,118.5 498.5,117.4 496.8,116.3 495.2,115.2 493.5,114.2 491.9,113.1 490.3,112.1 488.6,111.2 487.0,110.2 485.4,109.3 483.8,108.4 482.2,107.5 480.6,106.6 479.0,105.8 477.5,105.0 475.9,104.2 474.3,103.4 472.8,102.7M610.6,232.2 609.0,229.8 607.3,227.4 605.6,225.0 603.9,222.6 602.2,220.3 600.5,217.9 598.7,215.6 597.0,213.3 595.3,211.0 593.6,208.7 591.9,206.5 590.2,204.3 588.4,202.0 586.7,199.9 585.0,197.7 583.2,195.5 581.5,193.4 579.8,191.3 578.0,189.2 576.3,187.1 574.5,185.0 572.8,183.0 571.1,181.0 569.3,179.0 567.6,177.0 565.8,175.1 564.1,173.1 562.3,171.2 560.6,169.3 558.8,167.4 557.1,165.6 555.3,163.7 553.6,161.9 551.8,160.1 550.1,158.3 548.4,156.6 546.6,154.9 544.9,153.2 543.1,151.5 541.4,149.8 539.7,148.2 537.9,146.5 536.2,144.9 534.5,143.3 532.7,141.8 531.0,140.3 529.3,138.7 527.5,137.2 525.8,135.8 524.1,134.3 522.4,132.9 520.7,131.5 519.0,130.1 517.3,128.8 515.6,127.4 513.9,126.1 512.2,124.8 510.5,123.6 508.8,122.3 507.2,121.1 505.5,119.9 503.8,118.8 502.2,117.6 500.5,116.5 498.8,115.4 497.2,114.3 495.6,113.3 493.9,112.3 492.3,111.3 490.7,110.3 489.1,109.3 487.4,108.4 485.8,107.5 484.2,106.6 482.7,105.8 481.1,104.9 479.5,104.1 477.9,103.4 476.4,102.6 474.8,101.9M612.7,231.0 611.0,228.6 609.3,226.2 607.6,223.8 605.9,221.4 604.2,219.1 602.5,216.8 600.8,214.4 599.1,212.1 597.4,209.9 595.6,207.6 593.9,205.3 592.2,203.1 590.5,200.9 588.7,198.7 587.0,196.6 585.3,194.4 583.5,192.3 581.8,190.2 580.1,188.1 578.3,186.0 576.6,183.9 574.8,181.9 573.1,179.9 571.4,177.9 569.6,175.9 567.9,174.0 566.1,172.0 564.4,170.1 562.6,168.2 560.9,166.4 559.1,164.5 557.4,162.7 555.6,160.9 553.9,159.1 552.1,157.3 550.4,155.6 548.7,153.8 546.9,152.1 545.2,150.4 543.4,148.8 541.7,147.1 540.0,145.5 538.2,143.9 536.5,142.4 534.8,140.8 533.0,139.3 531.3,137.8 529.6,136.3 527.9,134.8 526.2,133.4 524.4,131.9 522.7,130.5 521.0,129.2 519.3,127.8 517.6,126.5 515.9,125.2 514.2,123.9 512.6,122.7 510.9,121.4 509.2,120.2 507.5,119.0 505.9,117.9 504.2,116.7 502.5,115.6 500.9,114.5 499.2,113.4 497.6,112.4 496.0,111.4 494.3,110.4 492.7,109.4 491.1,108.5 489.5,107.5 487.9,106.6 486.3,105.8 484.7,104.9 483.1,104.1 481.5,103.3 479.9,102.5 478.4,101.8 476.8,101.1M614.7,229.9 613.0,227.4 611.3,225.0 609.6,222.6 607.9,220.3 606.2,217.9 604.5,215.6 602.8,213.3 601.1,211.0 599.4,208.7 597.7,206.4 595.9,204.2 594.2,202.0 592.5,199.8 590.8,197.6 589.0,195.4 587.3,193.3 585.6,191.1 583.8,189.0 582.1,187.0 580.4,184.9 578.6,182.8 576.9,180.8 575.1,178.8 573.4,176.8 571.7,174.8 569.9,172.9 568.2,171.0 566.4,169.1 564.7,167.2 562.9,165.3 561.2,163.4 559.4,161.6 557.7,159.8 555.9,158.0 554.2,156.3 552.4,154.5 550.7,152.8 549.0,151.1 547.2,149.4 545.5,147.8 543.7,146.1 542.0,144.5 540.3,142.9 538.5,141.4 536.8,139.8 535.1,138.3 533.4,136.8 531.6,135.3 529.9,133.8 528.2,132.4 526.5,131.0 524.8,129.6 523.1,128.2 521.4,126.9 519.7,125.6 518.0,124.3 516.3,123.0 514.6,121.7 512.9,120.5 511.2,119.3 509.6,118.1 507.9,116.9 506.2,115.8 504.6,114.7 502.9,113.6 501.3,112.5 499.6,111.5 498.0,110.5 496.4,109.5 494.7,108.5 493.1,107.6 491.5,106.7 489.9,105.8 488.3,104.9 486.7,104.1 485.1,103.3 483.5,102.5 482.0,101.7 480.4,101.0 478.8,100.2M616.7,228.7 615.0,226.2 613.3,223.8 611.6,221.5 609.9,219.1 608.2,216.8 606.5,214.4 604.8,212.1 603.1,209.8 601.4,207.5 599.7,205.3 598.0,203.1 596.3,200.8 594.5,198.6 592.8,196.5 591.1,194.3 589.3,192.2 587.6,190.0 585.9,187.9 584.1,185.8 582.4,183.8 580.7,181.7 578.9,179.7 577.2,177.7 575.4,175.7 573.7,173.8 571.9,171.8 570.2,169.9 568.5,168.0 566.7,166.1 565.0,164.2 563.2,162.4 561.5,160.6 559.7,158.8 558.0,157.0 556.2,155.2 554.5,153.5 552.7,151.8 551.0,150.1 549.3,148.4 547.5,146.8 545.8,145.1 544.1,143.5 542.3,141.9 540.6,140.4 538.9,138.8 537.1,137.3 535.4,135.8 533.7,134.3 532.0,132.9 530.2,131.4 528.5,130.0 526.8,128.6 525.1,127.3 523.4,125.9 521.7,124.6 520.0,123.3 518.3,122.1 516.6,120.8 514.9,119.6 513.3,118.4 511.6,117.2 509.9,116.0 508.3,114.9 506.6,113.8 504.9,112.7 503.3,111.7 501.7,110.6 500.0,109.6 498.4,108.6 496.8,107.7 495.1,106.7 493.5,105.8 491.9,104.9 490.3,104.1 488.7,103.2 487.1,102.4 485.5,101.6 484.0,100.9 482.4,100.1 480.9,99.4M618.7,227.5 617.0,225.1 615.3,222.7 613.6,220.3 611.9,217.9 610.2,215.6 608.5,213.3 606.8,211.0 605.1,208.7 603.4,206.4 601.7,204.1 600.0,201.9 598.3,199.7 596.5,197.5 594.8,195.3 593.1,193.2 591.4,191.0 589.6,188.9 587.9,186.8 586.2,184.7 584.4,182.7 582.7,180.6 580.9,178.6 579.2,176.6 577.5,174.6 575.7,172.7 574.0,170.7 572.2,168.8 570.5,166.9 568.7,165.0 567.0,163.2 565.2,161.3 563.5,159.5 561.8,157.7 560.0,156.0 558.3,154.2 556.5,152.5 554.8,150.8 553.0,149.1 551.3,147.4 549.6,145.7 547.8,144.1 546.1,142.5 544.4,140.9 542.6,139.4 540.9,137.8 539.2,136.3 537.4,134.8 535.7,133.4 534.0,131.9 532.3,130.5 530.6,129.1 528.9,127.7 527.1,126.3 525.4,125.0 523.7,123.7 522.0,122.4 520.4,121.1 518.7,119.9 517.0,118.7 515.3,117.5 513.6,116.3 512.0,115.1 510.3,114.0 508.6,112.9 507.0,111.8 505.3,110.8 503.7,109.8 502.0,108.8 500.4,107.8 498.8,106.8 497.2,105.9 495.5,105.0 493.9,104.1 492.3,103.2 490.7,102.4 489.1,101.6 487.6,100.8 486.0,100.1 484.4,99.3 482.9,98.6M620.7,226.3 619.0,223.9 617.3,221.5 615.6,219.1 613.9,216.8 612.2,214.4 610.5,212.1 608.8,209.8 607.1,207.5 605.4,205.2 603.7,203.0 602.0,200.8 600.3,198.6 598.6,196.4 596.8,194.2 595.1,192.1 593.4,189.9 591.7,187.8 589.9,185.7 588.2,183.6 586.4,181.6 584.7,179.5 583.0,177.5 581.2,175.5 579.5,173.6 577.7,171.6 576.0,169.7 574.3,167.8 572.5,165.9 570.8,164.0 569.0,162.1 567.3,160.3 565.5,158.5 563.8,156.7 562.0,154.9 560.3,153.2 558.6,151.4 556.8,149.7 555.1,148.1 553.3,146.4 551.6,144.7 549.9,143.1 548.1,141.5 546.4,139.9 544.7,138.4 542.9,136.9 541.2,135.3 539.5,133.9 537.7,132.4 536.0,130.9 534.3,129.5 532.6,128.1 530.9,126.7 529.2,125.4 527.5,124.1 525.8,122.8 524.1,121.5 522.4,120.2 520.7,119.0 519.0,117.8 517.3,116.6 515.6,115.4 514.0,114.2 512.3,113.1 510.6,112.0 509.0,111.0 507.3,109.9 505.7,108.9 504.1,107.9 502.4,106.9 500.8,106.0 499.2,105.0 497.5,104.1 495.9,103.3 494.3,102.4 492.7,101.6 491.1,100.8 489.6,100.0 488.0,99.2 486.4,98.5 484.9,97.8M622.7,225.1 621.0,222.7 619.3,220.3 617.6,217.9 615.9,215.6 614.2,213.3 612.5,210.9 610.8,208.6 609.1,206.4 607.4,204.1 605.7,201.9 604.0,199.6 602.3,197.4 600.6,195.2 598.9,193.1 597.1,190.9 595.4,188.8 593.7,186.7 591.9,184.6 590.2,182.5 588.5,180.5 586.7,178.5 585.0,176.4 583.3,174.5 581.5,172.5 579.8,170.5 578.0,168.6 576.3,166.7 574.5,164.8 572.8,162.9 571.0,161.1 569.3,159.3 567.6,157.4 565.8,155.7 564.1,153.9 562.3,152.1 560.6,150.4 558.8,148.7 557.1,147.0 555.4,145.4 553.6,143.7 551.9,142.1 550.1,140.5 548.4,139.0 546.7,137.4 544.9,135.9 543.2,134.4 541.5,132.9 539.8,131.4 538.0,130.0 536.3,128.6 534.6,127.2 532.9,125.8 531.2,124.5 529.5,123.1 527.8,121.8 526.1,120.5 524.4,119.3 522.7,118.1 521.0,116.8 519.3,115.7 517.7,114.5 516.0,113.4 514.3,112.2 512.7,111.2 511.0,110.1 509.4,109.0 507.7,108.0 506.1,107.0 504.4,106.1 502.8,105.1 501.2,104.2 499.6,103.3 497.9,102.4 496.3,101.6 494.7,100.8 493.2,100.0 491.6,99.2 490.0,98.4 488.4,97.7 486.9,97.0M624.7,223.9 623.0,221.5 621.3,219.1 619.6,216.8 617.9,214.4 616.2,212.1 614.5,209.8 612.8,207.5 611.1,205.2 609.4,203.0 607.7,200.7 606.0,198.5 604.3,196.3 602.6,194.1 600.9,192.0 599.1,189.8 597.4,187.7 595.7,185.6 593.9,183.5 592.2,181.4 590.5,179.4 588.7,177.4 587.0,175.4 585.3,173.4 583.5,171.4 581.8,169.5 580.0,167.5 578.3,165.6 576.6,163.7 574.8,161.9 573.1,160.0 571.3,158.2 569.6,156.4 567.8,154.6 566.1,152.9 564.3,151.1 562.6,149.4 560.9,147.7 559.1,146.0 557.4,144.4 555.6,142.7 553.9,141.1 552.2,139.5 550.4,138.0 548.7,136.4 547.0,134.9 545.2,133.4 543.5,131.9 541.8,130.5 540.1,129.0 538.4,127.6 536.6,126.2 534.9,124.9 533.2,123.5 531.5,122.2 529.8,120.9 528.1,119.6 526.4,118.4 524.7,117.1 523.0,115.9 521.4,114.8 519.7,113.6 518.0,112.5 516.3,111.4 514.7,110.3 513.0,109.2 511.4,108.2 509.7,107.2 508.1,106.2 506.4,105.2 504.8,104.3 503.2,103.3 501.6,102.5 499.9,101.6 498.3,100.7 496.7,99.9 495.2,99.1 493.6,98.4 492.0,97.6 490.4,96.9 488.9,96.2M626.6,222.7 625.0,220.3 623.3,218.0 621.6,215.6 619.9,213.3 618.2,210.9 616.5,208.6 614.8,206.3 613.1,204.1 611.4,201.8 609.7,199.6 608.0,197.4 606.3,195.2 604.6,193.0 602.9,190.8 601.1,188.7 599.4,186.6 597.7,184.5 596.0,182.4 594.2,180.3 592.5,178.3 590.7,176.3 589.0,174.3 587.3,172.3 585.5,170.3 583.8,168.4 582.1,166.5 580.3,164.6 578.6,162.7 576.8,160.8 575.1,159.0 573.3,157.2 571.6,155.4 569.8,153.6 568.1,151.8 566.4,150.1 564.6,148.4 562.9,146.7 561.1,145.0 559.4,143.4 557.7,141.7 555.9,140.1 554.2,138.6 552.4,137.0 550.7,135.5 549.0,133.9 547.3,132.4 545.5,131.0 543.8,129.5 542.1,128.1 540.4,126.7 538.7,125.3 536.9,123.9 535.2,122.6 533.5,121.3 531.8,120.0 530.1,118.7 528.4,117.5 526.7,116.2 525.0,115.0 523.4,113.9 521.7,112.7 520.0,111.6 518.3,110.5 516.7,109.4 515.0,108.3 513.4,107.3 511.7,106.3 510.1,105.3 508.4,104.4 506.8,103.4 505.2,102.5 503.6,101.6 501.9,100.8 500.3,99.9 498.7,99.1 497.1,98.3 495.6,97.6 494.0,96.8 492.4,96.1 490.8,95.4M628.6,221.6 626.9,219.2 625.3,216.8 623.6,214.4 621.9,212.1 620.2,209.8 618.5,207.5 616.8,205.2 615.1,202.9 613.4,200.7 611.7,198.4 610.0,196.2 608.3,194.0 606.6,191.9 604.9,189.7 603.1,187.6 601.4,185.5 599.7,183.4 598.0,181.3 596.2,179.2 594.5,177.2 592.8,175.2 591.0,173.2 589.3,171.2 587.5,169.3 585.8,167.3 584.1,165.4 582.3,163.5 580.6,161.6 578.8,159.8 577.1,157.9 575.3,156.1 573.6,154.3 571.9,152.6 570.1,150.8 568.4,149.1 566.6,147.4 564.9,145.7 563.1,144.0 561.4,142.4 559.7,140.8 557.9,139.2 556.2,137.6 554.5,136.0 552.7,134.5 551.0,133.0 549.3,131.5 547.5,130.0 545.8,128.6 544.1,127.1 542.4,125.7 540.7,124.4 538.9,123.0 537.2,121.7 535.5,120.4 533.8,119.1 532.1,117.8 530.4,116.6 528.7,115.3 527.1,114.2 525.4,113.0 523.7,111.8 522.0,110.7 520.3,109.6 518.7,108.5 517.0,107.5 515.4,106.5 513.7,105.4 512.1,104.5 510.4,103.5 508.8,102.6 507.2,101.7 505.6,100.8 503.9,99.9 502.3,99.1 500.7,98.3 499.1,97.5 497.6,96.8 496.0,96.0 494.4,95.3 492.8,94.6M630.6,220.4 628.9,218.0 627.2,215.6 625.6,213.3 623.9,210.9 622.2,208.6 620.5,206.3 618.8,204.0 617.1,201.8 615.4,199.5 613.7,197.3 612.0,195.1 610.3,192.9 608.6,190.8 606.8,188.6 605.1,186.5 603.4,184.4 601.7,182.3 599.9,180.2 598.2,178.2 596.5,176.1 594.7,174.1 593.0,172.1 591.3,170.1 589.5,168.2 587.8,166.3 586.1,164.4 584.3,162.5 582.6,160.6 580.8,158.7 579.1,156.9 577.3,155.1 575.6,153.3 573.9,151.5 572.1,149.8 570.4,148.1 568.6,146.4 566.9,144.7 565.2,143.0 563.4,141.4 561.7,139.8 559.9,138.2 558.2,136.6 556.5,135.0 554.7,133.5 553.0,132.0 551.3,130.5 549.5,129.1 547.8,127.6 546.1,126.2 544.4,124.8 542.7,123.4 541.0,122.1 539.2,120.7 537.5,119.4 535.8,118.2 534.1,116.9 532.4,115.7 530.7,114.4 529.1,113.3 527.4,112.1 525.7,111.0 524.0,109.8 522.3,108.7 520.7,107.7 519.0,106.6 517.4,105.6 515.7,104.6 514.1,103.6 512.4,102.7 510.8,101.8 509.2,100.9 507.5,100.0 505.9,99.1 504.3,98.3 502.7,97.5 501.1,96.7 499.5,96.0 498.0,95.2 496.4,94.5 494.8,93.9M632.5,219.2 630.9,216.8 629.2,214.5 627.5,212.1 625.8,209.8 624.2,207.5 622.5,205.2 620.8,202.9 619.1,200.6 617.4,198.4 615.7,196.2 614.0,194.0 612.3,191.8 610.5,189.6 608.8,187.5 607.1,185.4 605.4,183.3 603.7,181.2 601.9,179.1 600.2,177.1 598.5,175.0 596.7,173.0 595.0,171.0 593.3,169.1 591.5,167.1 589.8,165.2 588.1,163.3 586.3,161.4 584.6,159.5 582.8,157.7 581.1,155.9 579.3,154.1 577.6,152.3 575.9,150.5 574.1,148.8 572.4,147.1 570.6,145.4 568.9,143.7 567.2,142.0 565.4,140.4 563.7,138.8 561.9,137.2 560.2,135.6 558.5,134.1 556.7,132.5 555.0,131.0 553.3,129.6 551.5,128.1 549.8,126.7 548.1,125.3 546.4,123.9 544.7,122.5 543.0,121.1 541.2,119.8 539.5,118.5 537.8,117.2 536.1,116.0 534.4,114.8 532.7,113.6 531.1,112.4 529.4,111.2 527.7,110.1 526.0,109.0 524.3,107.9 522.7,106.8 521.0,105.8 519.4,104.7 517.7,103.8 516.1,102.8 514.4,101.8 512.8,100.9 511.2,100.0 509.5,99.2 507.9,98.3 506.3,97.5 504.7,96.7 503.1,95.9 501.5,95.2 499.9,94.5 498.4,93.8 496.8,93.1M634.5,218.0 632.8,215.7 631.2,213.3 629.5,211.0 627.8,208.6 626.1,206.3 624.4,204.0 622.7,201.8 621.0,199.5 619.3,197.3 617.6,195.1 615.9,192.9 614.2,190.7 612.5,188.5 610.8,186.4 609.1,184.3 607.4,182.2 605.6,180.1 603.9,178.0 602.2,176.0 600.5,174.0 598.7,172.0 597.0,170.0 595.3,168.0 593.5,166.1 591.8,164.1 590.0,162.2 588.3,160.4 586.6,158.5 584.8,156.7 583.1,154.8 581.3,153.0 579.6,151.3 577.9,149.5 576.1,147.8 574.4,146.1 572.6,144.4 570.9,142.7 569.1,141.0 567.4,139.4 565.7,137.8 563.9,136.2 562.2,134.6 560.5,133.1 558.7,131.6 557.0,130.1 555.3,128.6 553.5,127.2 551.8,125.7 550.1,124.3 548.4,122.9 546.7,121.6 544.9,120.2 543.2,118.9 541.5,117.6 539.8,116.3 538.1,115.1 536.4,113.9 534.7,112.7 533.0,111.5 531.4,110.3 529.7,109.2 528.0,108.1 526.3,107.0 524.7,105.9 523.0,104.9 521.3,103.9 519.7,102.9 518.0,102.0 516.4,101.0 514.8,100.1 513.1,99.2 511.5,98.3 509.9,97.5 508.3,96.7 506.7,95.9 505.1,95.1 503.5,94.4 501.9,93.7 500.3,93.0 498.8,92.3M636.4,216.9 634.8,214.5 633.1,212.1 631.4,209.8 629.8,207.5 628.1,205.2 626.4,202.9 624.7,200.6 623.0,198.4 621.3,196.1 619.6,193.9 617.9,191.7 616.2,189.6 614.5,187.4 612.8,185.3 611.1,183.2 609.3,181.1 607.6,179.0 605.9,176.9 604.2,174.9 602.4,172.9 600.7,170.9 599.0,168.9 597.2,166.9 595.5,165.0 593.8,163.1 592.0,161.2 590.3,159.3 588.6,157.5 586.8,155.6 585.1,153.8 583.3,152.0 581.6,150.2 579.8,148.5 578.1,146.8 576.4,145.0 574.6,143.4 572.9,141.7 571.1,140.0 569.4,138.4 567.7,136.8 565.9,135.2 564.2,133.7 562.5,132.1 560.7,130.6 559.0,129.1 557.3,127.7 555.5,126.2 553.8,124.8 552.1,123.4 550.4,122.0 548.7,120.6 546.9,119.3 545.2,118.0 543.5,116.7 541.8,115.4 540.1,114.2 538.4,113.0 536.7,111.8 535.0,110.6 533.4,109.5 531.7,108.3 530.0,107.2 528.3,106.2 526.7,105.1 525.0,104.1 523.3,103.1 521.7,102.1 520.0,101.1 518.4,100.2 516.8,99.3 515.1,98.4 513.5,97.5 511.9,96.7 510.3,95.9 508.7,95.1 507.1,94.3 505.5,93.6 503.9,92.9 502.3,92.2 500.7,91.6M638.4,215.7 636.7,213.3 635.1,211.0 633.4,208.6 631.7,206.3 630.0,204.0 628.4,201.7 626.7,199.5 625.0,197.2 623.3,195.0 621.6,192.8 619.9,190.6 618.2,188.4 616.5,186.3 614.7,184.2 613.0,182.1 611.3,180.0 609.6,177.9 607.9,175.8 606.1,173.8 604.4,171.8 602.7,169.8 600.9,167.8 599.2,165.9 597.5,163.9 595.7,162.0 594.0,160.1 592.3,158.3 590.5,156.4 588.8,154.6 587.1,152.8 585.3,151.0 583.6,149.2 581.8,147.5 580.1,145.7 578.3,144.0 576.6,142.4 574.9,140.7 573.1,139.1 571.4,137.4 569.6,135.8 567.9,134.3 566.2,132.7 564.4,131.2 562.7,129.7 561.0,128.2 559.3,126.7 557.5,125.3 555.8,123.9 554.1,122.5 552.4,121.1 550.6,119.7 548.9,118.4 547.2,117.1 545.5,115.8 543.8,114.5 542.1,113.3 540.4,112.1 538.7,110.9 537.0,109.7 535.3,108.6 533.7,107.5 532.0,106.4 530.3,105.3 528.6,104.2 527.0,103.2 525.3,102.2 523.7,101.2 522.0,100.3 520.4,99.4 518.7,98.5 517.1,97.6 515.5,96.7 513.9,95.9 512.2,95.1 510.6,94.3 509.0,93.6 507.4,92.8 505.9,92.1 504.3,91.4 502.7,90.8M640.3,214.5 638.7,212.2 637.0,209.8 635.3,207.5 633.7,205.2 632.0,202.9 630.3,200.6 628.6,198.3 626.9,196.1 625.2,193.9 623.5,191.7 621.8,189.5 620.1,187.3 618.4,185.2 616.7,183.1 615.0,181.0 613.3,178.9 611.6,176.8 609.8,174.8 608.1,172.7 606.4,170.7 604.7,168.7 602.9,166.8 601.2,164.8 599.5,162.9 597.7,161.0 596.0,159.1 594.2,157.2 592.5,155.4 590.8,153.6 589.0,151.8 587.3,150.0 585.5,148.2 583.8,146.5 582.1,144.7 580.3,143.0 578.6,141.4 576.8,139.7 575.1,138.1 573.4,136.5 571.6,134.9 569.9,133.3 568.2,131.7 566.4,130.2 564.7,128.7 563.0,127.2 561.2,125.8 559.5,124.3 557.8,122.9 556.1,121.5 554.3,120.2 552.6,118.8 550.9,117.5 549.2,116.2 547.5,114.9 545.8,113.7 544.1,112.4 542.4,111.2 540.7,110.0 539.0,108.9 537.3,107.7 535.6,106.6 534.0,105.5 532.3,104.4 530.6,103.4 528.9,102.4 527.3,101.4 525.6,100.4 524.0,99.5 522.3,98.5 520.7,97.6 519.1,96.8 517.4,95.9 515.8,95.1 514.2,94.3 512.6,93.5 511.0,92.8 509.4,92.1 507.8,91.4 506.2,90.7 504.7,90.0M642.3,213.4 640.6,211.0 638.9,208.7 637.3,206.3 635.6,204.0 633.9,201.7 632.2,199.5 630.6,197.2 628.9,195.0 627.2,192.8 625.5,190.6 623.8,188.4 622.1,186.2 620.4,184.1 618.7,182.0 616.9,179.9 615.2,177.8 613.5,175.7 611.8,173.7 610.1,171.7 608.3,169.7 606.6,167.7 604.9,165.7 603.2,163.8 601.4,161.8 599.7,159.9 598.0,158.1 596.2,156.2 594.5,154.4 592.7,152.5 591.0,150.7 589.3,149.0 587.5,147.2 585.8,145.5 584.0,143.7 582.3,142.0 580.6,140.4 578.8,138.7 577.1,137.1 575.3,135.5 573.6,133.9 571.9,132.3 570.1,130.8 568.4,129.3 566.7,127.8 564.9,126.3 563.2,124.8 561.5,123.4 559.8,122.0 558.0,120.6 556.3,119.2 554.6,117.9 552.9,116.6 551.2,115.3 549.5,114.0 547.8,112.8 546.1,111.5 544.4,110.3 542.7,109.1 541.0,108.0 539.3,106.9 537.6,105.7 535.9,104.7 534.3,103.6 532.6,102.6 530.9,101.5 529.3,100.6 527.6,99.6 526.0,98.6 524.3,97.7 522.7,96.8 521.0,96.0 519.4,95.1 517.8,94.3 516.2,93.5 514.6,92.7 513.0,92.0 511.4,91.3 509.8,90.6 508.2,89.9 506.6,89.3M644.2,212.2 642.5,209.8 640.9,207.5 639.2,205.2 637.5,202.9 635.9,200.6 634.2,198.3 632.5,196.1 630.8,193.8 629.1,191.6 627.4,189.4 625.7,187.3 624.0,185.1 622.3,183.0 620.6,180.9 618.9,178.8 617.2,176.7 615.5,174.6 613.7,172.6 612.0,170.6 610.3,168.6 608.6,166.6 606.8,164.6 605.1,162.7 603.4,160.8 601.7,158.9 599.9,157.0 598.2,155.2 596.4,153.3 594.7,151.5 593.0,149.7 591.2,147.9 589.5,146.2 587.7,144.5 586.0,142.7 584.3,141.1 582.5,139.4 580.8,137.7 579.1,136.1 577.3,134.5 575.6,132.9 573.8,131.4 572.1,129.8 570.4,128.3 568.6,126.8 566.9,125.4 565.2,123.9 563.5,122.5 561.7,121.1 560.0,119.7 558.3,118.3 556.6,117.0 554.9,115.7 553.1,114.4 551.4,113.1 549.7,111.9 548.0,110.7 546.3,109.5 544.6,108.3 542.9,107.1 541.3,106.0 539.6,104.9 537.9,103.8 536.2,102.8 534.6,101.7 532.9,100.7 531.2,99.7 529.6,98.8 527.9,97.8 526.3,96.9 524.6,96.0 523.0,95.2 521.4,94.3 519.8,93.5 518.1,92.7 516.5,92.0 514.9,91.2 513.3,90.5 511.7,89.8 510.2,89.2 508.6,88.5M646.1,211.0 644.5,208.7 642.8,206.4 641.1,204.0 639.5,201.7 637.8,199.5 636.1,197.2 634.4,194.9 632.7,192.7 631.1,190.5 629.4,188.3 627.7,186.2 626.0,184.0 624.3,181.9 622.6,179.8 620.8,177.7 619.1,175.6 617.4,173.6 615.7,171.5 614.0,169.5 612.3,167.5 610.5,165.5 608.8,163.6 607.1,161.7 605.3,159.7 603.6,157.9 601.9,156.0 600.1,154.1 598.4,152.3 596.7,150.5 594.9,148.7 593.2,146.9 591.5,145.2 589.7,143.5 588.0,141.7 586.2,140.1 584.5,138.4 582.8,136.8 581.0,135.1 579.3,133.5 577.5,132.0 575.8,130.4 574.1,128.9 572.3,127.4 570.6,125.9 568.9,124.4 567.2,123.0 565.4,121.5 563.7,120.1 562.0,118.8 560.3,117.4 558.5,116.1 556.8,114.8 555.1,113.5 553.4,112.2 551.7,111.0 550.0,109.8 548.3,108.6 546.6,107.4 544.9,106.3 543.2,105.1 541.5,104.0 539.9,103.0 538.2,101.9 536.5,100.9 534.8,99.9 533.2,98.9 531.5,98.0 529.9,97.0 528.2,96.1 526.6,95.2 525.0,94.4 523.3,93.5 521.7,92.7 520.1,92.0 518.5,91.2 516.9,90.5 515.3,89.8 513.7,89.1 512.1,88.4 510.5,87.8M648.0,209.9 646.4,207.5 644.7,205.2 643.0,202.9 641.4,200.6 639.7,198.3 638.0,196.1 636.4,193.8 634.7,191.6 633.0,189.4 631.3,187.2 629.6,185.0 627.9,182.9 626.2,180.8 624.5,178.7 622.8,176.6 621.1,174.5 619.4,172.5 617.6,170.4 615.9,168.4 614.2,166.4 612.5,164.5 610.7,162.5 609.0,160.6 607.3,158.7 605.6,156.8 603.8,154.9 602.1,153.1 600.4,151.3 598.6,149.5 596.9,147.7 595.1,145.9 593.4,144.2 591.7,142.5 589.9,140.8 588.2,139.1 586.5,137.4 584.7,135.8 583.0,134.2 581.2,132.6 579.5,131.0 577.8,129.5 576.0,127.9 574.3,126.4 572.6,124.9 570.8,123.5 569.1,122.0 567.4,120.6 565.7,119.2 563.9,117.9 562.2,116.5 560.5,115.2 558.8,113.9 557.1,112.6 555.4,111.3 553.7,110.1 552.0,108.9 550.3,107.7 548.6,106.6 546.9,105.4 545.2,104.3 543.5,103.2 541.8,102.1 540.1,101.1 538.5,100.1 536.8,99.1 535.1,98.1 533.5,97.1 531.8,96.2 530.2,95.3 528.6,94.4 526.9,93.6 525.3,92.8 523.7,92.0 522.0,91.2 520.4,90.4 518.8,89.7 517.2,89.0 515.6,88.3 514.1,87.7 512.5,87.0M649.9,208.7 648.3,206.4 646.6,204.0 645.0,201.7 643.3,199.5 641.6,197.2 640.0,194.9 638.3,192.7 636.6,190.5 634.9,188.3 633.2,186.1 631.5,183.9 629.8,181.8 628.1,179.7 626.4,177.6 624.7,175.5 623.0,173.4 621.3,171.4 619.6,169.4 617.9,167.4 616.1,165.4 614.4,163.4 612.7,161.5 611.0,159.6 609.2,157.7 607.5,155.8 605.8,153.9 604.0,152.1 602.3,150.3 600.6,148.5 598.8,146.7 597.1,144.9 595.4,143.2 593.6,141.5 591.9,139.8 590.1,138.1 588.4,136.4 586.7,134.8 584.9,133.2 583.2,131.6 581.5,130.0 579.7,128.5 578.0,127.0 576.3,125.5 574.5,124.0 572.8,122.6 571.1,121.1 569.3,119.7 567.6,118.3 565.9,117.0 564.2,115.6 562.5,114.3 560.7,113.0 559.0,111.7 557.3,110.5 555.6,109.2 553.9,108.0 552.2,106.9 550.5,105.7 548.8,104.6 547.1,103.4 545.5,102.4 543.8,101.3 542.1,100.3 540.4,99.2 538.8,98.2 537.1,97.3 535.4,96.3 533.8,95.4 532.1,94.5 530.5,93.6 528.9,92.8 527.2,92.0 525.6,91.2 524.0,90.4 522.4,89.7 520.8,88.9 519.2,88.2 517.6,87.6 516.0,86.9 514.4,86.3M651.8,207.6 650.2,205.2 648.5,202.9 646.9,200.6 645.2,198.3 643.5,196.0 641.9,193.8 640.2,191.6 638.5,189.4 636.8,187.2 635.1,185.0 633.5,182.8 631.8,180.7 630.1,178.6 628.4,176.5 626.6,174.4 624.9,172.4 623.2,170.3 621.5,168.3 619.8,166.3 618.1,164.3 616.4,162.4 614.6,160.4 612.9,158.5 611.2,156.6 609.4,154.7 607.7,152.9 606.0,151.0 604.3,149.2 602.5,147.4 600.8,145.7 599.0,143.9 597.3,142.2 595.6,140.5 593.8,138.8 592.1,137.1 590.4,135.5 588.6,133.8 586.9,132.2 585.2,130.7 583.4,129.1 581.7,127.6 579.9,126.0 578.2,124.5 576.5,123.1 574.8,121.6 573.0,120.2 571.3,118.8 569.6,117.4 567.9,116.0 566.1,114.7 564.4,113.4 562.7,112.1 561.0,110.8 559.3,109.6 557.6,108.4 555.9,107.2 554.2,106.0 552.5,104.8 550.8,103.7 549.1,102.6 547.4,101.5 545.7,100.5 544.1,99.4 542.4,98.4 540.7,97.4 539.0,96.5 537.4,95.5 535.7,94.6 534.1,93.7 532.4,92.9 530.8,92.0 529.2,91.2 527.6,90.4 525.9,89.6 524.3,88.9 522.7,88.2 521.1,87.5 519.5,86.8 517.9,86.2 516.4,85.6M653.7,206.4 652.1,204.1 650.4,201.8 648.8,199.5 647.1,197.2 645.5,194.9 643.8,192.7 642.1,190.4 640.4,188.2 638.7,186.1 637.1,183.9 635.4,181.7 633.7,179.6 632.0,177.5 630.3,175.4 628.6,173.3 626.9,171.3 625.2,169.2 623.4,167.2 621.7,165.2 620.0,163.3 618.3,161.3 616.6,159.4 614.8,157.5 613.1,155.6 611.4,153.7 609.7,151.9 607.9,150.0 606.2,148.2 604.5,146.4 602.7,144.7 601.0,142.9 599.3,141.2 597.5,139.5 595.8,137.8 594.0,136.1 592.3,134.5 590.6,132.9 588.8,131.3 587.1,129.7 585.4,128.1 583.6,126.6 581.9,125.1 580.2,123.6 578.4,122.1 576.7,120.7 575.0,119.3 573.2,117.9 571.5,116.5 569.8,115.1 568.1,113.8 566.4,112.5 564.6,111.2 562.9,110.0 561.2,108.7 559.5,107.5 557.8,106.3 556.1,105.1 554.4,104.0 552.7,102.9 551.0,101.8 549.4,100.7 547.7,99.6 546.0,98.6 544.3,97.6 542.7,96.6 541.0,95.7 539.3,94.7 537.7,93.8 536.0,92.9 534.4,92.1 532.8,91.2 531.1,90.4 529.5,89.6 527.9,88.9 526.3,88.2 524.7,87.4 523.1,86.8 521.5,86.1 519.9,85.5 518.3,84.9M655.6,205.3 654.0,202.9 652.3,200.6 650.7,198.3 649.0,196.0 647.4,193.8 645.7,191.5 644.0,189.3 642.3,187.1 640.7,184.9 639.0,182.8 637.3,180.6 635.6,178.5 633.9,176.4 632.2,174.3 630.5,172.3 628.8,170.2 627.1,168.2 625.4,166.2 623.6,164.2 621.9,162.2 620.2,160.3 618.5,158.3 616.8,156.4 615.0,154.5 613.3,152.7 611.6,150.8 609.9,149.0 608.1,147.2 606.4,145.4 604.7,143.7 602.9,141.9 601.2,140.2 599.5,138.5 597.7,136.8 596.0,135.2 594.2,133.5 592.5,131.9 590.8,130.3 589.0,128.7 587.3,127.2 585.6,125.7 583.8,124.2 582.1,122.7 580.4,121.2 578.6,119.8 576.9,118.4 575.2,117.0 573.5,115.6 571.7,114.2 570.0,112.9 568.3,111.6 566.6,110.3 564.9,109.1 563.2,107.8 561.5,106.6 559.8,105.4 558.1,104.3 556.4,103.1 554.7,102.0 553.0,100.9 551.3,99.9 549.6,98.8 547.9,97.8 546.3,96.8 544.6,95.8 542.9,94.9 541.3,93.9 539.6,93.0 538.0,92.2 536.3,91.3 534.7,90.5 533.1,89.7 531.4,88.9 529.8,88.1 528.2,87.4 526.6,86.7 525.0,86.0 523.4,85.4 521.8,84.7 520.2,84.1M657.5,204.1 655.9,201.8 654.2,199.5 652.6,197.2 650.9,194.9 649.2,192.7 647.6,190.4 645.9,188.2 644.2,186.0 642.6,183.8 640.9,181.7 639.2,179.5 637.5,177.4 635.8,175.3 634.1,173.2 632.4,171.2 630.7,169.1 629.0,167.1 627.3,165.1 625.6,163.1 623.9,161.2 622.1,159.2 620.4,157.3 618.7,155.4 617.0,153.5 615.2,151.7 613.5,149.8 611.8,148.0 610.1,146.2 608.3,144.4 606.6,142.7 604.9,140.9 603.1,139.2 601.4,137.5 599.6,135.8 597.9,134.2 596.2,132.6 594.4,130.9 592.7,129.4 591.0,127.8 589.2,126.3 587.5,124.7 585.8,123.2 584.0,121.8 582.3,120.3 580.6,118.9 578.9,117.5 577.1,116.1 575.4,114.7 573.7,113.4 572.0,112.0 570.2,110.7 568.5,109.5 566.8,108.2 565.1,107.0 563.4,105.8 561.7,104.6 560.0,103.4 558.3,102.3 556.6,101.2 554.9,100.1 553.2,99.0 551.6,98.0 549.9,97.0 548.2,96.0 546.5,95.0 544.9,94.1 543.2,93.1 541.6,92.2 539.9,91.4 538.3,90.5 536.6,89.7 535.0,88.9 533.4,88.1 531.7,87.4 530.1,86.7 528.5,86.0 526.9,85.3 525.3,84.6 523.7,84.0 522.1,83.4M659.4,203.0 657.7,200.6 656.1,198.3 654.4,196.0 652.8,193.8 651.1,191.5 649.5,189.3 647.8,187.1 646.1,184.9 644.5,182.7 642.8,180.6 641.1,178.4 639.4,176.3 637.7,174.2 636.0,172.2 634.3,170.1 632.6,168.1 630.9,166.0 629.2,164.0 627.5,162.1 625.8,160.1 624.0,158.2 622.3,156.3 620.6,154.4 618.9,152.5 617.2,150.6 615.4,148.8 613.7,147.0 612.0,145.2 610.2,143.4 608.5,141.7 606.8,139.9 605.0,138.2 603.3,136.5 601.6,134.9 599.8,133.2 598.1,131.6 596.4,130.0 594.6,128.4 592.9,126.8 591.2,125.3 589.4,123.8 587.7,122.3 586.0,120.8 584.2,119.4 582.5,118.0 580.8,116.5 579.1,115.2 577.3,113.8 575.6,112.5 573.9,111.1 572.2,109.9 570.5,108.6 568.8,107.3 567.0,106.1 565.3,104.9 563.6,103.7 561.9,102.6 560.2,101.5 558.5,100.4 556.9,99.3 555.2,98.2 553.5,97.2 551.8,96.2 550.1,95.2 548.5,94.2 546.8,93.3 545.1,92.4 543.5,91.5 541.8,90.6 540.2,89.8 538.6,88.9 536.9,88.1 535.3,87.4 533.7,86.6 532.1,85.9 530.4,85.2 528.8,84.6 527.2,83.9 525.7,83.3 524.1,82.7M661.2,201.8 659.6,199.5 658.0,197.2 656.3,194.9 654.7,192.6 653.0,190.4 651.4,188.2 649.7,186.0 648.0,183.8 646.3,181.6 644.7,179.5 643.0,177.3 641.3,175.2 639.6,173.1 637.9,171.1 636.2,169.0 634.5,167.0 632.8,165.0 631.1,163.0 629.4,161.0 627.7,159.1 626.0,157.1 624.2,155.2 622.5,153.3 620.8,151.5 619.1,149.6 617.3,147.8 615.6,146.0 613.9,144.2 612.2,142.4 610.4,140.7 608.7,138.9 607.0,137.2 605.2,135.6 603.5,133.9 601.8,132.3 600.0,130.6 598.3,129.0 596.6,127.5 594.8,125.9 593.1,124.4 591.4,122.9 589.6,121.4 587.9,119.9 586.2,118.5 584.4,117.0 582.7,115.6 581.0,114.3 579.3,112.9 577.5,111.6 575.8,110.3 574.1,109.0 572.4,107.7 570.7,106.5 569.0,105.3 567.3,104.1 565.6,102.9 563.9,101.7 562.2,100.6 560.5,99.5 558.8,98.4 557.1,97.4 555.4,96.4 553.7,95.4 552.1,94.4 550.4,93.4 548.7,92.5 547.1,91.6 545.4,90.7 543.8,89.8 542.1,89.0 540.5,88.2 538.8,87.4 537.2,86.6 535.6,85.9 534.0,85.2 532.4,84.5 530.8,83.8 529.2,83.2 527.6,82.6 526.0,82.0M663.1,200.7 661.5,198.3 659.8,196.0 658.2,193.8 656.5,191.5 654.9,189.3 653.2,187.1 651.6,184.9 649.9,182.7 648.2,180.5 646.5,178.4 644.9,176.3 643.2,174.1 641.5,172.1 639.8,170.0 638.1,168.0 636.4,165.9 634.7,163.9 633.0,161.9 631.3,160.0 629.6,158.0 627.9,156.1 626.1,154.2 624.4,152.3 622.7,150.4 621.0,148.6 619.3,146.8 617.5,145.0 615.8,143.2 614.1,141.4 612.3,139.7 610.6,138.0 608.9,136.3 607.1,134.6 605.4,132.9 603.7,131.3 601.9,129.7 600.2,128.1 598.5,126.5 596.7,125.0 595.0,123.4 593.3,121.9 591.6,120.4 589.8,119.0 588.1,117.5 586.4,116.1 584.6,114.7 582.9,113.4 581.2,112.0 579.5,110.7 577.8,109.4 576.0,108.1 574.3,106.9 572.6,105.6 570.9,104.4 569.2,103.2 567.5,102.1 565.8,100.9 564.1,99.8 562.4,98.7 560.7,97.6 559.0,96.6 557.3,95.6 555.7,94.6 554.0,93.6 552.3,92.6 550.7,91.7 549.0,90.8 547.3,89.9 545.7,89.1 544.0,88.2 542.4,87.4 540.8,86.6 539.1,85.9 537.5,85.2 535.9,84.4 534.3,83.8 532.7,83.1 531.1,82.5 529.5,81.9 527.9,81.3M665.0,199.5 663.3,197.2 661.7,194.9 660.1,192.6 658.4,190.4 656.8,188.2 655.1,185.9 653.4,183.8 651.8,181.6 650.1,179.4 648.4,177.3 646.8,175.2 645.1,173.1 643.4,171.0 641.7,168.9 640.0,166.9 638.3,164.9 636.6,162.9 634.9,160.9 633.2,158.9 631.5,157.0 629.8,155.1 628.0,153.2 626.3,151.3 624.6,149.4 622.9,147.6 621.2,145.8 619.4,144.0 617.7,142.2 616.0,140.4 614.3,138.7 612.5,137.0 610.8,135.3 609.1,133.6 607.3,132.0 605.6,130.3 603.9,128.7 602.1,127.1 600.4,125.6 598.7,124.0 596.9,122.5 595.2,121.0 593.5,119.5 591.7,118.1 590.0,116.6 588.3,115.2 586.6,113.8 584.8,112.5 583.1,111.1 581.4,109.8 579.7,108.5 578.0,107.2 576.2,106.0 574.5,104.8 572.8,103.6 571.1,102.4 569.4,101.2 567.7,100.1 566.0,99.0 564.3,97.9 562.6,96.8 560.9,95.8 559.3,94.7 557.6,93.8 555.9,92.8 554.2,91.8 552.6,90.9 550.9,90.0 549.3,89.1 547.6,88.3 546.0,87.5 544.3,86.7 542.7,85.9 541.0,85.1 539.4,84.4 537.8,83.7 536.2,83.0 534.6,82.4 533.0,81.8 531.4,81.2 529.8,80.6M666.8,198.4 665.2,196.1 663.6,193.8 661.9,191.5 660.3,189.3 658.6,187.0 657.0,184.8 655.3,182.6 653.6,180.5 652.0,178.3 650.3,176.2 648.6,174.1 646.9,172.0 645.3,169.9 643.6,167.8 641.9,165.8 640.2,163.8 638.5,161.8 636.8,159.8 635.1,157.9 633.4,155.9 631.6,154.0 629.9,152.1 628.2,150.2 626.5,148.4 624.8,146.6 623.1,144.7 621.3,143.0 619.6,141.2 617.9,139.4 616.2,137.7 614.4,136.0 612.7,134.3 611.0,132.6 609.2,131.0 607.5,129.4 605.8,127.8 604.0,126.2 602.3,124.6 600.6,123.1 598.8,121.6 597.1,120.1 595.4,118.6 593.7,117.2 591.9,115.7 590.2,114.3 588.5,112.9 586.7,111.6 585.0,110.3 583.3,108.9 581.6,107.6 579.9,106.4 578.2,105.1 576.4,103.9 574.7,102.7 573.0,101.5 571.3,100.4 569.6,99.2 567.9,98.1 566.2,97.1 564.5,96.0 562.9,95.0 561.2,93.9 559.5,93.0 557.8,92.0 556.1,91.1 554.5,90.1 552.8,89.2 551.2,88.4 549.5,87.5 547.9,86.7 546.2,85.9 544.6,85.2 543.0,84.4 541.3,83.7 539.7,83.0 538.1,82.3 536.5,81.7 534.9,81.1 533.3,80.5 531.7,79.9M668.7,197.2 667.0,194.9 665.4,192.6 663.8,190.4 662.1,188.1 660.5,185.9 658.8,183.7 657.2,181.5 655.5,179.4 653.8,177.2 652.2,175.1 650.5,173.0 648.8,170.9 647.1,168.8 645.4,166.8 643.8,164.8 642.1,162.7 640.4,160.7 638.7,158.8 637.0,156.8 635.2,154.9 633.5,153.0 631.8,151.1 630.1,149.2 628.4,147.4 626.7,145.6 625.0,143.7 623.2,142.0 621.5,140.2 619.8,138.4 618.1,136.7 616.3,135.0 614.6,133.3 612.9,131.7 611.1,130.0 609.4,128.4 607.7,126.8 605.9,125.2 604.2,123.7 602.5,122.2 600.7,120.7 599.0,119.2 597.3,117.7 595.6,116.3 593.8,114.8 592.1,113.4 590.4,112.1 588.7,110.7 586.9,109.4 585.2,108.1 583.5,106.8 581.8,105.5 580.1,104.3 578.4,103.1 576.6,101.9 574.9,100.7 573.2,99.5 571.5,98.4 569.8,97.3 568.1,96.2 566.5,95.2 564.8,94.2 563.1,93.2 561.4,92.2 559.7,91.2 558.1,90.3 556.4,89.4 554.7,88.5 553.1,87.6 551.4,86.8 549.8,86.0 548.1,85.2 546.5,84.4 544.9,83.7 543.2,83.0 541.6,82.3 540.0,81.6 538.4,81.0 536.8,80.4 535.2,79.8 533.6,79.2M670.5,196.1 668.9,193.8 667.3,191.5 665.6,189.3 664.0,187.0 662.3,184.8 660.7,182.6 659.0,180.4 657.4,178.3 655.7,176.1 654.0,174.0 652.4,171.9 650.7,169.8 649.0,167.8 647.3,165.7 645.6,163.7 643.9,161.7 642.2,159.7 640.5,157.7 638.8,155.8 637.1,153.9 635.4,152.0 633.7,150.1 632.0,148.2 630.3,146.4 628.6,144.5 626.8,142.7 625.1,141.0 623.4,139.2 621.7,137.5 619.9,135.7 618.2,134.0 616.5,132.4 614.8,130.7 613.0,129.1 611.3,127.5 609.6,125.9 607.8,124.3 606.1,122.8 604.4,121.2 602.6,119.7 600.9,118.2 599.2,116.8 597.5,115.3 595.7,113.9 594.0,112.5 592.3,111.2 590.6,109.8 588.8,108.5 587.1,107.2 585.4,105.9 583.7,104.7 582.0,103.4 580.3,102.2 578.6,101.0 576.8,99.9 575.1,98.7 573.4,97.6 571.7,96.5 570.0,95.4 568.4,94.4 566.7,93.4 565.0,92.4 563.3,91.4 561.6,90.4 560.0,89.5 558.3,88.6 556.6,87.7 555.0,86.9 553.3,86.0 551.7,85.2 550.0,84.4 548.4,83.7 546.8,83.0 545.1,82.2 543.5,81.6 541.9,80.9 540.3,80.3 538.7,79.7 537.1,79.1 535.5,78.5M672.4,194.9 670.7,192.7 669.1,190.4 667.5,188.1 665.8,185.9 664.2,183.7 662.5,181.5 660.9,179.3 659.2,177.2 657.6,175.0 655.9,172.9 654.2,170.8 652.5,168.7 650.9,166.7 649.2,164.6 647.5,162.6 645.8,160.6 644.1,158.6 642.4,156.7 640.7,154.7 639.0,152.8 637.3,150.9 635.6,149.1 633.9,147.2 632.2,145.4 630.4,143.5 628.7,141.7 627.0,140.0 625.3,138.2 623.6,136.5 621.8,134.8 620.1,133.1 618.4,131.4 616.7,129.8 614.9,128.1 613.2,126.5 611.5,124.9 609.7,123.4 608.0,121.8 606.3,120.3 604.5,118.8 602.8,117.3 601.1,115.9 599.4,114.4 597.6,113.0 595.9,111.7 594.2,110.3 592.5,108.9 590.7,107.6 589.0,106.3 587.3,105.1 585.6,103.8 583.9,102.6 582.2,101.4 580.5,100.2 578.7,99.0 577.0,97.9 575.3,96.8 573.6,95.7 571.9,94.6 570.3,93.6 568.6,92.6 566.9,91.6 565.2,90.6 563.5,89.7 561.9,88.7 560.2,87.8 558.5,87.0 556.9,86.1 555.2,85.3 553.6,84.5 551.9,83.7 550.3,83.0 548.7,82.2 547.0,81.5 545.4,80.9 543.8,80.2 542.2,79.6 540.6,79.0 539.0,78.4 537.4,77.8M507.1,291.2 509.4,290.0 511.7,288.7 514.0,287.5 516.2,286.2 518.5,284.9 520.8,283.7 523.0,282.4 525.3,281.2 527.5,279.9 529.7,278.7 532.0,277.4 534.2,276.2 536.4,274.9 538.6,273.7 540.8,272.4 543.0,271.2 545.2,270.0 547.4,268.7 549.6,267.5 551.8,266.2 554.0,265.0 556.1,263.8 558.3,262.5 560.5,261.3 562.6,260.1 564.8,258.9 566.9,257.6 569.0,256.4 571.2,255.2 573.3,254.0 575.4,252.7 577.5,251.5 579.7,250.3 581.8,249.1 583.9,247.9 586.0,246.7 588.0,245.4 590.1,244.2 592.2,243.0 594.3,241.8 596.3,240.6 598.4,239.4 600.5,238.2 602.5,237.0 604.5,235.8 606.6,234.6 608.6,233.4 610.6,232.2 612.7,231.0 614.7,229.9 616.7,228.7 618.7,227.5 620.7,226.3 622.7,225.1 624.7,223.9 626.6,222.7 628.6,221.6 630.6,220.4 632.5,219.2 634.5,218.0 636.4,216.9 638.4,215.7 640.3,214.5 642.3,213.4 644.2,212.2 646.1,211.0 648.0,209.9 649.9,208.7 651.8,207.6 653.7,206.4 655.6,205.3 657.5,204.1 659.4,203.0 661.2,201.8 663.1,200.7 665.0,199.5 666.8,198.4 668.7,197.2 670.5,196.1 672.4,194.9M505.4,288.7 507.7,287.4 510.0,286.1 512.2,284.9 514.5,283.6 516.8,282.4 519.0,281.1 521.3,279.9 523.5,278.6 525.8,277.4 528.0,276.1 530.2,274.9 532.5,273.6 534.7,272.4 536.9,271.1 539.1,269.9 541.3,268.7 543.5,267.4 545.7,266.2 547.9,264.9 550.1,263.7 552.2,262.5 554.4,261.3 556.6,260.0 558.7,258.8 560.9,257.6 563.0,256.3 565.2,255.1 567.3,253.9 569.5,252.7 571.6,251.5 573.7,250.2 575.8,249.0 577.9,247.8 580.1,246.6 582.2,245.4 584.2,244.2 586.3,243.0 588.4,241.8 590.5,240.6 592.6,239.4 594.6,238.2 596.7,237.0 598.8,235.8 600.8,234.6 602.9,233.4 604.9,232.2 606.9,231.0 609.0,229.8 611.0,228.6 613.0,227.4 615.0,226.2 617.0,225.1 619.0,223.9 621.0,222.7 623.0,221.5 625.0,220.3 626.9,219.2 628.9,218.0 630.9,216.8 632.8,215.7 634.8,214.5 636.7,213.3 638.7,212.2 640.6,211.0 642.5,209.8 644.5,208.7 646.4,207.5 648.3,206.4 650.2,205.2 652.1,204.1 654.0,202.9 655.9,201.8 657.7,200.6 659.6,199.5 661.5,198.3 663.3,197.2 665.2,196.1 667.0,194.9 668.9,193.8 670.7,192.7M503.7,286.1 506.0,284.9 508.2,283.6 510.5,282.3 512.8,281.1 515.0,279.8 517.3,278.6 519.5,277.3 521.8,276.1 524.0,274.8 526.3,273.6 528.5,272.3 530.7,271.1 532.9,269.9 535.2,268.6 537.4,267.4 539.6,266.1 541.8,264.9 544.0,263.7 546.2,262.4 548.3,261.2 550.5,260.0 552.7,258.8 554.9,257.5 557.0,256.3 559.2,255.1 561.3,253.9 563.5,252.6 565.6,251.4 567.7,250.2 569.9,249.0 572.0,247.8 574.1,246.6 576.2,245.3 578.3,244.1 580.4,242.9 582.5,241.7 584.6,240.5 586.7,239.3 588.8,238.1 590.9,236.9 592.9,235.7 595.0,234.5 597.1,233.3 599.1,232.1 601.2,231.0 603.2,229.8 605.2,228.6 607.3,227.4 609.3,226.2 611.3,225.0 613.3,223.8 615.3,222.7 617.3,221.5 619.3,220.3 621.3,219.1 623.3,218.0 625.3,216.8 627.2,215.6 629.2,214.5 631.2,213.3 633.1,212.1 635.1,211.0 637.0,209.8 638.9,208.7 640.9,207.5 642.8,206.4 644.7,205.2 646.6,204.0 648.5,202.9 650.4,201.8 652.3,200.6 654.2,199.5 656.1,198.3 658.0,197.2 659.8,196.0 661.7,194.9 663.6,193.8 665.4,192.6 667.3,191.5 669.1,190.4M501.9,283.6 504.2,282.3 506.5,281.1 508.8,279.8 511.0,278.6 513.3,277.3 515.6,276.1 517.8,274.8 520.1,273.6 522.3,272.3 524.5,271.1 526.8,269.8 529.0,268.6 531.2,267.3 533.4,266.1 535.6,264.9 537.8,263.6 540.0,262.4 542.2,261.2 544.4,259.9 546.6,258.7 548.8,257.5 551.0,256.3 553.1,255.0 555.3,253.8 557.5,252.6 559.6,251.4 561.8,250.2 563.9,249.0 566.0,247.7 568.2,246.5 570.3,245.3 572.4,244.1 574.5,242.9 576.6,241.7 578.7,240.5 580.8,239.3 582.9,238.1 585.0,236.9 587.1,235.7 589.2,234.5 591.2,233.3 593.3,232.1 595.4,230.9 597.4,229.7 599.5,228.5 601.5,227.4 603.5,226.2 605.6,225.0 607.6,223.8 609.6,222.6 611.6,221.5 613.6,220.3 615.6,219.1 617.6,217.9 619.6,216.8 621.6,215.6 623.6,214.4 625.6,213.3 627.5,212.1 629.5,211.0 631.4,209.8 633.4,208.6 635.3,207.5 637.3,206.3 639.2,205.2 641.1,204.0 643.0,202.9 645.0,201.7 646.9,200.6 648.8,199.5 650.7,198.3 652.6,197.2 654.4,196.0 656.3,194.9 658.2,193.8 660.1,192.6 661.9,191.5 663.8,190.4 665.6,189.3 667.5,188.1M500.2,281.0 502.5,279.8 504.7,278.5 507.0,277.3 509.3,276.0 511.6,274.8 513.8,273.5 516.1,272.3 518.3,271.0 520.6,269.8 522.8,268.6 525.0,267.3 527.3,266.1 529.5,264.9 531.7,263.6 533.9,262.4 536.1,261.2 538.3,259.9 540.5,258.7 542.7,257.5 544.9,256.2 547.1,255.0 549.2,253.8 551.4,252.6 553.6,251.4 555.7,250.1 557.9,248.9 560.0,247.7 562.2,246.5 564.3,245.3 566.4,244.1 568.6,242.9 570.7,241.7 572.8,240.5 574.9,239.3 577.0,238.1 579.1,236.9 581.2,235.7 583.3,234.5 585.4,233.3 587.5,232.1 589.5,230.9 591.6,229.7 593.7,228.5 595.7,227.3 597.8,226.2 599.8,225.0 601.8,223.8 603.9,222.6 605.9,221.4 607.9,220.3 609.9,219.1 611.9,217.9 613.9,216.8 615.9,215.6 617.9,214.4 619.9,213.3 621.9,212.1 623.9,210.9 625.8,209.8 627.8,208.6 629.8,207.5 631.7,206.3 633.7,205.2 635.6,204.0 637.5,202.9 639.5,201.7 641.4,200.6 643.3,199.5 645.2,198.3 647.1,197.2 649.0,196.0 650.9,194.9 652.8,193.8 654.7,192.6 656.5,191.5 658.4,190.4 660.3,189.3 662.1,188.1 664.0,187.0 665.8,185.9M498.4,278.5 500.7,277.3 503.0,276.0 505.3,274.8 507.5,273.5 509.8,272.3 512.1,271.0 514.3,269.8 516.6,268.6 518.8,267.3 521.1,266.1 523.3,264.8 525.5,263.6 527.7,262.4 530.0,261.1 532.2,259.9 534.4,258.7 536.6,257.5 538.8,256.2 541.0,255.0 543.1,253.8 545.3,252.6 547.5,251.3 549.7,250.1 551.8,248.9 554.0,247.7 556.2,246.5 558.3,245.3 560.4,244.1 562.6,242.9 564.7,241.7 566.8,240.5 569.0,239.3 571.1,238.1 573.2,236.9 575.3,235.7 577.4,234.5 579.5,233.3 581.6,232.1 583.7,230.9 585.7,229.7 587.8,228.5 589.9,227.3 591.9,226.1 594.0,225.0 596.0,223.8 598.1,222.6 600.1,221.4 602.2,220.3 604.2,219.1 606.2,217.9 608.2,216.8 610.2,215.6 612.2,214.4 614.2,213.3 616.2,212.1 618.2,210.9 620.2,209.8 622.2,208.6 624.2,207.5 626.1,206.3 628.1,205.2 630.0,204.0 632.0,202.9 633.9,201.7 635.9,200.6 637.8,199.5 639.7,198.3 641.6,197.2 643.5,196.0 645.5,194.9 647.4,193.8 649.2,192.7 651.1,191.5 653.0,190.4 654.9,189.3 656.8,188.2 658.6,187.0 660.5,185.9 662.3,184.8 664.2,183.7M496.7,276.0 499.0,274.8 501.3,273.5 503.5,272.3 505.8,271.1 508.1,269.8 510.3,268.6 512.6,267.3 514.8,266.1 517.1,264.8 519.3,263.6 521.5,262.4 523.8,261.1 526.0,259.9 528.2,258.7 530.4,257.5 532.6,256.2 534.8,255.0 537.0,253.8 539.2,252.6 541.4,251.3 543.6,250.1 545.8,248.9 547.9,247.7 550.1,246.5 552.3,245.3 554.4,244.1 556.6,242.9 558.7,241.7 560.9,240.5 563.0,239.2 565.1,238.0 567.2,236.9 569.4,235.7 571.5,234.5 573.6,233.3 575.7,232.1 577.8,230.9 579.9,229.7 581.9,228.5 584.0,227.3 586.1,226.1 588.2,225.0 590.2,223.8 592.3,222.6 594.3,221.4 596.4,220.3 598.4,219.1 600.5,217.9 602.5,216.8 604.5,215.6 606.5,214.4 608.5,213.3 610.5,212.1 612.5,210.9 614.5,209.8 616.5,208.6 618.5,207.5 620.5,206.3 622.5,205.2 624.4,204.0 626.4,202.9 628.4,201.7 630.3,200.6 632.2,199.5 634.2,198.3 636.1,197.2 638.0,196.1 640.0,194.9 641.9,193.8 643.8,192.7 645.7,191.5 647.6,190.4 649.5,189.3 651.4,188.2 653.2,187.1 655.1,185.9 657.0,184.8 658.8,183.7 660.7,182.6 662.5,181.5M495.0,273.6 497.2,272.3 499.5,271.1 501.8,269.8 504.1,268.6 506.3,267.3 508.6,266.1 510.8,264.9 513.1,263.6 515.3,262.4 517.6,261.2 519.8,259.9 522.0,258.7 524.3,257.5 526.5,256.2 528.7,255.0 530.9,253.8 533.1,252.6 535.3,251.4 537.5,250.1 539.7,248.9 541.9,247.7 544.0,246.5 546.2,245.3 548.4,244.1 550.5,242.9 552.7,241.7 554.8,240.5 557.0,239.3 559.1,238.1 561.3,236.9 563.4,235.7 565.5,234.5 567.6,233.3 569.7,232.1 571.9,230.9 574.0,229.7 576.0,228.5 578.1,227.3 580.2,226.2 582.3,225.0 584.4,223.8 586.5,222.6 588.5,221.4 590.6,220.3 592.6,219.1 594.7,217.9 596.7,216.8 598.7,215.6 600.8,214.4 602.8,213.3 604.8,212.1 606.8,211.0 608.8,209.8 610.8,208.6 612.8,207.5 614.8,206.3 616.8,205.2 618.8,204.0 620.8,202.9 622.7,201.8 624.7,200.6 626.7,199.5 628.6,198.3 630.6,197.2 632.5,196.1 634.4,194.9 636.4,193.8 638.3,192.7 640.2,191.6 642.1,190.4 644.0,189.3 645.9,188.2 647.8,187.1 649.7,186.0 651.6,184.9 653.4,183.8 655.3,182.6 657.2,181.5 659.0,180.4 660.9,179.3M493.2,271.1 495.5,269.9 497.8,268.6 500.0,267.4 502.3,266.1 504.6,264.9 506.8,263.7 509.1,262.4 511.3,261.2 513.6,260.0 515.8,258.7 518.1,257.5 520.3,256.3 522.5,255.0 524.7,253.8 526.9,252.6 529.2,251.4 531.4,250.2 533.6,248.9 535.7,247.7 537.9,246.5 540.1,245.3 542.3,244.1 544.5,242.9 546.6,241.7 548.8,240.5 551.0,239.3 553.1,238.1 555.3,236.9 557.4,235.7 559.5,234.5 561.7,233.3 563.8,232.1 565.9,230.9 568.0,229.7 570.1,228.5 572.2,227.4 574.3,226.2 576.4,225.0 578.5,223.8 580.6,222.6 582.7,221.5 584.7,220.3 586.8,219.1 588.9,217.9 590.9,216.8 593.0,215.6 595.0,214.5 597.0,213.3 599.1,212.1 601.1,211.0 603.1,209.8 605.1,208.7 607.1,207.5 609.1,206.4 611.1,205.2 613.1,204.1 615.1,202.9 617.1,201.8 619.1,200.6 621.0,199.5 623.0,198.4 625.0,197.2 626.9,196.1 628.9,195.0 630.8,193.8 632.7,192.7 634.7,191.6 636.6,190.5 638.5,189.4 640.4,188.2 642.3,187.1 644.2,186.0 646.1,184.9 648.0,183.8 649.9,182.7 651.8,181.6 653.6,180.5 655.5,179.4 657.4,178.3 659.2,177.2M491.5,268.7 493.7,267.4 496.0,266.2 498.3,264.9 500.6,263.7 502.8,262.5 505.1,261.2 507.3,260.0 509.6,258.8 511.8,257.5 514.1,256.3 516.3,255.1 518.5,253.9 520.8,252.6 523.0,251.4 525.2,250.2 527.4,249.0 529.6,247.8 531.8,246.6 534.0,245.3 536.2,244.1 538.4,242.9 540.6,241.7 542.7,240.5 544.9,239.3 547.1,238.1 549.2,236.9 551.4,235.7 553.5,234.5 555.7,233.3 557.8,232.1 559.9,230.9 562.0,229.8 564.2,228.6 566.3,227.4 568.4,226.2 570.5,225.0 572.6,223.8 574.7,222.7 576.8,221.5 578.9,220.3 580.9,219.1 583.0,218.0 585.1,216.8 587.1,215.6 589.2,214.5 591.2,213.3 593.3,212.2 595.3,211.0 597.4,209.9 599.4,208.7 601.4,207.5 603.4,206.4 605.4,205.2 607.4,204.1 609.4,203.0 611.4,201.8 613.4,200.7 615.4,199.5 617.4,198.4 619.3,197.3 621.3,196.1 623.3,195.0 625.2,193.9 627.2,192.8 629.1,191.6 631.1,190.5 633.0,189.4 634.9,188.3 636.8,187.2 638.7,186.1 640.7,184.9 642.6,183.8 644.5,182.7 646.3,181.6 648.2,180.5 650.1,179.4 652.0,178.3 653.8,177.2 655.7,176.1 657.6,175.0M489.7,266.2 492.0,265.0 494.3,263.8 496.5,262.5 498.8,261.3 501.1,260.1 503.3,258.8 505.6,257.6 507.8,256.4 510.1,255.1 512.3,253.9 514.6,252.7 516.8,251.5 519.0,250.3 521.2,249.0 523.5,247.8 525.7,246.6 527.9,245.4 530.1,244.2 532.3,243.0 534.5,241.8 536.6,240.6 538.8,239.4 541.0,238.2 543.2,237.0 545.3,235.8 547.5,234.6 549.6,233.4 551.8,232.2 553.9,231.0 556.1,229.8 558.2,228.6 560.3,227.4 562.4,226.2 564.5,225.1 566.7,223.9 568.8,222.7 570.9,221.5 573.0,220.4 575.0,219.2 577.1,218.0 579.2,216.9 581.3,215.7 583.3,214.5 585.4,213.4 587.5,212.2 589.5,211.0 591.6,209.9 593.6,208.7 595.6,207.6 597.7,206.4 599.7,205.3 601.7,204.1 603.7,203.0 605.7,201.9 607.7,200.7 609.7,199.6 611.7,198.4 613.7,197.3 615.7,196.2 617.6,195.1 619.6,193.9 621.6,192.8 623.5,191.7 625.5,190.6 627.4,189.4 629.4,188.3 631.3,187.2 633.2,186.1 635.1,185.0 637.1,183.9 639.0,182.8 640.9,181.7 642.8,180.6 644.7,179.5 646.5,178.4 648.4,177.3 650.3,176.2 652.2,175.1 654.0,174.0 655.9,172.9M488.0,263.8 490.2,262.6 492.5,261.4 494.8,260.1 497.1,258.9 499.3,257.7 501.6,256.4 503.8,255.2 506.1,254.0 508.3,252.8 510.6,251.5 512.8,250.3 515.0,249.1 517.3,247.9 519.5,246.7 521.7,245.5 523.9,244.2 526.1,243.0 528.3,241.8 530.5,240.6 532.7,239.4 534.9,238.2 537.1,237.0 539.2,235.8 541.4,234.6 543.6,233.4 545.7,232.2 547.9,231.0 550.0,229.9 552.2,228.7 554.3,227.5 556.4,226.3 558.6,225.1 560.7,223.9 562.8,222.8 564.9,221.6 567.0,220.4 569.1,219.2 571.2,218.1 573.3,216.9 575.4,215.7 577.5,214.6 579.6,213.4 581.6,212.3 583.7,211.1 585.7,209.9 587.8,208.8 589.8,207.6 591.9,206.5 593.9,205.3 595.9,204.2 598.0,203.1 600.0,201.9 602.0,200.8 604.0,199.6 606.0,198.5 608.0,197.4 610.0,196.2 612.0,195.1 614.0,194.0 615.9,192.9 617.9,191.7 619.9,190.6 621.8,189.5 623.8,188.4 625.7,187.3 627.7,186.2 629.6,185.0 631.5,183.9 633.5,182.8 635.4,181.7 637.3,180.6 639.2,179.5 641.1,178.4 643.0,177.3 644.9,176.3 646.8,175.2 648.6,174.1 650.5,173.0 652.4,171.9 654.2,170.8M486.2,261.5 488.5,260.2 490.8,259.0 493.0,257.8 495.3,256.5 497.6,255.3 499.8,254.1 502.1,252.8 504.3,251.6 506.6,250.4 508.8,249.2 511.1,248.0 513.3,246.7 515.5,245.5 517.7,244.3 520.0,243.1 522.2,241.9 524.4,240.7 526.6,239.5 528.8,238.3 531.0,237.1 533.1,235.9 535.3,234.7 537.5,233.5 539.7,232.3 541.8,231.1 544.0,229.9 546.1,228.7 548.3,227.5 550.4,226.4 552.6,225.2 554.7,224.0 556.8,222.8 559.0,221.6 561.1,220.5 563.2,219.3 565.3,218.1 567.4,217.0 569.5,215.8 571.6,214.6 573.7,213.5 575.7,212.3 577.8,211.2 579.9,210.0 582.0,208.9 584.0,207.7 586.1,206.6 588.1,205.4 590.2,204.3 592.2,203.1 594.2,202.0 596.3,200.8 598.3,199.7 600.3,198.6 602.3,197.4 604.3,196.3 606.3,195.2 608.3,194.0 610.3,192.9 612.3,191.8 614.2,190.7 616.2,189.6 618.2,188.4 620.1,187.3 622.1,186.2 624.0,185.1 626.0,184.0 627.9,182.9 629.8,181.8 631.8,180.7 633.7,179.6 635.6,178.5 637.5,177.4 639.4,176.3 641.3,175.2 643.2,174.1 645.1,173.1 646.9,172.0 648.8,170.9 650.7,169.8 652.5,168.7M484.5,259.1 486.7,257.8 489.0,256.6 491.3,255.4 493.6,254.2 495.8,252.9 498.1,251.7 500.3,250.5 502.6,249.3 504.8,248.0 507.1,246.8 509.3,245.6 511.5,244.4 513.8,243.2 516.0,242.0 518.2,240.8 520.4,239.6 522.6,238.4 524.8,237.2 527.0,236.0 529.2,234.8 531.4,233.6 533.6,232.4 535.8,231.2 537.9,230.0 540.1,228.8 542.2,227.6 544.4,226.4 546.6,225.3 548.7,224.1 550.8,222.9 553.0,221.7 555.1,220.5 557.2,219.4 559.3,218.2 561.5,217.0 563.6,215.9 565.7,214.7 567.8,213.5 569.8,212.4 571.9,211.2 574.0,210.1 576.1,208.9 578.2,207.8 580.2,206.6 582.3,205.5 584.3,204.3 586.4,203.2 588.4,202.0 590.5,200.9 592.5,199.8 594.5,198.6 596.5,197.5 598.6,196.4 600.6,195.2 602.6,194.1 604.6,193.0 606.6,191.9 608.6,190.8 610.5,189.6 612.5,188.5 614.5,187.4 616.5,186.3 618.4,185.2 620.4,184.1 622.3,183.0 624.3,181.9 626.2,180.8 628.1,179.7 630.1,178.6 632.0,177.5 633.9,176.4 635.8,175.3 637.7,174.2 639.6,173.1 641.5,172.1 643.4,171.0 645.3,169.9 647.1,168.8 649.0,167.8 650.9,166.7M482.7,256.7 485.0,255.5 487.3,254.3 489.5,253.0 491.8,251.8 494.1,250.6 496.3,249.4 498.6,248.2 500.8,246.9 503.1,245.7 505.3,244.5 507.6,243.3 509.8,242.1 512.0,240.9 514.2,239.7 516.5,238.5 518.7,237.3 520.9,236.1 523.1,234.9 525.3,233.7 527.5,232.5 529.6,231.3 531.8,230.1 534.0,228.9 536.2,227.7 538.3,226.5 540.5,225.3 542.7,224.2 544.8,223.0 547.0,221.8 549.1,220.6 551.2,219.5 553.4,218.3 555.5,217.1 557.6,216.0 559.7,214.8 561.8,213.6 563.9,212.5 566.0,211.3 568.1,210.2 570.2,209.0 572.3,207.9 574.4,206.7 576.4,205.6 578.5,204.4 580.6,203.3 582.6,202.1 584.7,201.0 586.7,199.9 588.7,198.7 590.8,197.6 592.8,196.5 594.8,195.3 596.8,194.2 598.9,193.1 600.9,192.0 602.9,190.8 604.9,189.7 606.8,188.6 608.8,187.5 610.8,186.4 612.8,185.3 614.7,184.2 616.7,183.1 618.7,182.0 620.6,180.9 622.6,179.8 624.5,178.7 626.4,177.6 628.4,176.5 630.3,175.4 632.2,174.3 634.1,173.2 636.0,172.2 637.9,171.1 639.8,170.0 641.7,168.9 643.6,167.8 645.4,166.8 647.3,165.7 649.2,164.6M480.9,254.4 483.2,253.2 485.5,251.9 487.8,250.7 490.1,249.5 492.3,248.3 494.6,247.1 496.8,245.8 499.1,244.6 501.3,243.4 503.6,242.2 505.8,241.0 508.0,239.8 510.3,238.6 512.5,237.4 514.7,236.2 516.9,235.0 519.1,233.8 521.3,232.6 523.5,231.4 525.7,230.2 527.9,229.0 530.1,227.8 532.3,226.6 534.4,225.4 536.6,224.3 538.8,223.1 540.9,221.9 543.1,220.7 545.2,219.6 547.3,218.4 549.5,217.2 551.6,216.1 553.7,214.9 555.9,213.7 558.0,212.6 560.1,211.4 562.2,210.3 564.3,209.1 566.4,208.0 568.5,206.8 570.5,205.7 572.6,204.5 574.7,203.4 576.8,202.2 578.8,201.1 580.9,199.9 582.9,198.8 585.0,197.7 587.0,196.6 589.0,195.4 591.1,194.3 593.1,193.2 595.1,192.1 597.1,190.9 599.1,189.8 601.1,188.7 603.1,187.6 605.1,186.5 607.1,185.4 609.1,184.3 611.1,183.2 613.0,182.1 615.0,181.0 616.9,179.9 618.9,178.8 620.8,177.7 622.8,176.6 624.7,175.5 626.6,174.4 628.6,173.3 630.5,172.3 632.4,171.2 634.3,170.1 636.2,169.0 638.1,168.0 640.0,166.9 641.9,165.8 643.8,164.8 645.6,163.7 647.5,162.6M479.2,252.1 481.5,250.9 483.8,249.6 486.0,248.4 488.3,247.2 490.6,246.0 492.8,244.7 495.1,243.5 497.3,242.3 499.6,241.1 501.8,239.9 504.1,238.7 506.3,237.5 508.5,236.3 510.7,235.1 513.0,233.9 515.2,232.7 517.4,231.5 519.6,230.3 521.8,229.1 524.0,227.9 526.1,226.7 528.3,225.6 530.5,224.4 532.7,223.2 534.8,222.0 537.0,220.8 539.2,219.7 541.3,218.5 543.5,217.3 545.6,216.2 547.7,215.0 549.9,213.8 552.0,212.7 554.1,211.5 556.2,210.4 558.3,209.2 560.4,208.1 562.5,206.9 564.6,205.8 566.7,204.6 568.8,203.5 570.9,202.3 573.0,201.2 575.0,200.1 577.1,198.9 579.1,197.8 581.2,196.7 583.2,195.5 585.3,194.4 587.3,193.3 589.3,192.2 591.4,191.0 593.4,189.9 595.4,188.8 597.4,187.7 599.4,186.6 601.4,185.5 603.4,184.4 605.4,183.3 607.4,182.2 609.3,181.1 611.3,180.0 613.3,178.9 615.2,177.8 617.2,176.7 619.1,175.6 621.1,174.5 623.0,173.4 624.9,172.4 626.9,171.3 628.8,170.2 630.7,169.1 632.6,168.1 634.5,167.0 636.4,165.9 638.3,164.9 640.2,163.8 642.1,162.7 643.9,161.7 645.8,160.6M477.4,249.8 479.7,248.6 482.0,247.3 484.3,246.1 486.6,244.9 488.8,243.7 491.1,242.5 493.3,241.3 495.6,240.0 497.8,238.8 500.1,237.6 502.3,236.4 504.5,235.2 506.8,234.0 509.0,232.8 511.2,231.6 513.4,230.4 515.6,229.3 517.8,228.1 520.0,226.9 522.2,225.7 524.4,224.5 526.6,223.3 528.8,222.1 530.9,221.0 533.1,219.8 535.3,218.6 537.4,217.5 539.6,216.3 541.7,215.1 543.9,214.0 546.0,212.8 548.1,211.6 550.2,210.5 552.4,209.3 554.5,208.2 556.6,207.0 558.7,205.9 560.8,204.7 562.9,203.6 565.0,202.4 567.1,201.3 569.1,200.2 571.2,199.0 573.3,197.9 575.3,196.8 577.4,195.6 579.5,194.5 581.5,193.4 583.5,192.3 585.6,191.1 587.6,190.0 589.6,188.9 591.7,187.8 593.7,186.7 595.7,185.6 597.7,184.5 599.7,183.4 601.7,182.3 603.7,181.2 605.6,180.1 607.6,179.0 609.6,177.9 611.6,176.8 613.5,175.7 615.5,174.6 617.4,173.6 619.4,172.5 621.3,171.4 623.2,170.3 625.2,169.2 627.1,168.2 629.0,167.1 630.9,166.0 632.8,165.0 634.7,163.9 636.6,162.9 638.5,161.8 640.4,160.7 642.2,159.7 644.1,158.6M475.7,247.5 478.0,246.3 480.3,245.1 482.5,243.8 484.8,242.6 487.1,241.4 489.3,240.2 491.6,239.0 493.8,237.8 496.1,236.6 498.3,235.4 500.6,234.2 502.8,233.0 505.0,231.8 507.2,230.6 509.5,229.4 511.7,228.2 513.9,227.0 516.1,225.8 518.3,224.6 520.5,223.5 522.6,222.3 524.8,221.1 527.0,219.9 529.2,218.8 531.3,217.6 533.5,216.4 535.7,215.3 537.8,214.1 540.0,212.9 542.1,211.8 544.2,210.6 546.4,209.5 548.5,208.3 550.6,207.2 552.7,206.0 554.8,204.9 556.9,203.7 559.0,202.6 561.1,201.4 563.2,200.3 565.3,199.2 567.4,198.0 569.5,196.9 571.5,195.8 573.6,194.6 575.7,193.5 577.7,192.4 579.8,191.3 581.8,190.2 583.8,189.0 585.9,187.9 587.9,186.8 589.9,185.7 591.9,184.6 593.9,183.5 596.0,182.4 598.0,181.3 599.9,180.2 601.9,179.1 603.9,178.0 605.9,176.9 607.9,175.8 609.8,174.8 611.8,173.7 613.7,172.6 615.7,171.5 617.6,170.4 619.6,169.4 621.5,168.3 623.4,167.2 625.4,166.2 627.3,165.1 629.2,164.0 631.1,163.0 633.0,161.9 634.9,160.9 636.8,159.8 638.7,158.8 640.5,157.7 642.4,156.7M473.9,245.2 476.2,244.0 478.5,242.8 480.8,241.6 483.1,240.4 485.3,239.2 487.6,238.0 489.8,236.7 492.1,235.5 494.3,234.3 496.6,233.1 498.8,231.9 501.0,230.8 503.3,229.6 505.5,228.4 507.7,227.2 509.9,226.0 512.1,224.8 514.3,223.6 516.5,222.4 518.7,221.3 520.9,220.1 523.1,218.9 525.3,217.7 527.4,216.6 529.6,215.4 531.8,214.2 533.9,213.1 536.1,211.9 538.2,210.8 540.4,209.6 542.5,208.4 544.6,207.3 546.7,206.1 548.9,205.0 551.0,203.9 553.1,202.7 555.2,201.6 557.3,200.4 559.4,199.3 561.5,198.2 563.6,197.0 565.7,195.9 567.7,194.8 569.8,193.7 571.9,192.5 573.9,191.4 576.0,190.3 578.0,189.2 580.1,188.1 582.1,187.0 584.1,185.8 586.2,184.7 588.2,183.6 590.2,182.5 592.2,181.4 594.2,180.3 596.2,179.2 598.2,178.2 600.2,177.1 602.2,176.0 604.2,174.9 606.1,173.8 608.1,172.7 610.1,171.7 612.0,170.6 614.0,169.5 615.9,168.4 617.9,167.4 619.8,166.3 621.7,165.2 623.6,164.2 625.6,163.1 627.5,162.1 629.4,161.0 631.3,160.0 633.2,158.9 635.1,157.9 637.0,156.8 638.8,155.8 640.7,154.7M472.2,243.0 474.5,241.8 476.8,240.6 479.0,239.3 481.3,238.1 483.6,236.9 485.8,235.7 488.1,234.5 490.3,233.3 492.6,232.1 494.8,230.9 497.1,229.7 499.3,228.5 501.5,227.3 503.7,226.2 505.9,225.0 508.2,223.8 510.4,222.6 512.6,221.4 514.8,220.3 517.0,219.1 519.1,217.9 521.3,216.7 523.5,215.6 525.7,214.4 527.8,213.2 530.0,212.1 532.2,210.9 534.3,209.8 536.5,208.6 538.6,207.5 540.7,206.3 542.9,205.2 545.0,204.0 547.1,202.9 549.2,201.7 551.3,200.6 553.5,199.4 555.6,198.3 557.7,197.2 559.7,196.1 561.8,194.9 563.9,193.8 566.0,192.7 568.1,191.6 570.1,190.4 572.2,189.3 574.2,188.2 576.3,187.1 578.3,186.0 580.4,184.9 582.4,183.8 584.4,182.7 586.4,181.6 588.5,180.5 590.5,179.4 592.5,178.3 594.5,177.2 596.5,176.1 598.5,175.0 600.5,174.0 602.4,172.9 604.4,171.8 606.4,170.7 608.3,169.7 610.3,168.6 612.3,167.5 614.2,166.4 616.1,165.4 618.1,164.3 620.0,163.3 621.9,162.2 623.9,161.2 625.8,160.1 627.7,159.1 629.6,158.0 631.5,157.0 633.4,155.9 635.2,154.9 637.1,153.9 639.0,152.8M470.4,240.8 472.7,239.6 475.0,238.3 477.3,237.1 479.5,235.9 481.8,234.7 484.1,233.5 486.3,232.3 488.6,231.1 490.8,229.9 493.1,228.7 495.3,227.5 497.5,226.3 499.8,225.2 502.0,224.0 504.2,222.8 506.4,221.6 508.6,220.4 510.8,219.3 513.0,218.1 515.2,216.9 517.4,215.7 519.6,214.6 521.7,213.4 523.9,212.2 526.1,211.1 528.3,209.9 530.4,208.8 532.6,207.6 534.7,206.5 536.9,205.3 539.0,204.2 541.1,203.0 543.2,201.9 545.4,200.8 547.5,199.6 549.6,198.5 551.7,197.3 553.8,196.2 555.9,195.1 558.0,194.0 560.1,192.8 562.2,191.7 564.2,190.6 566.3,189.5 568.4,188.4 570.4,187.3 572.5,186.1 574.5,185.0 576.6,183.9 578.6,182.8 580.7,181.7 582.7,180.6 584.7,179.5 586.7,178.5 588.7,177.4 590.7,176.3 592.8,175.2 594.7,174.1 596.7,173.0 598.7,172.0 600.7,170.9 602.7,169.8 604.7,168.7 606.6,167.7 608.6,166.6 610.5,165.5 612.5,164.5 614.4,163.4 616.4,162.4 618.3,161.3 620.2,160.3 622.1,159.2 624.0,158.2 626.0,157.1 627.9,156.1 629.8,155.1 631.6,154.0 633.5,153.0 635.4,152.0 637.3,150.9M468.7,238.6 471.0,237.3 473.3,236.1 475.5,234.9 477.8,233.7 480.1,232.5 482.3,231.3 484.6,230.1 486.8,228.9 489.1,227.7 491.3,226.6 493.5,225.4 495.8,224.2 498.0,223.0 500.2,221.8 502.4,220.6 504.7,219.5 506.9,218.3 509.1,217.1 511.3,215.9 513.4,214.8 515.6,213.6 517.8,212.4 520.0,211.3 522.2,210.1 524.3,209.0 526.5,207.8 528.7,206.7 530.8,205.5 533.0,204.4 535.1,203.2 537.2,202.1 539.4,200.9 541.5,199.8 543.6,198.7 545.7,197.5 547.8,196.4 550.0,195.3 552.1,194.1 554.2,193.0 556.2,191.9 558.3,190.8 560.4,189.7 562.5,188.5 564.6,187.4 566.6,186.3 568.7,185.2 570.7,184.1 572.8,183.0 574.8,181.9 576.9,180.8 578.9,179.7 580.9,178.6 583.0,177.5 585.0,176.4 587.0,175.4 589.0,174.3 591.0,173.2 593.0,172.1 595.0,171.0 597.0,170.0 599.0,168.9 600.9,167.8 602.9,166.8 604.9,165.7 606.8,164.6 608.8,163.6 610.7,162.5 612.7,161.5 614.6,160.4 616.6,159.4 618.5,158.3 620.4,157.3 622.3,156.3 624.2,155.2 626.1,154.2 628.0,153.2 629.9,152.1 631.8,151.1 633.7,150.1 635.6,149.1M466.9,236.4 469.2,235.2 471.5,234.0 473.8,232.8 476.0,231.6 478.3,230.4 480.6,229.2 482.8,228.0 485.1,226.8 487.3,225.6 489.6,224.4 491.8,223.2 494.0,222.0 496.3,220.8 498.5,219.7 500.7,218.5 502.9,217.3 505.1,216.1 507.3,215.0 509.5,213.8 511.7,212.6 513.9,211.5 516.1,210.3 518.2,209.2 520.4,208.0 522.6,206.8 524.7,205.7 526.9,204.6 529.1,203.4 531.2,202.3 533.3,201.1 535.5,200.0 537.6,198.8 539.7,197.7 541.9,196.6 544.0,195.4 546.1,194.3 548.2,193.2 550.3,192.1 552.4,191.0 554.5,189.8 556.6,188.7 558.7,187.6 560.7,186.5 562.8,185.4 564.9,184.3 566.9,183.2 569.0,182.1 571.1,181.0 573.1,179.9 575.1,178.8 577.2,177.7 579.2,176.6 581.2,175.5 583.3,174.5 585.3,173.4 587.3,172.3 589.3,171.2 591.3,170.1 593.3,169.1 595.3,168.0 597.2,166.9 599.2,165.9 601.2,164.8 603.2,163.8 605.1,162.7 607.1,161.7 609.0,160.6 611.0,159.6 612.9,158.5 614.8,157.5 616.8,156.4 618.7,155.4 620.6,154.4 622.5,153.3 624.4,152.3 626.3,151.3 628.2,150.2 630.1,149.2 632.0,148.2 633.9,147.2M465.2,234.2 467.5,233.0 469.8,231.8 472.0,230.6 474.3,229.4 476.6,228.2 478.8,227.0 481.1,225.8 483.3,224.6 485.6,223.4 487.8,222.3 490.0,221.1 492.3,219.9 494.5,218.7 496.7,217.5 498.9,216.4 501.1,215.2 503.4,214.0 505.6,212.9 507.8,211.7 509.9,210.5 512.1,209.4 514.3,208.2 516.5,207.1 518.7,205.9 520.8,204.8 523.0,203.6 525.2,202.5 527.3,201.3 529.5,200.2 531.6,199.0 533.7,197.9 535.9,196.8 538.0,195.6 540.1,194.5 542.2,193.4 544.3,192.3 546.5,191.2 548.6,190.0 550.7,188.9 552.8,187.8 554.8,186.7 556.9,185.6 559.0,184.5 561.1,183.4 563.1,182.3 565.2,181.2 567.3,180.1 569.3,179.0 571.4,177.9 573.4,176.8 575.4,175.7 577.5,174.6 579.5,173.6 581.5,172.5 583.5,171.4 585.5,170.3 587.5,169.3 589.5,168.2 591.5,167.1 593.5,166.1 595.5,165.0 597.5,163.9 599.5,162.9 601.4,161.8 603.4,160.8 605.3,159.7 607.3,158.7 609.2,157.7 611.2,156.6 613.1,155.6 615.0,154.5 617.0,153.5 618.9,152.5 620.8,151.5 622.7,150.4 624.6,149.4 626.5,148.4 628.4,147.4 630.3,146.4 632.2,145.4M463.5,232.0 465.7,230.8 468.0,229.6 470.3,228.4 472.6,227.3 474.8,226.1 477.1,224.9 479.3,223.7 481.6,222.5 483.8,221.3 486.1,220.1 488.3,218.9 490.5,217.8 492.8,216.6 495.0,215.4 497.2,214.3 499.4,213.1 501.6,211.9 503.8,210.8 506.0,209.6 508.2,208.4 510.4,207.3 512.6,206.1 514.7,205.0 516.9,203.8 519.1,202.7 521.2,201.5 523.4,200.4 525.6,199.3 527.7,198.1 529.8,197.0 532.0,195.9 534.1,194.7 536.2,193.6 538.4,192.5 540.5,191.4 542.6,190.2 544.7,189.1 546.8,188.0 548.9,186.9 551.0,185.8 553.1,184.7 555.2,183.6 557.3,182.5 559.3,181.4 561.4,180.3 563.5,179.2 565.5,178.1 567.6,177.0 569.6,175.9 571.7,174.8 573.7,173.8 575.7,172.7 577.7,171.6 579.8,170.5 581.8,169.5 583.8,168.4 585.8,167.3 587.8,166.3 589.8,165.2 591.8,164.1 593.8,163.1 595.7,162.0 597.7,161.0 599.7,159.9 601.7,158.9 603.6,157.9 605.6,156.8 607.5,155.8 609.4,154.7 611.4,153.7 613.3,152.7 615.2,151.7 617.2,150.6 619.1,149.6 621.0,148.6 622.9,147.6 624.8,146.6 626.7,145.6 628.6,144.5 630.4,143.5M461.7,229.9 464.0,228.7 466.3,227.5 468.5,226.3 470.8,225.1 473.1,223.9 475.3,222.8 477.6,221.6 479.8,220.4 482.1,219.2 484.3,218.0 486.5,216.9 488.8,215.7 491.0,214.5 493.2,213.3 495.4,212.2 497.6,211.0 499.9,209.8 502.1,208.7 504.3,207.5 506.4,206.4 508.6,205.2 510.8,204.1 513.0,202.9 515.2,201.8 517.3,200.6 519.5,199.5 521.6,198.4 523.8,197.2 525.9,196.1 528.1,195.0 530.2,193.8 532.4,192.7 534.5,191.6 536.6,190.5 538.7,189.3 540.8,188.2 543.0,187.1 545.1,186.0 547.2,184.9 549.3,183.8 551.3,182.7 553.4,181.6 555.5,180.5 557.6,179.4 559.6,178.3 561.7,177.2 563.8,176.1 565.8,175.1 567.9,174.0 569.9,172.9 571.9,171.8 574.0,170.7 576.0,169.7 578.0,168.6 580.0,167.5 582.1,166.5 584.1,165.4 586.1,164.4 588.1,163.3 590.0,162.2 592.0,161.2 594.0,160.1 596.0,159.1 598.0,158.1 599.9,157.0 601.9,156.0 603.8,154.9 605.8,153.9 607.7,152.9 609.7,151.9 611.6,150.8 613.5,149.8 615.4,148.8 617.3,147.8 619.3,146.8 621.2,145.8 623.1,144.7 625.0,143.7 626.8,142.7 628.7,141.7M460.0,227.8 462.3,226.6 464.5,225.4 466.8,224.2 469.1,223.0 471.3,221.8 473.6,220.7 475.8,219.5 478.1,218.3 480.3,217.1 482.6,215.9 484.8,214.8 487.0,213.6 489.3,212.4 491.5,211.3 493.7,210.1 495.9,208.9 498.1,207.8 500.3,206.6 502.5,205.5 504.7,204.3 506.9,203.2 509.1,202.0 511.2,200.9 513.4,199.7 515.6,198.6 517.7,197.5 519.9,196.3 522.1,195.2 524.2,194.1 526.3,192.9 528.5,191.8 530.6,190.7 532.7,189.6 534.9,188.5 537.0,187.4 539.1,186.2 541.2,185.1 543.3,184.0 545.4,182.9 547.5,181.8 549.6,180.7 551.7,179.6 553.8,178.5 555.8,177.4 557.9,176.4 560.0,175.3 562.0,174.2 564.1,173.1 566.1,172.0 568.2,171.0 570.2,169.9 572.2,168.8 574.3,167.8 576.3,166.7 578.3,165.6 580.3,164.6 582.3,163.5 584.3,162.5 586.3,161.4 588.3,160.4 590.3,159.3 592.3,158.3 594.2,157.2 596.2,156.2 598.2,155.2 600.1,154.1 602.1,153.1 604.0,152.1 606.0,151.0 607.9,150.0 609.9,149.0 611.8,148.0 613.7,147.0 615.6,146.0 617.5,145.0 619.4,144.0 621.3,143.0 623.2,142.0 625.1,141.0 627.0,140.0M458.2,225.7 460.5,224.5 462.8,223.3 465.1,222.1 467.3,221.0 469.6,219.8 471.8,218.6 474.1,217.4 476.3,216.2 478.6,215.1 480.8,213.9 483.1,212.7 485.3,211.5 487.5,210.4 489.7,209.2 491.9,208.1 494.1,206.9 496.4,205.7 498.6,204.6 500.8,203.4 502.9,202.3 505.1,201.1 507.3,200.0 509.5,198.9 511.7,197.7 513.8,196.6 516.0,195.5 518.1,194.3 520.3,193.2 522.4,192.1 524.6,191.0 526.7,189.8 528.9,188.7 531.0,187.6 533.1,186.5 535.2,185.4 537.3,184.3 539.5,183.2 541.6,182.1 543.7,181.0 545.8,179.9 547.8,178.8 549.9,177.7 552.0,176.6 554.1,175.5 556.1,174.4 558.2,173.3 560.3,172.3 562.3,171.2 564.4,170.1 566.4,169.1 568.5,168.0 570.5,166.9 572.5,165.9 574.5,164.8 576.6,163.7 578.6,162.7 580.6,161.6 582.6,160.6 584.6,159.5 586.6,158.5 588.6,157.5 590.5,156.4 592.5,155.4 594.5,154.4 596.4,153.3 598.4,152.3 600.4,151.3 602.3,150.3 604.3,149.2 606.2,148.2 608.1,147.2 610.1,146.2 612.0,145.2 613.9,144.2 615.8,143.2 617.7,142.2 619.6,141.2 621.5,140.2 623.4,139.2 625.3,138.2M456.5,223.6 458.8,222.5 461.0,221.3 463.3,220.1 465.6,218.9 467.8,217.7 470.1,216.5 472.3,215.4 474.6,214.2 476.8,213.0 479.1,211.8 481.3,210.7 483.5,209.5 485.8,208.3 488.0,207.2 490.2,206.0 492.4,204.9 494.6,203.7 496.8,202.6 499.0,201.4 501.2,200.3 503.4,199.1 505.6,198.0 507.7,196.9 509.9,195.7 512.1,194.6 514.2,193.5 516.4,192.3 518.5,191.2 520.7,190.1 522.8,189.0 525.0,187.9 527.1,186.8 529.2,185.6 531.4,184.5 533.5,183.4 535.6,182.3 537.7,181.2 539.8,180.1 541.9,179.0 544.0,177.9 546.1,176.9 548.2,175.8 550.3,174.7 552.3,173.6 554.4,172.5 556.5,171.4 558.5,170.4 560.6,169.3 562.6,168.2 564.7,167.2 566.7,166.1 568.7,165.0 570.8,164.0 572.8,162.9 574.8,161.9 576.8,160.8 578.8,159.8 580.8,158.7 582.8,157.7 584.8,156.7 586.8,155.6 588.8,154.6 590.8,153.6 592.7,152.5 594.7,151.5 596.7,150.5 598.6,149.5 600.6,148.5 602.5,147.4 604.5,146.4 606.4,145.4 608.3,144.4 610.2,143.4 612.2,142.4 614.1,141.4 616.0,140.4 617.9,139.4 619.8,138.4 621.7,137.5 623.6,136.5M454.8,221.6 457.0,220.4 459.3,219.2 461.6,218.0 463.8,216.8 466.1,215.7 468.4,214.5 470.6,213.3 472.9,212.1 475.1,211.0 477.3,209.8 479.6,208.7 481.8,207.5 484.0,206.3 486.2,205.2 488.4,204.0 490.7,202.9 492.9,201.7 495.1,200.6 497.3,199.4 499.4,198.3 501.6,197.2 503.8,196.0 506.0,194.9 508.2,193.8 510.3,192.6 512.5,191.5 514.6,190.4 516.8,189.3 518.9,188.1 521.1,187.0 523.2,185.9 525.4,184.8 527.5,183.7 529.6,182.6 531.7,181.5 533.8,180.4 536.0,179.3 538.1,178.2 540.2,177.1 542.3,176.0 544.3,174.9 546.4,173.9 548.5,172.8 550.6,171.7 552.6,170.6 554.7,169.6 556.8,168.5 558.8,167.4 560.9,166.4 562.9,165.3 565.0,164.2 567.0,163.2 569.0,162.1 571.0,161.1 573.1,160.0 575.1,159.0 577.1,157.9 579.1,156.9 581.1,155.9 583.1,154.8 585.1,153.8 587.1,152.8 589.0,151.8 591.0,150.7 593.0,149.7 594.9,148.7 596.9,147.7 598.8,146.7 600.8,145.7 602.7,144.7 604.7,143.7 606.6,142.7 608.5,141.7 610.4,140.7 612.3,139.7 614.3,138.7 616.2,137.7 618.1,136.7 619.9,135.7 621.8,134.8M453.0,219.6 455.3,218.4 457.6,217.2 459.8,216.0 462.1,214.8 464.4,213.7 466.6,212.5 468.9,211.3 471.1,210.1 473.4,209.0 475.6,207.8 477.8,206.6 480.1,205.5 482.3,204.3 484.5,203.2 486.7,202.0 488.9,200.9 491.1,199.7 493.3,198.6 495.5,197.5 497.7,196.3 499.9,195.2 502.1,194.1 504.2,192.9 506.4,191.8 508.6,190.7 510.7,189.6 512.9,188.4 515.1,187.3 517.2,186.2 519.3,185.1 521.5,184.0 523.6,182.9 525.7,181.8 527.9,180.7 530.0,179.6 532.1,178.5 534.2,177.4 536.3,176.3 538.4,175.2 540.5,174.1 542.6,173.1 544.7,172.0 546.8,170.9 548.8,169.8 550.9,168.8 553.0,167.7 555.0,166.6 557.1,165.6 559.1,164.5 561.2,163.4 563.2,162.4 565.2,161.3 567.3,160.3 569.3,159.3 571.3,158.2 573.3,157.2 575.3,156.1 577.3,155.1 579.3,154.1 581.3,153.0 583.3,152.0 585.3,151.0 587.3,150.0 589.3,149.0 591.2,147.9 593.2,146.9 595.1,145.9 597.1,144.9 599.0,143.9 601.0,142.9 602.9,141.9 604.9,140.9 606.8,139.9 608.7,138.9 610.6,138.0 612.5,137.0 614.4,136.0 616.3,135.0 618.2,134.0 620.1,133.1M451.3,217.5 453.6,216.4 455.8,215.2 458.1,214.0 460.4,212.8 462.6,211.7 464.9,210.5 467.1,209.3 469.4,208.1 471.6,207.0 473.9,205.8 476.1,204.7 478.3,203.5 480.5,202.4 482.7,201.2 485.0,200.1 487.2,198.9 489.4,197.8 491.6,196.6 493.8,195.5 496.0,194.4 498.1,193.2 500.3,192.1 502.5,191.0 504.7,189.9 506.8,188.7 509.0,187.6 511.2,186.5 513.3,185.4 515.5,184.3 517.6,183.2 519.7,182.1 521.9,181.0 524.0,179.9 526.1,178.8 528.2,177.7 530.4,176.6 532.5,175.5 534.6,174.4 536.7,173.3 538.8,172.3 540.8,171.2 542.9,170.1 545.0,169.0 547.1,168.0 549.2,166.9 551.2,165.8 553.3,164.8 555.3,163.7 557.4,162.7 559.4,161.6 561.5,160.6 563.5,159.5 565.5,158.5 567.6,157.4 569.6,156.4 571.6,155.4 573.6,154.3 575.6,153.3 577.6,152.3 579.6,151.3 581.6,150.2 583.6,149.2 585.5,148.2 587.5,147.2 589.5,146.2 591.5,145.2 593.4,144.2 595.4,143.2 597.3,142.2 599.3,141.2 601.2,140.2 603.1,139.2 605.0,138.2 607.0,137.2 608.9,136.3 610.8,135.3 612.7,134.3 614.6,133.3 616.5,132.4 618.4,131.4M449.6,215.5 451.8,214.4 454.1,213.2 456.4,212.0 458.6,210.8 460.9,209.7 463.1,208.5 465.4,207.3 467.6,206.2 469.9,205.0 472.1,203.9 474.3,202.7 476.6,201.6 478.8,200.4 481.0,199.3 483.2,198.1 485.4,197.0 487.6,195.8 489.8,194.7 492.0,193.6 494.2,192.4 496.4,191.3 498.6,190.2 500.8,189.1 502.9,187.9 505.1,186.8 507.3,185.7 509.4,184.6 511.6,183.5 513.7,182.4 515.8,181.3 518.0,180.2 520.1,179.1 522.2,178.0 524.4,176.9 526.5,175.8 528.6,174.7 530.7,173.6 532.8,172.6 534.9,171.5 537.0,170.4 539.1,169.3 541.2,168.3 543.3,167.2 545.3,166.1 547.4,165.1 549.5,164.0 551.5,163.0 553.6,161.9 555.6,160.9 557.7,159.8 559.7,158.8 561.8,157.7 563.8,156.7 565.8,155.7 567.8,154.6 569.8,153.6 571.9,152.6 573.9,151.5 575.9,150.5 577.9,149.5 579.8,148.5 581.8,147.5 583.8,146.5 585.8,145.5 587.7,144.5 589.7,143.5 591.7,142.5 593.6,141.5 595.6,140.5 597.5,139.5 599.5,138.5 601.4,137.5 603.3,136.5 605.2,135.6 607.1,134.6 609.1,133.6 611.0,132.6 612.9,131.7 614.8,130.7 616.7,129.8M447.8,213.6 450.1,212.4 452.4,211.2 454.6,210.1 456.9,208.9 459.2,207.7 461.4,206.5 463.7,205.4 465.9,204.2 468.1,203.1 470.4,201.9 472.6,200.8 474.8,199.6 477.1,198.5 479.3,197.3 481.5,196.2 483.7,195.1 485.9,193.9 488.1,192.8 490.3,191.7 492.5,190.5 494.7,189.4 496.8,188.3 499.0,187.2 501.2,186.1 503.3,184.9 505.5,183.8 507.7,182.7 509.8,181.6 512.0,180.5 514.1,179.4 516.2,178.3 518.4,177.2 520.5,176.1 522.6,175.1 524.7,174.0 526.9,172.9 529.0,171.8 531.1,170.7 533.2,169.7 535.3,168.6 537.4,167.5 539.4,166.5 541.5,165.4 543.6,164.3 545.7,163.3 547.7,162.2 549.8,161.2 551.8,160.1 553.9,159.1 555.9,158.0 558.0,157.0 560.0,156.0 562.0,154.9 564.1,153.9 566.1,152.9 568.1,151.8 570.1,150.8 572.1,149.8 574.1,148.8 576.1,147.8 578.1,146.8 580.1,145.7 582.1,144.7 584.0,143.7 586.0,142.7 588.0,141.7 589.9,140.8 591.9,139.8 593.8,138.8 595.8,137.8 597.7,136.8 599.6,135.8 601.6,134.9 603.5,133.9 605.4,132.9 607.3,132.0 609.2,131.0 611.1,130.0 613.0,129.1 614.9,128.1M446.1,211.6 448.4,210.4 450.7,209.3 452.9,208.1 455.2,206.9 457.4,205.8 459.7,204.6 461.9,203.5 464.2,202.3 466.4,201.1 468.6,200.0 470.9,198.8 473.1,197.7 475.3,196.6 477.5,195.4 479.7,194.3 482.0,193.2 484.2,192.0 486.4,190.9 488.5,189.8 490.7,188.6 492.9,187.5 495.1,186.4 497.3,185.3 499.4,184.2 501.6,183.1 503.8,182.0 505.9,180.9 508.1,179.8 510.2,178.7 512.4,177.6 514.5,176.5 516.6,175.4 518.8,174.3 520.9,173.2 523.0,172.1 525.1,171.1 527.2,170.0 529.3,168.9 531.4,167.8 533.5,166.8 535.6,165.7 537.7,164.7 539.8,163.6 541.8,162.5 543.9,161.5 546.0,160.4 548.0,159.4 550.1,158.3 552.1,157.3 554.2,156.3 556.2,155.2 558.3,154.2 560.3,153.2 562.3,152.1 564.3,151.1 566.4,150.1 568.4,149.1 570.4,148.1 572.4,147.1 574.4,146.1 576.4,145.0 578.3,144.0 580.3,143.0 582.3,142.0 584.3,141.1 586.2,140.1 588.2,139.1 590.1,138.1 592.1,137.1 594.0,136.1 596.0,135.2 597.9,134.2 599.8,133.2 601.8,132.3 603.7,131.3 605.6,130.3 607.5,129.4 609.4,128.4 611.3,127.5 613.2,126.5M444.4,209.7 446.7,208.5 448.9,207.3 451.2,206.2 453.5,205.0 455.7,203.9 458.0,202.7 460.2,201.5 462.4,200.4 464.7,199.2 466.9,198.1 469.1,197.0 471.4,195.8 473.6,194.7 475.8,193.5 478.0,192.4 480.2,191.3 482.4,190.1 484.6,189.0 486.8,187.9 489.0,186.8 491.2,185.7 493.4,184.5 495.5,183.4 497.7,182.3 499.9,181.2 502.0,180.1 504.2,179.0 506.3,177.9 508.5,176.8 510.6,175.7 512.8,174.7 514.9,173.6 517.0,172.5 519.1,171.4 521.3,170.3 523.4,169.3 525.5,168.2 527.6,167.1 529.7,166.0 531.8,165.0 533.9,163.9 535.9,162.9 538.0,161.8 540.1,160.8 542.2,159.7 544.2,158.7 546.3,157.6 548.4,156.6 550.4,155.6 552.4,154.5 554.5,153.5 556.5,152.5 558.6,151.4 560.6,150.4 562.6,149.4 564.6,148.4 566.6,147.4 568.6,146.4 570.6,145.4 572.6,144.4 574.6,143.4 576.6,142.4 578.6,141.4 580.6,140.4 582.5,139.4 584.5,138.4 586.5,137.4 588.4,136.4 590.4,135.5 592.3,134.5 594.2,133.5 596.2,132.6 598.1,131.6 600.0,130.6 601.9,129.7 603.9,128.7 605.8,127.8 607.7,126.8 609.6,125.9 611.5,124.9M442.7,207.8 444.9,206.6 447.2,205.4 449.5,204.3 451.7,203.1 454.0,202.0 456.2,200.8 458.5,199.7 460.7,198.5 463.0,197.4 465.2,196.2 467.4,195.1 469.6,193.9 471.9,192.8 474.1,191.7 476.3,190.5 478.5,189.4 480.7,188.3 482.9,187.2 485.1,186.0 487.3,184.9 489.4,183.8 491.6,182.7 493.8,181.6 496.0,180.5 498.1,179.4 500.3,178.3 502.4,177.2 504.6,176.1 506.7,175.0 508.9,173.9 511.0,172.8 513.1,171.8 515.3,170.7 517.4,169.6 519.5,168.5 521.6,167.5 523.7,166.4 525.8,165.3 527.9,164.3 530.0,163.2 532.1,162.2 534.2,161.1 536.3,160.1 538.4,159.0 540.4,158.0 542.5,156.9 544.6,155.9 546.6,154.9 548.7,153.8 550.7,152.8 552.7,151.8 554.8,150.8 556.8,149.7 558.8,148.7 560.9,147.7 562.9,146.7 564.9,145.7 566.9,144.7 568.9,143.7 570.9,142.7 572.9,141.7 574.9,140.7 576.8,139.7 578.8,138.7 580.8,137.7 582.8,136.8 584.7,135.8 586.7,134.8 588.6,133.8 590.6,132.9 592.5,131.9 594.4,130.9 596.4,130.0 598.3,129.0 600.2,128.1 602.1,127.1 604.0,126.2 605.9,125.2 607.8,124.3 609.7,123.4M441.0,205.9 443.2,204.7 445.5,203.6 447.8,202.4 450.0,201.2 452.3,200.1 454.5,198.9 456.8,197.8 459.0,196.6 461.2,195.5 463.5,194.4 465.7,193.2 467.9,192.1 470.1,190.9 472.3,189.8 474.6,188.7 476.8,187.6 479.0,186.4 481.2,185.3 483.3,184.2 485.5,183.1 487.7,182.0 489.9,180.9 492.1,179.8 494.2,178.7 496.4,177.6 498.6,176.5 500.7,175.4 502.9,174.3 505.0,173.2 507.1,172.1 509.3,171.1 511.4,170.0 513.5,168.9 515.7,167.8 517.8,166.8 519.9,165.7 522.0,164.6 524.1,163.6 526.2,162.5 528.3,161.5 530.4,160.4 532.5,159.4 534.5,158.3 536.6,157.3 538.7,156.3 540.8,155.2 542.8,154.2 544.9,153.2 546.9,152.1 549.0,151.1 551.0,150.1 553.0,149.1 555.1,148.1 557.1,147.0 559.1,146.0 561.1,145.0 563.1,144.0 565.2,143.0 567.2,142.0 569.1,141.0 571.1,140.0 573.1,139.1 575.1,138.1 577.1,137.1 579.1,136.1 581.0,135.1 583.0,134.2 584.9,133.2 586.9,132.2 588.8,131.3 590.8,130.3 592.7,129.4 594.6,128.4 596.6,127.5 598.5,126.5 600.4,125.6 602.3,124.6 604.2,123.7 606.1,122.8 608.0,121.8M439.2,204.0 441.5,202.8 443.8,201.7 446.0,200.5 448.3,199.4 450.5,198.2 452.8,197.1 455.0,195.9 457.3,194.8 459.5,193.6 461.7,192.5 464.0,191.4 466.2,190.2 468.4,189.1 470.6,188.0 472.8,186.9 475.0,185.7 477.2,184.6 479.4,183.5 481.6,182.4 483.8,181.3 486.0,180.2 488.2,179.1 490.3,178.0 492.5,176.9 494.7,175.8 496.8,174.7 499.0,173.6 501.1,172.5 503.3,171.5 505.4,170.4 507.5,169.3 509.7,168.2 511.8,167.2 513.9,166.1 516.0,165.0 518.1,164.0 520.3,162.9 522.4,161.9 524.5,160.8 526.6,159.7 528.6,158.7 530.7,157.7 532.8,156.6 534.9,155.6 536.9,154.5 539.0,153.5 541.1,152.5 543.1,151.5 545.2,150.4 547.2,149.4 549.3,148.4 551.3,147.4 553.3,146.4 555.4,145.4 557.4,144.4 559.4,143.4 561.4,142.4 563.4,141.4 565.4,140.4 567.4,139.4 569.4,138.4 571.4,137.4 573.4,136.5 575.3,135.5 577.3,134.5 579.3,133.5 581.2,132.6 583.2,131.6 585.2,130.7 587.1,129.7 589.0,128.7 591.0,127.8 592.9,126.8 594.8,125.9 596.7,125.0 598.7,124.0 600.6,123.1 602.5,122.2 604.4,121.2 606.3,120.3M437.5,202.2 439.8,201.0 442.1,199.8 444.3,198.7 446.6,197.5 448.8,196.4 451.1,195.2 453.3,194.1 455.6,193.0 457.8,191.8 460.0,190.7 462.2,189.6 464.5,188.4 466.7,187.3 468.9,186.2 471.1,185.1 473.3,184.0 475.5,182.8 477.7,181.7 479.9,180.6 482.1,179.5 484.3,178.4 486.4,177.3 488.6,176.2 490.8,175.1 492.9,174.0 495.1,172.9 497.2,171.9 499.4,170.8 501.5,169.7 503.7,168.6 505.8,167.6 507.9,166.5 510.1,165.4 512.2,164.4 514.3,163.3 516.4,162.2 518.5,161.2 520.6,160.1 522.7,159.1 524.8,158.0 526.9,157.0 529.0,156.0 531.1,154.9 533.1,153.9 535.2,152.9 537.3,151.8 539.3,150.8 541.4,149.8 543.4,148.8 545.5,147.8 547.5,146.8 549.6,145.7 551.6,144.7 553.6,143.7 555.6,142.7 557.7,141.7 559.7,140.8 561.7,139.8 563.7,138.8 565.7,137.8 567.7,136.8 569.6,135.8 571.6,134.9 573.6,133.9 575.6,132.9 577.5,132.0 579.5,131.0 581.5,130.0 583.4,129.1 585.4,128.1 587.3,127.2 589.2,126.3 591.2,125.3 593.1,124.4 595.0,123.4 596.9,122.5 598.8,121.6 600.7,120.7 602.6,119.7 604.5,118.8M435.8,200.3 438.1,199.2 440.4,198.0 442.6,196.9 444.9,195.7 447.1,194.6 449.4,193.4 451.6,192.3 453.8,191.2 456.1,190.0 458.3,188.9 460.5,187.8 462.8,186.6 465.0,185.5 467.2,184.4 469.4,183.3 471.6,182.2 473.8,181.1 476.0,180.0 478.2,178.9 480.3,177.8 482.5,176.7 484.7,175.6 486.9,174.5 489.0,173.4 491.2,172.3 493.4,171.2 495.5,170.1 497.7,169.1 499.8,168.0 501.9,166.9 504.1,165.8 506.2,164.8 508.3,163.7 510.5,162.7 512.6,161.6 514.7,160.5 516.8,159.5 518.9,158.4 521.0,157.4 523.1,156.4 525.2,155.3 527.2,154.3 529.3,153.3 531.4,152.2 533.5,151.2 535.5,150.2 537.6,149.2 539.7,148.2 541.7,147.1 543.7,146.1 545.8,145.1 547.8,144.1 549.9,143.1 551.9,142.1 553.9,141.1 555.9,140.1 557.9,139.2 559.9,138.2 561.9,137.2 563.9,136.2 565.9,135.2 567.9,134.3 569.9,133.3 571.9,132.3 573.8,131.4 575.8,130.4 577.8,129.5 579.7,128.5 581.7,127.6 583.6,126.6 585.6,125.7 587.5,124.7 589.4,123.8 591.4,122.9 593.3,121.9 595.2,121.0 597.1,120.1 599.0,119.2 600.9,118.2 602.8,117.3M434.1,198.5 436.4,197.4 438.7,196.2 440.9,195.1 443.2,193.9 445.4,192.8 447.7,191.6 449.9,190.5 452.1,189.4 454.4,188.2 456.6,187.1 458.8,186.0 461.0,184.9 463.2,183.8 465.5,182.6 467.7,181.5 469.9,180.4 472.1,179.3 474.3,178.2 476.4,177.1 478.6,176.0 480.8,174.9 483.0,173.8 485.1,172.7 487.3,171.7 489.5,170.6 491.6,169.5 493.8,168.4 495.9,167.3 498.1,166.3 500.2,165.2 502.3,164.1 504.5,163.1 506.6,162.0 508.7,161.0 510.8,159.9 512.9,158.9 515.1,157.8 517.2,156.8 519.3,155.7 521.3,154.7 523.4,153.7 525.5,152.6 527.6,151.6 529.7,150.6 531.7,149.6 533.8,148.6 535.9,147.5 537.9,146.5 540.0,145.5 542.0,144.5 544.1,143.5 546.1,142.5 548.1,141.5 550.1,140.5 552.2,139.5 554.2,138.6 556.2,137.6 558.2,136.6 560.2,135.6 562.2,134.6 564.2,133.7 566.2,132.7 568.2,131.7 570.1,130.8 572.1,129.8 574.1,128.9 576.0,127.9 578.0,127.0 579.9,126.0 581.9,125.1 583.8,124.2 585.8,123.2 587.7,122.3 589.6,121.4 591.6,120.4 593.5,119.5 595.4,118.6 597.3,117.7 599.2,116.8 601.1,115.9M432.4,196.7 434.7,195.6 437.0,194.4 439.2,193.3 441.5,192.2 443.7,191.0 446.0,189.9 448.2,188.7 450.4,187.6 452.7,186.5 454.9,185.4 457.1,184.2 459.3,183.1 461.5,182.0 463.7,180.9 466.0,179.8 468.2,178.7 470.3,177.6 472.5,176.5 474.7,175.4 476.9,174.3 479.1,173.2 481.3,172.1 483.4,171.0 485.6,169.9 487.8,168.9 489.9,167.8 492.1,166.7 494.2,165.7 496.3,164.6 498.5,163.5 500.6,162.5 502.7,161.4 504.9,160.4 507.0,159.3 509.1,158.3 511.2,157.2 513.3,156.2 515.4,155.1 517.5,154.1 519.6,153.1 521.7,152.0 523.8,151.0 525.9,150.0 527.9,149.0 530.0,148.0 532.1,146.9 534.1,145.9 536.2,144.9 538.2,143.9 540.3,142.9 542.3,141.9 544.4,140.9 546.4,139.9 548.4,139.0 550.4,138.0 552.4,137.0 554.5,136.0 556.5,135.0 558.5,134.1 560.5,133.1 562.5,132.1 564.4,131.2 566.4,130.2 568.4,129.3 570.4,128.3 572.3,127.4 574.3,126.4 576.3,125.5 578.2,124.5 580.2,123.6 582.1,122.7 584.0,121.8 586.0,120.8 587.9,119.9 589.8,119.0 591.7,118.1 593.7,117.2 595.6,116.3 597.5,115.3 599.4,114.4M430.7,195.0 433.0,193.8 435.3,192.7 437.5,191.5 439.8,190.4 442.0,189.3 444.3,188.1 446.5,187.0 448.7,185.9 451.0,184.7 453.2,183.6 455.4,182.5 457.6,181.4 459.8,180.3 462.0,179.2 464.2,178.1 466.4,177.0 468.6,175.9 470.8,174.8 473.0,173.7 475.2,172.6 477.4,171.5 479.5,170.4 481.7,169.3 483.9,168.3 486.0,167.2 488.2,166.1 490.3,165.0 492.5,164.0 494.6,162.9 496.8,161.9 498.9,160.8 501.0,159.8 503.1,158.7 505.3,157.7 507.4,156.6 509.5,155.6 511.6,154.5 513.7,153.5 515.8,152.5 517.9,151.4 520.0,150.4 522.1,149.4 524.1,148.4 526.2,147.4 528.3,146.4 530.3,145.4 532.4,144.3 534.5,143.3 536.5,142.4 538.5,141.4 540.6,140.4 542.6,139.4 544.7,138.4 546.7,137.4 548.7,136.4 550.7,135.5 552.7,134.5 554.7,133.5 556.7,132.5 558.7,131.6 560.7,130.6 562.7,129.7 564.7,128.7 566.7,127.8 568.6,126.8 570.6,125.9 572.6,124.9 574.5,124.0 576.5,123.1 578.4,122.1 580.4,121.2 582.3,120.3 584.2,119.4 586.2,118.5 588.1,117.5 590.0,116.6 591.9,115.7 593.8,114.8 595.7,113.9 597.6,113.0M429.1,193.2 431.3,192.1 433.6,190.9 435.8,189.8 438.1,188.7 440.3,187.5 442.6,186.4 444.8,185.3 447.0,184.2 449.3,183.0 451.5,181.9 453.7,180.8 455.9,179.7 458.1,178.6 460.3,177.5 462.5,176.4 464.7,175.3 466.9,174.2 469.1,173.1 471.3,172.0 473.5,170.9 475.7,169.8 477.8,168.8 480.0,167.7 482.2,166.6 484.3,165.5 486.5,164.5 488.6,163.4 490.8,162.3 492.9,161.3 495.0,160.2 497.2,159.2 499.3,158.1 501.4,157.1 503.5,156.0 505.7,155.0 507.8,154.0 509.9,152.9 512.0,151.9 514.1,150.9 516.2,149.9 518.2,148.8 520.3,147.8 522.4,146.8 524.5,145.8 526.5,144.8 528.6,143.8 530.7,142.8 532.7,141.8 534.8,140.8 536.8,139.8 538.9,138.8 540.9,137.8 542.9,136.9 544.9,135.9 547.0,134.9 549.0,133.9 551.0,133.0 553.0,132.0 555.0,131.0 557.0,130.1 559.0,129.1 561.0,128.2 563.0,127.2 564.9,126.3 566.9,125.4 568.9,124.4 570.8,123.5 572.8,122.6 574.8,121.6 576.7,120.7 578.6,119.8 580.6,118.9 582.5,118.0 584.4,117.0 586.4,116.1 588.3,115.2 590.2,114.3 592.1,113.4 594.0,112.5 595.9,111.7M427.4,191.5 429.6,190.4 431.9,189.2 434.1,188.1 436.4,187.0 438.6,185.8 440.9,184.7 443.1,183.6 445.3,182.5 447.6,181.3 449.8,180.2 452.0,179.1 454.2,178.0 456.4,176.9 458.6,175.8 460.8,174.7 463.0,173.6 465.2,172.5 467.4,171.4 469.6,170.3 471.8,169.3 473.9,168.2 476.1,167.1 478.3,166.0 480.4,165.0 482.6,163.9 484.8,162.8 486.9,161.8 489.0,160.7 491.2,159.7 493.3,158.6 495.5,157.6 497.6,156.5 499.7,155.5 501.8,154.4 503.9,153.4 506.0,152.4 508.1,151.3 510.2,150.3 512.3,149.3 514.4,148.3 516.5,147.3 518.6,146.3 520.7,145.2 522.8,144.2 524.8,143.2 526.9,142.2 528.9,141.2 531.0,140.3 533.0,139.3 535.1,138.3 537.1,137.3 539.2,136.3 541.2,135.3 543.2,134.4 545.2,133.4 547.3,132.4 549.3,131.5 551.3,130.5 553.3,129.6 555.3,128.6 557.3,127.7 559.3,126.7 561.2,125.8 563.2,124.8 565.2,123.9 567.2,123.0 569.1,122.0 571.1,121.1 573.0,120.2 575.0,119.3 576.9,118.4 578.9,117.5 580.8,116.5 582.7,115.6 584.6,114.7 586.6,113.8 588.5,112.9 590.4,112.1 592.3,111.2 594.2,110.3M425.7,189.8 427.9,188.7 430.2,187.5 432.5,186.4 434.7,185.3 436.9,184.1 439.2,183.0 441.4,181.9 443.6,180.8 445.9,179.7 448.1,178.6 450.3,177.4 452.5,176.3 454.7,175.2 456.9,174.1 459.1,173.1 461.3,172.0 463.5,170.9 465.7,169.8 467.9,168.7 470.1,167.6 472.2,166.5 474.4,165.5 476.6,164.4 478.7,163.3 480.9,162.3 483.0,161.2 485.2,160.2 487.3,159.1 489.5,158.1 491.6,157.0 493.7,156.0 495.9,154.9 498.0,153.9 500.1,152.9 502.2,151.8 504.3,150.8 506.4,149.8 508.5,148.8 510.6,147.7 512.7,146.7 514.8,145.7 516.9,144.7 519.0,143.7 521.0,142.7 523.1,141.7 525.2,140.7 527.2,139.7 529.3,138.7 531.3,137.8 533.4,136.8 535.4,135.8 537.4,134.8 539.5,133.9 541.5,132.9 543.5,131.9 545.5,131.0 547.5,130.0 549.5,129.1 551.5,128.1 553.5,127.2 555.5,126.2 557.5,125.3 559.5,124.3 561.5,123.4 563.5,122.5 565.4,121.5 567.4,120.6 569.3,119.7 571.3,118.8 573.2,117.9 575.2,117.0 577.1,116.1 579.1,115.2 581.0,114.3 582.9,113.4 584.8,112.5 586.7,111.6 588.7,110.7 590.6,109.8 592.5,108.9M424.0,188.1 426.3,187.0 428.5,185.9 430.8,184.7 433.0,183.6 435.3,182.5 437.5,181.4 439.7,180.2 442.0,179.1 444.2,178.0 446.4,176.9 448.6,175.8 450.8,174.7 453.0,173.6 455.2,172.5 457.4,171.4 459.6,170.3 461.8,169.2 464.0,168.2 466.2,167.1 468.4,166.0 470.5,164.9 472.7,163.9 474.9,162.8 477.0,161.7 479.2,160.7 481.3,159.6 483.5,158.6 485.6,157.5 487.8,156.5 489.9,155.4 492.0,154.4 494.2,153.4 496.3,152.3 498.4,151.3 500.5,150.3 502.6,149.3 504.7,148.2 506.8,147.2 508.9,146.2 511.0,145.2 513.1,144.2 515.2,143.2 517.2,142.2 519.3,141.2 521.4,140.2 523.4,139.2 525.5,138.2 527.5,137.2 529.6,136.3 531.6,135.3 533.7,134.3 535.7,133.4 537.7,132.4 539.8,131.4 541.8,130.5 543.8,129.5 545.8,128.6 547.8,127.6 549.8,126.7 551.8,125.7 553.8,124.8 555.8,123.9 557.8,122.9 559.8,122.0 561.7,121.1 563.7,120.1 565.7,119.2 567.6,118.3 569.6,117.4 571.5,116.5 573.5,115.6 575.4,114.7 577.3,113.8 579.3,112.9 581.2,112.0 583.1,111.1 585.0,110.3 586.9,109.4 588.8,108.5 590.7,107.6M422.3,186.5 424.6,185.3 426.9,184.2 429.1,183.1 431.3,182.0 433.6,180.8 435.8,179.7 438.0,178.6 440.3,177.5 442.5,176.4 444.7,175.3 446.9,174.2 449.1,173.1 451.3,172.0 453.5,170.9 455.7,169.8 457.9,168.7 460.1,167.6 462.3,166.6 464.5,165.5 466.7,164.4 468.8,163.4 471.0,162.3 473.2,161.2 475.3,160.2 477.5,159.1 479.6,158.1 481.8,157.0 483.9,156.0 486.1,154.9 488.2,153.9 490.3,152.9 492.4,151.8 494.6,150.8 496.7,149.8 498.8,148.8 500.9,147.7 503.0,146.7 505.1,145.7 507.2,144.7 509.3,143.7 511.4,142.7 513.4,141.7 515.5,140.7 517.6,139.7 519.7,138.7 521.7,137.7 523.8,136.8 525.8,135.8 527.9,134.8 529.9,133.8 532.0,132.9 534.0,131.9 536.0,130.9 538.0,130.0 540.1,129.0 542.1,128.1 544.1,127.1 546.1,126.2 548.1,125.3 550.1,124.3 552.1,123.4 554.1,122.5 556.1,121.5 558.0,120.6 560.0,119.7 562.0,118.8 563.9,117.9 565.9,117.0 567.9,116.0 569.8,115.1 571.7,114.2 573.7,113.4 575.6,112.5 577.5,111.6 579.5,110.7 581.4,109.8 583.3,108.9 585.2,108.1 587.1,107.2 589.0,106.3M420.7,184.8 422.9,183.7 425.2,182.6 427.4,181.5 429.7,180.3 431.9,179.2 434.1,178.1 436.4,177.0 438.6,175.9 440.8,174.8 443.0,173.7 445.2,172.6 447.5,171.5 449.7,170.4 451.9,169.3 454.1,168.2 456.2,167.1 458.4,166.1 460.6,165.0 462.8,163.9 465.0,162.9 467.1,161.8 469.3,160.7 471.5,159.7 473.6,158.6 475.8,157.6 477.9,156.5 480.1,155.5 482.2,154.4 484.4,153.4 486.5,152.4 488.6,151.3 490.7,150.3 492.9,149.3 495.0,148.3 497.1,147.2 499.2,146.2 501.3,145.2 503.4,144.2 505.5,143.2 507.6,142.2 509.7,141.2 511.7,140.2 513.8,139.2 515.9,138.2 517.9,137.3 520.0,136.3 522.1,135.3 524.1,134.3 526.2,133.4 528.2,132.4 530.2,131.4 532.3,130.5 534.3,129.5 536.3,128.6 538.4,127.6 540.4,126.7 542.4,125.7 544.4,124.8 546.4,123.9 548.4,122.9 550.4,122.0 552.4,121.1 554.3,120.2 556.3,119.2 558.3,118.3 560.3,117.4 562.2,116.5 564.2,115.6 566.1,114.7 568.1,113.8 570.0,112.9 572.0,112.0 573.9,111.1 575.8,110.3 577.8,109.4 579.7,108.5 581.6,107.6 583.5,106.8 585.4,105.9 587.3,105.1M419.0,183.2 421.3,182.1 423.5,181.0 425.8,179.8 428.0,178.7 430.2,177.6 432.5,176.5 434.7,175.4 436.9,174.3 439.1,173.2 441.4,172.1 443.6,171.0 445.8,169.9 448.0,168.8 450.2,167.7 452.4,166.7 454.6,165.6 456.7,164.5 458.9,163.4 461.1,162.4 463.3,161.3 465.5,160.3 467.6,159.2 469.8,158.1 471.9,157.1 474.1,156.0 476.2,155.0 478.4,154.0 480.5,152.9 482.7,151.9 484.8,150.9 486.9,149.8 489.0,148.8 491.2,147.8 493.3,146.8 495.4,145.8 497.5,144.8 499.6,143.7 501.7,142.7 503.8,141.7 505.9,140.8 507.9,139.8 510.0,138.8 512.1,137.8 514.2,136.8 516.2,135.8 518.3,134.8 520.4,133.9 522.4,132.9 524.4,131.9 526.5,131.0 528.5,130.0 530.6,129.1 532.6,128.1 534.6,127.2 536.6,126.2 538.7,125.3 540.7,124.4 542.7,123.4 544.7,122.5 546.7,121.6 548.7,120.6 550.6,119.7 552.6,118.8 554.6,117.9 556.6,117.0 558.5,116.1 560.5,115.2 562.5,114.3 564.4,113.4 566.4,112.5 568.3,111.6 570.2,110.7 572.2,109.9 574.1,109.0 576.0,108.1 578.0,107.2 579.9,106.4 581.8,105.5 583.7,104.7 585.6,103.8M417.4,181.6 419.6,180.5 421.9,179.4 424.1,178.3 426.3,177.2 428.6,176.0 430.8,174.9 433.0,173.8 435.3,172.7 437.5,171.6 439.7,170.5 441.9,169.4 444.1,168.4 446.3,167.3 448.5,166.2 450.7,165.1 452.9,164.0 455.1,163.0 457.2,161.9 459.4,160.8 461.6,159.8 463.8,158.7 465.9,157.7 468.1,156.6 470.2,155.6 472.4,154.5 474.5,153.5 476.7,152.5 478.8,151.4 481.0,150.4 483.1,149.4 485.2,148.4 487.3,147.3 489.5,146.3 491.6,145.3 493.7,144.3 495.8,143.3 497.9,142.3 500.0,141.3 502.1,140.3 504.2,139.3 506.2,138.3 508.3,137.3 510.4,136.4 512.5,135.4 514.5,134.4 516.6,133.4 518.6,132.5 520.7,131.5 522.7,130.5 524.8,129.6 526.8,128.6 528.9,127.7 530.9,126.7 532.9,125.8 534.9,124.9 536.9,123.9 538.9,123.0 541.0,122.1 543.0,121.1 544.9,120.2 546.9,119.3 548.9,118.4 550.9,117.5 552.9,116.6 554.9,115.7 556.8,114.8 558.8,113.9 560.7,113.0 562.7,112.1 564.6,111.2 566.6,110.3 568.5,109.5 570.5,108.6 572.4,107.7 574.3,106.9 576.2,106.0 578.2,105.1 580.1,104.3 582.0,103.4 583.9,102.6M415.7,180.1 418.0,178.9 420.2,177.8 422.4,176.7 424.7,175.6 426.9,174.5 429.1,173.4 431.4,172.3 433.6,171.2 435.8,170.1 438.0,169.0 440.2,167.9 442.4,166.8 444.6,165.8 446.8,164.7 449.0,163.6 451.2,162.5 453.4,161.5 455.6,160.4 457.7,159.3 459.9,158.3 462.1,157.2 464.2,156.2 466.4,155.1 468.6,154.1 470.7,153.1 472.9,152.0 475.0,151.0 477.1,150.0 479.3,148.9 481.4,147.9 483.5,146.9 485.6,145.9 487.8,144.9 489.9,143.9 492.0,142.9 494.1,141.9 496.2,140.9 498.3,139.9 500.4,138.9 502.5,137.9 504.5,136.9 506.6,135.9 508.7,135.0 510.8,134.0 512.8,133.0 514.9,132.1 516.9,131.1 519.0,130.1 521.0,129.2 523.1,128.2 525.1,127.3 527.1,126.3 529.2,125.4 531.2,124.5 533.2,123.5 535.2,122.6 537.2,121.7 539.2,120.7 541.2,119.8 543.2,118.9 545.2,118.0 547.2,117.1 549.2,116.2 551.2,115.3 553.1,114.4 555.1,113.5 557.1,112.6 559.0,111.7 561.0,110.8 562.9,110.0 564.9,109.1 566.8,108.2 568.8,107.3 570.7,106.5 572.6,105.6 574.5,104.8 576.4,103.9 578.4,103.1 580.3,102.2 582.2,101.4M414.1,178.5 416.3,177.4 418.6,176.3 420.8,175.2 423.0,174.1 425.3,173.0 427.5,171.9 429.7,170.8 431.9,169.7 434.1,168.6 436.4,167.5 438.6,166.4 440.8,165.3 443.0,164.3 445.2,163.2 447.3,162.1 449.5,161.0 451.7,160.0 453.9,158.9 456.1,157.9 458.2,156.8 460.4,155.8 462.6,154.7 464.7,153.7 466.9,152.6 469.0,151.6 471.2,150.6 473.3,149.5 475.5,148.5 477.6,147.5 479.7,146.5 481.8,145.5 484.0,144.5 486.1,143.5 488.2,142.4 490.3,141.4 492.4,140.5 494.5,139.5 496.6,138.5 498.7,137.5 500.8,136.5 502.8,135.5 504.9,134.5 507.0,133.6 509.1,132.6 511.1,131.6 513.2,130.7 515.2,129.7 517.3,128.8 519.3,127.8 521.4,126.9 523.4,125.9 525.4,125.0 527.5,124.1 529.5,123.1 531.5,122.2 533.5,121.3 535.5,120.4 537.5,119.4 539.5,118.5 541.5,117.6 543.5,116.7 545.5,115.8 547.5,114.9 549.5,114.0 551.4,113.1 553.4,112.2 555.4,111.3 557.3,110.5 559.3,109.6 561.2,108.7 563.2,107.8 565.1,107.0 567.0,106.1 569.0,105.3 570.9,104.4 572.8,103.6 574.7,102.7 576.6,101.9 578.6,101.0 580.5,100.2M412.4,177.0 414.7,175.9 416.9,174.8 419.1,173.7 421.4,172.5 423.6,171.4 425.8,170.4 428.1,169.3 430.3,168.2 432.5,167.1 434.7,166.0 436.9,164.9 439.1,163.8 441.3,162.8 443.5,161.7 445.7,160.6 447.9,159.6 450.1,158.5 452.2,157.5 454.4,156.4 456.6,155.4 458.7,154.3 460.9,153.3 463.1,152.2 465.2,151.2 467.4,150.2 469.5,149.1 471.6,148.1 473.8,147.1 475.9,146.1 478.0,145.1 480.2,144.1 482.3,143.1 484.4,142.0 486.5,141.1 488.6,140.1 490.7,139.1 492.8,138.1 494.9,137.1 497.0,136.1 499.1,135.1 501.2,134.2 503.2,133.2 505.3,132.2 507.4,131.3 509.4,130.3 511.5,129.3 513.5,128.4 515.6,127.4 517.6,126.5 519.7,125.6 521.7,124.6 523.7,123.7 525.8,122.8 527.8,121.8 529.8,120.9 531.8,120.0 533.8,119.1 535.8,118.2 537.8,117.2 539.8,116.3 541.8,115.4 543.8,114.5 545.8,113.7 547.8,112.8 549.7,111.9 551.7,111.0 553.7,110.1 555.6,109.2 557.6,108.4 559.5,107.5 561.5,106.6 563.4,105.8 565.3,104.9 567.3,104.1 569.2,103.2 571.1,102.4 573.0,101.5 574.9,100.7 576.8,99.9 578.7,99.0M410.8,175.5 413.0,174.4 415.3,173.3 417.5,172.2 419.7,171.1 422.0,170.0 424.2,168.9 426.4,167.8 428.6,166.7 430.8,165.6 433.0,164.5 435.2,163.5 437.4,162.4 439.6,161.3 441.8,160.2 444.0,159.2 446.2,158.1 448.4,157.1 450.6,156.0 452.7,155.0 454.9,153.9 457.1,152.9 459.2,151.8 461.4,150.8 463.5,149.8 465.7,148.8 467.8,147.7 470.0,146.7 472.1,145.7 474.2,144.7 476.4,143.7 478.5,142.7 480.6,141.7 482.7,140.7 484.8,139.7 486.9,138.7 489.0,137.7 491.1,136.7 493.2,135.7 495.3,134.8 497.4,133.8 499.5,132.8 501.5,131.8 503.6,130.9 505.7,129.9 507.7,129.0 509.8,128.0 511.8,127.1 513.9,126.1 515.9,125.2 518.0,124.3 520.0,123.3 522.0,122.4 524.1,121.5 526.1,120.5 528.1,119.6 530.1,118.7 532.1,117.8 534.1,116.9 536.1,116.0 538.1,115.1 540.1,114.2 542.1,113.3 544.1,112.4 546.1,111.5 548.0,110.7 550.0,109.8 552.0,108.9 553.9,108.0 555.9,107.2 557.8,106.3 559.8,105.4 561.7,104.6 563.6,103.7 565.6,102.9 567.5,102.1 569.4,101.2 571.3,100.4 573.2,99.5 575.1,98.7 577.0,97.9M409.2,174.0 411.4,172.9 413.6,171.8 415.9,170.7 418.1,169.6 420.3,168.5 422.6,167.4 424.8,166.3 427.0,165.2 429.2,164.2 431.4,163.1 433.6,162.0 435.8,160.9 438.0,159.9 440.2,158.8 442.4,157.8 444.6,156.7 446.7,155.7 448.9,154.6 451.1,153.6 453.2,152.5 455.4,151.5 457.6,150.4 459.7,149.4 461.9,148.4 464.0,147.4 466.2,146.3 468.3,145.3 470.4,144.3 472.6,143.3 474.7,142.3 476.8,141.3 478.9,140.3 481.0,139.3 483.1,138.3 485.2,137.3 487.3,136.4 489.4,135.4 491.5,134.4 493.6,133.4 495.7,132.5 497.8,131.5 499.9,130.5 501.9,129.6 504.0,128.6 506.0,127.7 508.1,126.7 510.2,125.8 512.2,124.8 514.2,123.9 516.3,123.0 518.3,122.1 520.4,121.1 522.4,120.2 524.4,119.3 526.4,118.4 528.4,117.5 530.4,116.6 532.4,115.7 534.4,114.8 536.4,113.9 538.4,113.0 540.4,112.1 542.4,111.2 544.4,110.3 546.3,109.5 548.3,108.6 550.3,107.7 552.2,106.9 554.2,106.0 556.1,105.1 558.1,104.3 560.0,103.4 561.9,102.6 563.9,101.7 565.8,100.9 567.7,100.1 569.6,99.2 571.5,98.4 573.4,97.6 575.3,96.8M407.5,172.6 409.8,171.4 412.0,170.3 414.2,169.2 416.5,168.2 418.7,167.1 420.9,166.0 423.1,164.9 425.3,163.8 427.6,162.7 429.8,161.7 432.0,160.6 434.2,159.5 436.3,158.5 438.5,157.4 440.7,156.4 442.9,155.3 445.1,154.3 447.3,153.2 449.4,152.2 451.6,151.1 453.7,150.1 455.9,149.1 458.1,148.0 460.2,147.0 462.4,146.0 464.5,145.0 466.6,144.0 468.8,143.0 470.9,142.0 473.0,141.0 475.1,140.0 477.2,139.0 479.4,138.0 481.5,137.0 483.6,136.0 485.7,135.0 487.8,134.1 489.9,133.1 491.9,132.1 494.0,131.2 496.1,130.2 498.2,129.2 500.2,128.3 502.3,127.3 504.4,126.4 506.4,125.5 508.5,124.5 510.5,123.6 512.6,122.7 514.6,121.7 516.6,120.8 518.7,119.9 520.7,119.0 522.7,118.1 524.7,117.1 526.7,116.2 528.7,115.3 530.7,114.4 532.7,113.6 534.7,112.7 536.7,111.8 538.7,110.9 540.7,110.0 542.7,109.1 544.6,108.3 546.6,107.4 548.6,106.6 550.5,105.7 552.5,104.8 554.4,104.0 556.4,103.1 558.3,102.3 560.2,101.5 562.2,100.6 564.1,99.8 566.0,99.0 567.9,98.1 569.8,97.3 571.7,96.5 573.6,95.7M405.9,171.1 408.2,170.0 410.4,168.9 412.6,167.8 414.8,166.7 417.1,165.6 419.3,164.6 421.5,163.5 423.7,162.4 425.9,161.3 428.1,160.3 430.3,159.2 432.5,158.1 434.7,157.1 436.9,156.0 439.1,155.0 441.3,153.9 443.4,152.9 445.6,151.8 447.8,150.8 449.9,149.8 452.1,148.7 454.3,147.7 456.4,146.7 458.6,145.7 460.7,144.7 462.8,143.6 465.0,142.6 467.1,141.6 469.2,140.6 471.3,139.6 473.5,138.6 475.6,137.7 477.7,136.7 479.8,135.7 481.9,134.7 484.0,133.7 486.1,132.8 488.2,131.8 490.3,130.8 492.3,129.9 494.4,128.9 496.5,128.0 498.6,127.0 500.6,126.1 502.7,125.1 504.7,124.2 506.8,123.3 508.8,122.3 510.9,121.4 512.9,120.5 514.9,119.6 517.0,118.7 519.0,117.8 521.0,116.8 523.0,115.9 525.0,115.0 527.1,114.2 529.1,113.3 531.1,112.4 533.0,111.5 535.0,110.6 537.0,109.7 539.0,108.9 541.0,108.0 542.9,107.1 544.9,106.3 546.9,105.4 548.8,104.6 550.8,103.7 552.7,102.9 554.7,102.0 556.6,101.2 558.5,100.4 560.5,99.5 562.4,98.7 564.3,97.9 566.2,97.1 568.1,96.2 570.0,95.4 571.9,94.6M404.3,169.7 406.5,168.6 408.8,167.5 411.0,166.4 413.2,165.3 415.5,164.3 417.7,163.2 419.9,162.1 422.1,161.0 424.3,160.0 426.5,158.9 428.7,157.8 430.9,156.8 433.1,155.7 435.3,154.7 437.4,153.6 439.6,152.6 441.8,151.5 444.0,150.5 446.1,149.5 448.3,148.4 450.5,147.4 452.6,146.4 454.8,145.4 456.9,144.4 459.0,143.3 461.2,142.3 463.3,141.3 465.4,140.3 467.6,139.3 469.7,138.3 471.8,137.4 473.9,136.4 476.0,135.4 478.1,134.4 480.2,133.4 482.3,132.5 484.4,131.5 486.5,130.5 488.6,129.6 490.7,128.6 492.8,127.7 494.8,126.7 496.9,125.8 499.0,124.8 501.0,123.9 503.1,123.0 505.1,122.1 507.2,121.1 509.2,120.2 511.2,119.3 513.3,118.4 515.3,117.5 517.3,116.6 519.3,115.7 521.4,114.8 523.4,113.9 525.4,113.0 527.4,112.1 529.4,111.2 531.4,110.3 533.4,109.5 535.3,108.6 537.3,107.7 539.3,106.9 541.3,106.0 543.2,105.1 545.2,104.3 547.1,103.4 549.1,102.6 551.0,101.8 553.0,100.9 554.9,100.1 556.9,99.3 558.8,98.4 560.7,97.6 562.6,96.8 564.5,96.0 566.5,95.2 568.4,94.4 570.3,93.6M402.7,168.3 404.9,167.2 407.2,166.1 409.4,165.0 411.6,164.0 413.8,162.9 416.1,161.8 418.3,160.7 420.5,159.7 422.7,158.6 424.9,157.5 427.1,156.5 429.3,155.4 431.4,154.4 433.6,153.3 435.8,152.3 438.0,151.2 440.2,150.2 442.3,149.2 444.5,148.1 446.7,147.1 448.8,146.1 451.0,145.1 453.1,144.1 455.3,143.1 457.4,142.0 459.5,141.0 461.7,140.0 463.8,139.0 465.9,138.1 468.0,137.1 470.2,136.1 472.3,135.1 474.4,134.1 476.5,133.2 478.6,132.2 480.7,131.2 482.8,130.3 484.9,129.3 486.9,128.3 489.0,127.4 491.1,126.5 493.2,125.5 495.2,124.6 497.3,123.6 499.3,122.7 501.4,121.8 503.4,120.9 505.5,119.9 507.5,119.0 509.6,118.1 511.6,117.2 513.6,116.3 515.6,115.4 517.7,114.5 519.7,113.6 521.7,112.7 523.7,111.8 525.7,111.0 527.7,110.1 529.7,109.2 531.7,108.3 533.7,107.5 535.6,106.6 537.6,105.7 539.6,104.9 541.5,104.0 543.5,103.2 545.5,102.4 547.4,101.5 549.4,100.7 551.3,99.9 553.2,99.0 555.2,98.2 557.1,97.4 559.0,96.6 560.9,95.8 562.9,95.0 564.8,94.2 566.7,93.4 568.6,92.6M401.1,167.0 403.3,165.9 405.6,164.8 407.8,163.7 410.0,162.6 412.2,161.5 414.4,160.5 416.7,159.4 418.9,158.3 421.1,157.3 423.3,156.2 425.5,155.2 427.6,154.1 429.8,153.1 432.0,152.0 434.2,151.0 436.4,149.9 438.5,148.9 440.7,147.9 442.9,146.8 445.0,145.8 447.2,144.8 449.3,143.8 451.5,142.8 453.6,141.8 455.8,140.8 457.9,139.8 460.0,138.8 462.1,137.8 464.3,136.8 466.4,135.8 468.5,134.8 470.6,133.9 472.7,132.9 474.8,131.9 476.9,131.0 479.0,130.0 481.1,129.0 483.2,128.1 485.3,127.1 487.4,126.2 489.4,125.2 491.5,124.3 493.6,123.4 495.6,122.4 497.7,121.5 499.7,120.6 501.8,119.7 503.8,118.8 505.9,117.9 507.9,116.9 509.9,116.0 512.0,115.1 514.0,114.2 516.0,113.4 518.0,112.5 520.0,111.6 522.0,110.7 524.0,109.8 526.0,109.0 528.0,108.1 530.0,107.2 532.0,106.4 534.0,105.5 535.9,104.7 537.9,103.8 539.9,103.0 541.8,102.1 543.8,101.3 545.7,100.5 547.7,99.6 549.6,98.8 551.6,98.0 553.5,97.2 555.4,96.4 557.3,95.6 559.3,94.7 561.2,93.9 563.1,93.2 565.0,92.4 566.9,91.6M399.5,165.6 401.7,164.5 404.0,163.4 406.2,162.4 408.4,161.3 410.6,160.2 412.8,159.1 415.0,158.1 417.2,157.0 419.4,156.0 421.6,154.9 423.8,153.8 426.0,152.8 428.2,151.8 430.4,150.7 432.6,149.7 434.7,148.6 436.9,147.6 439.1,146.6 441.2,145.6 443.4,144.6 445.5,143.5 447.7,142.5 449.8,141.5 452.0,140.5 454.1,139.5 456.3,138.5 458.4,137.5 460.5,136.6 462.6,135.6 464.7,134.6 466.9,133.6 469.0,132.6 471.1,131.7 473.2,130.7 475.3,129.7 477.4,128.8 479.5,127.8 481.5,126.9 483.6,125.9 485.7,125.0 487.8,124.1 489.8,123.1 491.9,122.2 494.0,121.3 496.0,120.4 498.1,119.4 500.1,118.5 502.2,117.6 504.2,116.7 506.2,115.8 508.3,114.9 510.3,114.0 512.3,113.1 514.3,112.2 516.3,111.4 518.3,110.5 520.3,109.6 522.3,108.7 524.3,107.9 526.3,107.0 528.3,106.2 530.3,105.3 532.3,104.4 534.3,103.6 536.2,102.8 538.2,101.9 540.1,101.1 542.1,100.3 544.1,99.4 546.0,98.6 547.9,97.8 549.9,97.0 551.8,96.2 553.7,95.4 555.7,94.6 557.6,93.8 559.5,93.0 561.4,92.2 563.3,91.4 565.2,90.6M397.9,164.3 400.2,163.2 402.4,162.1 404.6,161.1 406.8,160.0 409.0,158.9 411.2,157.8 413.4,156.8 415.6,155.7 417.8,154.7 420.0,153.6 422.2,152.6 424.4,151.5 426.6,150.5 428.8,149.5 431.0,148.4 433.1,147.4 435.3,146.4 437.5,145.3 439.6,144.3 441.8,143.3 443.9,142.3 446.1,141.3 448.2,140.3 450.4,139.3 452.5,138.3 454.6,137.3 456.8,136.3 458.9,135.3 461.0,134.4 463.1,133.4 465.2,132.4 467.3,131.4 469.4,130.5 471.5,129.5 473.6,128.6 475.7,127.6 477.8,126.7 479.9,125.7 482.0,124.8 484.0,123.8 486.1,122.9 488.2,122.0 490.2,121.1 492.3,120.1 494.4,119.2 496.4,118.3 498.5,117.4 500.5,116.5 502.5,115.6 504.6,114.7 506.6,113.8 508.6,112.9 510.6,112.0 512.7,111.2 514.7,110.3 516.7,109.4 518.7,108.5 520.7,107.7 522.7,106.8 524.7,105.9 526.7,105.1 528.6,104.2 530.6,103.4 532.6,102.6 534.6,101.7 536.5,100.9 538.5,100.1 540.4,99.2 542.4,98.4 544.3,97.6 546.3,96.8 548.2,96.0 550.1,95.2 552.1,94.4 554.0,93.6 555.9,92.8 557.8,92.0 559.7,91.2 561.6,90.4 563.5,89.7M396.4,163.0 398.6,161.9 400.8,160.9 403.0,159.8 405.2,158.7 407.4,157.6 409.7,156.6 411.9,155.5 414.1,154.5 416.3,153.4 418.4,152.4 420.6,151.3 422.8,150.3 425.0,149.2 427.2,148.2 429.3,147.2 431.5,146.2 433.7,145.1 435.8,144.1 438.0,143.1 440.2,142.1 442.3,141.1 444.5,140.1 446.6,139.1 448.7,138.1 450.9,137.1 453.0,136.1 455.1,135.1 457.2,134.2 459.4,133.2 461.5,132.2 463.6,131.2 465.7,130.3 467.8,129.3 469.9,128.4 472.0,127.4 474.1,126.5 476.2,125.5 478.3,124.6 480.3,123.6 482.4,122.7 484.5,121.8 486.5,120.9 488.6,119.9 490.7,119.0 492.7,118.1 494.8,117.2 496.8,116.3 498.8,115.4 500.9,114.5 502.9,113.6 504.9,112.7 507.0,111.8 509.0,111.0 511.0,110.1 513.0,109.2 515.0,108.3 517.0,107.5 519.0,106.6 521.0,105.8 523.0,104.9 525.0,104.1 527.0,103.2 528.9,102.4 530.9,101.5 532.9,100.7 534.8,99.9 536.8,99.1 538.8,98.2 540.7,97.4 542.7,96.6 544.6,95.8 546.5,95.0 548.5,94.2 550.4,93.4 552.3,92.6 554.2,91.8 556.1,91.1 558.1,90.3 560.0,89.5 561.9,88.7M394.8,161.7 397.0,160.7 399.2,159.6 401.4,158.5 403.7,157.5 405.9,156.4 408.1,155.3 410.3,154.3 412.5,153.2 414.7,152.2 416.9,151.1 419.0,150.1 421.2,149.0 423.4,148.0 425.6,147.0 427.7,146.0 429.9,144.9 432.1,143.9 434.2,142.9 436.4,141.9 438.5,140.9 440.7,139.9 442.8,138.9 445.0,137.9 447.1,136.9 449.3,135.9 451.4,134.9 453.5,134.0 455.6,133.0 457.7,132.0 459.9,131.0 462.0,130.1 464.1,129.1 466.2,128.2 468.3,127.2 470.4,126.3 472.5,125.3 474.5,124.4 476.6,123.5 478.7,122.5 480.8,121.6 482.8,120.7 484.9,119.8 487.0,118.8 489.0,117.9 491.1,117.0 493.1,116.1 495.2,115.2 497.2,114.3 499.2,113.4 501.3,112.5 503.3,111.7 505.3,110.8 507.3,109.9 509.4,109.0 511.4,108.2 513.4,107.3 515.4,106.5 517.4,105.6 519.4,104.7 521.3,103.9 523.3,103.1 525.3,102.2 527.3,101.4 529.3,100.6 531.2,99.7 533.2,98.9 535.1,98.1 537.1,97.3 539.0,96.5 541.0,95.7 542.9,94.9 544.9,94.1 546.8,93.3 548.7,92.5 550.7,91.7 552.6,90.9 554.5,90.1 556.4,89.4 558.3,88.6 560.2,87.8M393.2,160.5 395.4,159.4 397.7,158.4 399.9,157.3 402.1,156.2 404.3,155.2 406.5,154.1 408.7,153.1 410.9,152.0 413.1,151.0 415.3,149.9 417.5,148.9 419.6,147.8 421.8,146.8 424.0,145.8 426.2,144.8 428.3,143.8 430.5,142.7 432.6,141.7 434.8,140.7 436.9,139.7 439.1,138.7 441.2,137.7 443.4,136.7 445.5,135.8 447.6,134.8 449.8,133.8 451.9,132.8 454.0,131.8 456.1,130.9 458.2,129.9 460.3,129.0 462.5,128.0 464.6,127.1 466.6,126.1 468.7,125.2 470.8,124.2 472.9,123.3 475.0,122.4 477.1,121.4 479.1,120.5 481.2,119.6 483.3,118.7 485.3,117.8 487.4,116.9 489.4,116.0 491.5,115.1 493.5,114.2 495.6,113.3 497.6,112.4 499.6,111.5 501.7,110.6 503.7,109.8 505.7,108.9 507.7,108.0 509.7,107.2 511.7,106.3 513.7,105.4 515.7,104.6 517.7,103.8 519.7,102.9 521.7,102.1 523.7,101.2 525.6,100.4 527.6,99.6 529.6,98.8 531.5,98.0 533.5,97.1 535.4,96.3 537.4,95.5 539.3,94.7 541.3,93.9 543.2,93.1 545.1,92.4 547.1,91.6 549.0,90.8 550.9,90.0 552.8,89.2 554.7,88.5 556.6,87.7 558.5,87.0M391.7,159.3 393.9,158.2 396.1,157.1 398.3,156.1 400.5,155.0 402.7,154.0 404.9,152.9 407.1,151.9 409.3,150.8 411.5,149.8 413.7,148.7 415.9,147.7 418.1,146.7 420.2,145.6 422.4,144.6 424.6,143.6 426.7,142.6 428.9,141.6 431.0,140.6 433.2,139.6 435.4,138.6 437.5,137.6 439.6,136.6 441.8,135.6 443.9,134.6 446.0,133.6 448.2,132.7 450.3,131.7 452.4,130.7 454.5,129.8 456.6,128.8 458.7,127.9 460.8,126.9 462.9,126.0 465.0,125.0 467.1,124.1 469.2,123.1 471.3,122.2 473.4,121.3 475.4,120.4 477.5,119.4 479.6,118.5 481.6,117.6 483.7,116.7 485.8,115.8 487.8,114.9 489.8,114.0 491.9,113.1 493.9,112.3 496.0,111.4 498.0,110.5 500.0,109.6 502.0,108.8 504.1,107.9 506.1,107.0 508.1,106.2 510.1,105.3 512.1,104.5 514.1,103.6 516.1,102.8 518.0,102.0 520.0,101.1 522.0,100.3 524.0,99.5 526.0,98.6 527.9,97.8 529.9,97.0 531.8,96.2 533.8,95.4 535.7,94.6 537.7,93.8 539.6,93.0 541.6,92.2 543.5,91.5 545.4,90.7 547.3,89.9 549.3,89.1 551.2,88.4 553.1,87.6 555.0,86.9 556.9,86.1M390.1,158.1 392.3,157.0 394.5,156.0 396.8,154.9 399.0,153.8 401.2,152.8 403.4,151.7 405.6,150.7 407.8,149.6 409.9,148.6 412.1,147.6 414.3,146.5 416.5,145.5 418.7,144.5 420.8,143.5 423.0,142.5 425.2,141.4 427.3,140.4 429.5,139.4 431.6,138.4 433.8,137.4 435.9,136.5 438.0,135.5 440.2,134.5 442.3,133.5 444.4,132.5 446.6,131.6 448.7,130.6 450.8,129.6 452.9,128.7 455.0,127.7 457.1,126.8 459.2,125.8 461.3,124.9 463.4,124.0 465.5,123.0 467.6,122.1 469.7,121.2 471.7,120.2 473.8,119.3 475.9,118.4 478.0,117.5 480.0,116.6 482.1,115.7 484.1,114.8 486.2,113.9 488.2,113.0 490.3,112.1 492.3,111.3 494.3,110.4 496.4,109.5 498.4,108.6 500.4,107.8 502.4,106.9 504.4,106.1 506.4,105.2 508.4,104.4 510.4,103.5 512.4,102.7 514.4,101.8 516.4,101.0 518.4,100.2 520.4,99.4 522.3,98.5 524.3,97.7 526.3,96.9 528.2,96.1 530.2,95.3 532.1,94.5 534.1,93.7 536.0,92.9 538.0,92.2 539.9,91.4 541.8,90.6 543.8,89.8 545.7,89.1 547.6,88.3 549.5,87.5 551.4,86.8 553.3,86.0 555.2,85.3M388.6,156.9 390.8,155.9 393.0,154.8 395.2,153.7 397.4,152.7 399.6,151.6 401.8,150.6 404.0,149.5 406.2,148.5 408.4,147.5 410.6,146.4 412.7,145.4 414.9,144.4 417.1,143.4 419.3,142.4 421.4,141.3 423.6,140.3 425.7,139.3 427.9,138.3 430.0,137.3 432.2,136.3 434.3,135.4 436.5,134.4 438.6,133.4 440.7,132.4 442.9,131.5 445.0,130.5 447.1,129.5 449.2,128.6 451.3,127.6 453.4,126.7 455.5,125.7 457.6,124.8 459.7,123.8 461.8,122.9 463.9,122.0 466.0,121.1 468.1,120.1 470.1,119.2 472.2,118.3 474.3,117.4 476.3,116.5 478.4,115.6 480.5,114.7 482.5,113.8 484.6,112.9 486.6,112.0 488.6,111.2 490.7,110.3 492.7,109.4 494.7,108.5 496.8,107.7 498.8,106.8 500.8,106.0 502.8,105.1 504.8,104.3 506.8,103.4 508.8,102.6 510.8,101.8 512.8,100.9 514.8,100.1 516.8,99.3 518.7,98.5 520.7,97.6 522.7,96.8 524.6,96.0 526.6,95.2 528.6,94.4 530.5,93.6 532.4,92.9 534.4,92.1 536.3,91.3 538.3,90.5 540.2,89.8 542.1,89.0 544.0,88.2 546.0,87.5 547.9,86.7 549.8,86.0 551.7,85.2 553.6,84.5M387.0,155.8 389.3,154.7 391.5,153.7 393.7,152.6 395.9,151.5 398.1,150.5 400.3,149.5 402.5,148.4 404.6,147.4 406.8,146.3 409.0,145.3 411.2,144.3 413.4,143.3 415.5,142.3 417.7,141.3 419.9,140.2 422.0,139.2 424.2,138.2 426.3,137.2 428.5,136.3 430.6,135.3 432.7,134.3 434.9,133.3 437.0,132.3 439.1,131.4 441.3,130.4 443.4,129.4 445.5,128.5 447.6,127.5 449.7,126.6 451.8,125.6 453.9,124.7 456.0,123.8 458.1,122.8 460.2,121.9 462.3,121.0 464.4,120.0 466.5,119.1 468.5,118.2 470.6,117.3 472.7,116.4 474.7,115.5 476.8,114.6 478.8,113.7 480.9,112.8 482.9,111.9 485.0,111.1 487.0,110.2 489.1,109.3 491.1,108.5 493.1,107.6 495.1,106.7 497.2,105.9 499.2,105.0 501.2,104.2 503.2,103.3 505.2,102.5 507.2,101.7 509.2,100.9 511.2,100.0 513.1,99.2 515.1,98.4 517.1,97.6 519.1,96.8 521.0,96.0 523.0,95.2 525.0,94.4 526.9,93.6 528.9,92.8 530.8,92.0 532.8,91.2 534.7,90.5 536.6,89.7 538.6,88.9 540.5,88.2 542.4,87.4 544.3,86.7 546.2,85.9 548.1,85.2 550.0,84.4 551.9,83.7M385.5,154.7 387.7,153.6 389.9,152.5 392.1,151.5 394.3,150.4 396.5,149.4 398.7,148.4 400.9,147.3 403.1,146.3 405.3,145.3 407.5,144.2 409.6,143.2 411.8,142.2 414.0,141.2 416.1,140.2 418.3,139.2 420.5,138.2 422.6,137.2 424.8,136.2 426.9,135.2 429.0,134.2 431.2,133.2 433.3,132.3 435.4,131.3 437.6,130.3 439.7,129.4 441.8,128.4 443.9,127.5 446.0,126.5 448.1,125.6 450.2,124.6 452.3,123.7 454.4,122.8 456.5,121.8 458.6,120.9 460.7,120.0 462.8,119.1 464.9,118.2 466.9,117.2 469.0,116.3 471.1,115.4 473.1,114.5 475.2,113.7 477.2,112.8 479.3,111.9 481.3,111.0 483.4,110.1 485.4,109.3 487.4,108.4 489.5,107.5 491.5,106.7 493.5,105.8 495.5,105.0 497.5,104.1 499.6,103.3 501.6,102.5 503.6,101.6 505.6,100.8 507.5,100.0 509.5,99.2 511.5,98.3 513.5,97.5 515.5,96.7 517.4,95.9 519.4,95.1 521.4,94.3 523.3,93.5 525.3,92.8 527.2,92.0 529.2,91.2 531.1,90.4 533.1,89.7 535.0,88.9 536.9,88.1 538.8,87.4 540.8,86.6 542.7,85.9 544.6,85.2 546.5,84.4 548.4,83.7 550.3,83.0M384.0,153.6 386.2,152.5 388.4,151.4 390.6,150.4 392.8,149.4 395.0,148.3 397.2,147.3 399.4,146.2 401.6,145.2 403.7,144.2 405.9,143.2 408.1,142.2 410.3,141.1 412.4,140.1 414.6,139.1 416.7,138.1 418.9,137.1 421.0,136.1 423.2,135.2 425.3,134.2 427.5,133.2 429.6,132.2 431.7,131.3 433.9,130.3 436.0,129.3 438.1,128.4 440.2,127.4 442.4,126.5 444.5,125.5 446.6,124.6 448.7,123.6 450.8,122.7 452.9,121.8 455.0,120.9 457.0,119.9 459.1,119.0 461.2,118.1 463.3,117.2 465.3,116.3 467.4,115.4 469.5,114.5 471.5,113.6 473.6,112.7 475.6,111.8 477.7,111.0 479.7,110.1 481.8,109.2 483.8,108.4 485.8,107.5 487.9,106.6 489.9,105.8 491.9,104.9 493.9,104.1 495.9,103.3 497.9,102.4 499.9,101.6 501.9,100.8 503.9,99.9 505.9,99.1 507.9,98.3 509.9,97.5 511.9,96.7 513.9,95.9 515.8,95.1 517.8,94.3 519.8,93.5 521.7,92.7 523.7,92.0 525.6,91.2 527.6,90.4 529.5,89.6 531.4,88.9 533.4,88.1 535.3,87.4 537.2,86.6 539.1,85.9 541.0,85.1 543.0,84.4 544.9,83.7 546.8,83.0 548.7,82.2M382.5,152.5 384.7,151.4 386.9,150.4 389.1,149.3 391.3,148.3 393.5,147.3 395.7,146.2 397.9,145.2 400.0,144.2 402.2,143.1 404.4,142.1 406.6,141.1 408.7,140.1 410.9,139.1 413.0,138.1 415.2,137.1 417.4,136.1 419.5,135.1 421.6,134.1 423.8,133.2 425.9,132.2 428.1,131.2 430.2,130.3 432.3,129.3 434.4,128.3 436.6,127.4 438.7,126.4 440.8,125.5 442.9,124.5 445.0,123.6 447.1,122.7 449.2,121.7 451.3,120.8 453.4,119.9 455.5,119.0 457.5,118.1 459.6,117.2 461.7,116.3 463.8,115.4 465.8,114.5 467.9,113.6 469.9,112.7 472.0,111.8 474.1,110.9 476.1,110.1 478.1,109.2 480.2,108.3 482.2,107.5 484.2,106.6 486.3,105.8 488.3,104.9 490.3,104.1 492.3,103.2 494.3,102.4 496.3,101.6 498.3,100.7 500.3,99.9 502.3,99.1 504.3,98.3 506.3,97.5 508.3,96.7 510.3,95.9 512.2,95.1 514.2,94.3 516.2,93.5 518.1,92.7 520.1,92.0 522.0,91.2 524.0,90.4 525.9,89.6 527.9,88.9 529.8,88.1 531.7,87.4 533.7,86.6 535.6,85.9 537.5,85.2 539.4,84.4 541.3,83.7 543.2,83.0 545.1,82.2 547.0,81.5M381.0,151.4 383.2,150.4 385.4,149.3 387.6,148.3 389.8,147.3 392.0,146.2 394.2,145.2 396.3,144.2 398.5,143.1 400.7,142.1 402.9,141.1 405.0,140.1 407.2,139.1 409.4,138.1 411.5,137.1 413.7,136.1 415.8,135.1 418.0,134.1 420.1,133.2 422.2,132.2 424.4,131.2 426.5,130.3 428.6,129.3 430.8,128.3 432.9,127.4 435.0,126.4 437.1,125.5 439.2,124.5 441.3,123.6 443.4,122.7 445.5,121.7 447.6,120.8 449.7,119.9 451.8,119.0 453.9,118.1 456.0,117.2 458.0,116.3 460.1,115.4 462.2,114.5 464.3,113.6 466.3,112.7 468.4,111.8 470.4,110.9 472.5,110.1 474.5,109.2 476.6,108.3 478.6,107.5 480.6,106.6 482.7,105.8 484.7,104.9 486.7,104.1 488.7,103.2 490.7,102.4 492.7,101.6 494.7,100.8 496.7,99.9 498.7,99.1 500.7,98.3 502.7,97.5 504.7,96.7 506.7,95.9 508.7,95.1 510.6,94.3 512.6,93.5 514.6,92.7 516.5,92.0 518.5,91.2 520.4,90.4 522.4,89.7 524.3,88.9 526.3,88.2 528.2,87.4 530.1,86.7 532.1,85.9 534.0,85.2 535.9,84.4 537.8,83.7 539.7,83.0 541.6,82.3 543.5,81.6 545.4,80.9M379.5,150.4 381.7,149.4 383.9,148.3 386.1,147.3 388.3,146.2 390.5,145.2 392.6,144.2 394.8,143.2 397.0,142.2 399.2,141.1 401.3,140.1 403.5,139.1 405.7,138.1 407.8,137.1 410.0,136.1 412.1,135.1 414.3,134.2 416.4,133.2 418.6,132.2 420.7,131.2 422.8,130.3 425.0,129.3 427.1,128.3 429.2,127.4 431.3,126.4 433.5,125.5 435.6,124.6 437.7,123.6 439.8,122.7 441.9,121.8 444.0,120.8 446.1,119.9 448.2,119.0 450.2,118.1 452.3,117.2 454.4,116.3 456.5,115.4 458.6,114.5 460.6,113.6 462.7,112.7 464.7,111.8 466.8,111.0 468.8,110.1 470.9,109.2 472.9,108.3 475.0,107.5 477.0,106.6 479.0,105.8 481.1,104.9 483.1,104.1 485.1,103.3 487.1,102.4 489.1,101.6 491.1,100.8 493.2,100.0 495.2,99.1 497.1,98.3 499.1,97.5 501.1,96.7 503.1,95.9 505.1,95.1 507.1,94.3 509.0,93.6 511.0,92.8 513.0,92.0 514.9,91.2 516.9,90.5 518.8,89.7 520.8,88.9 522.7,88.2 524.7,87.4 526.6,86.7 528.5,86.0 530.4,85.2 532.4,84.5 534.3,83.8 536.2,83.0 538.1,82.3 540.0,81.6 541.9,80.9 543.8,80.2M378.0,149.4 380.2,148.4 382.4,147.3 384.6,146.3 386.8,145.3 389.0,144.2 391.2,143.2 393.3,142.2 395.5,141.2 397.7,140.2 399.8,139.2 402.0,138.2 404.2,137.2 406.3,136.2 408.5,135.2 410.6,134.2 412.8,133.2 414.9,132.2 417.0,131.3 419.2,130.3 421.3,129.3 423.4,128.4 425.6,127.4 427.7,126.5 429.8,125.5 431.9,124.6 434.0,123.7 436.1,122.7 438.2,121.8 440.3,120.9 442.4,119.9 444.5,119.0 446.6,118.1 448.7,117.2 450.8,116.3 452.9,115.4 454.9,114.5 457.0,113.6 459.1,112.7 461.1,111.9 463.2,111.0 465.2,110.1 467.3,109.2 469.3,108.4 471.4,107.5 473.4,106.7 475.4,105.8 477.5,105.0 479.5,104.1 481.5,103.3 483.5,102.5 485.5,101.6 487.6,100.8 489.6,100.0 491.6,99.2 493.6,98.4 495.6,97.6 497.6,96.8 499.5,96.0 501.5,95.2 503.5,94.4 505.5,93.6 507.4,92.8 509.4,92.1 511.4,91.3 513.3,90.5 515.3,89.8 517.2,89.0 519.2,88.2 521.1,87.5 523.1,86.8 525.0,86.0 526.9,85.3 528.8,84.6 530.8,83.8 532.7,83.1 534.6,82.4 536.5,81.7 538.4,81.0 540.3,80.3 542.2,79.6M376.5,148.4 378.7,147.4 380.9,146.4 383.1,145.3 385.3,144.3 387.5,143.3 389.7,142.3 391.8,141.2 394.0,140.2 396.2,139.2 398.3,138.2 400.5,137.2 402.7,136.2 404.8,135.2 407.0,134.3 409.1,133.3 411.3,132.3 413.4,131.3 415.5,130.4 417.7,129.4 419.8,128.4 421.9,127.5 424.0,126.5 426.2,125.6 428.3,124.6 430.4,123.7 432.5,122.8 434.6,121.8 436.7,120.9 438.8,120.0 440.9,119.1 443.0,118.2 445.1,117.3 447.1,116.4 449.2,115.5 451.3,114.6 453.4,113.7 455.4,112.8 457.5,111.9 459.6,111.0 461.6,110.2 463.7,109.3 465.7,108.4 467.8,107.6 469.8,106.7 471.8,105.9 473.9,105.0 475.9,104.2 477.9,103.4 479.9,102.5 482.0,101.7 484.0,100.9 486.0,100.1 488.0,99.2 490.0,98.4 492.0,97.6 494.0,96.8 496.0,96.0 498.0,95.2 499.9,94.5 501.9,93.7 503.9,92.9 505.9,92.1 507.8,91.4 509.8,90.6 511.7,89.8 513.7,89.1 515.6,88.3 517.6,87.6 519.5,86.8 521.5,86.1 523.4,85.4 525.3,84.6 527.2,83.9 529.2,83.2 531.1,82.5 533.0,81.8 534.9,81.1 536.8,80.4 538.7,79.7 540.6,79.0M375.1,147.5 377.3,146.5 379.5,145.4 381.6,144.4 383.8,143.4 386.0,142.4 388.2,141.3 390.4,140.3 392.5,139.3 394.7,138.3 396.9,137.3 399.0,136.3 401.2,135.3 403.3,134.3 405.5,133.4 407.6,132.4 409.8,131.4 411.9,130.4 414.0,129.5 416.2,128.5 418.3,127.6 420.4,126.6 422.5,125.7 424.6,124.7 426.8,123.8 428.9,122.9 431.0,121.9 433.1,121.0 435.2,120.1 437.3,119.2 439.4,118.3 441.4,117.3 443.5,116.4 445.6,115.5 447.7,114.7 449.8,113.8 451.8,112.9 453.9,112.0 456.0,111.1 458.0,110.3 460.1,109.4 462.1,108.5 464.2,107.7 466.2,106.8 468.2,106.0 470.3,105.1 472.3,104.3 474.3,103.4 476.4,102.6 478.4,101.8 480.4,101.0 482.4,100.1 484.4,99.3 486.4,98.5 488.4,97.7 490.4,96.9 492.4,96.1 494.4,95.3 496.4,94.5 498.4,93.8 500.3,93.0 502.3,92.2 504.3,91.4 506.2,90.7 508.2,89.9 510.2,89.2 512.1,88.4 514.1,87.7 516.0,86.9 517.9,86.2 519.9,85.5 521.8,84.7 523.7,84.0 525.7,83.3 527.6,82.6 529.5,81.9 531.4,81.2 533.3,80.5 535.2,79.8 537.1,79.1 539.0,78.4M373.6,146.6 375.8,145.5 378.0,144.5 380.2,143.5 382.4,142.5 384.5,141.5 386.7,140.4 388.9,139.4 391.0,138.4 393.2,137.4 395.4,136.4 397.5,135.4 399.7,134.5 401.8,133.5 404.0,132.5 406.1,131.5 408.3,130.5 410.4,129.6 412.5,128.6 414.7,127.7 416.8,126.7 418.9,125.8 421.0,124.8 423.1,123.9 425.2,123.0 427.4,122.0 429.5,121.1 431.6,120.2 433.7,119.3 435.7,118.4 437.8,117.4 439.9,116.5 442.0,115.6 444.1,114.8 446.2,113.9 448.2,113.0 450.3,112.1 452.4,111.2 454.4,110.3 456.5,109.5 458.5,108.6 460.6,107.8 462.6,106.9 464.7,106.1 466.7,105.2 468.7,104.4 470.8,103.5 472.8,102.7 474.8,101.9 476.8,101.1 478.8,100.2 480.9,99.4 482.9,98.6 484.9,97.8 486.9,97.0 488.9,96.2 490.8,95.4 492.8,94.6 494.8,93.9 496.8,93.1 498.8,92.3 500.7,91.6 502.7,90.8 504.7,90.0 506.6,89.3 508.6,88.5 510.5,87.8 512.5,87.0 514.4,86.3 516.4,85.6 518.3,84.9 520.2,84.1 522.1,83.4 524.1,82.7 526.0,82.0 527.9,81.3 529.8,80.6 531.7,79.9 533.6,79.2 535.5,78.5 537.4,77.8" fill="none" stroke="#000" stroke-opacity="0.6" stroke-width="0.7"/>
<circle cx="460.6" cy="107.6" r="2.6" fill="#d00000" stroke="#500" stroke-width="0.6"/>
<circle cx="603.3" cy="117.3" r="2.6" fill="#d00000" stroke="#500" stroke-width="0.6"/>
<circle cx="594.8" cy="240.2" r="2.6" fill="#d00000" stroke="#500" stroke-width="0.6"/>
<circle cx="507.6" cy="291.2" r="2.6" fill="#d00000" stroke="#500" stroke-width="0.6"/>
<circle cx="524.5" cy="154.2" r="2.6" fill="#d00000" stroke="#500" stroke-width="0.6"/>
<polyline points="392.5,225.9 510.6,371.5 658.2,250.4" fill="none" stroke="#222" stroke-width="0.8"/>
<circle cx="387.0" cy="201.9" r="1.1" fill="#111"/>
<text x="375.3" y="199.8" font-family="Liberation Sans, sans-serif" font-size="11" fill="#333" text-anchor="middle">30</text>
<circle cx="382.2" cy="180.9" r="1.1" fill="#111"/>
<text x="370.5" y="178.8" font-family="Liberation Sans, sans-serif" font-size="11" fill="#333" text-anchor="middle">35</text>
<circle cx="377.3" cy="159.9" r="1.1" fill="#111"/>
<text x="365.6" y="157.8" font-family="Liberation Sans, sans-serif" font-size="11" fill="#333" text-anchor="middle">40</text>
<circle cx="372.5" cy="138.9" r="1.1" fill="#111"/>
<text x="360.8" y="136.8" font-family="Liberation Sans, sans-serif" font-size="11" fill="#333" text-anchor="middle">45</text>
<circle cx="367.6" cy="117.9" r="1.1" fill="#111"/>
<text x="355.9" y="115.8" font-family="Liberation Sans, sans-serif" font-size="11" fill="#333" text-anchor="middle">50</text>
<circle cx="392.5" cy="225.9" r="1.1" fill="#111"/>
<text x="382.7" y="235.9" font-family="Liberation Sans, sans-serif" font-size="11" fill="#333" text-anchor="middle">2</text>
<circle cx="415.4" cy="254.4" r="1.1" fill="#111"/>
<text x="402.2" y="264.9" font-family="Liberation Sans, sans-serif" font-size="11" fill="#333" text-anchor="middle">1.8</text>
<circle cx="438.6" cy="283.3" r="1.1" fill="#111"/>
<text x="426.0" y="294.6" font-family="Liberation Sans, sans-serif" font-size="11" fill="#333" text-anchor="middle">1.6</text>
<circle cx="462.3" cy="312.4" r="1.1" fill="#111"/>
<text x="449.9" y="323.9" font-family="Liberation Sans, sans-serif" font-size="11" fill="#333" text-anchor="middle">1.4</text>
<circle cx="486.2" cy="341.8" r="1.1" fill="#111"/>
<text x="473.8" y="352.9" font-family="Liberation Sans, sans-serif" font-size="11" fill="#333" text-anchor="middle">1.2</text>
<circle cx="510.6" cy="371.5" r="1.1" fill="#111"/>
<text x="501.5" y="382.1" font-family="Liberation Sans, sans-serif" font-size="11" fill="#333" text-anchor="middle">1</text>
<circle cx="510.6" cy="371.5" r="1.1" fill="#111"/>
<text x="522.0" y="381.9" font-family="Liberation Sans, sans-serif" font-size="11" fill="#333" text-anchor="middle">10</text>
<circle cx="548.2" cy="340.9" r="1.1" fill="#111"/>
<text x="558.6" y="351.7" font-family="Liberation Sans, sans-serif" font-size="11" fill="#333" text-anchor="middle">15</text>
<circle cx="585.4" cy="310.5" r="1.1" fill="#111"/>
<text x="595.8" y="321.7" font-family="Liberation Sans, sans-serif" font-size="11" fill="#333" text-anchor="middle">20</text>
<circle cx="622.0" cy="280.3" r="1.1" fill="#111"/>
<text x="633.1" y="291.4" font-family="Liberation Sans, sans-serif" font-size="11" fill="#333" text-anchor="middle">25</text>
<circle cx="658.2" cy="250.4" r="1.1" fill="#111"/>
<text x="670.0" y="260.8" font-family="Liberation Sans, sans-serif" font-size="11" fill="#333" text-anchor="middle">30</text>
<text x="367.7" y="345.2" font-family="Liberation Sans, sans-serif" font-size="14" fill="#222" textLength="68.8" lengthAdjust="spacingAndGlyphs">B: PVA (%)</text>
<text x="594.7" y="367.6" font-family="Liberation Sans, sans-serif" font-size="14" fill="#222" textLength="61.8" lengthAdjust="spacingAndGlyphs">A: CR (%)</text>
<text transform="translate(337.2,208.4) rotate(-90)" x="0" y="0" font-family="Liberation Sans, sans-serif" font-size="14.3" fill="#222" textLength="64" lengthAdjust="spacingAndGlyphs">CS (MPa)</text>
<text x="505" y="404.4" font-family="Liberation Serif, serif" font-size="13.7" font-weight="bold" fill="#111" text-anchor="middle">(b)</text>
</svg></body></html>
